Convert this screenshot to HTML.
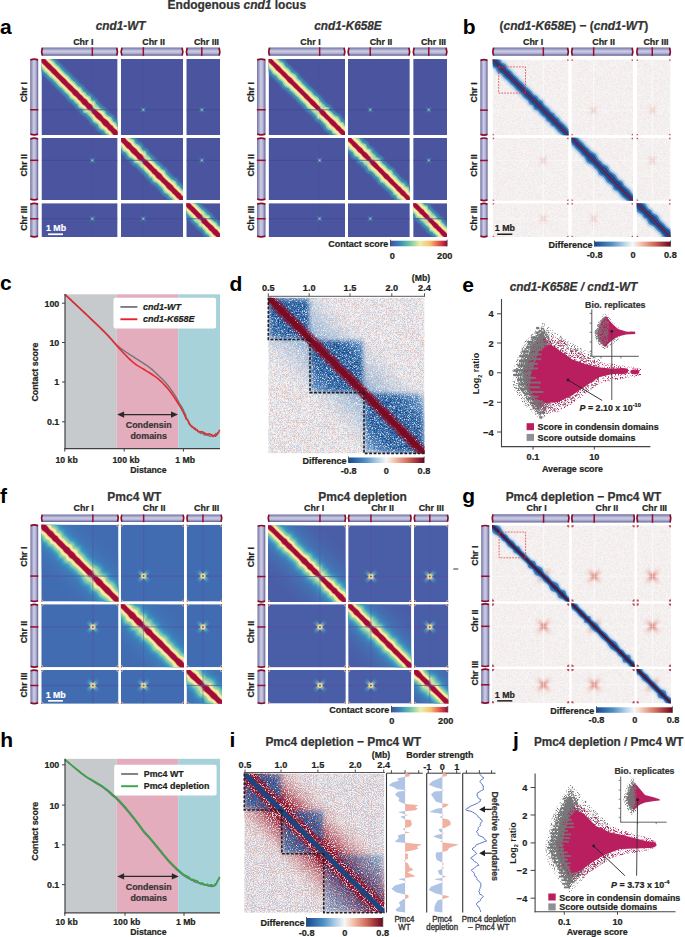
<!DOCTYPE html>
<html><head><meta charset="utf-8"><style>
html,body{margin:0;padding:0;background:#fff;width:685px;height:937px;overflow:hidden}
svg{display:block}
text{font-family:"Liberation Sans", sans-serif}
</style></head><body>
<svg width="685" height="937" viewBox="0 0 685 937">
<defs>
<linearGradient id="barH" x1="0" y1="0" x2="0" y2="1">
<stop offset="0" stop-color="#6e6e9c"/><stop offset="0.2" stop-color="#9c9cc4"/><stop offset="0.45" stop-color="#cdcde6"/><stop offset="0.7" stop-color="#b4b4d6"/><stop offset="1" stop-color="#5e5e90"/></linearGradient>
<linearGradient id="barV" x1="0" y1="0" x2="1" y2="0">
<stop offset="0" stop-color="#6e6e9c"/><stop offset="0.2" stop-color="#9c9cc4"/><stop offset="0.45" stop-color="#cdcde6"/><stop offset="0.7" stop-color="#b4b4d6"/><stop offset="1" stop-color="#5e5e90"/></linearGradient>
<linearGradient id="cbSpec" x1="0" y1="0" x2="1" y2="0">
<stop offset="0" stop-color="#4a4f9e"/><stop offset="0.15" stop-color="#3585bb"/><stop offset="0.33" stop-color="#6cc3a6"/><stop offset="0.52" stop-color="#eeeeaa"/><stop offset="0.7" stop-color="#f7c070"/><stop offset="0.85" stop-color="#e25a48"/><stop offset="1" stop-color="#a1063f"/></linearGradient>
<linearGradient id="cbDiff" x1="0" y1="0" x2="1" y2="0">
<stop offset="0" stop-color="#174a8f"/><stop offset="0.22" stop-color="#4f8fc4"/><stop offset="0.4" stop-color="#bcd6ea"/><stop offset="0.5" stop-color="#f7f7f7"/><stop offset="0.6" stop-color="#f4c8b4"/><stop offset="0.78" stop-color="#d46e5c"/><stop offset="1" stop-color="#6f0420"/></linearGradient>
<filter id="bl3" x="-20%" y="-20%" width="140%" height="140%"><feGaussianBlur stdDeviation="0.35"/></filter>
<filter id="bl6" x="-20%" y="-20%" width="140%" height="140%"><feGaussianBlur stdDeviation="0.6"/></filter>
<filter id="bl10" x="-20%" y="-20%" width="140%" height="140%"><feGaussianBlur stdDeviation="1.0"/></filter>
<filter id="bl16" x="-20%" y="-20%" width="140%" height="140%"><feGaussianBlur stdDeviation="1.6"/></filter>
<filter id="noiseR" x="0" y="0" width="1" height="1" color-interpolation-filters="sRGB"><feTurbulence type="fractalNoise" baseFrequency="1.5" numOctaves="3" seed="3" result="n"/><feColorMatrix in="n" type="matrix" values="0 0 0 0 0  0 0 0 0 0  0 0 0 0 0  4 0 0 0 -1.75" result="m"/><feComposite in="SourceGraphic" in2="m" operator="in"/></filter>
<filter id="noiseB" x="0" y="0" width="1" height="1" color-interpolation-filters="sRGB"><feTurbulence type="fractalNoise" baseFrequency="1.5" numOctaves="3" seed="8" result="n"/><feColorMatrix in="n" type="matrix" values="0 0 0 0 0  0 0 0 0 0  0 0 0 0 0  4 0 0 0 -1.6" result="m"/><feComposite in="SourceGraphic" in2="m" operator="in"/></filter>
<filter id="noiseE" x="0" y="0" width="1" height="1" color-interpolation-filters="sRGB"><feTurbulence type="fractalNoise" baseFrequency="1.5" numOctaves="3" seed="13" result="n"/><feColorMatrix in="n" type="matrix" values="0 0 0 0 0  0 0 0 0 0  0 0 0 0 0  3 0 0 0 -0.8" result="m"/><feComposite in="SourceGraphic" in2="m" operator="in"/></filter>
<clipPath id="c1"><rect x="41.50" y="59.00" width="76.10" height="76.00"/></clipPath>
<linearGradient id="g2" gradientUnits="userSpaceOnUse" x1="70.36" y1="106.19" x2="88.74" y2="87.81"><stop offset="0.0000" stop-color="#4b559f" stop-opacity="0"/><stop offset="0.1923" stop-color="#3f8cb8" stop-opacity="0.45"/><stop offset="0.5000" stop-color="#3f8cb8" stop-opacity="0.6"/><stop offset="0.8077" stop-color="#3f8cb8" stop-opacity="0.45"/><stop offset="1.0000" stop-color="#4b559f" stop-opacity="0"/></linearGradient>
<radialGradient id="r3"><stop offset="0" stop-color="#f0eca0" stop-opacity="0.9"/><stop offset="0.5" stop-color="#9ad4a0" stop-opacity="0.55"/><stop offset="1" stop-color="#3a9cc4" stop-opacity="0"/></radialGradient>
<clipPath id="c4"><rect x="121.00" y="59.00" width="62.00" height="76.00"/></clipPath>
<radialGradient id="r5"><stop offset="0" stop-color="#c8e8a0" stop-opacity="0.9"/><stop offset="0.35" stop-color="#48a8b4" stop-opacity="0.55"/><stop offset="1" stop-color="#4a70b0" stop-opacity="0"/></radialGradient>
<clipPath id="c6"><rect x="186.30" y="59.00" width="33.70" height="76.00"/></clipPath>
<radialGradient id="r7"><stop offset="0" stop-color="#c8e8a0" stop-opacity="0.9"/><stop offset="0.35" stop-color="#48a8b4" stop-opacity="0.55"/><stop offset="1" stop-color="#4a70b0" stop-opacity="0"/></radialGradient>
<clipPath id="c8"><rect x="41.50" y="138.00" width="76.10" height="62.00"/></clipPath>
<radialGradient id="r9"><stop offset="0" stop-color="#c8e8a0" stop-opacity="0.9"/><stop offset="0.35" stop-color="#48a8b4" stop-opacity="0.55"/><stop offset="1" stop-color="#4a70b0" stop-opacity="0"/></radialGradient>
<clipPath id="c10"><rect x="121.00" y="138.00" width="62.00" height="62.00"/></clipPath>
<linearGradient id="g11" gradientUnits="userSpaceOnUse" x1="142.81" y1="178.19" x2="161.19" y2="159.81"><stop offset="0.0000" stop-color="#4b559f" stop-opacity="0"/><stop offset="0.1923" stop-color="#3f8cb8" stop-opacity="0.45"/><stop offset="0.5000" stop-color="#3f8cb8" stop-opacity="0.6"/><stop offset="0.8077" stop-color="#3f8cb8" stop-opacity="0.45"/><stop offset="1.0000" stop-color="#4b559f" stop-opacity="0"/></linearGradient>
<radialGradient id="r12"><stop offset="0" stop-color="#f0eca0" stop-opacity="0.9"/><stop offset="0.5" stop-color="#9ad4a0" stop-opacity="0.55"/><stop offset="1" stop-color="#3a9cc4" stop-opacity="0"/></radialGradient>
<clipPath id="c13"><rect x="186.30" y="138.00" width="33.70" height="62.00"/></clipPath>
<radialGradient id="r14"><stop offset="0" stop-color="#c8e8a0" stop-opacity="0.9"/><stop offset="0.35" stop-color="#48a8b4" stop-opacity="0.55"/><stop offset="1" stop-color="#4a70b0" stop-opacity="0"/></radialGradient>
<clipPath id="c15"><rect x="41.50" y="203.20" width="76.10" height="33.80"/></clipPath>
<radialGradient id="r16"><stop offset="0" stop-color="#c8e8a0" stop-opacity="0.9"/><stop offset="0.35" stop-color="#48a8b4" stop-opacity="0.55"/><stop offset="1" stop-color="#4a70b0" stop-opacity="0"/></radialGradient>
<clipPath id="c17"><rect x="121.00" y="203.20" width="62.00" height="33.80"/></clipPath>
<radialGradient id="r18"><stop offset="0" stop-color="#c8e8a0" stop-opacity="0.9"/><stop offset="0.35" stop-color="#48a8b4" stop-opacity="0.55"/><stop offset="1" stop-color="#4a70b0" stop-opacity="0"/></radialGradient>
<clipPath id="c19"><rect x="186.30" y="203.20" width="33.70" height="33.80"/></clipPath>
<linearGradient id="g20" gradientUnits="userSpaceOnUse" x1="193.96" y1="229.29" x2="212.34" y2="210.91"><stop offset="0.0000" stop-color="#4b559f" stop-opacity="0"/><stop offset="0.1923" stop-color="#3f8cb8" stop-opacity="0.45"/><stop offset="0.5000" stop-color="#3f8cb8" stop-opacity="0.6"/><stop offset="0.8077" stop-color="#3f8cb8" stop-opacity="0.45"/><stop offset="1.0000" stop-color="#4b559f" stop-opacity="0"/></linearGradient>
<radialGradient id="r21"><stop offset="0" stop-color="#f0eca0" stop-opacity="0.9"/><stop offset="0.5" stop-color="#9ad4a0" stop-opacity="0.55"/><stop offset="1" stop-color="#3a9cc4" stop-opacity="0"/></radialGradient>
<clipPath id="c22"><rect x="268.60" y="59.00" width="76.40" height="76.00"/></clipPath>
<linearGradient id="g23" gradientUnits="userSpaceOnUse" x1="297.61" y1="106.19" x2="315.99" y2="87.81"><stop offset="0.0000" stop-color="#4b559f" stop-opacity="0"/><stop offset="0.1923" stop-color="#3f8cb8" stop-opacity="0.45"/><stop offset="0.5000" stop-color="#3f8cb8" stop-opacity="0.6"/><stop offset="0.8077" stop-color="#3f8cb8" stop-opacity="0.45"/><stop offset="1.0000" stop-color="#4b559f" stop-opacity="0"/></linearGradient>
<radialGradient id="r24"><stop offset="0" stop-color="#f0eca0" stop-opacity="0.9"/><stop offset="0.5" stop-color="#9ad4a0" stop-opacity="0.55"/><stop offset="1" stop-color="#3a9cc4" stop-opacity="0"/></radialGradient>
<clipPath id="c25"><rect x="348.00" y="59.00" width="61.80" height="76.00"/></clipPath>
<radialGradient id="r26"><stop offset="0" stop-color="#c8e8a0" stop-opacity="0.9"/><stop offset="0.35" stop-color="#48a8b4" stop-opacity="0.55"/><stop offset="1" stop-color="#4a70b0" stop-opacity="0"/></radialGradient>
<clipPath id="c27"><rect x="413.20" y="59.00" width="33.80" height="76.00"/></clipPath>
<radialGradient id="r28"><stop offset="0" stop-color="#c8e8a0" stop-opacity="0.9"/><stop offset="0.35" stop-color="#48a8b4" stop-opacity="0.55"/><stop offset="1" stop-color="#4a70b0" stop-opacity="0"/></radialGradient>
<clipPath id="c29"><rect x="268.60" y="138.00" width="76.40" height="62.00"/></clipPath>
<radialGradient id="r30"><stop offset="0" stop-color="#c8e8a0" stop-opacity="0.9"/><stop offset="0.35" stop-color="#48a8b4" stop-opacity="0.55"/><stop offset="1" stop-color="#4a70b0" stop-opacity="0"/></radialGradient>
<clipPath id="c31"><rect x="348.00" y="138.00" width="61.80" height="62.00"/></clipPath>
<linearGradient id="g32" gradientUnits="userSpaceOnUse" x1="369.71" y1="178.19" x2="388.09" y2="159.81"><stop offset="0.0000" stop-color="#4b559f" stop-opacity="0"/><stop offset="0.1923" stop-color="#3f8cb8" stop-opacity="0.45"/><stop offset="0.5000" stop-color="#3f8cb8" stop-opacity="0.6"/><stop offset="0.8077" stop-color="#3f8cb8" stop-opacity="0.45"/><stop offset="1.0000" stop-color="#4b559f" stop-opacity="0"/></linearGradient>
<radialGradient id="r33"><stop offset="0" stop-color="#f0eca0" stop-opacity="0.9"/><stop offset="0.5" stop-color="#9ad4a0" stop-opacity="0.55"/><stop offset="1" stop-color="#3a9cc4" stop-opacity="0"/></radialGradient>
<clipPath id="c34"><rect x="413.20" y="138.00" width="33.80" height="62.00"/></clipPath>
<radialGradient id="r35"><stop offset="0" stop-color="#c8e8a0" stop-opacity="0.9"/><stop offset="0.35" stop-color="#48a8b4" stop-opacity="0.55"/><stop offset="1" stop-color="#4a70b0" stop-opacity="0"/></radialGradient>
<clipPath id="c36"><rect x="268.60" y="203.20" width="76.40" height="33.80"/></clipPath>
<radialGradient id="r37"><stop offset="0" stop-color="#c8e8a0" stop-opacity="0.9"/><stop offset="0.35" stop-color="#48a8b4" stop-opacity="0.55"/><stop offset="1" stop-color="#4a70b0" stop-opacity="0"/></radialGradient>
<clipPath id="c38"><rect x="348.00" y="203.20" width="61.80" height="33.80"/></clipPath>
<radialGradient id="r39"><stop offset="0" stop-color="#c8e8a0" stop-opacity="0.9"/><stop offset="0.35" stop-color="#48a8b4" stop-opacity="0.55"/><stop offset="1" stop-color="#4a70b0" stop-opacity="0"/></radialGradient>
<clipPath id="c40"><rect x="413.20" y="203.20" width="33.80" height="33.80"/></clipPath>
<linearGradient id="g41" gradientUnits="userSpaceOnUse" x1="420.91" y1="229.29" x2="439.29" y2="210.91"><stop offset="0.0000" stop-color="#4b559f" stop-opacity="0"/><stop offset="0.1923" stop-color="#3f8cb8" stop-opacity="0.45"/><stop offset="0.5000" stop-color="#3f8cb8" stop-opacity="0.6"/><stop offset="0.8077" stop-color="#3f8cb8" stop-opacity="0.45"/><stop offset="1.0000" stop-color="#4b559f" stop-opacity="0"/></linearGradient>
<radialGradient id="r42"><stop offset="0" stop-color="#f0eca0" stop-opacity="0.9"/><stop offset="0.5" stop-color="#9ad4a0" stop-opacity="0.55"/><stop offset="1" stop-color="#3a9cc4" stop-opacity="0"/></radialGradient>
<clipPath id="c43"><rect x="492.70" y="59.50" width="75.80" height="75.80"/></clipPath>
<radialGradient id="r44"><stop offset="0" stop-color="#b83030" stop-opacity="0.4"/><stop offset="0.25" stop-color="#d85a48" stop-opacity="0.27999999999999997"/><stop offset="0.6" stop-color="#e89080" stop-opacity="0.12"/><stop offset="1" stop-color="#f0b0a0" stop-opacity="0"/></radialGradient>
<clipPath id="c45"><rect x="571.50" y="59.50" width="61.50" height="75.80"/></clipPath>
<radialGradient id="r46"><stop offset="0" stop-color="#b83030" stop-opacity="0.4"/><stop offset="0.25" stop-color="#d85a48" stop-opacity="0.27999999999999997"/><stop offset="0.6" stop-color="#e89080" stop-opacity="0.12"/><stop offset="1" stop-color="#f0b0a0" stop-opacity="0"/></radialGradient>
<clipPath id="c47"><rect x="636.70" y="59.50" width="33.80" height="75.80"/></clipPath>
<radialGradient id="r48"><stop offset="0" stop-color="#b83030" stop-opacity="0.4"/><stop offset="0.25" stop-color="#d85a48" stop-opacity="0.27999999999999997"/><stop offset="0.6" stop-color="#e89080" stop-opacity="0.12"/><stop offset="1" stop-color="#f0b0a0" stop-opacity="0"/></radialGradient>
<clipPath id="c49"><rect x="492.70" y="137.80" width="75.80" height="63.00"/></clipPath>
<radialGradient id="r50"><stop offset="0" stop-color="#b83030" stop-opacity="0.4"/><stop offset="0.25" stop-color="#d85a48" stop-opacity="0.27999999999999997"/><stop offset="0.6" stop-color="#e89080" stop-opacity="0.12"/><stop offset="1" stop-color="#f0b0a0" stop-opacity="0"/></radialGradient>
<clipPath id="c51"><rect x="571.50" y="137.80" width="61.50" height="63.00"/></clipPath>
<radialGradient id="r52"><stop offset="0" stop-color="#b83030" stop-opacity="0.4"/><stop offset="0.25" stop-color="#d85a48" stop-opacity="0.27999999999999997"/><stop offset="0.6" stop-color="#e89080" stop-opacity="0.12"/><stop offset="1" stop-color="#f0b0a0" stop-opacity="0"/></radialGradient>
<clipPath id="c53"><rect x="636.70" y="137.80" width="33.80" height="63.00"/></clipPath>
<radialGradient id="r54"><stop offset="0" stop-color="#b83030" stop-opacity="0.4"/><stop offset="0.25" stop-color="#d85a48" stop-opacity="0.27999999999999997"/><stop offset="0.6" stop-color="#e89080" stop-opacity="0.12"/><stop offset="1" stop-color="#f0b0a0" stop-opacity="0"/></radialGradient>
<clipPath id="c55"><rect x="492.70" y="203.20" width="75.80" height="33.80"/></clipPath>
<radialGradient id="r56"><stop offset="0" stop-color="#b83030" stop-opacity="0.4"/><stop offset="0.25" stop-color="#d85a48" stop-opacity="0.27999999999999997"/><stop offset="0.6" stop-color="#e89080" stop-opacity="0.12"/><stop offset="1" stop-color="#f0b0a0" stop-opacity="0"/></radialGradient>
<clipPath id="c57"><rect x="571.50" y="203.20" width="61.50" height="33.80"/></clipPath>
<radialGradient id="r58"><stop offset="0" stop-color="#b83030" stop-opacity="0.4"/><stop offset="0.25" stop-color="#d85a48" stop-opacity="0.27999999999999997"/><stop offset="0.6" stop-color="#e89080" stop-opacity="0.12"/><stop offset="1" stop-color="#f0b0a0" stop-opacity="0"/></radialGradient>
<clipPath id="c59"><rect x="636.70" y="203.20" width="33.80" height="33.80"/></clipPath>
<radialGradient id="r60"><stop offset="0" stop-color="#b83030" stop-opacity="0.4"/><stop offset="0.25" stop-color="#d85a48" stop-opacity="0.27999999999999997"/><stop offset="0.6" stop-color="#e89080" stop-opacity="0.12"/><stop offset="1" stop-color="#f0b0a0" stop-opacity="0"/></radialGradient>
<filter id="spkB" x="0" y="0" width="1" height="1" color-interpolation-filters="sRGB"><feTurbulence type="fractalNoise" baseFrequency="1.5" numOctaves="3" seed="11" result="n"/><feColorMatrix in="n" type="matrix" values="0 0 0 0 0  0 0 0 0 0  0 0 0 0 0  4 0 0 0 -1.75" result="m"/><feComposite in="SourceGraphic" in2="m" operator="in"/></filter>
<filter id="spkR" x="0" y="0" width="1" height="1" color-interpolation-filters="sRGB"><feTurbulence type="fractalNoise" baseFrequency="1.5" numOctaves="3" seed="23" result="n"/><feColorMatrix in="n" type="matrix" values="0 0 0 0 0  0 0 0 0 0  0 0 0 0 0  4 0 0 0 -1.85" result="m"/><feComposite in="SourceGraphic" in2="m" operator="in"/></filter>
<filter id="spkB2" x="0" y="0" width="1" height="1" color-interpolation-filters="sRGB"><feTurbulence type="fractalNoise" baseFrequency="1.5" numOctaves="3" seed="5" result="n"/><feColorMatrix in="n" type="matrix" values="0 0 0 0 0  0 0 0 0 0  0 0 0 0 0  4 0 0 0 -1.2" result="m"/><feComposite in="SourceGraphic" in2="m" operator="in"/></filter>
<filter id="spkB3" x="0" y="0" width="1" height="1" color-interpolation-filters="sRGB"><feTurbulence type="fractalNoise" baseFrequency="1.5" numOctaves="3" seed="7" result="n"/><feColorMatrix in="n" type="matrix" values="0 0 0 0 0  0 0 0 0 0  0 0 0 0 0  6 0 0 0 -2.3" result="m"/><feComposite in="SourceGraphic" in2="m" operator="in"/></filter>
<filter id="spkR3" x="0" y="0" width="1" height="1" color-interpolation-filters="sRGB"><feTurbulence type="fractalNoise" baseFrequency="1.5" numOctaves="3" seed="37" result="n"/><feColorMatrix in="n" type="matrix" values="0 0 0 0 0  0 0 0 0 0  0 0 0 0 0  5 0 0 0 -1.6" result="m"/><feComposite in="SourceGraphic" in2="m" operator="in"/></filter>
<filter id="spkB4" x="0" y="0" width="1" height="1" color-interpolation-filters="sRGB"><feTurbulence type="fractalNoise" baseFrequency="0.95" numOctaves="3" seed="51" result="n"/><feColorMatrix in="n" type="matrix" values="0 0 0 0 0  0 0 0 0 0  0 0 0 0 0  6 0 0 0 -2.3" result="m"/><feComposite in="SourceGraphic" in2="m" operator="in"/></filter>
<filter id="spkB5" x="0" y="0" width="1" height="1" color-interpolation-filters="sRGB"><feTurbulence type="fractalNoise" baseFrequency="0.95" numOctaves="3" seed="53" result="n"/><feColorMatrix in="n" type="matrix" values="0 0 0 0 0  0 0 0 0 0  0 0 0 0 0  4 0 0 0 -1.75" result="m"/><feComposite in="SourceGraphic" in2="m" operator="in"/></filter>
<filter id="spkR4" x="0" y="0" width="1" height="1" color-interpolation-filters="sRGB"><feTurbulence type="fractalNoise" baseFrequency="0.95" numOctaves="3" seed="57" result="n"/><feColorMatrix in="n" type="matrix" values="0 0 0 0 0  0 0 0 0 0  0 0 0 0 0  5 0 0 0 -1.6" result="m"/><feComposite in="SourceGraphic" in2="m" operator="in"/></filter>
<filter id="spkR5" x="0" y="0" width="1" height="1" color-interpolation-filters="sRGB"><feTurbulence type="fractalNoise" baseFrequency="0.95" numOctaves="3" seed="59" result="n"/><feColorMatrix in="n" type="matrix" values="0 0 0 0 0  0 0 0 0 0  0 0 0 0 0  4 0 0 0 -1.85" result="m"/><feComposite in="SourceGraphic" in2="m" operator="in"/></filter>
<filter id="spkB6" x="0" y="0" width="1" height="1" color-interpolation-filters="sRGB"><feTurbulence type="fractalNoise" baseFrequency="0.95" numOctaves="3" seed="61" result="n"/><feColorMatrix in="n" type="matrix" values="0 0 0 0 0  0 0 0 0 0  0 0 0 0 0  4 0 0 0 -1.75" result="m"/><feComposite in="SourceGraphic" in2="m" operator="in"/></filter>
<filter id="spkR2" x="0" y="0" width="1" height="1" color-interpolation-filters="sRGB"><feTurbulence type="fractalNoise" baseFrequency="1.5" numOctaves="3" seed="41" result="n"/><feColorMatrix in="n" type="matrix" values="0 0 0 0 0  0 0 0 0 0  0 0 0 0 0  4 0 0 0 -1.2" result="m"/><feComposite in="SourceGraphic" in2="m" operator="in"/></filter>
<filter id="spkM" x="0" y="0" width="1" height="1" color-interpolation-filters="sRGB"><feTurbulence type="fractalNoise" baseFrequency="1.3" numOctaves="3" seed="17" result="n"/><feColorMatrix in="n" type="matrix" values="0 0 0 0 0  0 0 0 0 0  0 0 0 0 0  5 0 0 0 -1.8" result="m"/><feComposite in="SourceGraphic" in2="m" operator="in"/></filter>
<filter id="spkG" x="0" y="0" width="1" height="1" color-interpolation-filters="sRGB"><feTurbulence type="fractalNoise" baseFrequency="1.3" numOctaves="3" seed="29" result="n"/><feColorMatrix in="n" type="matrix" values="0 0 0 0 0  0 0 0 0 0  0 0 0 0 0  5 0 0 0 -1.8" result="m"/><feComposite in="SourceGraphic" in2="m" operator="in"/></filter>
<filter id="spkMs" x="0" y="0" width="1" height="1" color-interpolation-filters="sRGB"><feTurbulence type="fractalNoise" baseFrequency="1.3" numOctaves="3" seed="19" result="n"/><feColorMatrix in="n" type="matrix" values="0 0 0 0 0  0 0 0 0 0  0 0 0 0 0  5 0 0 0 -2.5" result="m"/><feComposite in="SourceGraphic" in2="m" operator="in"/></filter>
<filter id="spkGs" x="0" y="0" width="1" height="1" color-interpolation-filters="sRGB"><feTurbulence type="fractalNoise" baseFrequency="1.3" numOctaves="3" seed="31" result="n"/><feColorMatrix in="n" type="matrix" values="0 0 0 0 0  0 0 0 0 0  0 0 0 0 0  5 0 0 0 -2.5" result="m"/><feComposite in="SourceGraphic" in2="m" operator="in"/></filter>
<clipPath id="c61"><rect x="268.3" y="297.7" width="156.20" height="155.70"/></clipPath>
<linearGradient id="g62" gradientUnits="userSpaceOnUse" x1="316.70" y1="405.25" x2="376.10" y2="345.85"><stop offset="0.0000" stop-color="#a0c0e0" stop-opacity="0"/><stop offset="0.2619" stop-color="#7aa8d4" stop-opacity="0.45"/><stop offset="0.5000" stop-color="#5a94cc" stop-opacity="0.8"/><stop offset="0.7381" stop-color="#7aa8d4" stop-opacity="0.45"/><stop offset="1.0000" stop-color="#a0c0e0" stop-opacity="0"/></linearGradient>
<filter id="mf64" x="-20%" y="-20%" width="140%" height="140%"><feGaussianBlur stdDeviation="2.2"/></filter>
<mask id="m63" maskUnits="userSpaceOnUse" x="258.3" y="287.7" width="176.2" height="175.7"><g filter="url(#mf64)"><rect x="269.3" y="298.7" width="39.70" height="39.80" fill="#fff"/><rect x="311.0" y="340.5" width="52.00" height="51.10" fill="#fff"/><rect x="365.0" y="393.6" width="58.50" height="58.80" fill="#fff"/></g></mask>
<linearGradient id="g65" gradientUnits="userSpaceOnUse" x1="314.58" y1="407.37" x2="378.22" y2="343.73"><stop offset="0.0000" stop-color="#c8dcee" stop-opacity="0.2"/><stop offset="0.2222" stop-color="#b8d0e8" stop-opacity="0.5"/><stop offset="0.5000" stop-color="#b0cce6" stop-opacity="0.7"/><stop offset="0.7778" stop-color="#b8d0e8" stop-opacity="0.5"/><stop offset="1.0000" stop-color="#c8dcee" stop-opacity="0.2"/></linearGradient>
<linearGradient id="g66" gradientUnits="userSpaceOnUse" x1="314.58" y1="407.37" x2="378.22" y2="343.73"><stop offset="0.0000" stop-color="#5a90c8" stop-opacity="0.45"/><stop offset="0.1444" stop-color="#3a78b8" stop-opacity="0.8"/><stop offset="0.2778" stop-color="#2f6aac" stop-opacity="1"/><stop offset="0.5000" stop-color="#2a64a8" stop-opacity="1"/><stop offset="0.7222" stop-color="#2f6aac" stop-opacity="1"/><stop offset="0.8556" stop-color="#3a78b8" stop-opacity="0.8"/><stop offset="1.0000" stop-color="#5a90c8" stop-opacity="0.45"/></linearGradient>
<linearGradient id="g67" gradientUnits="userSpaceOnUse" x1="316.70" y1="405.25" x2="376.10" y2="345.85"><stop offset="0.0000" stop-color="#2a64a6" stop-opacity="0.1"/><stop offset="0.1429" stop-color="#1d5599" stop-opacity="0.5"/><stop offset="0.2857" stop-color="#134280" stop-opacity="0.85"/><stop offset="0.5000" stop-color="#0f3876" stop-opacity="1"/><stop offset="0.7143" stop-color="#134280" stop-opacity="0.85"/><stop offset="0.8571" stop-color="#1d5599" stop-opacity="0.5"/><stop offset="1.0000" stop-color="#2a64a6" stop-opacity="0.1"/></linearGradient>
<linearGradient id="g68" gradientUnits="userSpaceOnUse" x1="341.80" y1="380.15" x2="351.00" y2="370.95"><stop offset="0.0000" stop-color="#b03040" stop-opacity="0"/><stop offset="0.1538" stop-color="#8a1028" stop-opacity="0.9"/><stop offset="0.5000" stop-color="#8a1028" stop-opacity="1"/><stop offset="0.8462" stop-color="#8a1028" stop-opacity="0.9"/><stop offset="1.0000" stop-color="#b03040" stop-opacity="0"/></linearGradient>
<clipPath id="c69"><rect x="41.30" y="524.70" width="77.20" height="76.90"/></clipPath>
<linearGradient id="g70" gradientUnits="userSpaceOnUse" x1="54.44" y1="588.61" x2="105.36" y2="537.69"><stop offset="0.0000" stop-color="#4468ad" stop-opacity="0"/><stop offset="0.2500" stop-color="#3f80bc" stop-opacity="0.45"/><stop offset="0.4028" stop-color="#3a9cc4" stop-opacity="0.75"/><stop offset="0.5000" stop-color="#3a9cc4" stop-opacity="0.85"/><stop offset="0.5972" stop-color="#3a9cc4" stop-opacity="0.75"/><stop offset="0.7500" stop-color="#3f80bc" stop-opacity="0.45"/><stop offset="1.0000" stop-color="#4468ad" stop-opacity="0"/></linearGradient>
<radialGradient id="r71"><stop offset="0" stop-color="#f0eca0" stop-opacity="0.9"/><stop offset="0.5" stop-color="#9ad4a0" stop-opacity="0.55"/><stop offset="1" stop-color="#3a9cc4" stop-opacity="0"/></radialGradient>
<clipPath id="c72"><rect x="120.90" y="524.70" width="63.10" height="76.90"/></clipPath>
<radialGradient id="r73"><stop offset="0" stop-color="#fff8b0" stop-opacity="1"/><stop offset="0.22" stop-color="#f0f0a0" stop-opacity="0.85"/><stop offset="0.5" stop-color="#70c4b0" stop-opacity="0.5"/><stop offset="0.8" stop-color="#4a9cc4" stop-opacity="0.25"/><stop offset="1" stop-color="#3a8cc0" stop-opacity="0"/></radialGradient>
<clipPath id="c74"><rect x="186.70" y="524.70" width="35.30" height="76.90"/></clipPath>
<radialGradient id="r75"><stop offset="0" stop-color="#fff8b0" stop-opacity="1"/><stop offset="0.22" stop-color="#f0f0a0" stop-opacity="0.85"/><stop offset="0.5" stop-color="#70c4b0" stop-opacity="0.5"/><stop offset="0.8" stop-color="#4a9cc4" stop-opacity="0.25"/><stop offset="1" stop-color="#3a8cc0" stop-opacity="0"/></radialGradient>
<clipPath id="c76"><rect x="41.30" y="604.20" width="77.20" height="63.10"/></clipPath>
<radialGradient id="r77"><stop offset="0" stop-color="#fff8b0" stop-opacity="1"/><stop offset="0.22" stop-color="#f0f0a0" stop-opacity="0.85"/><stop offset="0.5" stop-color="#70c4b0" stop-opacity="0.5"/><stop offset="0.8" stop-color="#4a9cc4" stop-opacity="0.25"/><stop offset="1" stop-color="#3a8cc0" stop-opacity="0"/></radialGradient>
<clipPath id="c78"><rect x="120.90" y="604.20" width="63.10" height="63.10"/></clipPath>
<linearGradient id="g79" gradientUnits="userSpaceOnUse" x1="126.99" y1="661.21" x2="177.91" y2="610.29"><stop offset="0.0000" stop-color="#4468ad" stop-opacity="0"/><stop offset="0.2500" stop-color="#3f80bc" stop-opacity="0.45"/><stop offset="0.4028" stop-color="#3a9cc4" stop-opacity="0.75"/><stop offset="0.5000" stop-color="#3a9cc4" stop-opacity="0.85"/><stop offset="0.5972" stop-color="#3a9cc4" stop-opacity="0.75"/><stop offset="0.7500" stop-color="#3f80bc" stop-opacity="0.45"/><stop offset="1.0000" stop-color="#4468ad" stop-opacity="0"/></linearGradient>
<radialGradient id="r80"><stop offset="0" stop-color="#f0eca0" stop-opacity="0.9"/><stop offset="0.5" stop-color="#9ad4a0" stop-opacity="0.55"/><stop offset="1" stop-color="#3a9cc4" stop-opacity="0"/></radialGradient>
<clipPath id="c81"><rect x="186.70" y="604.20" width="35.30" height="63.10"/></clipPath>
<radialGradient id="r82"><stop offset="0" stop-color="#fff8b0" stop-opacity="1"/><stop offset="0.22" stop-color="#f0f0a0" stop-opacity="0.85"/><stop offset="0.5" stop-color="#70c4b0" stop-opacity="0.5"/><stop offset="0.8" stop-color="#4a9cc4" stop-opacity="0.25"/><stop offset="1" stop-color="#3a8cc0" stop-opacity="0"/></radialGradient>
<clipPath id="c83"><rect x="41.30" y="669.90" width="77.20" height="33.90"/></clipPath>
<radialGradient id="r84"><stop offset="0" stop-color="#fff8b0" stop-opacity="1"/><stop offset="0.22" stop-color="#f0f0a0" stop-opacity="0.85"/><stop offset="0.5" stop-color="#70c4b0" stop-opacity="0.5"/><stop offset="0.8" stop-color="#4a9cc4" stop-opacity="0.25"/><stop offset="1" stop-color="#3a8cc0" stop-opacity="0"/></radialGradient>
<clipPath id="c85"><rect x="120.90" y="669.90" width="63.10" height="33.90"/></clipPath>
<radialGradient id="r86"><stop offset="0" stop-color="#fff8b0" stop-opacity="1"/><stop offset="0.22" stop-color="#f0f0a0" stop-opacity="0.85"/><stop offset="0.5" stop-color="#70c4b0" stop-opacity="0.5"/><stop offset="0.8" stop-color="#4a9cc4" stop-opacity="0.25"/><stop offset="1" stop-color="#3a8cc0" stop-opacity="0"/></radialGradient>
<clipPath id="c87"><rect x="186.70" y="669.90" width="35.30" height="33.90"/></clipPath>
<linearGradient id="g88" gradientUnits="userSpaceOnUse" x1="178.89" y1="712.31" x2="229.81" y2="661.39"><stop offset="0.0000" stop-color="#4468ad" stop-opacity="0"/><stop offset="0.2500" stop-color="#3f80bc" stop-opacity="0.45"/><stop offset="0.4028" stop-color="#3a9cc4" stop-opacity="0.75"/><stop offset="0.5000" stop-color="#3a9cc4" stop-opacity="0.85"/><stop offset="0.5972" stop-color="#3a9cc4" stop-opacity="0.75"/><stop offset="0.7500" stop-color="#3f80bc" stop-opacity="0.45"/><stop offset="1.0000" stop-color="#4468ad" stop-opacity="0"/></linearGradient>
<radialGradient id="r89"><stop offset="0" stop-color="#f0eca0" stop-opacity="0.9"/><stop offset="0.5" stop-color="#9ad4a0" stop-opacity="0.55"/><stop offset="1" stop-color="#3a9cc4" stop-opacity="0"/></radialGradient>
<clipPath id="c90"><rect x="268.00" y="525.30" width="77.80" height="76.70"/></clipPath>
<linearGradient id="g91" gradientUnits="userSpaceOnUse" x1="281.44" y1="589.11" x2="332.36" y2="538.19"><stop offset="0.0000" stop-color="#4468ad" stop-opacity="0"/><stop offset="0.2500" stop-color="#3f80bc" stop-opacity="0.45"/><stop offset="0.4028" stop-color="#3a9cc4" stop-opacity="0.75"/><stop offset="0.5000" stop-color="#3a9cc4" stop-opacity="0.85"/><stop offset="0.5972" stop-color="#3a9cc4" stop-opacity="0.75"/><stop offset="0.7500" stop-color="#3f80bc" stop-opacity="0.45"/><stop offset="1.0000" stop-color="#4468ad" stop-opacity="0"/></linearGradient>
<radialGradient id="r92"><stop offset="0" stop-color="#f0eca0" stop-opacity="0.9"/><stop offset="0.5" stop-color="#9ad4a0" stop-opacity="0.55"/><stop offset="1" stop-color="#3a9cc4" stop-opacity="0"/></radialGradient>
<clipPath id="c93"><rect x="348.20" y="525.30" width="63.10" height="76.70"/></clipPath>
<radialGradient id="r94"><stop offset="0" stop-color="#fff8b0" stop-opacity="1"/><stop offset="0.22" stop-color="#f0f0a0" stop-opacity="0.85"/><stop offset="0.5" stop-color="#70c4b0" stop-opacity="0.5"/><stop offset="0.8" stop-color="#4a9cc4" stop-opacity="0.25"/><stop offset="1" stop-color="#3a8cc0" stop-opacity="0"/></radialGradient>
<clipPath id="c95"><rect x="414.00" y="525.30" width="34.30" height="76.70"/></clipPath>
<radialGradient id="r96"><stop offset="0" stop-color="#fff8b0" stop-opacity="1"/><stop offset="0.22" stop-color="#f0f0a0" stop-opacity="0.85"/><stop offset="0.5" stop-color="#70c4b0" stop-opacity="0.5"/><stop offset="0.8" stop-color="#4a9cc4" stop-opacity="0.25"/><stop offset="1" stop-color="#3a8cc0" stop-opacity="0"/></radialGradient>
<clipPath id="c97"><rect x="268.00" y="604.20" width="77.80" height="63.20"/></clipPath>
<radialGradient id="r98"><stop offset="0" stop-color="#fff8b0" stop-opacity="1"/><stop offset="0.22" stop-color="#f0f0a0" stop-opacity="0.85"/><stop offset="0.5" stop-color="#70c4b0" stop-opacity="0.5"/><stop offset="0.8" stop-color="#4a9cc4" stop-opacity="0.25"/><stop offset="1" stop-color="#3a8cc0" stop-opacity="0"/></radialGradient>
<clipPath id="c99"><rect x="348.20" y="604.20" width="63.10" height="63.20"/></clipPath>
<linearGradient id="g100" gradientUnits="userSpaceOnUse" x1="354.29" y1="661.26" x2="405.21" y2="610.34"><stop offset="0.0000" stop-color="#4468ad" stop-opacity="0"/><stop offset="0.2500" stop-color="#3f80bc" stop-opacity="0.45"/><stop offset="0.4028" stop-color="#3a9cc4" stop-opacity="0.75"/><stop offset="0.5000" stop-color="#3a9cc4" stop-opacity="0.85"/><stop offset="0.5972" stop-color="#3a9cc4" stop-opacity="0.75"/><stop offset="0.7500" stop-color="#3f80bc" stop-opacity="0.45"/><stop offset="1.0000" stop-color="#4468ad" stop-opacity="0"/></linearGradient>
<radialGradient id="r101"><stop offset="0" stop-color="#f0eca0" stop-opacity="0.9"/><stop offset="0.5" stop-color="#9ad4a0" stop-opacity="0.55"/><stop offset="1" stop-color="#3a9cc4" stop-opacity="0"/></radialGradient>
<clipPath id="c102"><rect x="414.00" y="604.20" width="34.30" height="63.20"/></clipPath>
<radialGradient id="r103"><stop offset="0" stop-color="#fff8b0" stop-opacity="1"/><stop offset="0.22" stop-color="#f0f0a0" stop-opacity="0.85"/><stop offset="0.5" stop-color="#70c4b0" stop-opacity="0.5"/><stop offset="0.8" stop-color="#4a9cc4" stop-opacity="0.25"/><stop offset="1" stop-color="#3a8cc0" stop-opacity="0"/></radialGradient>
<clipPath id="c104"><rect x="268.00" y="670.00" width="77.80" height="33.60"/></clipPath>
<radialGradient id="r105"><stop offset="0" stop-color="#fff8b0" stop-opacity="1"/><stop offset="0.22" stop-color="#f0f0a0" stop-opacity="0.85"/><stop offset="0.5" stop-color="#70c4b0" stop-opacity="0.5"/><stop offset="0.8" stop-color="#4a9cc4" stop-opacity="0.25"/><stop offset="1" stop-color="#3a8cc0" stop-opacity="0"/></radialGradient>
<clipPath id="c106"><rect x="348.20" y="670.00" width="63.10" height="33.60"/></clipPath>
<radialGradient id="r107"><stop offset="0" stop-color="#fff8b0" stop-opacity="1"/><stop offset="0.22" stop-color="#f0f0a0" stop-opacity="0.85"/><stop offset="0.5" stop-color="#70c4b0" stop-opacity="0.5"/><stop offset="0.8" stop-color="#4a9cc4" stop-opacity="0.25"/><stop offset="1" stop-color="#3a8cc0" stop-opacity="0"/></radialGradient>
<clipPath id="c108"><rect x="414.00" y="670.00" width="34.30" height="33.60"/></clipPath>
<linearGradient id="g109" gradientUnits="userSpaceOnUse" x1="405.69" y1="712.26" x2="456.61" y2="661.34"><stop offset="0.0000" stop-color="#4468ad" stop-opacity="0"/><stop offset="0.2500" stop-color="#3f80bc" stop-opacity="0.45"/><stop offset="0.4028" stop-color="#3a9cc4" stop-opacity="0.75"/><stop offset="0.5000" stop-color="#3a9cc4" stop-opacity="0.85"/><stop offset="0.5972" stop-color="#3a9cc4" stop-opacity="0.75"/><stop offset="0.7500" stop-color="#3f80bc" stop-opacity="0.45"/><stop offset="1.0000" stop-color="#4468ad" stop-opacity="0"/></linearGradient>
<radialGradient id="r110"><stop offset="0" stop-color="#f0eca0" stop-opacity="0.9"/><stop offset="0.5" stop-color="#9ad4a0" stop-opacity="0.55"/><stop offset="1" stop-color="#3a9cc4" stop-opacity="0"/></radialGradient>
<clipPath id="c111"><rect x="492.00" y="525.30" width="77.20" height="76.30"/></clipPath>
<radialGradient id="r112"><stop offset="0" stop-color="#b83030" stop-opacity="0.8"/><stop offset="0.25" stop-color="#d85a48" stop-opacity="0.5599999999999999"/><stop offset="0.6" stop-color="#e89080" stop-opacity="0.24"/><stop offset="1" stop-color="#f0b0a0" stop-opacity="0"/></radialGradient>
<clipPath id="c113"><rect x="571.50" y="525.30" width="63.10" height="76.30"/></clipPath>
<radialGradient id="r114"><stop offset="0" stop-color="#b83030" stop-opacity="0.8"/><stop offset="0.25" stop-color="#d85a48" stop-opacity="0.5599999999999999"/><stop offset="0.6" stop-color="#e89080" stop-opacity="0.24"/><stop offset="1" stop-color="#f0b0a0" stop-opacity="0"/></radialGradient>
<clipPath id="c115"><rect x="636.70" y="525.30" width="34.30" height="76.30"/></clipPath>
<radialGradient id="r116"><stop offset="0" stop-color="#b83030" stop-opacity="0.8"/><stop offset="0.25" stop-color="#d85a48" stop-opacity="0.5599999999999999"/><stop offset="0.6" stop-color="#e89080" stop-opacity="0.24"/><stop offset="1" stop-color="#f0b0a0" stop-opacity="0"/></radialGradient>
<clipPath id="c117"><rect x="492.00" y="603.60" width="77.20" height="63.10"/></clipPath>
<radialGradient id="r118"><stop offset="0" stop-color="#b83030" stop-opacity="0.8"/><stop offset="0.25" stop-color="#d85a48" stop-opacity="0.5599999999999999"/><stop offset="0.6" stop-color="#e89080" stop-opacity="0.24"/><stop offset="1" stop-color="#f0b0a0" stop-opacity="0"/></radialGradient>
<clipPath id="c119"><rect x="571.50" y="603.60" width="63.10" height="63.10"/></clipPath>
<radialGradient id="r120"><stop offset="0" stop-color="#b83030" stop-opacity="0.8"/><stop offset="0.25" stop-color="#d85a48" stop-opacity="0.5599999999999999"/><stop offset="0.6" stop-color="#e89080" stop-opacity="0.24"/><stop offset="1" stop-color="#f0b0a0" stop-opacity="0"/></radialGradient>
<clipPath id="c121"><rect x="636.70" y="603.60" width="34.30" height="63.10"/></clipPath>
<radialGradient id="r122"><stop offset="0" stop-color="#b83030" stop-opacity="0.8"/><stop offset="0.25" stop-color="#d85a48" stop-opacity="0.5599999999999999"/><stop offset="0.6" stop-color="#e89080" stop-opacity="0.24"/><stop offset="1" stop-color="#f0b0a0" stop-opacity="0"/></radialGradient>
<clipPath id="c123"><rect x="492.00" y="669.00" width="77.20" height="34.30"/></clipPath>
<radialGradient id="r124"><stop offset="0" stop-color="#b83030" stop-opacity="0.8"/><stop offset="0.25" stop-color="#d85a48" stop-opacity="0.5599999999999999"/><stop offset="0.6" stop-color="#e89080" stop-opacity="0.24"/><stop offset="1" stop-color="#f0b0a0" stop-opacity="0"/></radialGradient>
<clipPath id="c125"><rect x="571.50" y="669.00" width="63.10" height="34.30"/></clipPath>
<radialGradient id="r126"><stop offset="0" stop-color="#b83030" stop-opacity="0.8"/><stop offset="0.25" stop-color="#d85a48" stop-opacity="0.5599999999999999"/><stop offset="0.6" stop-color="#e89080" stop-opacity="0.24"/><stop offset="1" stop-color="#f0b0a0" stop-opacity="0"/></radialGradient>
<clipPath id="c127"><rect x="636.70" y="669.00" width="34.30" height="34.30"/></clipPath>
<radialGradient id="r128"><stop offset="0" stop-color="#b83030" stop-opacity="0.8"/><stop offset="0.25" stop-color="#d85a48" stop-opacity="0.5599999999999999"/><stop offset="0.6" stop-color="#e89080" stop-opacity="0.24"/><stop offset="1" stop-color="#f0b0a0" stop-opacity="0"/></radialGradient>
<clipPath id="c129"><rect x="244.3" y="773.6" width="140.10" height="139.10"/></clipPath>
<linearGradient id="g130" gradientUnits="userSpaceOnUse" x1="271.92" y1="885.58" x2="356.78" y2="800.72"><stop offset="0.0000" stop-color="#f0c0b0" stop-opacity="0"/><stop offset="0.2500" stop-color="#eaa090" stop-opacity="0.3"/><stop offset="0.5000" stop-color="#e89888" stop-opacity="0.5"/><stop offset="0.7500" stop-color="#eaa090" stop-opacity="0.3"/><stop offset="1.0000" stop-color="#f0c0b0" stop-opacity="0"/></linearGradient>
<linearGradient id="g131" gradientUnits="userSpaceOnUse" x1="286.07" y1="871.43" x2="342.63" y2="814.87"><stop offset="0.0000" stop-color="#e08070" stop-opacity="0"/><stop offset="0.1250" stop-color="#c04040" stop-opacity="0.15"/><stop offset="0.2500" stop-color="#a82030" stop-opacity="0.45"/><stop offset="0.3500" stop-color="#9a1830" stop-opacity="0.8"/><stop offset="0.4125" stop-color="#8e1028" stop-opacity="1"/><stop offset="0.5000" stop-color="#8a0f26" stop-opacity="1"/><stop offset="0.5875" stop-color="#8e1028" stop-opacity="1"/><stop offset="0.6500" stop-color="#9a1830" stop-opacity="0.8"/><stop offset="0.7500" stop-color="#a82030" stop-opacity="0.45"/><stop offset="0.8750" stop-color="#c04040" stop-opacity="0.15"/><stop offset="1.0000" stop-color="#e08070" stop-opacity="0"/></linearGradient>
<filter id="mf133" x="-20%" y="-20%" width="140%" height="140%"><feGaussianBlur stdDeviation="2.2"/></filter>
<mask id="m132" maskUnits="userSpaceOnUse" x="234.3" y="763.6" width="160.09999999999997" height="159.10000000000002"><g filter="url(#mf133)"><rect x="245.3" y="774.6" width="35.50" height="34.40" fill="#fff"/></g></mask>
<linearGradient id="g134" gradientUnits="userSpaceOnUse" x1="271.92" y1="885.58" x2="356.78" y2="800.72"><stop offset="0.0000" stop-color="#7aa8d4" stop-opacity="0.45"/><stop offset="0.1500" stop-color="#4a86c0" stop-opacity="0.85"/><stop offset="0.2667" stop-color="#3070b4" stop-opacity="1"/><stop offset="0.4250" stop-color="#2a68ae" stop-opacity="1"/><stop offset="0.4583" stop-color="#2a68ae" stop-opacity="0"/><stop offset="0.5000" stop-color="#2a68ae" stop-opacity="0"/><stop offset="0.5417" stop-color="#2a68ae" stop-opacity="0"/><stop offset="0.5750" stop-color="#2a68ae" stop-opacity="1"/><stop offset="0.7333" stop-color="#3070b4" stop-opacity="1"/><stop offset="0.8500" stop-color="#4a86c0" stop-opacity="0.85"/><stop offset="1.0000" stop-color="#7aa8d4" stop-opacity="0.45"/></linearGradient>
<linearGradient id="g135" gradientUnits="userSpaceOnUse" x1="282.53" y1="874.97" x2="346.17" y2="811.33"><stop offset="0.0000" stop-color="#2a64a6" stop-opacity="0.2"/><stop offset="0.1667" stop-color="#1d5599" stop-opacity="0.6"/><stop offset="0.3778" stop-color="#154482" stop-opacity="0.75"/><stop offset="0.4333" stop-color="#154482" stop-opacity="0"/><stop offset="0.5000" stop-color="#154482" stop-opacity="0"/><stop offset="0.5667" stop-color="#154482" stop-opacity="0"/><stop offset="0.6222" stop-color="#154482" stop-opacity="0.75"/><stop offset="0.8333" stop-color="#1d5599" stop-opacity="0.6"/><stop offset="1.0000" stop-color="#2a64a6" stop-opacity="0.2"/></linearGradient>
<filter id="mf137" x="-20%" y="-20%" width="140%" height="140%"><feGaussianBlur stdDeviation="2.2"/></filter>
<mask id="m136" maskUnits="userSpaceOnUse" x="234.3" y="763.6" width="160.09999999999997" height="159.10000000000002"><g filter="url(#mf137)"><rect x="282.8" y="811.0" width="40.00" height="41.80" fill="#fff"/></g></mask>
<linearGradient id="g138" gradientUnits="userSpaceOnUse" x1="271.92" y1="885.58" x2="356.78" y2="800.72"><stop offset="0.0000" stop-color="#7aa8d4" stop-opacity="0.45"/><stop offset="0.1500" stop-color="#4a86c0" stop-opacity="0.85"/><stop offset="0.2667" stop-color="#3070b4" stop-opacity="1"/><stop offset="0.4250" stop-color="#2a68ae" stop-opacity="1"/><stop offset="0.4583" stop-color="#2a68ae" stop-opacity="0"/><stop offset="0.5000" stop-color="#2a68ae" stop-opacity="0"/><stop offset="0.5417" stop-color="#2a68ae" stop-opacity="0"/><stop offset="0.5750" stop-color="#2a68ae" stop-opacity="1"/><stop offset="0.7333" stop-color="#3070b4" stop-opacity="1"/><stop offset="0.8500" stop-color="#4a86c0" stop-opacity="0.85"/><stop offset="1.0000" stop-color="#7aa8d4" stop-opacity="0.45"/></linearGradient>
<linearGradient id="g139" gradientUnits="userSpaceOnUse" x1="282.53" y1="874.97" x2="346.17" y2="811.33"><stop offset="0.0000" stop-color="#2a64a6" stop-opacity="0.2"/><stop offset="0.1667" stop-color="#1d5599" stop-opacity="0.6"/><stop offset="0.3778" stop-color="#154482" stop-opacity="0.75"/><stop offset="0.4333" stop-color="#154482" stop-opacity="0"/><stop offset="0.5000" stop-color="#154482" stop-opacity="0"/><stop offset="0.5667" stop-color="#154482" stop-opacity="0"/><stop offset="0.6222" stop-color="#154482" stop-opacity="0.75"/><stop offset="0.8333" stop-color="#1d5599" stop-opacity="0.6"/><stop offset="1.0000" stop-color="#2a64a6" stop-opacity="0.2"/></linearGradient>
<filter id="mf141" x="-20%" y="-20%" width="140%" height="140%"><feGaussianBlur stdDeviation="2.2"/></filter>
<mask id="m140" maskUnits="userSpaceOnUse" x="234.3" y="763.6" width="160.09999999999997" height="159.10000000000002"><g filter="url(#mf141)"><rect x="324.8" y="854.8" width="58.60" height="56.90" fill="#fff"/></g></mask>
<linearGradient id="g142" gradientUnits="userSpaceOnUse" x1="271.92" y1="885.58" x2="356.78" y2="800.72"><stop offset="0.0000" stop-color="#7aa8d4" stop-opacity="0.45"/><stop offset="0.1500" stop-color="#4a86c0" stop-opacity="0.85"/><stop offset="0.2667" stop-color="#3070b4" stop-opacity="1"/><stop offset="0.4250" stop-color="#2a68ae" stop-opacity="1"/><stop offset="0.4583" stop-color="#2a68ae" stop-opacity="0"/><stop offset="0.5000" stop-color="#2a68ae" stop-opacity="0"/><stop offset="0.5417" stop-color="#2a68ae" stop-opacity="0"/><stop offset="0.5750" stop-color="#2a68ae" stop-opacity="1"/><stop offset="0.7333" stop-color="#3070b4" stop-opacity="1"/><stop offset="0.8500" stop-color="#4a86c0" stop-opacity="0.85"/><stop offset="1.0000" stop-color="#7aa8d4" stop-opacity="0.45"/></linearGradient>
<linearGradient id="g143" gradientUnits="userSpaceOnUse" x1="282.53" y1="874.97" x2="346.17" y2="811.33"><stop offset="0.0000" stop-color="#2a64a6" stop-opacity="0.2"/><stop offset="0.1667" stop-color="#1d5599" stop-opacity="0.6"/><stop offset="0.3778" stop-color="#154482" stop-opacity="0.75"/><stop offset="0.4333" stop-color="#154482" stop-opacity="0"/><stop offset="0.5000" stop-color="#154482" stop-opacity="0"/><stop offset="0.5667" stop-color="#154482" stop-opacity="0"/><stop offset="0.6222" stop-color="#154482" stop-opacity="0.75"/><stop offset="0.8333" stop-color="#1d5599" stop-opacity="0.6"/><stop offset="1.0000" stop-color="#2a64a6" stop-opacity="0.2"/></linearGradient>
</defs>
<text x="236.85" y="8.80" font-size="12.0" text-anchor="middle" font-weight="bold" font-style="normal" fill="#333" stroke="#333" stroke-width="0.22" transform="translate(236.85 8.80) scale(1 1.07) translate(-236.85 -8.80)">Endogenous <tspan font-style="italic">cnd1</tspan> locus</text>
<text x="0.00" y="34.00" font-size="21" font-weight="bold" fill="#000">a</text>
<text x="120.60" y="30.25" font-size="11.8" text-anchor="middle" font-weight="bold" font-style="italic" fill="#333" stroke="#333" stroke-width="0.22" transform="translate(120.60 30.25) scale(1 1.07) translate(-120.60 -30.25)">cnd1-WT</text>
<text x="348.00" y="30.25" font-size="11.8" text-anchor="middle" font-weight="bold" font-style="italic" fill="#333" stroke="#333" stroke-width="0.22" transform="translate(348.00 30.25) scale(1 1.07) translate(-348.00 -30.25)">cnd1-K658E</text>
<text x="462.80" y="34.00" font-size="21" font-weight="bold" fill="#000">b</text>
<text x="573.90" y="29.72" font-size="12" text-anchor="middle" font-weight="bold" font-style="normal" fill="#333" stroke="#333" stroke-width="0.22" transform="translate(573.90 29.72) scale(1 1.07) translate(-573.90 -29.72)">(<tspan font-style="italic">cnd1-K658E</tspan>) − (<tspan font-style="italic">cnd1-WT</tspan>)</text>
<rect x="41.50" y="47.50" width="76.10" height="8.20" rx="1.2" fill="url(#barH)"/>
<path d="M42.40 47.70 Q41.00 51.60 42.40 55.50" stroke="#8a0c2a" stroke-width="1.7" fill="none"/>
<path d="M116.70 47.70 Q118.10 51.60 116.70 55.50" stroke="#8a0c2a" stroke-width="1.7" fill="none"/>
<rect x="91.58" y="47.30" width="1.5" height="8.60" fill="#9e0c2e"/>
<rect x="121.00" y="47.50" width="62.00" height="8.20" rx="1.2" fill="url(#barH)"/>
<path d="M121.90 47.70 Q120.50 51.60 121.90 55.50" stroke="#8a0c2a" stroke-width="1.7" fill="none"/>
<path d="M182.10 47.70 Q183.50 51.60 182.10 55.50" stroke="#8a0c2a" stroke-width="1.7" fill="none"/>
<rect x="142.57" y="47.30" width="1.5" height="8.60" fill="#9e0c2e"/>
<rect x="186.30" y="47.50" width="33.70" height="8.20" rx="1.2" fill="url(#barH)"/>
<path d="M187.20 47.70 Q185.80 51.60 187.20 55.50" stroke="#8a0c2a" stroke-width="1.7" fill="none"/>
<path d="M219.10 47.70 Q220.50 51.60 219.10 55.50" stroke="#8a0c2a" stroke-width="1.7" fill="none"/>
<rect x="201.05" y="47.30" width="1.5" height="8.60" fill="#9e0c2e"/>
<rect x="30.20" y="59.00" width="8.00" height="76.00" rx="1.2" fill="url(#barV)"/>
<path d="M30.40 59.90 Q34.20 58.50 38.00 59.90" stroke="#8a0c2a" stroke-width="1.7" fill="none"/>
<path d="M30.40 134.10 Q34.20 135.50 38.00 134.10" stroke="#8a0c2a" stroke-width="1.7" fill="none"/>
<rect x="30.00" y="109.02" width="8.40" height="1.5" fill="#9e0c2e"/>
<rect x="30.20" y="138.00" width="8.00" height="62.00" rx="1.2" fill="url(#barV)"/>
<path d="M30.40 138.90 Q34.20 137.50 38.00 138.90" stroke="#8a0c2a" stroke-width="1.7" fill="none"/>
<path d="M30.40 199.10 Q34.20 200.50 38.00 199.10" stroke="#8a0c2a" stroke-width="1.7" fill="none"/>
<rect x="30.00" y="159.57" width="8.40" height="1.5" fill="#9e0c2e"/>
<rect x="30.20" y="203.20" width="8.00" height="33.80" rx="1.2" fill="url(#barV)"/>
<path d="M30.40 204.10 Q34.20 202.70 38.00 204.10" stroke="#8a0c2a" stroke-width="1.7" fill="none"/>
<path d="M30.40 236.10 Q34.20 237.50 38.00 236.10" stroke="#8a0c2a" stroke-width="1.7" fill="none"/>
<rect x="30.00" y="218.00" width="8.40" height="1.5" fill="#9e0c2e"/>
<text x="83.30" y="45.43" font-size="8.9" text-anchor="middle" font-weight="bold" font-style="normal" fill="#231f20" stroke="#231f20" stroke-width="0.22" transform="translate(83.30 45.43) scale(1 1.07) translate(-83.30 -45.43)">Chr I</text>
<text x="153.60" y="45.43" font-size="8.9" text-anchor="middle" font-weight="bold" font-style="normal" fill="#231f20" stroke="#231f20" stroke-width="0.22" transform="translate(153.60 45.43) scale(1 1.07) translate(-153.60 -45.43)">Chr II</text>
<text x="206.50" y="45.43" font-size="8.9" text-anchor="middle" font-weight="bold" font-style="normal" fill="#231f20" stroke="#231f20" stroke-width="0.22" transform="translate(206.50 45.43) scale(1 1.07) translate(-206.50 -45.43)">Chr III</text>
<text x="23.40" y="95.39" font-size="8.8" text-anchor="middle" font-weight="bold" font-style="normal" fill="#231f20" stroke="#231f20" stroke-width="0.22" transform="rotate(-90 23.40 92.00) translate(23.40 95.39) scale(1 1.07) translate(-23.40 -95.39)">Chr I</text>
<text x="23.40" y="168.69" font-size="8.8" text-anchor="middle" font-weight="bold" font-style="normal" fill="#231f20" stroke="#231f20" stroke-width="0.22" transform="rotate(-90 23.40 165.30) translate(23.40 168.69) scale(1 1.07) translate(-23.40 -168.69)">Chr II</text>
<text x="23.40" y="221.69" font-size="8.8" text-anchor="middle" font-weight="bold" font-style="normal" fill="#231f20" stroke="#231f20" stroke-width="0.22" transform="rotate(-90 23.40 218.30) translate(23.40 221.69) scale(1 1.07) translate(-23.40 -221.69)">Chr III</text>
<g clip-path="url(#c1)">
<rect x="41.50" y="59.00" width="76.10" height="76.00" fill="#4b559f"/>
<polygon points="46.69,45.81 130.79,129.81 112.41,148.19 28.31,64.19" fill="url(#g2)"/>
<g fill="#3a90b8" opacity="0.9" filter="url(#bl10)"><rect x="38.5" y="56.0" width="10.6" height="10.6"/><rect x="46.9" y="64.4" width="12.3" height="12.3"/><rect x="56.3" y="73.8" width="11.7" height="11.7"/><rect x="66.1" y="83.6" width="9.3" height="9.3"/><rect x="74.3" y="91.7" width="9.2" height="9.2"/><rect x="82.1" y="99.6" width="9.3" height="9.3"/><rect x="89.4" y="106.8" width="11.1" height="11.1"/><rect x="100.0" y="117.4" width="9.6" height="9.6"/><rect x="107.8" y="125.2" width="12.1" height="12.1"/></g>
<g fill="#80caa6" opacity="0.9" filter="url(#bl6)"><rect x="39.3" y="56.8" width="9.0" height="9.0"/><rect x="47.8" y="65.3" width="10.4" height="10.4"/><rect x="57.2" y="74.6" width="9.9" height="9.9"/><rect x="66.8" y="84.3" width="7.9" height="7.9"/><rect x="74.9" y="92.4" width="7.8" height="7.8"/><rect x="82.8" y="100.3" width="7.9" height="7.9"/><rect x="90.2" y="107.6" width="9.5" height="9.5"/><rect x="100.7" y="118.1" width="8.2" height="8.2"/><rect x="108.7" y="126.1" width="10.3" height="10.3"/></g>
<g fill="#e8eca6" opacity="0.9" filter="url(#bl6)"><rect x="40.3" y="57.8" width="7.0" height="7.0"/><rect x="48.9" y="66.4" width="8.1" height="8.1"/><rect x="58.3" y="75.7" width="7.7" height="7.7"/><rect x="67.7" y="85.1" width="6.1" height="6.1"/><rect x="75.8" y="93.3" width="6.1" height="6.1"/><rect x="83.7" y="101.2" width="6.2" height="6.2"/><rect x="91.3" y="108.7" width="7.3" height="7.3"/><rect x="101.6" y="119.1" width="6.3" height="6.3"/><rect x="109.8" y="127.2" width="8.0" height="8.0"/></g>
<polygon points="30.9,61.1 32.0,62.2 33.0,63.2 34.1,64.3 35.1,65.4 36.1,66.6 37.0,67.7 38.1,68.8 39.3,69.7 40.4,70.7 41.2,72.0 42.0,73.3 43.3,74.2 44.6,75.0 45.6,76.1 46.5,77.3 47.4,78.5 48.7,79.4 49.9,80.3 51.0,81.3 52.0,82.4 53.1,83.4 54.2,84.5 55.1,85.7 56.0,86.9 57.0,88.1 58.2,89.0 59.4,89.9 60.6,90.9 61.5,92.1 62.4,93.3 63.4,94.4 64.6,95.3 65.8,96.2 66.8,97.3 67.5,98.8 68.2,100.2 69.5,101.0 70.9,101.7 72.2,102.5 72.8,104.0 73.9,105.1 75.4,105.7 76.1,107.1 76.6,108.8 77.6,109.9 79.2,110.4 80.8,111.0 81.2,112.7 81.6,114.3 83.3,114.7 85.0,115.2 85.9,116.4 86.9,117.6 88.1,118.5 89.2,119.5 89.8,121.0 90.5,122.4 91.3,123.8 92.7,124.5 94.2,125.1 95.6,125.8 96.3,127.2 97.0,128.7 97.6,130.2 98.8,131.1 100.3,131.7 101.8,132.4 102.8,133.5 103.2,135.2 104.8,135.7 106.1,136.6 106.7,138.0 107.4,139.5 108.4,140.6 109.9,141.3 111.3,141.9 112.6,142.7 113.7,143.8 114.7,144.9 115.8,145.9 128.5,133.2 127.5,132.1 126.4,131.1 125.3,130.0 124.5,128.7 123.8,127.3 123.2,125.8 122.1,124.8 120.6,124.1 119.1,123.5 118.3,122.2 117.8,120.6 116.1,120.2 115.0,119.2 114.3,117.7 113.7,116.2 112.8,115.0 111.3,114.4 109.8,113.7 108.4,113.0 107.7,111.6 107.0,110.1 106.4,108.7 105.0,107.9 103.6,107.2 102.1,106.6 101.0,105.5 100.1,104.3 99.0,103.3 97.7,102.4 97.3,100.8 96.9,99.1 95.2,98.6 93.5,98.2 93.0,96.6 92.5,95.0 91.3,94.0 89.7,93.5 88.3,92.8 87.6,91.3 86.6,90.3 85.1,89.7 84.3,88.4 83.6,86.9 82.7,85.6 81.3,84.9 79.9,84.3 78.7,83.3 77.8,82.1 76.9,80.9 75.8,79.8 74.6,78.9 73.4,78.0 72.4,76.9 71.5,75.7 70.6,74.4 69.5,73.5 68.2,72.6 67.0,71.7 66.0,70.6 65.0,69.5 63.8,68.5 62.8,67.4 61.9,66.2 61.0,64.9 59.9,64.0 58.6,63.1 57.5,62.1 56.7,60.8 55.8,59.5 54.5,58.7 53.2,57.9 52.2,56.7 51.3,55.6 50.2,54.5 49.1,53.6 47.9,52.6 46.8,51.6 45.7,50.5 44.7,49.5 43.6,48.4" fill="#3d95b6" filter="url(#bl10)"/>
<polygon points="32.6,59.4 33.7,60.5 34.7,61.6 35.8,62.6 36.8,63.7 37.8,64.8 38.7,66.0 39.8,67.1 41.0,68.0 42.1,69.0 43.0,70.3 43.8,71.5 45.0,72.4 46.3,73.3 47.3,74.4 48.3,75.6 49.2,76.7 50.4,77.7 51.6,78.6 52.7,79.6 53.7,80.7 54.8,81.7 55.9,82.8 56.8,84.0 57.8,85.2 58.7,86.3 59.9,87.2 61.1,88.1 62.3,89.1 63.2,90.3 64.2,91.5 65.2,92.6 66.4,93.5 67.5,94.5 68.5,95.6 69.3,97.0 70.1,98.3 71.3,99.2 72.7,100.0 73.9,100.8 74.6,102.2 75.7,103.3 77.1,104.0 77.9,105.4 78.5,106.9 79.5,108.0 81.0,108.6 82.5,109.3 83.0,110.8 83.6,112.4 85.2,112.9 86.7,113.5 87.6,114.7 88.6,115.8 89.8,116.8 90.9,117.8 91.6,119.2 92.4,120.6 93.2,121.9 94.6,122.6 95.9,123.4 97.3,124.1 98.1,125.5 98.8,126.9 99.5,128.3 100.7,129.2 102.1,129.9 103.5,130.6 104.5,131.7 105.1,133.3 106.6,133.9 107.8,134.8 108.5,136.2 109.3,137.6 110.3,138.7 111.7,139.4 113.1,140.2 114.3,141.0 115.4,142.1 116.4,143.2 117.5,144.2 126.8,134.9 125.8,133.8 124.7,132.8 123.6,131.7 122.8,130.5 122.0,129.1 121.3,127.7 120.2,126.7 118.8,125.9 117.4,125.2 116.5,124.0 115.9,122.5 114.3,121.9 113.2,120.9 112.5,119.5 111.8,118.1 110.8,116.9 109.4,116.2 108.0,115.5 106.7,114.7 105.9,113.3 105.2,112.0 104.4,110.6 103.1,109.8 101.8,109.0 100.4,108.3 99.3,107.2 98.4,106.0 97.2,105.1 96.1,104.1 95.5,102.6 94.9,101.0 93.4,100.4 91.8,99.9 91.2,98.4 90.6,96.9 89.4,95.9 87.9,95.3 86.6,94.5 85.9,93.1 84.8,92.1 83.4,91.4 82.5,90.1 81.7,88.7 80.9,87.5 79.5,86.7 78.1,86.0 77.0,85.0 76.1,83.8 75.1,82.6 74.0,81.6 72.9,80.7 71.7,79.7 70.7,78.6 69.8,77.4 68.8,76.2 67.7,75.2 66.5,74.3 65.3,73.4 64.3,72.3 63.2,71.2 62.1,70.2 61.1,69.1 60.2,67.9 59.3,66.7 58.1,65.7 56.9,64.8 55.8,63.8 54.9,62.5 54.0,61.3 52.8,60.5 51.5,59.6 50.5,58.5 49.6,57.3 48.5,56.2 47.3,55.3 46.2,54.3 45.1,53.3 44.0,52.2 43.0,51.2 41.9,50.1" fill="#9cd4a2" filter="url(#bl6)"/>
<polygon points="33.7,58.3 34.8,59.4 35.8,60.4 36.9,61.5 38.0,62.5 38.9,63.7 39.9,64.8 41.0,65.9 42.1,66.9 43.3,67.8 44.2,69.1 45.1,70.3 46.2,71.2 47.5,72.1 48.5,73.2 49.4,74.4 50.4,75.5 51.6,76.5 52.8,77.4 53.9,78.5 54.9,79.6 56.0,80.6 57.1,81.6 58.0,82.8 59.0,84.0 60.0,85.1 61.1,86.0 62.3,87.0 63.4,88.0 64.4,89.2 65.3,90.3 66.4,91.4 67.5,92.4 68.7,93.3 69.7,94.4 70.5,95.7 71.4,97.0 72.6,97.9 73.9,98.8 75.1,99.7 75.9,101.0 76.9,102.1 78.2,102.9 79.1,104.1 79.8,105.6 80.8,106.7 82.2,107.4 83.6,108.1 84.3,109.6 84.9,111.0 86.4,111.7 87.8,112.4 88.8,113.5 89.8,114.7 91.0,115.6 92.0,116.7 92.8,118.0 93.7,119.3 94.5,120.5 95.8,121.3 97.1,122.2 98.4,123.0 99.3,124.3 100.1,125.6 100.9,126.9 102.0,127.9 103.4,128.7 104.7,129.5 105.7,130.5 106.4,132.0 107.8,132.7 109.0,133.7 109.8,135.0 110.6,136.3 111.6,137.4 112.9,138.2 114.2,139.0 115.4,139.9 116.5,141.0 117.6,142.0 118.6,143.1 125.7,136.0 124.6,135.0 123.6,133.9 122.5,132.8 121.6,131.6 120.8,130.3 120.0,129.0 118.9,128.0 117.6,127.2 116.3,126.4 115.3,125.2 114.6,123.8 113.1,123.1 112.1,122.1 111.2,120.8 110.4,119.5 109.5,118.3 108.2,117.5 106.8,116.7 105.5,115.9 104.7,114.6 103.9,113.3 103.1,112.0 101.8,111.1 100.5,110.3 99.2,109.5 98.2,108.4 97.2,107.2 96.1,106.2 94.9,105.3 94.2,103.8 93.6,102.4 92.1,101.7 90.7,101.0 89.9,99.7 89.2,98.2 88.1,97.2 86.7,96.5 85.4,95.7 84.6,94.4 83.6,93.3 82.2,92.5 81.3,91.3 80.5,90.0 79.6,88.8 78.3,88.0 77.0,87.2 75.9,86.1 74.9,85.0 73.9,83.8 72.8,82.8 71.7,81.8 70.5,80.9 69.5,79.8 68.6,78.6 67.6,77.4 66.5,76.4 65.3,75.5 64.2,74.5 63.1,73.4 62.1,72.4 61.0,71.3 59.9,70.3 59.0,69.1 58.0,67.9 56.9,66.9 55.7,66.0 54.6,64.9 53.7,63.7 52.8,62.5 51.6,61.6 50.4,60.8 49.4,59.6 48.4,58.5 47.3,57.4 46.2,56.4 45.0,55.5 44.0,54.4 42.9,53.3 41.8,52.3 40.8,51.2" fill="#eeeca6" filter="url(#bl6)"/>
<polygon points="35.3,56.7 36.4,57.7 37.5,58.8 38.5,59.9 39.6,60.9 40.6,62.0 41.6,63.1 42.7,64.2 43.8,65.2 44.9,66.2 45.9,67.4 46.8,68.5 47.9,69.5 49.1,70.5 50.2,71.6 51.1,72.7 52.2,73.8 53.3,74.8 54.4,75.8 55.5,76.8 56.5,77.9 57.6,79.0 58.7,80.0 59.7,81.1 60.7,82.2 61.7,83.3 62.8,84.3 64.0,85.3 65.0,86.4 66.1,87.5 67.1,88.6 68.1,89.7 69.2,90.7 70.3,91.7 71.4,92.8 72.3,94.0 73.2,95.2 74.4,96.1 75.6,97.1 76.7,98.0 77.6,99.3 78.7,100.3 79.9,101.2 80.8,102.4 81.7,103.7 82.7,104.8 84.0,105.6 85.2,106.5 86.0,107.8 86.9,109.1 88.2,109.9 89.5,110.7 90.5,111.9 91.5,113.0 92.6,114.0 93.7,115.0 94.6,116.2 95.5,117.4 96.5,118.6 97.7,119.5 98.9,120.4 100.1,121.3 101.0,122.5 101.9,123.7 102.8,125.0 103.9,126.0 105.2,126.9 106.4,127.8 107.4,128.9 108.2,130.2 109.5,131.0 110.6,132.0 111.5,133.2 112.5,134.4 113.5,135.5 114.7,136.4 115.9,137.3 117.1,138.3 118.1,139.3 119.2,140.4 120.3,141.5 124.1,137.6 123.0,136.6 121.9,135.5 120.9,134.5 119.9,133.3 119.0,132.1 118.1,130.9 117.0,129.9 115.8,129.0 114.6,128.0 113.6,126.9 112.8,125.6 111.4,124.8 110.4,123.8 109.5,122.6 108.6,121.3 107.5,120.2 106.3,119.3 105.1,118.4 103.9,117.5 103.0,116.3 102.1,115.1 101.2,113.9 100.0,112.9 98.8,112.0 97.6,111.1 96.5,110.0 95.5,108.9 94.4,107.9 93.3,106.9 92.5,105.6 91.6,104.3 90.4,103.5 89.1,102.7 88.2,101.4 87.3,100.1 86.2,99.1 85.0,98.3 83.8,97.3 82.9,96.1 81.8,95.1 80.6,94.2 79.6,93.0 78.7,91.8 77.7,90.7 76.5,89.7 75.3,88.8 74.2,87.8 73.2,86.7 72.2,85.6 71.1,84.5 70.0,83.5 68.9,82.5 67.9,81.4 66.9,80.3 65.9,79.2 64.8,78.2 63.6,77.2 62.5,76.2 61.5,75.1 60.4,74.0 59.3,73.0 58.3,71.9 57.3,70.8 56.3,69.6 55.2,68.6 54.1,67.6 53.0,66.6 52.0,65.4 51.0,64.3 49.9,63.3 48.7,62.4 47.7,61.3 46.7,60.2 45.6,59.1 44.5,58.1 43.4,57.1 42.3,56.0 41.3,55.0 40.2,53.9 39.2,52.8" fill="#e8704c" filter="url(#bl3)"/>
<polygon points="35.8,56.2 36.8,57.3 37.9,58.4 39.0,59.4 40.0,60.5 41.0,61.6 42.1,62.7 43.1,63.7 44.2,64.8 45.3,65.8 46.3,66.9 47.3,68.1 48.4,69.1 49.5,70.1 50.6,71.1 51.6,72.2 52.6,73.3 53.7,74.3 54.9,75.3 55.9,76.4 57.0,77.5 58.0,78.5 59.1,79.6 60.1,80.7 61.1,81.8 62.2,82.9 63.3,83.9 64.4,84.9 65.5,85.9 66.5,87.0 67.5,88.2 68.6,89.2 69.7,90.2 70.8,91.3 71.8,92.3 72.7,93.5 73.7,94.7 74.8,95.7 76.0,96.6 77.1,97.6 78.1,98.8 79.1,99.9 80.3,100.8 81.3,102.0 82.2,103.2 83.2,104.3 84.4,105.2 85.6,106.1 86.5,107.3 87.4,108.6 88.6,109.4 89.9,110.3 90.9,111.4 91.9,112.5 93.0,113.5 94.1,114.6 95.1,115.8 96.0,116.9 97.0,118.1 98.1,119.0 99.3,120.0 100.5,120.9 101.5,122.1 102.4,123.3 103.3,124.5 104.4,125.5 105.6,126.4 106.8,127.3 107.9,128.4 108.7,129.7 109.9,130.6 111.1,131.6 112.0,132.7 112.9,133.9 114.0,135.0 115.2,135.9 116.4,136.9 117.5,137.9 118.6,138.9 119.6,140.0 120.7,141.0 123.6,138.1 122.6,137.0 121.5,136.0 120.5,134.9 119.5,133.8 118.5,132.6 117.6,131.4 116.5,130.3 115.3,129.4 114.2,128.5 113.1,127.4 112.3,126.1 111.0,125.3 109.9,124.2 109.0,123.0 108.1,121.8 107.0,120.7 105.9,119.8 104.7,118.9 103.5,117.9 102.5,116.7 101.6,115.6 100.7,114.4 99.5,113.4 98.3,112.5 97.1,111.5 96.1,110.5 95.1,109.4 94.0,108.3 92.9,107.3 92.0,106.1 91.1,104.8 89.9,103.9 88.6,103.1 87.7,101.9 86.8,100.6 85.7,99.6 84.5,98.7 83.3,97.8 82.4,96.6 81.4,95.5 80.2,94.6 79.2,93.5 78.2,92.3 77.2,91.1 76.1,90.2 74.9,89.3 73.8,88.2 72.8,87.1 71.8,86.0 70.7,85.0 69.6,84.0 68.5,82.9 67.4,81.9 66.4,80.7 65.4,79.6 64.3,78.6 63.2,77.6 62.1,76.6 61.0,75.5 60.0,74.4 58.9,73.4 57.9,72.3 56.9,71.2 55.9,70.1 54.8,69.1 53.6,68.1 52.6,67.0 51.6,65.9 50.6,64.8 49.4,63.8 48.3,62.8 47.3,61.7 46.2,60.6 45.2,59.6 44.1,58.5 43.0,57.5 41.9,56.5 40.9,55.4 39.8,54.3 38.7,53.3" fill="#a2083e" filter="url(#bl3)"/>
<ellipse cx="92.33" cy="109.77" rx="9.00" ry="3.30" transform="rotate(-45 92.33 109.77)" fill="url(#r3)" opacity="0.9"/>
<polygon points="83.9,103.7 85.0,104.8 86.0,105.8 87.1,106.9 88.1,108.0 89.2,109.0 90.3,110.1 91.3,111.1 92.4,112.2 93.5,113.3 94.5,114.3 95.6,115.4 96.6,116.4 97.7,117.5 98.8,118.6 101.1,116.2 100.1,115.1 99.0,114.1 97.9,113.0 96.9,111.9 95.8,110.9 94.8,109.8 93.7,108.8 92.6,107.7 91.6,106.6 90.5,105.6 89.5,104.5 88.4,103.5 87.3,102.4 86.3,101.3" fill="#a2083e" filter="url(#bl3)"/>
<rect x="91.83" y="59.00" width="1.0" height="76.00" fill="#3f4690" opacity="0.12"/>
<rect x="41.50" y="109.22" width="76.10" height="1.1" fill="#3f4690" opacity="0.65"/>
</g>
<g clip-path="url(#c4)">
<rect x="121.00" y="59.00" width="62.00" height="76.00" fill="#4b559f"/>
<rect x="142.82" y="59.00" width="1.0" height="76.00" fill="#3f4690" opacity="0.12"/>
<rect x="121.00" y="109.22" width="62.00" height="1.1" fill="#3f4690" opacity="0.65"/>
<polygon points="147.4,112.0 147.6,114.0 145.6,113.9 143.3,110.9 141.1,113.9 139.0,114.0 139.2,112.0 142.2,109.8 139.2,107.5 139.0,105.5 141.1,105.7 143.3,108.7 145.6,105.7 147.6,105.5 147.4,107.5 144.4,109.8" fill="url(#r5)" filter="url(#bl6)"/>
</g>
<g clip-path="url(#c6)">
<rect x="186.30" y="59.00" width="33.70" height="76.00" fill="#4b559f"/>
<rect x="201.30" y="59.00" width="1.0" height="76.00" fill="#3f4690" opacity="0.12"/>
<rect x="186.30" y="109.22" width="33.70" height="1.1" fill="#3f4690" opacity="0.65"/>
<polygon points="205.9,112.0 206.1,114.0 204.1,113.9 201.8,110.9 199.5,113.9 197.5,114.0 197.7,112.0 200.7,109.8 197.7,107.5 197.5,105.5 199.5,105.7 201.8,108.7 204.1,105.7 206.1,105.5 205.9,107.5 202.9,109.8" fill="url(#r7)" filter="url(#bl6)"/>
</g>
<g clip-path="url(#c8)">
<rect x="41.50" y="138.00" width="76.10" height="62.00" fill="#4b559f"/>
<rect x="91.83" y="138.00" width="1.0" height="62.00" fill="#3f4690" opacity="0.12"/>
<rect x="41.50" y="159.77" width="76.10" height="1.1" fill="#3f4690" opacity="0.65"/>
<polygon points="96.4,162.6 96.6,164.6 94.6,164.4 92.3,161.4 90.1,164.4 88.1,164.6 88.2,162.6 91.2,160.3 88.2,158.1 88.1,156.0 90.1,156.2 92.3,159.2 94.6,156.2 96.6,156.0 96.4,158.1 93.4,160.3" fill="url(#r9)" filter="url(#bl6)"/>
</g>
<g clip-path="url(#c10)">
<rect x="121.00" y="138.00" width="62.00" height="62.00" fill="#4b559f"/>
<polygon points="126.19,124.81 196.19,194.81 177.81,213.19 107.81,143.19" fill="url(#g11)"/>
<g fill="#3a90b8" opacity="0.9" filter="url(#bl10)"><rect x="118.0" y="135.0" width="10.1" height="10.1"/><rect x="128.0" y="145.0" width="9.6" height="9.6"/><rect x="137.0" y="154.0" width="9.4" height="9.4"/><rect x="144.6" y="161.6" width="14.0" height="14.0"/><rect x="155.8" y="172.8" width="12.2" height="12.2"/><rect x="166.4" y="183.4" width="11.3" height="11.3"/><rect x="176.2" y="193.2" width="10.0" height="10.0"/></g>
<g fill="#80caa6" opacity="0.9" filter="url(#bl6)"><rect x="118.8" y="135.8" width="8.6" height="8.6"/><rect x="128.8" y="145.8" width="8.2" height="8.2"/><rect x="137.7" y="154.7" width="8.0" height="8.0"/><rect x="145.7" y="162.7" width="11.9" height="11.9"/><rect x="156.8" y="173.8" width="10.4" height="10.4"/><rect x="167.2" y="184.2" width="9.6" height="9.6"/><rect x="177.0" y="194.0" width="8.5" height="8.5"/></g>
<g fill="#e8eca6" opacity="0.9" filter="url(#bl6)"><rect x="119.7" y="136.7" width="6.7" height="6.7"/><rect x="129.7" y="146.7" width="6.4" height="6.4"/><rect x="138.6" y="155.6" width="6.2" height="6.2"/><rect x="147.0" y="164.0" width="9.2" height="9.2"/><rect x="157.9" y="174.9" width="8.1" height="8.1"/><rect x="168.3" y="185.3" width="7.4" height="7.4"/><rect x="177.9" y="194.9" width="6.6" height="6.6"/></g>
<polygon points="110.4,140.1 111.5,141.2 112.5,142.2 113.6,143.3 114.6,144.4 115.5,145.7 116.3,147.0 117.5,147.9 118.8,148.7 119.7,149.9 120.2,151.5 120.9,153.0 122.4,153.6 124.0,154.1 125.0,155.2 125.6,156.7 126.3,158.2 127.3,159.3 128.8,159.9 130.3,160.5 131.4,161.5 131.9,163.2 132.5,164.7 134.1,165.2 135.8,165.7 136.8,166.8 137.6,168.0 138.7,169.1 139.9,170.0 141.1,170.9 142.1,172.1 143.0,173.3 144.1,174.3 145.3,175.2 146.4,176.3 146.9,177.9 147.9,179.0 149.5,179.6 150.3,180.8 150.8,182.4 151.7,183.7 153.3,184.2 154.9,184.7 156.0,185.8 157.0,186.8 158.1,187.9 159.1,188.9 160.2,190.0 161.0,191.4 161.6,192.8 162.3,194.3 163.7,195.0 165.1,195.7 166.6,196.4 167.1,197.9 168.1,199.1 169.7,199.6 170.5,200.9 171.2,202.3 172.6,203.1 174.0,203.8 174.3,205.6 175.2,206.9 177.1,207.1 178.3,208.0 179.3,209.1 180.4,210.1 181.5,211.2 194.2,198.5 193.1,197.4 192.1,196.3 191.0,195.3 190.1,194.1 189.9,192.2 188.6,191.3 186.8,191.0 186.1,189.6 185.3,188.2 183.9,187.5 182.6,186.7 182.1,185.1 180.9,184.1 179.4,183.6 178.7,182.1 178.0,180.7 177.3,179.3 175.8,178.6 174.4,178.0 173.0,177.2 171.9,176.1 170.9,175.1 169.8,174.0 168.8,173.0 167.7,171.9 167.2,170.3 166.7,168.7 165.4,167.8 163.8,167.3 162.6,166.5 162.0,164.9 160.9,163.9 159.3,163.4 158.2,162.3 157.3,161.1 156.3,160.0 155.1,159.1 153.9,158.1 153.0,156.9 152.1,155.7 151.0,154.6 149.8,153.8 148.7,152.8 148.2,151.1 147.7,149.5 146.2,148.9 144.5,148.4 143.5,147.3 142.9,145.8 142.3,144.3 141.2,143.3 139.7,142.6 138.2,142.0 137.1,141.0 136.6,139.4 136.0,137.9 134.5,137.2 132.9,136.7 131.7,135.8 130.9,134.5 130.0,133.3 128.7,132.5 127.4,131.6 126.3,130.6 125.2,129.5 124.2,128.5 123.1,127.4" fill="#3d95b6" filter="url(#bl10)"/>
<polygon points="112.1,138.4 113.2,139.5 114.2,140.5 115.3,141.6 116.3,142.7 117.2,143.9 118.1,145.2 119.2,146.1 120.5,147.0 121.4,148.2 122.1,149.7 122.8,151.1 124.2,151.7 125.7,152.4 126.7,153.5 127.4,154.9 128.2,156.3 129.2,157.4 130.6,158.1 132.0,158.8 133.1,159.8 133.7,161.3 134.4,162.7 136.0,163.3 137.5,164.0 138.5,165.1 139.4,166.3 140.5,167.3 141.7,168.2 142.8,169.2 143.8,170.4 144.8,171.5 145.8,172.6 147.0,173.5 148.1,174.5 148.7,176.0 149.7,177.2 151.2,177.8 152.1,179.0 152.7,180.5 153.6,181.8 155.1,182.4 156.6,183.0 157.7,184.1 158.7,185.1 159.8,186.2 160.9,187.2 161.9,188.3 162.7,189.6 163.5,191.0 164.2,192.4 165.5,193.2 166.9,193.9 168.3,194.7 168.9,196.1 169.9,197.2 171.4,197.9 172.3,199.1 173.1,200.5 174.4,201.3 175.7,202.1 176.2,203.8 177.1,205.0 178.8,205.4 180.0,206.3 181.0,207.4 182.1,208.4 183.2,209.5 192.5,200.2 191.4,199.1 190.4,198.0 189.3,197.0 188.4,195.8 188.0,194.1 186.8,193.2 185.1,192.7 184.3,191.4 183.5,190.1 182.1,189.3 180.9,188.4 180.2,186.9 179.1,185.9 177.7,185.3 176.9,183.9 176.2,182.5 175.4,181.2 174.0,180.5 172.6,179.7 171.3,178.9 170.2,177.9 169.2,176.8 168.1,175.7 167.1,174.7 166.0,173.6 165.4,172.1 164.8,170.6 163.5,169.7 162.0,169.1 160.8,168.2 160.2,166.7 159.0,165.7 157.5,165.1 156.5,164.0 155.6,162.8 154.5,161.8 153.4,160.8 152.2,159.8 151.2,158.7 150.3,157.5 149.3,156.4 148.1,155.5 147.0,154.5 146.3,153.0 145.7,151.4 144.3,150.7 142.8,150.1 141.8,149.0 141.1,147.6 140.4,146.2 139.3,145.2 137.9,144.4 136.5,143.7 135.4,142.7 134.7,141.2 134.1,139.8 132.7,139.1 131.2,138.4 130.0,137.5 129.1,136.2 128.2,135.1 126.9,134.2 125.7,133.3 124.6,132.3 123.5,131.2 122.5,130.2 121.4,129.1" fill="#9cd4a2" filter="url(#bl6)"/>
<polygon points="113.2,137.3 114.3,138.4 115.3,139.4 116.4,140.5 117.5,141.5 118.4,142.7 119.3,143.9 120.4,144.9 121.6,145.8 122.6,147.0 123.3,148.4 124.1,149.7 125.5,150.5 126.9,151.2 127.9,152.3 128.7,153.6 129.5,154.9 130.6,156.0 131.9,156.8 133.2,157.6 134.3,158.6 135.0,160.0 135.8,161.4 137.2,162.1 138.6,162.8 139.6,163.9 140.6,165.1 141.7,166.1 142.8,167.1 144.0,168.1 145.0,169.2 145.9,170.3 147.0,171.4 148.2,172.4 149.2,173.4 150.0,174.8 151.0,175.9 152.4,176.7 153.3,177.8 154.0,179.2 154.9,180.4 156.3,181.1 157.7,181.9 158.8,182.9 159.9,184.0 160.9,185.1 162.0,186.1 163.1,187.1 163.9,188.4 164.7,189.7 165.5,191.1 166.8,191.9 168.1,192.7 169.4,193.5 170.2,194.9 171.2,196.0 172.6,196.7 173.5,197.9 174.3,199.2 175.6,200.1 176.8,200.9 177.4,202.5 178.4,203.7 179.9,204.2 181.1,205.2 182.2,206.2 183.2,207.3 184.3,208.4 191.4,201.3 190.3,200.2 189.2,199.2 188.2,198.1 187.2,196.9 186.7,195.4 185.5,194.4 183.9,193.8 183.1,192.6 182.2,191.3 180.9,190.5 179.7,189.6 179.0,188.2 177.9,187.2 176.5,186.4 175.7,185.1 174.9,183.8 174.1,182.5 172.7,181.7 171.4,180.9 170.1,180.1 169.1,179.0 168.1,177.9 167.0,176.9 165.9,175.8 164.9,174.7 164.1,173.3 163.4,171.9 162.2,171.0 160.8,170.3 159.7,169.4 158.9,168.0 157.8,167.0 156.4,166.2 155.4,165.2 154.4,164.0 153.3,162.9 152.2,162.0 151.1,161.0 150.1,159.8 149.1,158.7 148.1,157.6 146.9,156.6 145.8,155.6 145.1,154.2 144.4,152.8 143.0,152.0 141.6,151.3 140.6,150.2 139.8,148.9 139.0,147.6 137.9,146.5 136.6,145.7 135.3,144.9 134.2,143.9 133.5,142.5 132.7,141.1 131.4,140.3 130.0,139.6 128.8,138.6 127.9,137.4 126.9,136.3 125.7,135.4 124.5,134.5 123.5,133.4 122.4,132.3 121.4,131.3 120.3,130.2" fill="#eeeca6" filter="url(#bl6)"/>
<polygon points="114.8,135.7 115.9,136.7 117.0,137.8 118.0,138.8 119.1,139.9 120.1,141.1 121.0,142.2 122.1,143.2 123.3,144.2 124.3,145.3 125.2,146.6 126.1,147.8 127.3,148.7 128.6,149.5 129.6,150.6 130.5,151.8 131.4,153.0 132.5,154.1 133.7,155.0 134.9,155.9 136.0,157.0 136.8,158.2 137.7,159.5 139.0,160.3 140.3,161.2 141.3,162.2 142.3,163.4 143.4,164.4 144.5,165.4 145.6,166.4 146.6,167.5 147.6,168.6 148.7,169.7 149.8,170.7 150.9,171.8 151.7,173.0 152.8,174.1 154.0,175.0 155.0,176.1 155.9,177.4 156.8,178.5 158.1,179.4 159.4,180.2 160.4,181.3 161.5,182.4 162.6,183.4 163.6,184.5 164.7,185.5 165.6,186.7 166.5,187.9 167.4,189.1 168.6,190.1 169.9,191.0 171.1,191.9 171.9,193.1 173.0,194.2 174.2,195.1 175.2,196.2 176.1,197.4 177.3,198.4 178.5,199.3 179.3,200.7 180.2,201.8 181.6,202.5 182.7,203.5 183.8,204.6 184.9,205.7 185.9,206.7 189.7,202.9 188.7,201.9 187.6,200.8 186.5,199.7 185.5,198.6 184.8,197.2 183.7,196.3 182.3,195.5 181.4,194.3 180.4,193.1 179.2,192.2 178.1,191.2 177.2,190.0 176.1,188.9 174.9,188.1 174.0,186.9 173.1,185.6 172.1,184.4 170.9,183.5 169.7,182.6 168.5,181.7 167.5,180.6 166.4,179.6 165.4,178.5 164.3,177.4 163.2,176.4 162.4,175.1 161.5,173.8 160.4,172.9 159.1,172.0 158.0,171.0 157.1,169.8 156.0,168.7 154.8,167.9 153.7,166.8 152.7,165.7 151.6,164.6 150.5,163.6 149.4,162.6 148.4,161.5 147.4,160.4 146.4,159.3 145.2,158.3 144.2,157.3 143.3,156.0 142.5,154.7 141.2,153.8 140.0,153.0 138.9,151.9 138.0,150.7 137.1,149.5 136.0,148.4 134.8,147.5 133.6,146.6 132.5,145.6 131.7,144.3 130.8,143.1 129.6,142.2 128.3,141.3 127.2,140.3 126.2,139.1 125.2,138.0 124.1,137.1 122.9,136.1 121.8,135.0 120.8,134.0 119.7,132.9 118.7,131.8" fill="#e8704c" filter="url(#bl3)"/>
<polygon points="115.3,135.2 116.3,136.3 117.4,137.4 118.5,138.4 119.5,139.5 120.5,140.6 121.5,141.8 122.6,142.8 123.7,143.8 124.7,144.9 125.6,146.1 126.6,147.3 127.8,148.2 129.0,149.1 130.0,150.2 131.0,151.4 131.9,152.6 133.0,153.6 134.2,154.5 135.3,155.5 136.4,156.5 137.3,157.8 138.2,159.0 139.5,159.8 140.7,160.7 141.7,161.8 142.7,162.9 143.8,164.0 144.9,165.0 146.0,166.0 147.0,167.1 148.1,168.2 149.1,169.3 150.2,170.3 151.3,171.3 152.2,172.6 153.2,173.7 154.5,174.5 155.5,175.7 156.3,176.9 157.3,178.0 158.6,178.9 159.8,179.8 160.9,180.9 161.9,181.9 163.0,183.0 164.1,184.0 165.1,185.1 166.1,186.3 167.0,187.4 167.9,188.6 169.1,189.6 170.3,190.5 171.5,191.5 172.4,192.7 173.4,193.8 174.6,194.7 175.6,195.8 176.6,197.0 177.7,197.9 178.9,198.9 179.7,200.2 180.7,201.3 182.0,202.1 183.2,203.1 184.2,204.2 185.3,205.2 186.3,206.3 189.3,203.3 188.2,202.3 187.2,201.2 186.1,200.2 185.1,199.0 184.3,197.7 183.2,196.7 181.9,195.9 180.9,194.7 180.0,193.6 178.8,192.6 177.7,191.6 176.8,190.4 175.7,189.4 174.5,188.5 173.5,187.3 172.6,186.1 171.6,184.9 170.4,184.0 169.3,183.1 168.1,182.1 167.0,181.1 166.0,180.0 164.9,178.9 163.9,177.9 162.8,176.8 161.9,175.6 161.0,174.3 159.9,173.3 158.7,172.5 157.5,171.5 156.7,170.2 155.6,169.2 154.3,168.3 153.3,167.2 152.3,166.1 151.2,165.1 150.1,164.0 149.0,163.0 148.0,161.9 147.0,160.8 145.9,159.7 144.8,158.7 143.7,157.7 142.8,156.5 142.0,155.2 140.8,154.3 139.5,153.4 138.5,152.3 137.5,151.2 136.6,150.0 135.6,148.9 134.4,148.0 133.2,147.0 132.1,146.0 131.2,144.8 130.3,143.6 129.1,142.6 127.9,141.7 126.8,140.7 125.8,139.6 124.8,138.5 123.6,137.5 122.5,136.5 121.4,135.5 120.4,134.4 119.3,133.3 118.2,132.3" fill="#a2083e" filter="url(#bl3)"/>
<ellipse cx="143.32" cy="160.32" rx="9.00" ry="3.30" transform="rotate(-45 143.32 160.32)" fill="url(#r12)" opacity="0.9"/>
<polygon points="134.9,154.3 136.0,155.3 137.0,156.4 138.1,157.4 139.1,158.5 140.2,159.6 141.3,160.6 142.3,161.7 143.4,162.8 144.4,163.8 145.5,164.9 146.6,165.9 147.6,167.0 148.7,168.1 149.7,169.1 152.1,166.7 151.1,165.7 150.0,164.6 148.9,163.6 147.9,162.5 146.8,161.4 145.8,160.4 144.7,159.3 143.6,158.3 142.6,157.2 141.5,156.1 140.4,155.1 139.4,154.0 138.3,153.0 137.3,151.9" fill="#a2083e" filter="url(#bl3)"/>
<rect x="142.82" y="138.00" width="1.0" height="62.00" fill="#3f4690" opacity="0.12"/>
<rect x="121.00" y="159.77" width="62.00" height="1.1" fill="#3f4690" opacity="0.65"/>
</g>
<g clip-path="url(#c13)">
<rect x="186.30" y="138.00" width="33.70" height="62.00" fill="#4b559f"/>
<rect x="201.30" y="138.00" width="1.0" height="62.00" fill="#3f4690" opacity="0.12"/>
<rect x="186.30" y="159.77" width="33.70" height="1.1" fill="#3f4690" opacity="0.65"/>
<polygon points="205.9,162.6 206.1,164.6 204.1,164.4 201.8,161.4 199.5,164.4 197.5,164.6 197.7,162.6 200.7,160.3 197.7,158.1 197.5,156.0 199.5,156.2 201.8,159.2 204.1,156.2 206.1,156.0 205.9,158.1 202.9,160.3" fill="url(#r14)" filter="url(#bl6)"/>
</g>
<g clip-path="url(#c15)">
<rect x="41.50" y="203.20" width="76.10" height="33.80" fill="#4b559f"/>
<rect x="91.83" y="203.20" width="1.0" height="33.80" fill="#3f4690" opacity="0.12"/>
<rect x="41.50" y="218.20" width="76.10" height="1.1" fill="#3f4690" opacity="0.65"/>
<polygon points="96.4,221.0 96.6,223.0 94.6,222.8 92.3,219.8 90.1,222.8 88.1,223.0 88.2,221.0 91.2,218.7 88.2,216.5 88.1,214.5 90.1,214.7 92.3,217.6 94.6,214.7 96.6,214.5 96.4,216.5 93.4,218.7" fill="url(#r16)" filter="url(#bl6)"/>
</g>
<g clip-path="url(#c17)">
<rect x="121.00" y="203.20" width="62.00" height="33.80" fill="#4b559f"/>
<rect x="142.82" y="203.20" width="1.0" height="33.80" fill="#3f4690" opacity="0.12"/>
<rect x="121.00" y="218.20" width="62.00" height="1.1" fill="#3f4690" opacity="0.65"/>
<polygon points="147.4,221.0 147.6,223.0 145.6,222.8 143.3,219.8 141.1,222.8 139.0,223.0 139.2,221.0 142.2,218.7 139.2,216.5 139.0,214.5 141.1,214.7 143.3,217.6 145.6,214.7 147.6,214.5 147.4,216.5 144.4,218.7" fill="url(#r18)" filter="url(#bl6)"/>
</g>
<g clip-path="url(#c19)">
<rect x="186.30" y="203.20" width="33.70" height="33.80" fill="#4b559f"/>
<polygon points="191.49,190.01 233.19,231.81 214.81,250.19 173.11,208.39" fill="url(#g20)"/>
<g fill="#3a90b8" opacity="0.9" filter="url(#bl10)"><rect x="183.3" y="200.2" width="11.3" height="11.3"/><rect x="192.8" y="209.8" width="9.7" height="9.7"/><rect x="202.2" y="219.2" width="9.0" height="9.0"/><rect x="210.1" y="227.1" width="13.5" height="13.5"/></g>
<g fill="#80caa6" opacity="0.9" filter="url(#bl6)"><rect x="184.1" y="201.0" width="9.6" height="9.6"/><rect x="193.6" y="210.5" width="8.2" height="8.2"/><rect x="202.9" y="219.8" width="7.7" height="7.7"/><rect x="211.1" y="228.1" width="11.5" height="11.5"/></g>
<g fill="#e8eca6" opacity="0.9" filter="url(#bl6)"><rect x="185.2" y="202.1" width="7.5" height="7.5"/><rect x="194.5" y="211.4" width="6.4" height="6.4"/><rect x="203.7" y="220.7" width="6.0" height="6.0"/><rect x="212.4" y="229.4" width="8.9" height="8.9"/></g>
<polygon points="175.7,205.3 176.7,206.4 177.8,207.4 178.9,208.5 179.9,209.6 180.9,210.7 181.8,211.9 182.9,212.9 184.1,213.9 185.2,214.9 186.2,216.0 187.2,217.1 188.3,218.2 189.4,219.2 190.5,220.2 191.4,221.4 192.3,222.7 193.3,223.7 194.6,224.6 195.8,225.5 196.4,227.1 197.1,228.4 198.7,228.9 200.0,229.8 201.0,230.9 202.1,231.9 202.9,233.2 203.5,234.7 204.7,235.7 206.2,236.3 207.2,237.5 207.6,239.1 208.8,240.1 210.5,240.5 211.4,241.7 212.1,243.2 212.7,244.7 214.0,245.5 215.5,246.1 216.9,246.8 218.1,247.8 230.8,235.1 229.8,234.0 229.1,232.5 228.5,231.0 227.7,229.7 226.2,229.1 224.7,228.4 223.6,227.5 223.1,225.8 222.1,224.7 220.5,224.2 219.4,223.2 218.7,221.7 217.8,220.5 216.3,219.9 214.9,219.1 214.0,217.9 212.9,217.0 212.0,215.7 211.5,214.1 210.1,213.3 208.6,212.8 207.7,211.5 206.8,210.3 205.7,209.2 204.5,208.3 203.3,207.4 202.3,206.4 201.3,205.2 200.2,204.1 199.1,203.1 198.0,202.1 197.0,201.0 196.0,199.8 195.0,198.7 193.9,197.8 192.7,196.8 191.6,195.8 190.6,194.7 189.5,193.7 188.4,192.6" fill="#3d95b6" filter="url(#bl10)"/>
<polygon points="177.4,203.6 178.4,204.7 179.5,205.7 180.6,206.8 181.6,207.9 182.6,209.0 183.5,210.2 184.6,211.2 185.8,212.2 186.9,213.2 187.9,214.3 188.9,215.4 190.0,216.4 191.1,217.5 192.2,218.5 193.1,219.7 194.0,220.9 195.1,222.0 196.3,222.9 197.5,223.8 198.2,225.3 199.0,226.6 200.5,227.2 201.7,228.1 202.7,229.2 203.8,230.2 204.7,231.5 205.4,232.9 206.5,233.9 207.9,234.6 208.9,235.7 209.5,237.2 210.7,238.2 212.2,238.8 213.2,240.0 213.9,241.4 214.6,242.7 215.9,243.6 217.3,244.4 218.6,245.1 219.8,246.1 229.1,236.8 228.1,235.7 227.4,234.3 226.6,232.9 225.8,231.6 224.4,230.9 223.0,230.2 221.8,229.2 221.2,227.7 220.3,226.5 218.8,225.9 217.6,224.9 216.9,223.5 215.9,222.4 214.5,221.7 213.2,220.8 212.3,219.7 211.1,218.7 210.2,217.5 209.7,215.9 208.3,215.1 206.9,214.5 206.0,213.3 205.0,212.1 204.0,211.0 202.8,210.1 201.6,209.1 200.5,208.1 199.5,206.9 198.5,205.9 197.4,204.8 196.3,203.8 195.3,202.7 194.3,201.6 193.3,200.5 192.1,199.5 191.0,198.5 189.9,197.5 188.9,196.4 187.8,195.4 186.7,194.3" fill="#9cd4a2" filter="url(#bl6)"/>
<polygon points="178.5,202.5 179.6,203.5 180.6,204.6 181.7,205.7 182.8,206.7 183.7,207.9 184.7,209.0 185.8,210.0 187.0,211.0 188.0,212.1 189.1,213.2 190.1,214.3 191.2,215.3 192.3,216.3 193.3,217.4 194.3,218.5 195.2,219.7 196.3,220.8 197.5,221.7 198.6,222.7 199.4,224.0 200.2,225.3 201.7,226.0 202.8,227.0 203.8,228.1 205.0,229.1 205.9,230.3 206.6,231.6 207.8,232.6 209.1,233.4 210.1,234.5 210.8,236.0 211.9,236.9 213.4,237.6 214.4,238.8 215.2,240.1 216.0,241.4 217.2,242.3 218.5,243.1 219.8,243.9 220.9,245.0 228.0,237.9 226.9,236.8 226.1,235.5 225.3,234.2 224.4,233.0 223.1,232.2 221.8,231.4 220.7,230.4 220.0,228.9 219.0,227.8 217.6,227.1 216.5,226.1 215.7,224.8 214.7,223.6 213.3,222.8 212.1,222.0 211.1,220.8 210.0,219.8 209.1,218.6 208.4,217.2 207.1,216.3 205.7,215.6 204.8,214.4 203.8,213.3 202.8,212.2 201.6,211.2 200.4,210.3 199.4,209.2 198.4,208.1 197.3,207.0 196.2,206.0 195.2,205.0 194.1,203.9 193.1,202.7 192.1,201.6 191.0,200.7 189.8,199.7 188.8,198.6 187.7,197.5 186.7,196.5 185.6,195.4" fill="#eeeca6" filter="url(#bl6)"/>
<polygon points="180.2,200.9 181.2,201.9 182.3,203.0 183.3,204.0 184.4,205.1 185.4,206.2 186.4,207.3 187.5,208.4 188.6,209.4 189.7,210.4 190.7,211.5 191.7,212.6 192.8,213.6 193.9,214.7 195.0,215.7 196.0,216.9 197.0,218.0 198.0,219.0 199.1,220.0 200.3,221.0 201.1,222.3 202.1,223.5 203.4,224.3 204.5,225.3 205.5,226.4 206.6,227.4 207.6,228.6 208.5,229.8 209.6,230.8 210.8,231.7 211.8,232.8 212.7,234.1 213.8,235.1 215.0,236.0 216.1,237.1 217.0,238.3 217.9,239.5 219.0,240.5 220.2,241.4 221.4,242.3 222.5,243.3 226.3,239.5 225.3,238.5 224.4,237.2 223.5,236.0 222.5,234.9 221.3,234.0 220.1,233.1 219.0,232.0 218.2,230.8 217.1,229.6 215.9,228.8 214.8,227.8 213.9,226.5 212.9,225.4 211.6,224.5 210.5,223.6 209.4,222.5 208.4,221.5 207.4,220.3 206.5,219.0 205.3,218.1 204.1,217.2 203.1,216.1 202.1,215.0 201.1,213.9 199.9,212.9 198.8,211.9 197.8,210.8 196.7,209.8 195.7,208.7 194.6,207.6 193.5,206.6 192.5,205.5 191.5,204.4 190.4,203.3 189.3,202.3 188.2,201.3 187.2,200.2 186.1,199.2 185.0,198.1 184.0,197.0" fill="#e8704c" filter="url(#bl3)"/>
<polygon points="180.6,200.4 181.6,201.5 182.7,202.6 183.8,203.6 184.8,204.7 185.8,205.8 186.9,206.9 187.9,207.9 189.0,209.0 190.1,210.0 191.1,211.1 192.2,212.2 193.3,213.2 194.3,214.3 195.4,215.3 196.4,216.4 197.4,217.5 198.5,218.6 199.6,219.6 200.7,220.6 201.6,221.8 202.6,223.0 203.8,223.9 204.9,224.9 205.9,226.0 207.0,227.0 208.0,228.1 208.9,229.3 210.0,230.4 211.2,231.3 212.3,232.4 213.1,233.6 214.2,234.7 215.5,235.5 216.5,236.6 217.4,237.8 218.4,239.0 219.5,240.0 220.7,240.9 221.9,241.9 222.9,242.9 225.9,240.0 224.9,238.9 223.9,237.7 223.0,236.5 222.0,235.4 220.8,234.4 219.6,233.5 218.6,232.5 217.7,231.2 216.7,230.1 215.4,229.2 214.3,228.2 213.4,227.0 212.4,225.9 211.2,225.0 210.0,224.0 209.0,222.9 207.9,221.9 206.9,220.8 206.1,219.5 204.9,218.6 203.7,217.6 202.7,216.5 201.7,215.4 200.6,214.4 199.5,213.3 198.4,212.3 197.3,211.3 196.3,210.2 195.2,209.1 194.2,208.1 193.1,207.0 192.0,205.9 191.0,204.8 190.0,203.8 188.9,202.7 187.8,201.7 186.7,200.7 185.7,199.6 184.6,198.5 183.6,197.5" fill="#a2083e" filter="url(#bl3)"/>
<ellipse cx="201.80" cy="218.75" rx="9.00" ry="3.30" transform="rotate(-45 201.80 218.75)" fill="url(#r21)" opacity="0.9"/>
<polygon points="193.4,212.7 194.4,213.8 195.5,214.8 196.6,215.9 197.6,216.9 198.7,218.0 199.7,219.1 200.8,220.1 201.9,221.2 202.9,222.2 204.0,223.3 205.0,224.4 206.1,225.4 207.2,226.5 208.2,227.5 210.6,225.2 209.5,224.1 208.5,223.0 207.4,222.0 206.4,220.9 205.3,219.9 204.2,218.8 203.2,217.7 202.1,216.7 201.1,215.6 200.0,214.6 198.9,213.5 197.9,212.4 196.8,211.4 195.7,210.3" fill="#a2083e" filter="url(#bl3)"/>
<rect x="201.30" y="203.20" width="1.0" height="33.80" fill="#3f4690" opacity="0.12"/>
<rect x="186.30" y="218.20" width="33.70" height="1.1" fill="#3f4690" opacity="0.65"/>
</g>
<rect x="268.60" y="47.50" width="76.40" height="8.20" rx="1.2" fill="url(#barH)"/>
<path d="M269.50 47.70 Q268.10 51.60 269.50 55.50" stroke="#8a0c2a" stroke-width="1.7" fill="none"/>
<path d="M344.10 47.70 Q345.50 51.60 344.10 55.50" stroke="#8a0c2a" stroke-width="1.7" fill="none"/>
<rect x="318.89" y="47.30" width="1.5" height="8.60" fill="#9e0c2e"/>
<rect x="348.00" y="47.50" width="61.80" height="8.20" rx="1.2" fill="url(#barH)"/>
<path d="M348.90 47.70 Q347.50 51.60 348.90 55.50" stroke="#8a0c2a" stroke-width="1.7" fill="none"/>
<path d="M408.90 47.70 Q410.30 51.60 408.90 55.50" stroke="#8a0c2a" stroke-width="1.7" fill="none"/>
<rect x="369.50" y="47.30" width="1.5" height="8.60" fill="#9e0c2e"/>
<rect x="413.20" y="47.50" width="33.80" height="8.20" rx="1.2" fill="url(#barH)"/>
<path d="M414.10 47.70 Q412.70 51.60 414.10 55.50" stroke="#8a0c2a" stroke-width="1.7" fill="none"/>
<path d="M446.10 47.70 Q447.50 51.60 446.10 55.50" stroke="#8a0c2a" stroke-width="1.7" fill="none"/>
<rect x="428.00" y="47.30" width="1.5" height="8.60" fill="#9e0c2e"/>
<rect x="257.00" y="59.00" width="8.50" height="76.00" rx="1.2" fill="url(#barV)"/>
<path d="M257.20 59.90 Q261.25 58.50 265.30 59.90" stroke="#8a0c2a" stroke-width="1.7" fill="none"/>
<path d="M257.20 134.10 Q261.25 135.50 265.30 134.10" stroke="#8a0c2a" stroke-width="1.7" fill="none"/>
<rect x="256.80" y="109.02" width="8.90" height="1.5" fill="#9e0c2e"/>
<rect x="257.00" y="138.00" width="8.50" height="62.00" rx="1.2" fill="url(#barV)"/>
<path d="M257.20 138.90 Q261.25 137.50 265.30 138.90" stroke="#8a0c2a" stroke-width="1.7" fill="none"/>
<path d="M257.20 199.10 Q261.25 200.50 265.30 199.10" stroke="#8a0c2a" stroke-width="1.7" fill="none"/>
<rect x="256.80" y="159.57" width="8.90" height="1.5" fill="#9e0c2e"/>
<rect x="257.00" y="203.20" width="8.50" height="33.80" rx="1.2" fill="url(#barV)"/>
<path d="M257.20 204.10 Q261.25 202.70 265.30 204.10" stroke="#8a0c2a" stroke-width="1.7" fill="none"/>
<path d="M257.20 236.10 Q261.25 237.50 265.30 236.10" stroke="#8a0c2a" stroke-width="1.7" fill="none"/>
<rect x="256.80" y="218.00" width="8.90" height="1.5" fill="#9e0c2e"/>
<text x="310.50" y="44.73" font-size="8.9" text-anchor="middle" font-weight="bold" font-style="normal" fill="#231f20" stroke="#231f20" stroke-width="0.22" transform="translate(310.50 44.73) scale(1 1.07) translate(-310.50 -44.73)">Chr I</text>
<text x="381.00" y="44.73" font-size="8.9" text-anchor="middle" font-weight="bold" font-style="normal" fill="#231f20" stroke="#231f20" stroke-width="0.22" transform="translate(381.00 44.73) scale(1 1.07) translate(-381.00 -44.73)">Chr II</text>
<text x="433.50" y="44.73" font-size="8.9" text-anchor="middle" font-weight="bold" font-style="normal" fill="#231f20" stroke="#231f20" stroke-width="0.22" transform="translate(433.50 44.73) scale(1 1.07) translate(-433.50 -44.73)">Chr III</text>
<text x="250.20" y="95.39" font-size="8.8" text-anchor="middle" font-weight="bold" font-style="normal" fill="#231f20" stroke="#231f20" stroke-width="0.22" transform="rotate(-90 250.20 92.00) translate(250.20 95.39) scale(1 1.07) translate(-250.20 -95.39)">Chr I</text>
<text x="250.20" y="168.69" font-size="8.8" text-anchor="middle" font-weight="bold" font-style="normal" fill="#231f20" stroke="#231f20" stroke-width="0.22" transform="rotate(-90 250.20 165.30) translate(250.20 168.69) scale(1 1.07) translate(-250.20 -168.69)">Chr II</text>
<text x="250.20" y="221.69" font-size="8.8" text-anchor="middle" font-weight="bold" font-style="normal" fill="#231f20" stroke="#231f20" stroke-width="0.22" transform="rotate(-90 250.20 218.30) translate(250.20 221.69) scale(1 1.07) translate(-250.20 -221.69)">Chr III</text>
<g clip-path="url(#c22)">
<rect x="268.60" y="59.00" width="76.40" height="76.00" fill="#4b559f"/>
<polygon points="273.79,45.81 358.19,129.81 339.81,148.19 255.41,64.19" fill="url(#g23)"/>
<g fill="#3a90b8" opacity="0.9" filter="url(#bl10)"><rect x="265.6" y="56.0" width="10.5" height="10.5"/><rect x="275.4" y="65.7" width="13.3" height="13.3"/><rect x="288.4" y="78.7" width="11.4" height="11.4"/><rect x="297.7" y="87.9" width="13.7" height="13.7"/><rect x="310.2" y="100.3" width="11.5" height="11.5"/><rect x="320.8" y="110.9" width="12.0" height="12.0"/><rect x="332.1" y="122.1" width="10.6" height="10.6"/><rect x="340.6" y="130.6" width="14.5" height="14.5"/></g>
<g fill="#80caa6" opacity="0.9" filter="url(#bl6)"><rect x="266.4" y="56.8" width="9.0" height="9.0"/><rect x="276.3" y="66.7" width="11.3" height="11.3"/><rect x="289.3" y="79.6" width="9.7" height="9.7"/><rect x="298.7" y="88.9" width="11.6" height="11.6"/><rect x="311.0" y="101.2" width="9.8" height="9.8"/><rect x="321.7" y="111.8" width="10.2" height="10.2"/><rect x="332.9" y="122.9" width="9.0" height="9.0"/><rect x="341.7" y="131.7" width="12.3" height="12.3"/></g>
<g fill="#e8eca6" opacity="0.9" filter="url(#bl6)"><rect x="267.4" y="57.8" width="7.0" height="7.0"/><rect x="277.6" y="68.0" width="8.8" height="8.8"/><rect x="290.3" y="80.6" width="7.5" height="7.5"/><rect x="300.0" y="90.2" width="9.0" height="9.0"/><rect x="312.1" y="102.3" width="7.6" height="7.6"/><rect x="322.8" y="112.9" width="7.9" height="7.9"/><rect x="333.9" y="123.9" width="7.0" height="7.0"/><rect x="343.1" y="133.1" width="9.6" height="9.6"/></g>
<polygon points="258.0,61.1 259.1,62.2 260.1,63.3 261.2,64.3 262.3,65.4 263.3,66.5 264.3,67.6 265.3,68.7 266.4,69.7 267.5,70.7 268.6,71.7 269.4,73.1 270.2,74.4 271.0,75.7 272.4,76.5 273.8,77.2 274.9,78.2 275.8,79.4 276.7,80.7 277.8,81.7 279.0,82.5 280.3,83.4 281.1,84.7 281.7,86.2 282.4,87.7 283.6,88.6 285.1,89.2 286.6,89.9 287.6,90.9 288.4,92.3 289.6,93.2 290.9,94.0 292.0,95.1 292.9,96.2 294.0,97.3 295.1,98.3 296.3,99.3 297.3,100.4 298.2,101.6 299.1,102.7 300.2,103.8 301.4,104.7 302.6,105.6 303.6,106.8 304.3,108.2 305.1,109.5 306.1,110.6 307.5,111.4 308.9,112.1 310.1,113.0 311.2,114.1 312.2,115.1 313.3,116.2 314.4,117.2 315.1,118.6 315.4,120.5 316.9,121.1 318.6,121.5 319.6,122.6 320.5,123.8 321.7,124.8 322.8,125.7 323.6,127.1 324.2,128.6 324.9,130.0 325.9,131.1 327.4,131.7 328.9,132.4 330.1,133.3 330.4,135.1 331.7,136.0 333.5,136.3 334.1,137.8 334.7,139.3 336.2,139.9 337.8,140.5 338.8,141.5 339.9,142.6 340.9,143.7 342.0,144.7 343.1,145.8 355.8,133.0 354.7,132.0 353.6,130.9 352.6,129.8 351.5,128.8 350.5,127.7 349.8,126.2 349.2,124.7 347.8,124.1 346.2,123.5 345.9,121.7 345.0,120.4 343.2,120.1 342.3,118.9 341.7,117.4 341.0,115.9 339.9,114.9 338.4,114.3 336.9,113.7 335.6,112.9 334.6,111.7 333.6,110.6 332.5,109.6 331.3,108.7 330.9,106.9 330.3,105.4 328.5,105.1 327.1,104.5 326.0,103.4 325.0,102.3 323.9,101.3 322.8,100.2 321.9,99.0 321.2,97.6 320.4,96.3 319.3,95.2 317.9,94.5 316.6,93.7 315.4,92.8 314.5,91.6 313.5,90.4 312.5,89.3 311.3,88.4 310.1,87.4 309.0,86.4 308.0,85.3 307.0,84.2 305.9,83.1 304.8,82.2 303.7,81.1 302.9,79.8 302.0,78.6 300.6,77.8 299.6,76.8 298.9,75.3 298.2,73.9 297.3,72.6 295.9,72.0 294.4,71.3 293.1,70.6 292.2,69.3 291.3,68.1 290.3,66.9 289.1,66.1 287.8,65.2 286.8,64.1 286.1,62.7 285.4,61.3 284.1,60.5 282.7,59.8 281.3,59.0 280.3,57.8 279.3,56.7 278.3,55.6 277.2,54.6 276.1,53.6 274.9,52.6 273.9,51.6 272.8,50.5 271.8,49.4 270.7,48.4" fill="#3d95b6" filter="url(#bl10)"/>
<polygon points="259.7,59.4 260.8,60.5 261.8,61.6 262.9,62.6 263.9,63.7 265.0,64.8 266.0,65.9 267.0,67.0 268.1,68.0 269.2,69.0 270.3,70.0 271.2,71.3 272.0,72.6 272.8,73.9 274.2,74.7 275.5,75.5 276.6,76.4 277.5,77.7 278.4,78.9 279.5,79.9 280.8,80.8 282.0,81.7 282.8,83.0 283.5,84.4 284.3,85.8 285.5,86.7 286.9,87.4 288.3,88.1 289.3,89.2 290.2,90.5 291.3,91.4 292.6,92.3 293.7,93.4 294.7,94.5 295.7,95.6 296.8,96.6 298.0,97.6 299.0,98.7 299.9,99.8 300.9,101.0 302.0,102.0 303.1,103.0 304.3,103.9 305.3,105.1 306.1,106.4 306.9,107.7 308.0,108.8 309.3,109.6 310.6,110.4 311.8,111.3 312.9,112.4 313.9,113.4 315.0,114.5 316.0,115.5 316.8,116.9 317.3,118.6 318.7,119.3 320.3,119.8 321.3,120.9 322.3,122.0 323.4,123.0 324.5,124.0 325.4,125.3 326.1,126.7 326.8,128.1 327.8,129.2 329.2,129.9 330.7,130.6 331.9,131.5 332.3,133.2 333.5,134.1 335.2,134.6 335.9,136.0 336.6,137.4 338.0,138.1 339.4,138.8 340.5,139.8 341.6,140.9 342.6,142.0 343.7,143.0 344.8,144.1 354.1,134.7 353.0,133.7 351.9,132.6 350.9,131.5 349.8,130.5 348.8,129.4 348.1,128.0 347.4,126.5 346.0,125.8 344.5,125.2 344.1,123.5 343.2,122.3 341.5,121.9 340.5,120.7 339.8,119.3 339.1,117.8 338.1,116.8 336.6,116.1 335.2,115.4 333.9,114.6 332.9,113.5 331.9,112.3 330.8,111.4 329.6,110.4 329.1,108.8 328.4,107.3 326.7,106.9 325.4,106.2 324.3,105.1 323.3,104.0 322.2,103.0 321.1,101.9 320.2,100.7 319.4,99.4 318.6,98.1 317.5,97.1 316.2,96.3 314.9,95.5 313.7,94.5 312.8,93.3 311.8,92.1 310.8,91.1 309.6,90.1 308.4,89.2 307.3,88.1 306.3,87.0 305.3,85.9 304.2,84.9 303.1,83.9 302.0,82.8 301.2,81.6 300.2,80.4 298.9,79.6 297.8,78.5 297.1,77.1 296.4,75.7 295.5,74.5 294.1,73.8 292.7,73.1 291.4,72.3 290.5,71.0 289.6,69.8 288.5,68.7 287.3,67.8 286.1,66.9 285.1,65.8 284.3,64.5 283.5,63.1 282.3,62.3 280.9,61.5 279.6,60.7 278.6,59.6 277.6,58.5 276.6,57.4 275.5,56.4 274.4,55.3 273.3,54.3 272.2,53.3 271.1,52.2 270.1,51.1 269.0,50.1" fill="#9cd4a2" filter="url(#bl6)"/>
<polygon points="260.8,58.3 261.9,59.4 262.9,60.4 264.0,61.5 265.1,62.5 266.1,63.6 267.1,64.7 268.2,65.8 269.3,66.8 270.4,67.9 271.4,68.9 272.4,70.1 273.2,71.4 274.1,72.6 275.4,73.4 276.7,74.3 277.8,75.3 278.7,76.5 279.7,77.7 280.8,78.7 281.9,79.6 283.1,80.6 284.0,81.8 284.8,83.1 285.7,84.4 286.8,85.3 288.1,86.2 289.4,87.0 290.5,88.0 291.4,89.3 292.5,90.2 293.8,91.1 294.8,92.2 295.8,93.3 296.9,94.4 298.0,95.4 299.1,96.4 300.1,97.5 301.1,98.6 302.1,99.8 303.2,100.8 304.3,101.8 305.4,102.8 306.5,103.9 307.3,105.1 308.2,106.4 309.3,107.5 310.5,108.3 311.8,109.2 312.9,110.2 314.0,111.2 315.0,112.3 316.1,113.3 317.2,114.4 318.0,115.7 318.6,117.2 319.9,118.0 321.4,118.6 322.4,119.7 323.4,120.9 324.5,121.9 325.7,122.9 326.6,124.1 327.4,125.4 328.2,126.7 329.2,127.8 330.5,128.6 331.9,129.4 333.0,130.4 333.6,131.9 334.8,132.8 336.3,133.4 337.1,134.8 337.9,136.1 339.2,136.9 340.6,137.7 341.6,138.7 342.7,139.8 343.8,140.8 344.8,141.9 345.9,142.9 352.9,135.9 351.9,134.8 350.8,133.7 349.8,132.7 348.7,131.6 347.6,130.6 346.8,129.2 346.1,127.9 344.7,127.1 343.4,126.3 342.8,124.8 341.8,123.6 340.3,123.1 339.3,121.9 338.5,120.6 337.7,119.2 336.7,118.2 335.3,117.4 334.0,116.6 332.8,115.7 331.8,114.6 330.7,113.5 329.6,112.5 328.5,111.5 327.8,110.0 327.0,108.7 325.5,108.1 324.2,107.3 323.2,106.2 322.1,105.2 321.1,104.1 320.0,103.1 319.0,101.9 318.1,100.6 317.3,99.4 316.2,98.4 314.9,97.5 313.7,96.6 312.6,95.6 311.6,94.5 310.6,93.3 309.6,92.3 308.4,91.3 307.3,90.3 306.2,89.3 305.2,88.2 304.2,87.1 303.1,86.0 301.9,85.0 300.9,84.0 300.0,82.8 299.0,81.6 297.7,80.7 296.7,79.7 295.9,78.4 295.0,77.1 294.1,75.9 292.8,75.1 291.5,74.3 290.2,73.4 289.3,72.2 288.3,71.1 287.3,70.0 286.1,69.0 284.9,68.1 283.9,67.0 283.1,65.7 282.2,64.5 281.0,63.5 279.7,62.7 278.5,61.8 277.5,60.7 276.4,59.6 275.4,58.5 274.3,57.5 273.2,56.5 272.1,55.5 271.1,54.4 270.0,53.3 268.9,52.3 267.9,51.2" fill="#eeeca6" filter="url(#bl6)"/>
<polygon points="262.7,56.5 263.7,57.5 264.8,58.6 265.8,59.6 266.9,60.7 268.0,61.8 269.0,62.8 270.1,63.9 271.1,65.0 272.2,66.0 273.3,67.1 274.3,68.2 275.2,69.3 276.2,70.5 277.4,71.4 278.6,72.4 279.6,73.4 280.7,74.5 281.7,75.6 282.7,76.7 283.9,77.7 285.0,78.7 286.0,79.8 286.9,81.0 287.9,82.2 289.0,83.2 290.1,84.1 291.3,85.1 292.4,86.1 293.4,87.3 294.5,88.3 295.6,89.3 296.7,90.3 297.7,91.4 298.8,92.5 299.8,93.5 300.9,94.6 302.0,95.6 303.0,96.7 304.0,97.8 305.1,98.9 306.2,99.9 307.3,100.9 308.3,102.0 309.3,103.1 310.3,104.3 311.4,105.4 312.5,106.3 313.7,107.3 314.8,108.3 315.8,109.4 316.9,110.4 317.9,111.5 319.0,112.5 320.0,113.7 320.8,115.0 322.0,115.9 323.3,116.8 324.3,117.9 325.3,118.9 326.4,120.0 327.5,121.0 328.5,122.1 329.4,123.3 330.4,124.5 331.4,125.6 332.6,126.5 333.8,127.4 334.9,128.5 335.8,129.7 336.9,130.7 338.2,131.6 339.1,132.8 340.0,134.0 341.2,134.9 342.4,135.8 343.5,136.9 344.5,137.9 345.6,139.0 346.7,140.0 347.7,141.1 351.1,137.7 350.1,136.6 349.0,135.6 347.9,134.5 346.9,133.5 345.8,132.4 344.9,131.2 343.9,130.0 342.7,129.1 341.5,128.2 340.7,126.9 339.7,125.8 338.4,125.0 337.4,123.8 336.4,122.7 335.5,121.5 334.4,120.4 333.2,119.5 332.1,118.6 330.9,117.6 329.9,116.5 328.8,115.4 327.7,114.4 326.7,113.4 325.8,112.1 324.8,110.9 323.6,110.1 322.4,109.1 321.3,108.1 320.3,107.0 319.2,106.0 318.1,104.9 317.1,103.8 316.2,102.7 315.2,101.5 314.1,100.5 313.0,99.5 311.8,98.5 310.7,97.5 309.7,96.4 308.7,95.3 307.6,94.2 306.5,93.2 305.4,92.2 304.3,91.1 303.3,90.1 302.3,89.0 301.2,87.9 300.1,86.9 299.0,85.8 298.0,84.7 297.0,83.6 295.9,82.6 294.8,81.6 293.8,80.4 292.9,79.2 291.9,78.1 290.7,77.2 289.5,76.3 288.4,75.3 287.4,74.2 286.4,73.0 285.3,72.0 284.2,71.0 283.1,70.0 282.0,68.9 281.1,67.7 280.1,66.6 279.0,65.6 277.8,64.6 276.7,63.6 275.6,62.6 274.6,61.5 273.5,60.4 272.4,59.4 271.4,58.3 270.3,57.3 269.2,56.2 268.2,55.2 267.1,54.1 266.0,53.1" fill="#e8704c" filter="url(#bl3)"/>
<polygon points="263.0,56.1 264.1,57.1 265.2,58.2 266.2,59.3 267.3,60.3 268.3,61.4 269.4,62.4 270.5,63.5 271.5,64.6 272.6,65.6 273.7,66.7 274.7,67.8 275.7,68.9 276.7,70.0 277.8,71.0 279.0,72.0 280.0,73.0 281.1,74.1 282.1,75.2 283.2,76.3 284.3,77.3 285.4,78.3 286.4,79.4 287.3,80.6 288.3,81.7 289.4,82.7 290.6,83.7 291.7,84.7 292.8,85.7 293.8,86.9 294.9,87.9 296.0,88.9 297.1,89.9 298.1,91.0 299.2,92.1 300.2,93.1 301.3,94.2 302.4,95.2 303.4,96.3 304.4,97.4 305.5,98.5 306.6,99.5 307.7,100.5 308.7,101.6 309.7,102.7 310.7,103.9 311.8,104.9 312.9,105.9 314.0,106.9 315.1,107.9 316.2,109.0 317.3,110.0 318.3,111.1 319.4,112.1 320.4,113.3 321.3,114.5 322.4,115.5 323.7,116.4 324.7,117.5 325.7,118.5 326.8,119.6 327.9,120.6 328.9,121.7 329.9,122.9 330.8,124.0 331.9,125.1 333.1,126.1 334.2,127.0 335.3,128.1 336.2,129.3 337.3,130.3 338.5,131.2 339.5,132.4 340.5,133.5 341.6,134.5 342.8,135.4 343.9,136.5 344.9,137.5 346.0,138.6 347.1,139.7 348.1,140.7 350.7,138.1 349.7,137.0 348.6,136.0 347.5,134.9 346.5,133.9 345.4,132.8 344.4,131.6 343.5,130.5 342.3,129.5 341.2,128.6 340.3,127.3 339.2,126.2 338.0,125.4 337.0,124.3 336.0,123.1 335.0,121.9 334.0,120.9 332.8,119.9 331.7,119.0 330.5,118.0 329.5,116.9 328.4,115.8 327.4,114.8 326.3,113.8 325.4,112.5 324.4,111.4 323.2,110.5 322.0,109.5 321.0,108.5 319.9,107.4 318.8,106.3 317.8,105.3 316.7,104.2 315.7,103.1 314.7,101.9 313.7,100.9 312.5,99.9 311.4,98.9 310.3,97.9 309.3,96.8 308.3,95.7 307.2,94.6 306.1,93.6 305.0,92.6 303.9,91.5 302.9,90.5 301.9,89.4 300.8,88.3 299.7,87.3 298.6,86.2 297.6,85.1 296.6,84.0 295.5,83.0 294.4,82.0 293.4,80.8 292.5,79.7 291.4,78.6 290.3,77.6 289.1,76.7 288.0,75.7 287.0,74.6 286.0,73.5 284.9,72.4 283.8,71.4 282.7,70.4 281.6,69.3 280.7,68.2 279.7,67.0 278.5,66.0 277.4,65.0 276.3,64.0 275.2,63.0 274.2,61.9 273.1,60.8 272.1,59.8 271.0,58.7 269.9,57.7 268.8,56.6 267.8,55.6 266.7,54.5 265.7,53.5" fill="#a2083e" filter="url(#bl3)"/>
<ellipse cx="319.64" cy="109.77" rx="9.00" ry="3.30" transform="rotate(-45 319.64 109.77)" fill="url(#r24)" opacity="0.9"/>
<polygon points="311.3,103.6 312.4,104.6 313.5,105.7 314.5,106.8 315.6,107.8 316.6,108.9 317.7,109.9 318.8,111.0 319.8,112.1 320.9,113.1 322.0,114.2 323.0,115.2 324.1,116.3 325.1,117.4 326.2,118.4 328.3,116.3 327.2,115.3 326.2,114.2 325.1,113.1 324.0,112.1 323.0,111.0 321.9,110.0 320.9,108.9 319.8,107.8 318.7,106.8 317.7,105.7 316.6,104.7 315.6,103.6 314.5,102.5 313.4,101.5" fill="#a2083e" filter="url(#bl3)"/>
<rect x="319.14" y="59.00" width="1.0" height="76.00" fill="#3f4690" opacity="0.12"/>
<rect x="268.60" y="109.22" width="76.40" height="1.1" fill="#3f4690" opacity="0.65"/>
</g>
<g clip-path="url(#c25)">
<rect x="348.00" y="59.00" width="61.80" height="76.00" fill="#4b559f"/>
<rect x="369.75" y="59.00" width="1.0" height="76.00" fill="#3f4690" opacity="0.12"/>
<rect x="348.00" y="109.22" width="61.80" height="1.1" fill="#3f4690" opacity="0.65"/>
<polygon points="374.3,112.0 374.5,114.0 372.5,113.9 370.2,110.9 368.0,113.9 366.0,114.0 366.2,112.0 369.1,109.8 366.2,107.5 366.0,105.5 368.0,105.7 370.2,108.7 372.5,105.7 374.5,105.5 374.3,107.5 371.3,109.8" fill="url(#r26)" filter="url(#bl6)"/>
</g>
<g clip-path="url(#c27)">
<rect x="413.20" y="59.00" width="33.80" height="76.00" fill="#4b559f"/>
<rect x="428.25" y="59.00" width="1.0" height="76.00" fill="#3f4690" opacity="0.12"/>
<rect x="413.20" y="109.22" width="33.80" height="1.1" fill="#3f4690" opacity="0.65"/>
<polygon points="432.8,112.0 433.0,114.0 431.0,113.9 428.7,110.9 426.5,113.9 424.5,114.0 424.7,112.0 427.6,109.8 424.7,107.5 424.5,105.5 426.5,105.7 428.7,108.7 431.0,105.7 433.0,105.5 432.8,107.5 429.8,109.8" fill="url(#r28)" filter="url(#bl6)"/>
</g>
<g clip-path="url(#c29)">
<rect x="268.60" y="138.00" width="76.40" height="62.00" fill="#4b559f"/>
<rect x="319.14" y="138.00" width="1.0" height="62.00" fill="#3f4690" opacity="0.12"/>
<rect x="268.60" y="159.77" width="76.40" height="1.1" fill="#3f4690" opacity="0.65"/>
<polygon points="323.7,162.6 323.9,164.6 321.9,164.4 319.6,161.4 317.4,164.4 315.4,164.6 315.5,162.6 318.5,160.3 315.5,158.1 315.4,156.0 317.4,156.2 319.6,159.2 321.9,156.2 323.9,156.0 323.7,158.1 320.7,160.3" fill="url(#r30)" filter="url(#bl6)"/>
</g>
<g clip-path="url(#c31)">
<rect x="348.00" y="138.00" width="61.80" height="62.00" fill="#4b559f"/>
<polygon points="353.19,124.81 422.99,194.81 404.61,213.19 334.81,143.19" fill="url(#g32)"/>
<g fill="#3a90b8" opacity="0.9" filter="url(#bl10)"><rect x="345.0" y="135.0" width="14.8" height="14.8"/><rect x="356.2" y="146.2" width="13.7" height="13.7"/><rect x="367.0" y="157.0" width="14.9" height="14.9"/><rect x="378.2" y="168.3" width="14.4" height="14.4"/><rect x="391.5" y="181.6" width="14.3" height="14.3"/><rect x="405.8" y="195.9" width="11.2" height="11.2"/></g>
<g fill="#80caa6" opacity="0.9" filter="url(#bl6)"><rect x="346.1" y="136.1" width="12.6" height="12.6"/><rect x="357.2" y="147.2" width="11.6" height="11.6"/><rect x="368.1" y="158.1" width="12.7" height="12.7"/><rect x="379.3" y="169.4" width="12.2" height="12.2"/><rect x="392.5" y="182.7" width="12.1" height="12.1"/><rect x="406.6" y="196.8" width="9.5" height="9.5"/></g>
<g fill="#e8eca6" opacity="0.9" filter="url(#bl6)"><rect x="347.5" y="137.5" width="9.8" height="9.8"/><rect x="358.5" y="148.5" width="9.0" height="9.0"/><rect x="369.5" y="159.6" width="9.9" height="9.9"/><rect x="380.7" y="170.8" width="9.5" height="9.5"/><rect x="393.9" y="184.1" width="9.4" height="9.4"/><rect x="407.7" y="197.9" width="7.4" height="7.4"/></g>
<polygon points="337.4,140.1 338.4,141.2 339.5,142.2 340.6,143.3 341.6,144.4 342.2,145.9 343.1,147.2 344.6,147.7 345.7,148.8 346.4,150.1 347.2,151.5 348.5,152.3 349.9,153.1 351.0,154.0 351.6,155.6 352.1,157.2 353.3,158.2 354.9,158.7 356.4,159.3 356.8,161.0 357.2,162.7 358.6,163.4 360.3,163.8 361.6,164.7 362.2,166.2 363.4,167.1 364.9,167.8 365.6,169.1 366.3,170.6 367.0,172.0 368.4,172.7 369.9,173.4 371.3,174.1 372.2,175.3 373.1,176.5 374.1,177.6 375.3,178.6 376.5,179.5 377.5,180.6 377.9,182.3 378.4,184.0 379.9,184.5 381.6,185.0 382.8,185.9 383.6,187.2 384.6,188.4 385.8,189.2 387.1,190.1 388.2,191.1 389.3,192.2 390.3,193.2 391.2,194.4 391.5,196.3 393.0,196.9 394.3,197.7 394.7,199.4 395.5,200.8 397.2,201.2 398.8,201.8 399.7,203.0 400.6,204.2 401.7,205.2 402.9,206.1 404.0,207.2 404.3,208.9 405.6,209.7 407.3,210.2 408.3,211.3 421.1,198.6 420.0,197.5 419.6,195.9 418.7,194.6 417.0,194.2 415.9,193.1 415.0,191.9 414.0,190.8 412.8,189.9 411.6,189.0 411.0,187.4 410.6,185.7 409.3,184.9 407.6,184.5 406.8,183.2 406.2,181.7 404.3,181.4 403.1,180.5 402.0,179.4 401.0,178.4 399.9,177.3 399.1,176.0 398.3,174.7 397.1,173.8 395.8,173.0 394.9,171.7 394.4,170.1 393.9,168.5 392.2,168.1 390.5,167.6 389.4,166.6 388.5,165.4 387.5,164.2 386.4,163.3 385.2,162.3 384.0,161.4 383.3,160.0 382.7,158.5 382.0,157.1 380.5,156.4 379.1,155.7 377.7,155.0 377.1,153.5 376.1,152.3 374.7,151.6 373.8,150.4 373.4,148.7 372.7,147.3 370.9,146.9 369.2,146.5 368.7,144.9 368.1,143.3 367.2,142.1 365.6,141.6 364.0,141.1 363.1,139.9 362.3,138.5 361.5,137.2 360.2,136.5 358.8,135.7 357.8,134.6 357.2,133.1 355.9,132.2 354.4,131.6 353.3,130.6 352.3,129.5 351.2,128.5 350.1,127.4" fill="#3d95b6" filter="url(#bl10)"/>
<polygon points="339.1,138.4 340.1,139.5 341.2,140.5 342.3,141.6 343.3,142.7 344.0,144.1 344.9,145.3 346.3,146.0 347.4,147.1 348.2,148.4 349.0,149.7 350.3,150.5 351.6,151.4 352.8,152.3 353.4,153.8 354.0,155.3 355.1,156.3 356.7,156.9 358.1,157.6 358.6,159.2 359.1,160.8 360.5,161.6 362.1,162.1 363.3,163.0 364.0,164.4 365.2,165.4 366.6,166.1 367.4,167.4 368.1,168.8 368.9,170.2 370.2,170.9 371.6,171.6 373.0,172.4 373.9,173.6 374.9,174.7 375.9,175.9 377.0,176.8 378.2,177.8 379.2,178.9 379.7,180.5 380.3,182.0 381.8,182.7 383.3,183.3 384.5,184.2 385.4,185.4 386.3,186.6 387.6,187.5 388.8,188.4 389.9,189.4 391.0,190.5 392.0,191.5 393.0,192.7 393.3,194.5 394.8,195.1 396.1,196.0 396.6,197.6 397.4,198.9 399.0,199.4 400.5,200.1 401.4,201.2 402.3,202.4 403.4,203.5 404.6,204.4 405.7,205.5 406.2,207.1 407.4,208.0 409.0,208.5 410.0,209.6 419.4,200.3 418.3,199.2 417.8,197.7 416.9,196.4 415.3,195.9 414.2,194.9 413.3,193.7 412.3,192.5 411.1,191.6 409.9,190.7 409.2,189.2 408.7,187.6 407.4,186.8 405.8,186.3 405.0,185.0 404.3,183.5 402.6,183.1 401.4,182.2 400.3,181.1 399.3,180.1 398.2,179.0 397.4,177.8 396.5,176.5 395.3,175.5 394.1,174.7 393.1,173.5 392.6,171.9 391.9,170.4 390.4,169.9 388.8,169.3 387.7,168.3 386.7,167.2 385.8,166.0 384.7,165.0 383.5,164.0 382.3,163.1 381.6,161.7 380.8,160.3 380.1,159.0 378.7,158.2 377.3,157.5 376.0,156.7 375.3,155.3 374.3,154.1 372.9,153.4 372.0,152.2 371.5,150.5 370.7,149.2 369.1,148.7 367.5,148.2 366.9,146.7 366.3,145.2 365.3,144.0 363.8,143.4 362.3,142.8 361.3,141.6 360.5,140.3 359.7,139.1 358.4,138.3 357.1,137.4 356.0,136.4 355.4,134.9 354.1,134.0 352.7,133.3 351.6,132.3 350.6,131.2 349.5,130.2 348.4,129.1" fill="#9cd4a2" filter="url(#bl6)"/>
<polygon points="340.2,137.3 341.3,138.3 342.3,139.4 343.4,140.5 344.5,141.5 345.2,142.9 346.2,144.1 347.5,144.8 348.6,145.9 349.5,147.1 350.3,148.4 351.5,149.3 352.8,150.2 353.9,151.2 354.6,152.6 355.4,153.9 356.5,154.9 357.9,155.7 359.3,156.4 359.9,157.9 360.6,159.4 361.8,160.2 363.3,160.9 364.5,161.8 365.3,163.1 366.4,164.1 367.7,164.9 368.6,166.2 369.4,167.5 370.2,168.8 371.5,169.6 372.8,170.4 374.1,171.3 375.1,172.4 376.1,173.6 377.1,174.7 378.2,175.7 379.3,176.6 380.4,177.7 381.1,179.2 381.7,180.6 383.1,181.4 384.5,182.1 385.7,183.0 386.6,184.2 387.6,185.4 388.8,186.3 390.0,187.2 391.1,188.3 392.1,189.3 393.2,190.4 394.1,191.6 394.7,193.1 396.0,193.9 397.3,194.8 397.9,196.3 398.8,197.5 400.3,198.2 401.6,198.9 402.6,200.1 403.5,201.2 404.6,202.3 405.8,203.2 406.8,204.3 407.5,205.8 408.7,206.7 410.1,207.4 411.2,208.5 418.3,201.4 417.2,200.3 416.5,198.9 415.6,197.7 414.1,197.1 413.0,196.0 412.1,194.8 411.1,193.7 409.9,192.8 408.7,191.8 408.0,190.5 407.3,189.0 406.1,188.1 404.6,187.4 403.7,186.2 403.0,184.9 401.4,184.3 400.3,183.3 399.2,182.3 398.1,181.2 397.1,180.1 396.2,178.9 395.2,177.7 394.1,176.8 392.9,175.8 391.9,174.7 391.3,173.2 390.5,171.9 389.1,171.2 387.6,170.5 386.5,169.5 385.6,168.3 384.6,167.2 383.5,166.2 382.3,165.2 381.2,164.2 380.4,162.9 379.5,161.6 378.7,160.3 377.4,159.5 376.1,158.7 374.9,157.8 374.1,156.5 373.1,155.4 371.8,154.5 370.8,153.4 370.2,151.9 369.3,150.6 367.8,150.0 366.4,149.3 365.6,148.0 364.9,146.6 363.9,145.4 362.5,144.7 361.1,144.0 360.2,142.8 359.3,141.6 358.4,140.4 357.1,139.5 355.9,138.6 354.8,137.5 354.1,136.2 352.9,135.2 351.5,134.5 350.5,133.4 349.4,132.3 348.4,131.3 347.3,130.2" fill="#eeeca6" filter="url(#bl6)"/>
<polygon points="342.1,135.4 343.1,136.5 344.2,137.6 345.2,138.6 346.3,139.7 347.2,140.9 348.2,142.0 349.4,142.9 350.5,144.0 351.5,145.1 352.4,146.3 353.6,147.3 354.7,148.3 355.8,149.3 356.7,150.5 357.6,151.7 358.7,152.7 359.9,153.6 361.1,154.6 362.0,155.8 362.9,157.1 364.0,158.0 365.3,158.9 366.4,159.9 367.3,161.1 368.4,162.1 369.6,163.1 370.6,164.2 371.5,165.4 372.5,166.6 373.6,167.5 374.8,168.5 375.9,169.4 377.0,170.5 378.0,171.6 379.0,172.7 380.1,173.7 381.2,174.8 382.3,175.9 383.2,177.1 384.0,178.3 385.2,179.2 386.5,180.1 387.6,181.2 388.6,182.3 389.6,183.4 390.7,184.4 391.8,185.4 392.9,186.4 394.0,187.5 395.0,188.6 396.0,189.7 396.9,191.0 398.0,191.9 399.2,192.9 400.1,194.1 401.0,195.3 402.3,196.1 403.5,197.1 404.5,198.2 405.5,199.3 406.6,200.3 407.7,201.3 408.7,202.4 409.6,203.7 410.7,204.7 412.0,205.6 413.0,206.6 416.4,203.2 415.4,202.2 414.5,200.9 413.5,199.8 412.2,198.9 411.2,197.9 410.1,196.8 409.1,195.7 408.0,194.7 406.9,193.7 406.0,192.5 405.1,191.2 404.0,190.2 402.7,189.4 401.7,188.2 400.8,187.0 399.5,186.2 398.4,185.2 397.4,184.1 396.3,183.0 395.2,182.0 394.2,180.9 393.2,179.7 392.2,178.7 391.0,177.7 390.0,176.6 389.1,175.4 388.2,174.2 387.0,173.3 385.7,172.4 384.7,171.3 383.6,170.2 382.6,169.1 381.5,168.1 380.4,167.1 379.4,166.0 378.4,164.9 377.4,163.7 376.5,162.6 375.3,161.6 374.1,160.6 373.0,159.7 372.1,158.5 371.0,157.4 369.9,156.4 368.9,155.3 368.0,154.1 367.0,152.9 365.8,152.1 364.5,151.2 363.6,150.0 362.7,148.8 361.7,147.7 360.5,146.7 359.3,145.8 358.2,144.7 357.3,143.6 356.3,142.5 355.1,141.5 354.0,140.5 352.9,139.4 352.0,138.2 350.9,137.2 349.7,136.3 348.6,135.2 347.6,134.2 346.5,133.1 345.5,132.1" fill="#e8704c" filter="url(#bl3)"/>
<polygon points="342.5,135.1 343.5,136.1 344.6,137.2 345.6,138.2 346.7,139.3 347.6,140.5 348.7,141.6 349.8,142.5 350.9,143.6 351.9,144.7 352.9,145.9 354.0,146.9 355.1,147.9 356.2,148.9 357.1,150.1 358.1,151.3 359.2,152.3 360.3,153.2 361.5,154.2 362.4,155.4 363.3,156.6 364.5,157.6 365.7,158.5 366.8,159.5 367.7,160.7 368.8,161.7 370.0,162.7 371.0,163.8 371.9,165.0 372.9,166.1 374.1,167.1 375.2,168.1 376.3,169.1 377.4,170.1 378.4,171.2 379.4,172.3 380.5,173.3 381.6,174.4 382.7,175.5 383.6,176.7 384.5,177.9 385.7,178.8 386.9,179.7 388.0,180.8 389.0,181.9 390.0,183.0 391.1,184.0 392.2,185.0 393.3,186.1 394.3,187.1 395.4,188.2 396.4,189.3 397.3,190.5 398.5,191.5 399.6,192.5 400.5,193.7 401.5,194.8 402.7,195.7 403.9,196.7 404.9,197.8 405.9,198.9 407.0,199.9 408.1,201.0 409.1,202.0 410.0,203.2 411.2,204.2 412.3,205.2 413.4,206.2 416.0,203.6 415.0,202.6 414.0,201.4 413.0,200.3 411.8,199.3 410.8,198.3 409.7,197.2 408.7,196.1 407.6,195.1 406.5,194.1 405.6,192.9 404.6,191.7 403.5,190.7 402.3,189.8 401.3,188.6 400.4,187.5 399.1,186.6 398.0,185.6 397.0,184.5 395.9,183.4 394.9,182.4 393.8,181.3 392.8,180.1 391.7,179.1 390.6,178.1 389.6,177.0 388.7,175.8 387.7,174.6 386.5,173.7 385.4,172.8 384.3,171.7 383.2,170.6 382.2,169.6 381.1,168.5 380.0,167.5 379.0,166.4 378.0,165.3 377.0,164.1 376.0,163.0 374.9,162.0 373.7,161.1 372.6,160.1 371.7,158.9 370.6,157.8 369.5,156.8 368.5,155.7 367.5,154.5 366.6,153.4 365.3,152.5 364.1,151.6 363.2,150.4 362.3,149.2 361.2,148.1 360.0,147.2 358.9,146.2 357.8,145.1 356.8,144.0 355.8,142.9 354.7,141.9 353.6,140.9 352.5,139.8 351.6,138.7 350.5,137.7 349.3,136.7 348.3,135.6 347.2,134.6 346.1,133.5 345.1,132.4" fill="#a2083e" filter="url(#bl3)"/>
<ellipse cx="370.25" cy="160.32" rx="9.00" ry="3.30" transform="rotate(-45 370.25 160.32)" fill="url(#r33)" opacity="0.9"/>
<polygon points="362.0,154.1 363.0,155.2 364.1,156.2 365.1,157.3 366.2,158.4 367.3,159.4 368.3,160.5 369.4,161.5 370.4,162.6 371.5,163.7 372.6,164.7 373.6,165.8 374.7,166.9 375.7,167.9 376.8,169.0 378.9,166.9 377.8,165.8 376.8,164.8 375.7,163.7 374.7,162.6 373.6,161.6 372.5,160.5 371.5,159.5 370.4,158.4 369.4,157.3 368.3,156.3 367.2,155.2 366.2,154.2 365.1,153.1 364.1,152.0" fill="#a2083e" filter="url(#bl3)"/>
<rect x="369.75" y="138.00" width="1.0" height="62.00" fill="#3f4690" opacity="0.12"/>
<rect x="348.00" y="159.77" width="61.80" height="1.1" fill="#3f4690" opacity="0.65"/>
</g>
<g clip-path="url(#c34)">
<rect x="413.20" y="138.00" width="33.80" height="62.00" fill="#4b559f"/>
<rect x="428.25" y="138.00" width="1.0" height="62.00" fill="#3f4690" opacity="0.12"/>
<rect x="413.20" y="159.77" width="33.80" height="1.1" fill="#3f4690" opacity="0.65"/>
<polygon points="432.8,162.6 433.0,164.6 431.0,164.4 428.7,161.4 426.5,164.4 424.5,164.6 424.7,162.6 427.6,160.3 424.7,158.1 424.5,156.0 426.5,156.2 428.7,159.2 431.0,156.2 433.0,156.0 432.8,158.1 429.8,160.3" fill="url(#r35)" filter="url(#bl6)"/>
</g>
<g clip-path="url(#c36)">
<rect x="268.60" y="203.20" width="76.40" height="33.80" fill="#4b559f"/>
<rect x="319.14" y="203.20" width="1.0" height="33.80" fill="#3f4690" opacity="0.12"/>
<rect x="268.60" y="218.20" width="76.40" height="1.1" fill="#3f4690" opacity="0.65"/>
<polygon points="323.7,221.0 323.9,223.0 321.9,222.8 319.6,219.8 317.4,222.8 315.4,223.0 315.5,221.0 318.5,218.7 315.5,216.5 315.4,214.5 317.4,214.7 319.6,217.6 321.9,214.7 323.9,214.5 323.7,216.5 320.7,218.7" fill="url(#r37)" filter="url(#bl6)"/>
</g>
<g clip-path="url(#c38)">
<rect x="348.00" y="203.20" width="61.80" height="33.80" fill="#4b559f"/>
<rect x="369.75" y="203.20" width="1.0" height="33.80" fill="#3f4690" opacity="0.12"/>
<rect x="348.00" y="218.20" width="61.80" height="1.1" fill="#3f4690" opacity="0.65"/>
<polygon points="374.3,221.0 374.5,223.0 372.5,222.8 370.2,219.8 368.0,222.8 366.0,223.0 366.2,221.0 369.1,218.7 366.2,216.5 366.0,214.5 368.0,214.7 370.2,217.6 372.5,214.7 374.5,214.5 374.3,216.5 371.3,218.7" fill="url(#r39)" filter="url(#bl6)"/>
</g>
<g clip-path="url(#c40)">
<rect x="413.20" y="203.20" width="33.80" height="33.80" fill="#4b559f"/>
<polygon points="418.39,190.01 460.19,231.81 441.81,250.19 400.01,208.39" fill="url(#g41)"/>
<g fill="#3a90b8" opacity="0.9" filter="url(#bl10)"><rect x="410.2" y="200.2" width="11.8" height="11.8"/><rect x="420.5" y="210.5" width="12.1" height="12.1"/><rect x="430.9" y="220.9" width="12.0" height="12.0"/><rect x="441.9" y="231.9" width="11.3" height="11.3"/></g>
<g fill="#80caa6" opacity="0.9" filter="url(#bl6)"><rect x="411.1" y="201.1" width="10.0" height="10.0"/><rect x="421.4" y="211.4" width="10.3" height="10.3"/><rect x="431.8" y="221.8" width="10.2" height="10.2"/><rect x="442.8" y="232.8" width="9.6" height="9.6"/></g>
<g fill="#e8eca6" opacity="0.9" filter="url(#bl6)"><rect x="412.2" y="202.2" width="7.8" height="7.8"/><rect x="422.5" y="212.5" width="8.0" height="8.0"/><rect x="432.9" y="222.9" width="8.0" height="8.0"/><rect x="443.8" y="233.8" width="7.5" height="7.5"/></g>
<polygon points="402.6,205.3 403.7,206.4 404.7,207.4 405.8,208.5 406.8,209.6 407.6,210.9 408.4,212.2 409.2,213.5 410.5,214.4 411.8,215.2 413.1,216.0 413.7,217.5 414.0,219.4 415.8,219.7 417.3,220.3 418.0,221.7 419.3,222.5 420.6,223.4 421.6,224.5 422.5,225.7 423.5,226.8 424.7,227.8 425.8,228.8 427.0,229.7 427.4,231.4 427.9,233.1 429.7,233.4 431.1,234.1 431.8,235.5 433.1,236.4 434.3,237.2 434.9,238.8 435.5,240.3 436.6,241.4 438.1,241.9 439.7,242.5 440.5,243.8 441.2,245.2 442.5,246.0 443.9,246.7 445.0,247.7 457.7,235.0 456.7,233.9 456.0,232.5 455.2,231.2 453.8,230.5 452.5,229.7 451.9,228.1 451.4,226.6 450.3,225.5 448.8,224.9 447.2,224.3 446.4,223.1 445.5,221.8 444.1,221.1 443.4,219.7 443.1,217.9 441.4,217.4 439.7,217.0 438.8,215.8 437.8,214.7 436.8,213.5 435.7,212.5 434.5,211.6 433.4,210.6 432.5,209.3 431.7,208.0 430.3,207.3 429.7,205.8 429.4,204.0 427.5,203.7 426.0,203.1 425.2,201.8 424.4,200.5 423.5,199.2 422.2,198.4 420.9,197.6 419.6,196.8 418.5,195.8 417.4,194.7 416.4,193.7 415.3,192.6" fill="#3d95b6" filter="url(#bl10)"/>
<polygon points="404.3,203.6 405.4,204.7 406.4,205.7 407.5,206.8 408.5,207.9 409.4,209.1 410.2,210.4 411.1,211.7 412.3,212.6 413.5,213.5 414.8,214.3 415.5,215.7 415.9,217.5 417.6,217.9 419.0,218.6 419.8,219.9 421.1,220.8 422.3,221.7 423.3,222.8 424.3,224.0 425.3,225.1 426.4,226.1 427.5,227.0 428.7,228.0 429.2,229.6 429.8,231.2 431.5,231.6 432.8,232.4 433.6,233.7 434.8,234.6 436.1,235.5 436.7,237.0 437.3,238.4 438.4,239.5 439.9,240.1 441.4,240.8 442.2,242.0 443.0,243.4 444.3,244.2 445.6,245.0 446.7,246.1 456.1,236.7 455.0,235.6 454.2,234.3 453.4,233.0 452.0,232.2 450.8,231.4 450.1,229.9 449.5,228.4 448.4,227.3 447.0,226.7 445.5,226.1 444.6,224.8 443.7,223.6 442.4,222.8 441.6,221.5 441.2,219.8 439.6,219.2 438.0,218.7 437.0,217.5 436.1,216.4 435.1,215.3 434.0,214.3 432.8,213.3 431.7,212.3 430.8,211.1 429.9,209.8 428.6,209.0 427.9,207.6 427.5,205.9 425.7,205.5 424.3,204.8 423.5,203.5 422.6,202.3 421.7,201.1 420.4,200.2 419.1,199.4 417.9,198.5 416.8,197.5 415.7,196.4 414.7,195.4 413.6,194.3" fill="#9cd4a2" filter="url(#bl6)"/>
<polygon points="405.4,202.5 406.5,203.6 407.5,204.6 408.6,205.7 409.7,206.7 410.6,208.0 411.5,209.2 412.4,210.4 413.5,211.4 414.8,212.3 416.0,213.2 416.8,214.5 417.3,216.1 418.8,216.6 420.2,217.4 421.0,218.7 422.3,219.6 423.4,220.5 424.4,221.7 425.4,222.8 426.5,223.9 427.6,224.9 428.7,225.9 429.8,226.9 430.5,228.4 431.2,229.8 432.7,230.4 434.0,231.2 434.8,232.5 436.0,233.4 437.2,234.4 438.0,235.7 438.7,237.1 439.8,238.1 441.2,238.9 442.5,239.6 443.4,240.8 444.3,242.1 445.5,243.0 446.8,243.9 447.8,244.9 454.9,237.8 453.9,236.8 453.0,235.5 452.1,234.3 450.8,233.4 449.6,232.5 448.9,231.2 448.1,229.8 447.1,228.7 445.7,228.0 444.4,227.2 443.4,226.0 442.5,224.8 441.2,224.0 440.4,222.7 439.8,221.2 438.4,220.5 436.9,219.8 435.9,218.7 434.9,217.6 433.9,216.5 432.8,215.4 431.7,214.4 430.5,213.4 429.6,212.3 428.7,211.0 427.4,210.2 426.6,208.8 426.1,207.3 424.5,206.8 423.2,206.0 422.3,204.8 421.4,203.5 420.4,202.4 419.2,201.5 418.0,200.6 416.7,199.7 415.7,198.6 414.6,197.5 413.6,196.5 412.5,195.4" fill="#eeeca6" filter="url(#bl6)"/>
<polygon points="407.3,200.7 408.3,201.7 409.4,202.8 410.4,203.8 411.5,204.9 412.5,206.0 413.5,207.2 414.5,208.3 415.6,209.3 416.7,210.3 417.8,211.3 418.8,212.5 419.6,213.8 420.9,214.6 422.1,215.5 423.0,216.7 424.2,217.7 425.3,218.7 426.3,219.8 427.3,220.9 428.4,221.9 429.5,223.0 430.6,224.0 431.7,225.1 432.5,226.3 433.4,227.5 434.7,228.4 435.9,229.3 436.8,230.5 437.9,231.5 439.1,232.5 440.0,233.7 440.9,234.9 442.0,235.9 443.2,236.9 444.4,237.8 445.4,238.9 446.3,240.1 447.5,241.1 448.6,242.0 449.7,243.1 453.1,239.7 452.0,238.6 451.1,237.5 450.1,236.3 448.9,235.4 447.8,234.4 446.9,233.2 445.9,232.0 444.9,230.9 443.7,230.0 442.5,229.1 441.5,227.9 440.5,226.8 439.3,225.9 438.4,224.7 437.5,223.4 436.3,222.5 435.1,221.7 434.0,220.6 433.0,219.5 431.9,218.4 430.9,217.3 429.8,216.3 428.7,215.3 427.7,214.2 426.7,213.0 425.5,212.1 424.6,210.9 423.8,209.6 422.5,208.8 421.3,207.8 420.3,206.7 419.3,205.6 418.3,204.5 417.2,203.5 416.0,202.5 414.9,201.5 413.8,200.4 412.8,199.4 411.7,198.3 410.7,197.3" fill="#e8704c" filter="url(#bl3)"/>
<polygon points="407.6,200.3 408.7,201.3 409.8,202.4 410.8,203.4 411.9,204.5 412.9,205.6 413.9,206.7 414.9,207.9 416.0,208.9 417.1,209.9 418.2,210.9 419.2,212.0 420.1,213.3 421.3,214.2 422.5,215.1 423.4,216.3 424.6,217.3 425.7,218.3 426.7,219.4 427.8,220.5 428.8,221.5 429.9,222.6 431.0,223.6 432.0,224.7 433.0,225.9 433.9,227.1 435.1,227.9 436.3,228.9 437.2,230.1 438.3,231.1 439.5,232.1 440.4,233.3 441.4,234.4 442.4,235.5 443.6,236.4 444.8,237.4 445.8,238.5 446.8,239.6 447.9,240.7 449.0,241.6 450.1,242.7 452.7,240.1 451.6,239.0 450.7,237.9 449.6,236.8 448.5,235.8 447.4,234.8 446.4,233.6 445.5,232.4 444.4,231.4 443.3,230.4 442.1,229.5 441.1,228.3 440.1,227.2 438.9,226.3 437.9,225.1 437.1,223.9 435.9,223.0 434.7,222.0 433.6,221.0 432.6,219.9 431.5,218.8 430.5,217.8 429.4,216.7 428.3,215.7 427.3,214.6 426.3,213.4 425.1,212.5 424.2,211.3 423.3,210.1 422.0,209.2 420.9,208.2 419.9,207.1 418.9,206.0 417.9,204.9 416.7,203.9 415.6,202.9 414.5,201.9 413.4,200.8 412.4,199.8 411.3,198.7 410.3,197.6" fill="#a2083e" filter="url(#bl3)"/>
<ellipse cx="428.75" cy="218.75" rx="9.00" ry="3.30" transform="rotate(-45 428.75 218.75)" fill="url(#r42)" opacity="0.9"/>
<polygon points="420.5,212.6 421.5,213.6 422.6,214.7 423.6,215.7 424.7,216.8 425.8,217.9 426.8,218.9 427.9,220.0 428.9,221.0 430.0,222.1 431.1,223.2 432.1,224.2 433.2,225.3 434.2,226.3 435.3,227.4 437.4,225.3 436.3,224.2 435.3,223.2 434.2,222.1 433.2,221.1 432.1,220.0 431.0,218.9 430.0,217.9 428.9,216.8 427.9,215.8 426.8,214.7 425.7,213.6 424.7,212.6 423.6,211.5 422.6,210.5" fill="#a2083e" filter="url(#bl3)"/>
<rect x="428.25" y="203.20" width="1.0" height="33.80" fill="#3f4690" opacity="0.12"/>
<rect x="413.20" y="218.20" width="33.80" height="1.1" fill="#3f4690" opacity="0.65"/>
</g>
<rect x="492.70" y="47.50" width="75.80" height="8.20" rx="1.2" fill="url(#barH)"/>
<path d="M493.60 47.70 Q492.20 51.60 493.60 55.50" stroke="#8a0c2a" stroke-width="1.7" fill="none"/>
<path d="M567.60 47.70 Q569.00 51.60 567.60 55.50" stroke="#8a0c2a" stroke-width="1.7" fill="none"/>
<rect x="542.58" y="47.30" width="1.5" height="8.60" fill="#9e0c2e"/>
<rect x="571.50" y="47.50" width="61.50" height="8.20" rx="1.2" fill="url(#barH)"/>
<path d="M572.40 47.70 Q571.00 51.60 572.40 55.50" stroke="#8a0c2a" stroke-width="1.7" fill="none"/>
<path d="M632.10 47.70 Q633.50 51.60 632.10 55.50" stroke="#8a0c2a" stroke-width="1.7" fill="none"/>
<rect x="592.89" y="47.30" width="1.5" height="8.60" fill="#9e0c2e"/>
<rect x="636.70" y="47.50" width="33.80" height="8.20" rx="1.2" fill="url(#barH)"/>
<path d="M637.60 47.70 Q636.20 51.60 637.60 55.50" stroke="#8a0c2a" stroke-width="1.7" fill="none"/>
<path d="M669.60 47.70 Q671.00 51.60 669.60 55.50" stroke="#8a0c2a" stroke-width="1.7" fill="none"/>
<rect x="651.50" y="47.30" width="1.5" height="8.60" fill="#9e0c2e"/>
<rect x="480.30" y="59.50" width="7.30" height="75.80" rx="1.2" fill="url(#barV)"/>
<path d="M480.50 60.40 Q483.95 59.00 487.40 60.40" stroke="#8a0c2a" stroke-width="1.7" fill="none"/>
<path d="M480.50 134.40 Q483.95 135.80 487.40 134.40" stroke="#8a0c2a" stroke-width="1.7" fill="none"/>
<rect x="480.10" y="109.38" width="7.70" height="1.5" fill="#9e0c2e"/>
<rect x="480.30" y="137.80" width="7.30" height="63.00" rx="1.2" fill="url(#barV)"/>
<path d="M480.50 138.70 Q483.95 137.30 487.40 138.70" stroke="#8a0c2a" stroke-width="1.7" fill="none"/>
<path d="M480.50 199.90 Q483.95 201.30 487.40 199.90" stroke="#8a0c2a" stroke-width="1.7" fill="none"/>
<rect x="480.10" y="159.73" width="7.70" height="1.5" fill="#9e0c2e"/>
<rect x="480.30" y="203.20" width="7.30" height="33.80" rx="1.2" fill="url(#barV)"/>
<path d="M480.50 204.10 Q483.95 202.70 487.40 204.10" stroke="#8a0c2a" stroke-width="1.7" fill="none"/>
<path d="M480.50 236.10 Q483.95 237.50 487.40 236.10" stroke="#8a0c2a" stroke-width="1.7" fill="none"/>
<rect x="480.10" y="218.00" width="7.70" height="1.5" fill="#9e0c2e"/>
<text x="533.10" y="45.43" font-size="8.9" text-anchor="middle" font-weight="bold" font-style="normal" fill="#231f20" stroke="#231f20" stroke-width="0.22" transform="translate(533.10 45.43) scale(1 1.07) translate(-533.10 -45.43)">Chr I</text>
<text x="603.60" y="45.43" font-size="8.9" text-anchor="middle" font-weight="bold" font-style="normal" fill="#231f20" stroke="#231f20" stroke-width="0.22" transform="translate(603.60 45.43) scale(1 1.07) translate(-603.60 -45.43)">Chr II</text>
<text x="656.00" y="45.43" font-size="8.9" text-anchor="middle" font-weight="bold" font-style="normal" fill="#231f20" stroke="#231f20" stroke-width="0.22" transform="translate(656.00 45.43) scale(1 1.07) translate(-656.00 -45.43)">Chr III</text>
<text x="473.50" y="95.79" font-size="8.8" text-anchor="middle" font-weight="bold" font-style="normal" fill="#231f20" stroke="#231f20" stroke-width="0.22" transform="rotate(-90 473.50 92.40) translate(473.50 95.79) scale(1 1.07) translate(-473.50 -95.79)">Chr I</text>
<text x="473.50" y="168.99" font-size="8.8" text-anchor="middle" font-weight="bold" font-style="normal" fill="#231f20" stroke="#231f20" stroke-width="0.22" transform="rotate(-90 473.50 165.60) translate(473.50 168.99) scale(1 1.07) translate(-473.50 -168.99)">Chr II</text>
<text x="473.50" y="221.69" font-size="8.8" text-anchor="middle" font-weight="bold" font-style="normal" fill="#231f20" stroke="#231f20" stroke-width="0.22" transform="rotate(-90 473.50 218.30) translate(473.50 221.69) scale(1 1.07) translate(-473.50 -221.69)">Chr III</text>
<g clip-path="url(#c43)">
<rect x="492.70" y="59.50" width="75.80" height="75.80" fill="#f9f6f5"/>
<rect x="492.70" y="59.50" width="75.80" height="75.80" fill="#f2c0b0" filter="url(#noiseR)" opacity="0.24"/>
<rect x="492.70" y="59.50" width="75.80" height="75.80" fill="#d0e0f0" filter="url(#noiseB)" opacity="0.25"/>
<polygon points="550.7,113.6 550.7,117.5 546.8,117.5 543.3,111.2 539.9,117.5 536.0,117.5 536.0,113.6 542.3,110.1 536.0,106.7 536.0,102.8 539.9,102.8 543.3,109.1 546.8,102.8 550.7,102.8 550.7,106.7 544.4,110.1" fill="url(#r44)" filter="url(#bl10)"/>
<rect x="542.73" y="59.50" width="1.2" height="75.80" fill="#ffffff" opacity="0.5"/>
<rect x="492.70" y="109.53" width="75.80" height="1.2" fill="#ffffff" opacity="0.3"/>
<circle cx="492.70" cy="59.50" r="1.6" fill="#b02838" opacity="0.85"/>
<circle cx="568.50" cy="59.50" r="1.6" fill="#b02838" opacity="0.85"/>
<circle cx="492.70" cy="135.30" r="1.6" fill="#b02838" opacity="0.85"/>
<circle cx="568.50" cy="135.30" r="1.6" fill="#b02838" opacity="0.85"/>
<polygon points="484.2,59.5 485.3,60.6 486.3,61.6 487.4,62.7 488.5,63.7 489.2,65.1 490.0,66.4 490.8,67.8 492.1,68.6 493.5,69.3 494.8,70.1 495.3,71.7 495.9,73.3 497.0,74.3 498.6,74.8 500.1,75.4 501.0,76.6 501.9,77.8 502.9,79.0 504.0,80.0 505.2,80.9 506.4,81.8 507.5,82.9 508.4,84.1 509.4,85.2 510.6,86.2 511.8,87.1 512.8,88.2 513.7,89.4 514.7,90.5 515.8,91.5 517.0,92.5 518.1,93.5 519.1,94.6 520.1,95.7 521.1,96.9 522.1,98.0 523.2,99.1 524.3,100.0 525.5,101.0 526.6,102.0 527.4,103.3 527.9,105.0 529.0,105.9 530.6,106.4 531.7,107.5 532.2,109.1 532.8,110.6 534.4,111.2 535.9,111.7 537.2,112.6 538.1,113.8 539.0,115.0 539.9,116.2 541.1,117.1 542.3,118.1 543.5,119.0 544.4,120.2 545.0,121.7 546.2,122.7 547.7,123.3 548.7,124.4 549.4,125.9 550.4,127.0 551.8,127.7 553.1,128.5 554.1,129.6 555.0,130.8 556.0,132.0 557.1,133.0 558.2,134.0 559.4,134.9 560.6,135.9 561.6,137.0 562.6,138.1 563.6,139.2 564.7,140.3 565.7,141.3 566.8,142.4 567.9,143.4 569.0,144.4 577.6,135.8 576.6,134.7 575.6,133.6 574.5,132.5 573.5,131.5 572.4,130.4 571.3,129.4 570.2,128.4 569.1,127.4 568.1,126.2 567.2,125.0 566.2,123.9 565.2,122.8 564.0,121.8 562.8,120.9 561.7,119.9 560.9,118.6 560.2,117.2 559.1,116.2 557.6,115.5 556.5,114.5 555.9,113.0 554.9,111.8 553.4,111.2 552.2,110.3 551.3,109.1 550.3,107.9 549.4,106.7 548.2,105.8 547.0,104.9 545.8,104.0 544.9,102.7 544.4,101.2 543.8,99.6 542.3,99.0 540.7,98.5 539.6,97.4 539.1,95.8 538.2,94.7 536.5,94.2 535.2,93.4 534.2,92.3 533.2,91.1 532.3,90.0 531.2,88.9 530.1,87.9 528.9,86.9 527.8,85.9 526.7,84.9 525.7,83.8 524.7,82.6 523.7,81.5 522.6,80.5 521.4,79.6 520.3,78.6 519.4,77.4 518.4,76.2 517.3,75.2 516.1,74.3 515.0,73.2 514.1,72.0 513.2,70.8 512.2,69.7 511.0,68.7 509.8,67.8 508.6,66.9 508.0,65.4 507.5,63.8 506.5,62.7 504.9,62.1 503.3,61.6 502.5,60.3 501.8,58.9 501.0,57.6 499.6,56.8 498.3,56.0 496.9,55.3 495.9,54.2 494.8,53.1 493.8,52.1 492.7,51.0" fill="#a8c8e6" filter="url(#bl10)"/>
<polygon points="485.3,58.4 486.4,59.4 487.5,60.5 488.5,61.6 489.6,62.6 490.4,63.9 491.2,65.2 492.0,66.5 493.3,67.3 494.6,68.2 495.9,69.0 496.5,70.5 497.1,72.0 498.3,73.0 499.8,73.6 501.2,74.3 502.2,75.5 503.1,76.7 504.1,77.8 505.2,78.8 506.4,79.8 507.6,80.7 508.6,81.8 509.6,82.9 510.6,84.1 511.7,85.0 512.9,86.0 513.9,87.1 514.9,88.2 515.9,89.4 517.0,90.4 518.1,91.4 519.3,92.3 520.3,93.4 521.3,94.6 522.2,95.7 523.2,96.9 524.3,97.9 525.5,98.9 526.6,99.8 527.7,100.8 528.5,102.1 529.1,103.7 530.2,104.7 531.8,105.2 532.8,106.3 533.5,107.8 534.1,109.3 535.6,109.9 537.1,110.6 538.3,111.5 539.2,112.7 540.2,113.9 541.1,115.0 542.3,116.0 543.5,116.9 544.7,117.8 545.6,119.1 546.2,120.5 547.4,121.5 548.8,122.2 549.9,123.3 550.6,124.6 551.6,125.8 553.0,126.5 554.3,127.3 555.2,128.5 556.2,129.6 557.2,130.8 558.2,131.9 559.4,132.8 560.5,133.8 561.7,134.8 562.7,135.8 563.8,136.9 564.8,138.0 565.8,139.1 566.9,140.2 568.0,141.2 569.1,142.2 570.2,143.2 576.4,137.0 575.4,135.9 574.4,134.8 573.4,133.7 572.3,132.6 571.2,131.6 570.1,130.6 569.0,129.5 568.0,128.5 567.0,127.3 566.0,126.2 565.1,125.0 564.0,124.0 562.8,123.0 561.7,122.0 560.5,121.1 559.7,119.8 559.0,118.4 557.8,117.4 556.5,116.7 555.4,115.6 554.7,114.2 553.7,113.0 552.3,112.4 551.0,111.5 550.1,110.3 549.2,109.1 548.2,107.9 547.1,107.0 545.9,106.0 544.7,105.1 543.8,103.9 543.1,102.4 542.5,100.9 541.0,100.3 539.5,99.6 538.4,98.6 537.9,97.0 536.9,95.9 535.3,95.3 534.0,94.5 533.0,93.4 532.1,92.3 531.1,91.1 530.1,90.0 528.9,89.0 527.8,88.1 526.6,87.1 525.5,86.1 524.6,84.9 523.6,83.8 522.6,82.7 521.4,81.7 520.3,80.7 519.2,79.7 518.2,78.5 517.3,77.4 516.1,76.4 515.0,75.4 513.9,74.4 513.0,73.2 512.0,72.0 511.0,70.9 509.9,69.9 508.7,69.0 507.5,68.0 506.8,66.6 506.2,65.1 505.2,63.9 503.7,63.3 502.2,62.7 501.4,61.4 500.5,60.1 499.7,58.8 498.4,58.0 497.1,57.2 495.8,56.4 494.8,55.3 493.7,54.3 492.6,53.2 491.6,52.1" fill="#4a86c0" filter="url(#bl6)"/>
<polygon points="486.5,57.2 487.5,58.3 488.6,59.4 489.7,60.4 490.7,61.5 491.6,62.7 492.5,63.9 493.4,65.2 494.6,66.1 495.9,67.0 497.1,67.8 497.8,69.2 498.6,70.6 499.7,71.6 501.0,72.4 502.4,73.2 503.4,74.3 504.3,75.4 505.3,76.6 506.4,77.6 507.6,78.6 508.7,79.6 509.8,80.6 510.8,81.7 511.8,82.9 512.9,83.8 514.0,84.8 515.1,85.9 516.1,87.0 517.1,88.2 518.2,89.2 519.3,90.2 520.4,91.2 521.4,92.3 522.4,93.4 523.4,94.5 524.5,95.6 525.5,96.7 526.7,97.7 527.8,98.7 528.9,99.7 529.8,100.9 530.5,102.3 531.6,103.3 533.0,104.1 534.0,105.1 534.8,106.5 535.6,107.9 536.9,108.6 538.3,109.4 539.5,110.3 540.4,111.5 541.4,112.6 542.4,113.8 543.5,114.7 544.7,115.7 545.8,116.7 546.8,117.9 547.6,119.2 548.7,120.2 550.0,121.0 551.0,122.1 551.9,123.4 552.9,124.4 554.2,125.3 555.4,126.2 556.4,127.3 557.4,128.4 558.4,129.6 559.5,130.6 560.6,131.6 561.7,132.6 562.8,133.6 563.9,134.7 564.9,135.8 566.0,136.9 567.0,138.0 568.0,139.0 569.1,140.0 570.2,141.1 571.3,142.1 575.3,138.1 574.3,137.0 573.2,135.9 572.2,134.8 571.2,133.8 570.1,132.8 569.0,131.7 567.9,130.7 566.8,129.6 565.8,128.5 564.8,127.4 563.8,126.3 562.8,125.2 561.6,124.2 560.5,123.2 559.4,122.2 558.5,121.0 557.6,119.7 556.6,118.7 555.3,117.8 554.2,116.8 553.4,115.5 552.4,114.4 551.1,113.6 549.9,112.6 548.9,111.5 547.9,110.3 547.0,109.2 545.8,108.2 544.7,107.2 543.5,106.3 542.6,105.1 541.8,103.7 541.1,102.4 539.7,101.6 538.3,100.8 537.3,99.8 536.5,98.4 535.5,97.3 534.1,96.6 532.9,95.7 531.9,94.6 530.9,93.5 529.9,92.3 528.8,91.3 527.7,90.2 526.6,89.2 525.5,88.2 524.4,87.2 523.4,86.1 522.4,85.0 521.4,83.9 520.2,82.9 519.1,81.9 518.0,80.8 517.0,79.7 516.1,78.6 514.9,77.6 513.8,76.6 512.8,75.5 511.8,74.4 510.8,73.2 509.8,72.1 508.6,71.1 507.5,70.2 506.4,69.2 505.6,67.8 504.8,66.5 503.8,65.4 502.4,64.6 501.0,63.9 500.2,62.7 499.3,61.4 498.4,60.2 497.1,59.3 495.9,58.4 494.7,57.5 493.6,56.5 492.6,55.4 491.5,54.3 490.4,53.3" fill="#1d4e8e" filter="url(#bl3)"/>
<polygon points="488.0,55.7 489.1,56.7 490.2,57.8 491.2,58.9 492.3,59.9 493.3,61.0 494.4,62.0 495.5,63.1 496.5,64.2 497.6,65.2 498.6,66.3 499.7,67.3 500.8,68.4 501.8,69.5 502.9,70.5 503.9,71.6 505.0,72.7 506.1,73.7 507.1,74.8 508.2,75.8 509.2,76.9 510.3,78.0 511.4,79.0 512.4,80.1 513.5,81.1 514.5,82.2 515.6,83.3 516.7,84.3 517.7,85.4 518.8,86.4 519.9,87.5 520.9,88.6 522.0,89.6 523.0,90.7 524.1,91.7 525.2,92.8 526.2,93.9 527.3,94.9 528.3,96.0 529.4,97.0 530.5,98.1 531.5,99.2 532.6,100.2 533.6,101.3 534.7,102.4 535.8,103.4 536.8,104.5 537.9,105.5 538.9,106.6 540.0,107.7 541.1,108.7 542.1,109.8 543.2,110.8 544.2,111.9 545.3,113.0 546.4,114.0 547.4,115.1 548.5,116.1 549.6,117.2 550.6,118.3 551.7,119.3 552.7,120.4 553.8,121.4 554.9,122.5 555.9,123.6 557.0,124.6 558.0,125.7 559.1,126.7 560.2,127.8 561.2,128.9 562.3,129.9 563.3,131.0 564.4,132.0 565.5,133.1 566.5,134.2 567.6,135.2 568.6,136.3 569.7,137.4 570.8,138.4 571.8,139.5 572.9,140.5 573.7,139.7 572.7,138.6 571.6,137.6 570.6,136.5 569.5,135.4 568.4,134.4 567.4,133.3 566.3,132.3 565.2,131.2 564.2,130.1 563.1,129.1 562.1,128.0 561.0,127.0 559.9,125.9 558.9,124.8 557.8,123.8 556.8,122.7 555.7,121.7 554.6,120.6 553.6,119.5 552.5,118.5 551.5,117.4 550.4,116.4 549.3,115.3 548.3,114.2 547.2,113.2 546.2,112.1 545.1,111.0 544.0,110.0 543.0,108.9 541.9,107.9 540.9,106.8 539.8,105.7 538.7,104.7 537.7,103.6 536.6,102.6 535.6,101.5 534.5,100.4 533.4,99.4 532.4,98.3 531.3,97.3 530.2,96.2 529.2,95.1 528.1,94.1 527.1,93.0 526.0,92.0 524.9,90.9 523.9,89.8 522.8,88.8 521.8,87.7 520.7,86.7 519.6,85.6 518.6,84.5 517.5,83.5 516.5,82.4 515.4,81.3 514.3,80.3 513.3,79.2 512.2,78.2 511.2,77.1 510.1,76.0 509.0,75.0 508.0,73.9 506.9,72.9 505.9,71.8 504.8,70.7 503.7,69.7 502.7,68.6 501.6,67.6 500.5,66.5 499.5,65.4 498.4,64.4 497.4,63.3 496.3,62.3 495.2,61.2 494.2,60.1 493.1,59.1 492.1,58.0 491.0,57.0 489.9,55.9 488.9,54.8" fill="#8a1030"/>
</g>
<g clip-path="url(#c45)">
<rect x="571.50" y="59.50" width="61.50" height="75.80" fill="#f9f6f5"/>
<rect x="571.50" y="59.50" width="61.50" height="75.80" fill="#f2c0b0" filter="url(#noiseR)" opacity="0.24"/>
<rect x="571.50" y="59.50" width="61.50" height="75.80" fill="#d0e0f0" filter="url(#noiseB)" opacity="0.25"/>
<polygon points="601.0,113.6 601.0,117.5 597.1,117.5 593.6,111.2 590.2,117.5 586.3,117.5 586.3,113.6 592.6,110.1 586.3,106.7 586.3,102.8 590.2,102.8 593.6,109.1 597.1,102.8 601.0,102.8 601.0,106.7 594.7,110.1" fill="url(#r46)" filter="url(#bl10)"/>
<rect x="593.04" y="59.50" width="1.2" height="75.80" fill="#ffffff" opacity="0.5"/>
<rect x="571.50" y="109.53" width="61.50" height="1.2" fill="#ffffff" opacity="0.3"/>
<circle cx="571.50" cy="59.50" r="1.6" fill="#b02838" opacity="0.85"/>
<circle cx="633.00" cy="59.50" r="1.6" fill="#b02838" opacity="0.85"/>
<circle cx="571.50" cy="135.30" r="1.6" fill="#b02838" opacity="0.85"/>
<circle cx="633.00" cy="135.30" r="1.6" fill="#b02838" opacity="0.85"/>
</g>
<g clip-path="url(#c47)">
<rect x="636.70" y="59.50" width="33.80" height="75.80" fill="#f9f6f5"/>
<rect x="636.70" y="59.50" width="33.80" height="75.80" fill="#f2c0b0" filter="url(#noiseR)" opacity="0.24"/>
<rect x="636.70" y="59.50" width="33.80" height="75.80" fill="#d0e0f0" filter="url(#noiseB)" opacity="0.25"/>
<polygon points="659.6,113.6 659.6,117.5 655.7,117.5 652.2,111.2 648.8,117.5 644.9,117.5 644.9,113.6 651.2,110.1 644.9,106.7 644.9,102.8 648.8,102.8 652.2,109.1 655.7,102.8 659.6,102.8 659.6,106.7 653.3,110.1" fill="url(#r48)" filter="url(#bl10)"/>
<rect x="651.65" y="59.50" width="1.2" height="75.80" fill="#ffffff" opacity="0.5"/>
<rect x="636.70" y="109.53" width="33.80" height="1.2" fill="#ffffff" opacity="0.3"/>
<circle cx="636.70" cy="59.50" r="1.6" fill="#b02838" opacity="0.85"/>
<circle cx="670.50" cy="59.50" r="1.6" fill="#b02838" opacity="0.85"/>
<circle cx="636.70" cy="135.30" r="1.6" fill="#b02838" opacity="0.85"/>
<circle cx="670.50" cy="135.30" r="1.6" fill="#b02838" opacity="0.85"/>
</g>
<g clip-path="url(#c49)">
<rect x="492.70" y="137.80" width="75.80" height="63.00" fill="#f9f6f5"/>
<rect x="492.70" y="137.80" width="75.80" height="63.00" fill="#f2c0b0" filter="url(#noiseR)" opacity="0.24"/>
<rect x="492.70" y="137.80" width="75.80" height="63.00" fill="#d0e0f0" filter="url(#noiseB)" opacity="0.25"/>
<polygon points="550.7,163.9 550.7,167.8 546.8,167.8 543.3,161.6 539.9,167.8 536.0,167.8 536.0,163.9 542.3,160.5 536.0,157.1 536.0,153.2 539.9,153.1 543.3,159.4 546.8,153.1 550.7,153.2 550.7,157.1 544.4,160.5" fill="url(#r50)" filter="url(#bl10)"/>
<rect x="542.73" y="137.80" width="1.2" height="63.00" fill="#ffffff" opacity="0.5"/>
<rect x="492.70" y="159.88" width="75.80" height="1.2" fill="#ffffff" opacity="0.3"/>
<circle cx="492.70" cy="137.80" r="1.6" fill="#b02838" opacity="0.85"/>
<circle cx="568.50" cy="137.80" r="1.6" fill="#b02838" opacity="0.85"/>
<circle cx="492.70" cy="200.80" r="1.6" fill="#b02838" opacity="0.85"/>
<circle cx="568.50" cy="200.80" r="1.6" fill="#b02838" opacity="0.85"/>
</g>
<g clip-path="url(#c51)">
<rect x="571.50" y="137.80" width="61.50" height="63.00" fill="#f9f6f5"/>
<rect x="571.50" y="137.80" width="61.50" height="63.00" fill="#f2c0b0" filter="url(#noiseR)" opacity="0.24"/>
<rect x="571.50" y="137.80" width="61.50" height="63.00" fill="#d0e0f0" filter="url(#noiseB)" opacity="0.25"/>
<polygon points="601.0,163.9 601.0,167.8 597.1,167.8 593.6,161.6 590.2,167.8 586.3,167.8 586.3,163.9 592.6,160.5 586.3,157.1 586.3,153.2 590.2,153.1 593.6,159.4 597.1,153.1 601.0,153.2 601.0,157.1 594.7,160.5" fill="url(#r52)" filter="url(#bl10)"/>
<rect x="593.04" y="137.80" width="1.2" height="63.00" fill="#ffffff" opacity="0.5"/>
<rect x="571.50" y="159.88" width="61.50" height="1.2" fill="#ffffff" opacity="0.3"/>
<circle cx="571.50" cy="137.80" r="1.6" fill="#b02838" opacity="0.85"/>
<circle cx="633.00" cy="137.80" r="1.6" fill="#b02838" opacity="0.85"/>
<circle cx="571.50" cy="200.80" r="1.6" fill="#b02838" opacity="0.85"/>
<circle cx="633.00" cy="200.80" r="1.6" fill="#b02838" opacity="0.85"/>
<polygon points="563.0,137.7 564.1,138.8 565.1,139.8 566.2,140.9 567.2,142.0 568.1,143.2 569.0,144.4 570.1,145.5 571.3,146.4 572.4,147.4 573.4,148.5 574.4,149.7 575.4,150.8 576.5,151.8 577.6,152.8 578.7,153.8 579.6,155.1 580.4,156.3 581.7,157.2 582.9,158.1 583.7,159.5 584.3,160.9 585.0,162.3 585.8,163.7 587.2,164.4 588.6,165.1 590.0,165.9 591.3,166.7 592.2,167.9 593.1,169.1 594.3,170.1 595.5,171.0 596.3,172.3 596.9,173.8 597.5,175.3 598.5,176.4 600.0,177.0 601.5,177.7 602.7,178.6 603.6,179.9 604.4,181.2 605.2,182.5 606.1,183.7 607.4,184.5 608.7,185.3 610.0,186.2 611.1,187.2 611.6,188.7 612.2,190.3 613.3,191.3 614.8,191.9 616.4,192.5 617.4,193.6 618.3,194.9 619.1,196.1 620.0,197.3 621.1,198.4 622.3,199.3 623.5,200.2 624.8,201.1 625.9,202.1 626.9,203.2 627.9,204.3 629.0,205.4 630.0,206.4 631.1,207.5 632.2,208.5 633.2,209.6 641.8,201.2 640.8,200.1 639.7,199.1 638.7,198.0 637.7,196.9 636.6,195.8 635.5,194.8 634.5,193.7 633.5,192.6 632.6,191.3 631.7,190.1 630.8,188.9 629.9,187.7 628.6,186.8 627.4,185.9 626.2,185.0 625.1,184.0 624.6,182.4 624.0,180.9 623.0,179.8 621.5,179.2 619.9,178.6 618.9,177.4 618.1,176.1 617.3,174.8 616.5,173.5 615.4,172.5 614.1,171.7 612.8,170.9 611.5,170.0 610.7,168.8 610.0,167.3 609.4,165.8 608.3,164.7 606.9,164.1 605.4,163.4 604.1,162.5 603.2,161.4 602.3,160.2 601.1,159.2 599.9,158.3 599.1,157.0 598.4,155.5 597.7,154.1 597.1,152.7 595.7,151.9 594.3,151.2 592.9,150.5 591.5,149.7 590.7,148.4 589.8,147.2 588.6,146.3 587.4,145.4 586.3,144.3 585.4,143.1 584.4,142.0 583.3,140.9 582.2,140.0 581.1,139.0 580.1,137.8 579.2,136.6 578.2,135.5 577.0,134.5 575.8,133.6 574.7,132.5 573.7,131.5 572.7,130.4 571.6,129.3" fill="#a8c8e6" filter="url(#bl10)"/>
<polygon points="564.2,136.6 565.2,137.7 566.3,138.7 567.3,139.8 568.4,140.9 569.3,142.1 570.2,143.3 571.3,144.3 572.4,145.3 573.6,146.3 574.6,147.4 575.5,148.5 576.5,149.6 577.7,150.7 578.8,151.7 579.8,152.7 580.7,153.9 581.6,155.2 582.8,156.1 584.0,157.0 584.8,158.3 585.6,159.7 586.3,161.1 587.1,162.4 588.4,163.2 589.8,163.9 591.2,164.7 592.4,165.6 593.4,166.8 594.3,167.9 595.5,168.9 596.6,169.9 597.5,171.1 598.1,172.6 598.8,174.0 599.8,175.1 601.3,175.8 602.7,176.5 603.9,177.4 604.7,178.7 605.6,180.0 606.4,181.3 607.4,182.4 608.6,183.3 609.9,184.2 611.2,185.0 612.2,186.1 612.9,187.6 613.5,189.0 614.6,190.1 616.0,190.7 617.5,191.4 618.5,192.5 619.4,193.7 620.3,194.9 621.3,196.1 622.3,197.2 623.5,198.1 624.7,199.0 625.9,200.0 627.0,201.0 628.1,202.1 629.1,203.2 630.1,204.3 631.2,205.3 632.2,206.4 633.3,207.4 634.4,208.5 640.7,202.3 639.6,201.3 638.6,200.2 637.6,199.1 636.5,198.0 635.5,196.9 634.4,195.9 633.3,194.8 632.3,193.7 631.4,192.5 630.5,191.3 629.6,190.1 628.6,188.9 627.4,188.0 626.2,187.1 625.1,186.1 624.0,185.1 623.4,183.6 622.7,182.1 621.7,181.0 620.2,180.4 618.8,179.7 617.8,178.6 616.9,177.3 616.1,176.0 615.3,174.7 614.1,173.7 612.9,172.9 611.6,172.0 610.3,171.2 609.5,169.9 608.8,168.5 608.1,167.0 607.1,166.0 605.6,165.3 604.2,164.6 603.0,163.7 602.0,162.5 601.1,161.3 599.9,160.4 598.8,159.4 597.9,158.1 597.2,156.7 596.5,155.4 595.7,154.0 594.4,153.2 593.0,152.4 591.7,151.6 590.4,150.8 589.5,149.6 588.6,148.4 587.4,147.4 586.2,146.5 585.2,145.4 584.2,144.3 583.2,143.1 582.1,142.1 581.0,141.1 579.9,140.1 578.9,138.9 578.0,137.7 577.0,136.6 575.8,135.7 574.6,134.7 573.6,133.7 572.6,132.6 571.5,131.5 570.5,130.4" fill="#4a86c0" filter="url(#bl6)"/>
<polygon points="565.3,135.5 566.4,136.5 567.4,137.6 568.4,138.7 569.5,139.8 570.5,140.9 571.4,142.1 572.5,143.1 573.6,144.1 574.7,145.1 575.7,146.3 576.7,147.4 577.7,148.5 578.8,149.5 579.9,150.5 581.0,151.6 581.9,152.8 582.9,153.9 584.0,154.9 585.2,155.9 586.1,157.1 586.9,158.4 587.7,159.7 588.6,160.9 589.9,161.8 591.1,162.7 592.4,163.5 593.6,164.5 594.6,165.6 595.5,166.7 596.6,167.8 597.8,168.8 598.7,170.0 599.5,171.3 600.3,172.6 601.3,173.7 602.6,174.5 603.9,175.3 605.1,176.3 606.0,177.5 606.9,178.7 607.8,179.9 608.8,181.1 610.0,182.0 611.2,182.9 612.4,183.9 613.4,184.9 614.2,186.3 614.9,187.6 616.0,188.7 617.3,189.5 618.7,190.3 619.7,191.4 620.7,192.5 621.6,193.7 622.6,194.9 623.6,195.9 624.8,196.9 625.9,197.9 627.1,198.8 628.2,199.9 629.2,201.0 630.2,202.0 631.3,203.1 632.3,204.2 633.4,205.2 634.5,206.3 635.5,207.4 639.5,203.5 638.5,202.4 637.4,201.3 636.4,200.2 635.4,199.1 634.3,198.1 633.2,197.0 632.2,195.9 631.2,194.8 630.2,193.7 629.3,192.5 628.3,191.3 627.3,190.2 626.2,189.2 625.0,188.3 623.9,187.3 622.8,186.2 622.1,184.9 621.3,183.5 620.3,182.4 618.9,181.6 617.6,180.8 616.6,179.8 615.7,178.5 614.8,177.3 613.9,176.1 612.8,175.1 611.6,174.1 610.4,173.2 609.2,172.3 608.3,171.1 607.5,169.8 606.7,168.4 605.6,167.4 604.3,166.6 603.0,165.7 601.8,164.8 600.8,163.7 599.9,162.5 598.7,161.5 597.6,160.5 596.7,159.3 595.9,158.0 595.1,156.7 594.2,155.4 593.0,154.6 591.7,153.7 590.5,152.8 589.2,151.9 588.3,150.8 587.4,149.6 586.2,148.6 585.1,147.6 584.0,146.5 583.0,145.4 582.0,144.3 580.9,143.3 579.8,142.2 578.8,141.2 577.8,140.1 576.8,138.9 575.8,137.8 574.6,136.8 573.5,135.8 572.5,134.8 571.4,133.7 570.4,132.6 569.3,131.6" fill="#1d4e8e" filter="url(#bl3)"/>
<polygon points="566.9,133.9 567.9,135.0 569.0,136.1 570.0,137.1 571.1,138.2 572.1,139.3 573.2,140.4 574.2,141.4 575.3,142.5 576.3,143.6 577.4,144.7 578.4,145.7 579.5,146.8 580.5,147.9 581.5,149.0 582.6,150.0 583.6,151.1 584.7,152.2 585.7,153.2 586.8,154.3 587.8,155.4 588.9,156.5 589.9,157.5 591.0,158.6 592.0,159.7 593.1,160.8 594.1,161.8 595.2,162.9 596.2,164.0 597.3,165.1 598.3,166.1 599.4,167.2 600.4,168.3 601.5,169.3 602.5,170.4 603.6,171.5 604.6,172.6 605.6,173.6 606.7,174.7 607.7,175.8 608.8,176.9 609.8,177.9 610.9,179.0 611.9,180.1 613.0,181.2 614.0,182.2 615.1,183.3 616.1,184.4 617.2,185.4 618.2,186.5 619.3,187.6 620.3,188.7 621.4,189.7 622.4,190.8 623.5,191.9 624.5,193.0 625.6,194.0 626.6,195.1 627.7,196.2 628.7,197.3 629.7,198.3 630.8,199.4 631.8,200.5 632.9,201.5 633.9,202.6 635.0,203.7 636.0,204.8 637.1,205.8 637.9,205.0 636.9,203.9 635.8,202.9 634.8,201.8 633.7,200.7 632.7,199.6 631.7,198.6 630.6,197.5 629.6,196.4 628.5,195.3 627.5,194.3 626.4,193.2 625.4,192.1 624.3,191.0 623.3,190.0 622.2,188.9 621.2,187.8 620.1,186.8 619.1,185.7 618.0,184.6 617.0,183.5 615.9,182.5 614.9,181.4 613.8,180.3 612.8,179.2 611.7,178.2 610.7,177.1 609.7,176.0 608.6,174.9 607.6,173.9 606.5,172.8 605.5,171.7 604.4,170.7 603.4,169.6 602.3,168.5 601.3,167.4 600.2,166.4 599.2,165.3 598.1,164.2 597.1,163.1 596.0,162.1 595.0,161.0 593.9,159.9 592.9,158.8 591.8,157.8 590.8,156.7 589.7,155.6 588.7,154.6 587.6,153.5 586.6,152.4 585.6,151.3 584.5,150.3 583.5,149.2 582.4,148.1 581.4,147.0 580.3,146.0 579.3,144.9 578.2,143.8 577.2,142.7 576.1,141.7 575.1,140.6 574.0,139.5 573.0,138.5 571.9,137.4 570.9,136.3 569.8,135.2 568.8,134.2 567.7,133.1" fill="#8a1030"/>
</g>
<g clip-path="url(#c53)">
<rect x="636.70" y="137.80" width="33.80" height="63.00" fill="#f9f6f5"/>
<rect x="636.70" y="137.80" width="33.80" height="63.00" fill="#f2c0b0" filter="url(#noiseR)" opacity="0.24"/>
<rect x="636.70" y="137.80" width="33.80" height="63.00" fill="#d0e0f0" filter="url(#noiseB)" opacity="0.25"/>
<polygon points="659.6,163.9 659.6,167.8 655.7,167.8 652.2,161.6 648.8,167.8 644.9,167.8 644.9,163.9 651.2,160.5 644.9,157.1 644.9,153.2 648.8,153.1 652.2,159.4 655.7,153.1 659.6,153.2 659.6,157.1 653.3,160.5" fill="url(#r54)" filter="url(#bl10)"/>
<rect x="651.65" y="137.80" width="1.2" height="63.00" fill="#ffffff" opacity="0.5"/>
<rect x="636.70" y="159.88" width="33.80" height="1.2" fill="#ffffff" opacity="0.3"/>
<circle cx="636.70" cy="137.80" r="1.6" fill="#b02838" opacity="0.85"/>
<circle cx="670.50" cy="137.80" r="1.6" fill="#b02838" opacity="0.85"/>
<circle cx="636.70" cy="200.80" r="1.6" fill="#b02838" opacity="0.85"/>
<circle cx="670.50" cy="200.80" r="1.6" fill="#b02838" opacity="0.85"/>
</g>
<g clip-path="url(#c55)">
<rect x="492.70" y="203.20" width="75.80" height="33.80" fill="#f9f6f5"/>
<rect x="492.70" y="203.20" width="75.80" height="33.80" fill="#f2c0b0" filter="url(#noiseR)" opacity="0.24"/>
<rect x="492.70" y="203.20" width="75.80" height="33.80" fill="#d0e0f0" filter="url(#noiseB)" opacity="0.25"/>
<polygon points="550.7,222.2 550.7,226.1 546.8,226.1 543.3,219.8 539.9,226.1 536.0,226.1 536.0,222.2 542.3,218.7 536.0,215.3 536.0,211.4 539.9,211.4 543.3,217.7 546.8,211.4 550.7,211.4 550.7,215.3 544.4,218.7" fill="url(#r56)" filter="url(#bl10)"/>
<rect x="542.73" y="203.20" width="1.2" height="33.80" fill="#ffffff" opacity="0.5"/>
<rect x="492.70" y="218.15" width="75.80" height="1.2" fill="#ffffff" opacity="0.3"/>
<circle cx="492.70" cy="203.20" r="1.6" fill="#b02838" opacity="0.85"/>
<circle cx="568.50" cy="203.20" r="1.6" fill="#b02838" opacity="0.85"/>
<circle cx="492.70" cy="237.00" r="1.6" fill="#b02838" opacity="0.85"/>
<circle cx="568.50" cy="237.00" r="1.6" fill="#b02838" opacity="0.85"/>
</g>
<g clip-path="url(#c57)">
<rect x="571.50" y="203.20" width="61.50" height="33.80" fill="#f9f6f5"/>
<rect x="571.50" y="203.20" width="61.50" height="33.80" fill="#f2c0b0" filter="url(#noiseR)" opacity="0.24"/>
<rect x="571.50" y="203.20" width="61.50" height="33.80" fill="#d0e0f0" filter="url(#noiseB)" opacity="0.25"/>
<polygon points="601.0,222.2 601.0,226.1 597.1,226.1 593.6,219.8 590.2,226.1 586.3,226.1 586.3,222.2 592.6,218.7 586.3,215.3 586.3,211.4 590.2,211.4 593.6,217.7 597.1,211.4 601.0,211.4 601.0,215.3 594.7,218.7" fill="url(#r58)" filter="url(#bl10)"/>
<rect x="593.04" y="203.20" width="1.2" height="33.80" fill="#ffffff" opacity="0.5"/>
<rect x="571.50" y="218.15" width="61.50" height="1.2" fill="#ffffff" opacity="0.3"/>
<circle cx="571.50" cy="203.20" r="1.6" fill="#b02838" opacity="0.85"/>
<circle cx="633.00" cy="203.20" r="1.6" fill="#b02838" opacity="0.85"/>
<circle cx="571.50" cy="237.00" r="1.6" fill="#b02838" opacity="0.85"/>
<circle cx="633.00" cy="237.00" r="1.6" fill="#b02838" opacity="0.85"/>
</g>
<g clip-path="url(#c59)">
<rect x="636.70" y="203.20" width="33.80" height="33.80" fill="#f9f6f5"/>
<rect x="636.70" y="203.20" width="33.80" height="33.80" fill="#f2c0b0" filter="url(#noiseR)" opacity="0.24"/>
<rect x="636.70" y="203.20" width="33.80" height="33.80" fill="#d0e0f0" filter="url(#noiseB)" opacity="0.25"/>
<polygon points="659.6,222.2 659.6,226.1 655.7,226.1 652.2,219.8 648.8,226.1 644.9,226.1 644.9,222.2 651.2,218.7 644.9,215.3 644.9,211.4 648.8,211.4 652.2,217.7 655.7,211.4 659.6,211.4 659.6,215.3 653.3,218.7" fill="url(#r60)" filter="url(#bl10)"/>
<rect x="651.65" y="203.20" width="1.2" height="33.80" fill="#ffffff" opacity="0.5"/>
<rect x="636.70" y="218.15" width="33.80" height="1.2" fill="#ffffff" opacity="0.3"/>
<circle cx="636.70" cy="203.20" r="1.6" fill="#b02838" opacity="0.85"/>
<circle cx="670.50" cy="203.20" r="1.6" fill="#b02838" opacity="0.85"/>
<circle cx="636.70" cy="237.00" r="1.6" fill="#b02838" opacity="0.85"/>
<circle cx="670.50" cy="237.00" r="1.6" fill="#b02838" opacity="0.85"/>
<polygon points="628.2,203.2 629.3,204.3 630.3,205.3 631.4,206.4 632.5,207.4 633.2,208.8 634.0,210.1 634.8,211.5 635.6,212.8 636.8,213.7 638.2,214.4 639.5,215.2 640.9,216.0 641.7,217.3 642.2,218.9 643.6,219.7 645.1,220.2 645.9,221.6 646.6,223.0 647.3,224.4 648.2,225.7 649.6,226.3 651.1,227.0 652.5,227.7 653.6,228.7 654.6,229.9 655.6,231.0 656.7,232.0 657.8,233.0 659.0,234.0 659.9,235.2 660.7,236.5 661.5,237.8 662.4,239.0 663.6,240.0 664.8,240.8 666.1,241.7 667.4,242.5 668.5,243.5 669.6,244.6 670.6,245.6 679.1,237.1 678.1,236.1 677.0,235.0 676.0,233.9 675.2,232.6 674.3,231.3 673.5,230.1 672.5,228.9 671.3,228.0 670.0,227.2 668.7,226.4 667.5,225.5 666.5,224.3 665.5,223.2 664.5,222.1 663.4,221.1 662.2,220.1 661.2,219.0 660.5,217.6 659.8,216.1 659.2,214.7 657.9,213.8 656.5,213.1 655.1,212.4 653.7,211.6 653.2,210.1 652.4,208.7 650.8,208.2 649.5,207.4 648.7,206.0 647.9,204.7 647.2,203.3 646.3,202.1 645.0,201.3 643.6,200.5 642.3,199.7 640.9,199.0 639.9,197.9 638.8,196.8 637.8,195.8 636.7,194.7" fill="#a8c8e6" filter="url(#bl10)"/>
<polygon points="629.3,202.1 630.4,203.1 631.5,204.2 632.5,205.3 633.6,206.3 634.4,207.6 635.2,208.9 636.0,210.2 636.9,211.5 638.1,212.4 639.4,213.2 640.7,214.0 642.0,214.9 642.8,216.2 643.5,217.6 644.8,218.5 646.3,219.1 647.1,220.4 647.8,221.8 648.5,223.2 649.5,224.4 650.9,225.1 652.3,225.8 653.7,226.5 654.7,227.6 655.7,228.7 656.7,229.8 657.8,230.9 659.0,231.8 660.1,232.8 661.0,234.0 661.9,235.3 662.8,236.5 663.6,237.8 664.8,238.7 666.0,239.6 667.3,240.5 668.5,241.4 669.7,242.4 670.7,243.4 671.8,244.5 678.0,238.3 676.9,237.2 675.9,236.2 674.9,235.0 674.0,233.8 673.1,232.5 672.2,231.3 671.3,230.1 670.0,229.3 668.8,228.4 667.5,227.5 666.3,226.6 665.3,225.5 664.4,224.3 663.3,223.2 662.2,222.2 661.1,221.2 660.0,220.2 659.3,218.8 658.6,217.4 657.9,216.0 656.7,215.0 655.3,214.3 653.9,213.6 652.6,212.8 652.0,211.3 651.1,210.0 649.7,209.3 648.4,208.5 647.5,207.2 646.7,205.9 645.9,204.6 645.0,203.4 643.7,202.5 642.4,201.7 641.1,200.9 639.8,200.1 638.8,199.0 637.7,198.0 636.6,196.9 635.6,195.8" fill="#4a86c0" filter="url(#bl6)"/>
<polygon points="630.5,200.9 631.5,202.0 632.6,203.1 633.7,204.1 634.7,205.2 635.6,206.4 636.5,207.6 637.4,208.9 638.3,210.1 639.5,211.0 640.7,211.9 641.9,212.8 643.2,213.7 644.1,214.9 644.8,216.3 646.0,217.2 647.4,218.0 648.3,219.2 649.1,220.5 650.0,221.7 650.9,222.9 652.2,223.7 653.5,224.6 654.8,225.4 655.9,226.4 656.9,227.5 657.9,228.6 659.0,229.7 660.1,230.7 661.2,231.7 662.2,232.9 663.1,234.1 664.1,235.2 665.0,236.4 666.1,237.4 667.3,238.4 668.5,239.3 669.7,240.2 670.8,241.2 671.8,242.3 672.9,243.4 676.9,239.4 675.8,238.3 674.7,237.3 673.7,236.2 672.8,235.0 671.9,233.8 670.9,232.6 669.9,231.5 668.7,230.6 667.6,229.6 666.4,228.7 665.2,227.7 664.2,226.6 663.2,225.5 662.1,224.4 661.0,223.4 659.9,222.4 658.9,221.3 658.1,220.0 657.2,218.7 656.4,217.4 655.2,216.5 654.0,215.6 652.7,214.8 651.5,213.9 650.7,212.5 649.8,211.3 648.4,210.6 647.2,209.7 646.3,208.4 645.4,207.2 644.5,206.0 643.6,204.8 642.4,203.9 641.1,203.0 639.9,202.1 638.7,201.2 637.6,200.2 636.6,199.1 635.5,198.0 634.4,197.0" fill="#1d4e8e" filter="url(#bl3)"/>
<polygon points="632.0,199.4 633.1,200.4 634.2,201.5 635.2,202.6 636.3,203.6 637.3,204.7 638.4,205.7 639.5,206.8 640.5,207.9 641.6,208.9 642.6,210.0 643.7,211.0 644.8,212.1 645.8,213.2 646.9,214.2 647.9,215.3 649.0,216.4 650.1,217.4 651.1,218.5 652.2,219.5 653.2,220.6 654.3,221.7 655.4,222.7 656.4,223.8 657.5,224.8 658.5,225.9 659.6,227.0 660.7,228.0 661.7,229.1 662.8,230.1 663.9,231.2 664.9,232.3 666.0,233.3 667.0,234.4 668.1,235.4 669.2,236.5 670.2,237.6 671.3,238.6 672.3,239.7 673.4,240.7 674.5,241.8 675.3,241.0 674.2,239.9 673.2,238.8 672.1,237.8 671.1,236.7 670.0,235.7 668.9,234.6 667.9,233.5 666.8,232.5 665.8,231.4 664.7,230.4 663.6,229.3 662.6,228.2 661.5,227.2 660.5,226.1 659.4,225.0 658.3,224.0 657.3,222.9 656.2,221.9 655.2,220.8 654.1,219.7 653.0,218.7 652.0,217.6 650.9,216.6 649.9,215.5 648.8,214.4 647.7,213.4 646.7,212.3 645.6,211.3 644.5,210.2 643.5,209.1 642.4,208.1 641.4,207.0 640.3,206.0 639.2,204.9 638.2,203.8 637.1,202.8 636.1,201.7 635.0,200.7 633.9,199.6 632.9,198.5" fill="#8a1030"/>
</g>
<text x="56.00" y="231.39" font-size="8.8" text-anchor="middle" font-weight="bold" font-style="normal" fill="#fff" stroke="#fff" stroke-width="0.22" transform="translate(56.00 231.39) scale(1 1.07) translate(-56.00 -231.39)">1 Mb</text>
<rect x="48.1" y="233.4" width="14.9" height="1.7" fill="#fff"/>
<text x="504.90" y="231.29" font-size="8.8" text-anchor="middle" font-weight="bold" font-style="normal" fill="#231f20" stroke="#231f20" stroke-width="0.22" transform="translate(504.90 231.29) scale(1 1.07) translate(-504.90 -231.29)">1 Mb</text>
<rect x="497.2" y="233.5" width="15.1" height="1.5" fill="#231f20"/>
<rect x="498.7" y="66.9" width="26.8" height="26.2" fill="none" stroke="#e8383a" stroke-width="0.75" stroke-dasharray="1.8 1.1"/>
<rect x="390.5" y="240.7" width="56.50" height="5.60" fill="url(#cbSpec)"/>
<rect x="390.0" y="239.7" width="0.8" height="6.60" fill="#333"/>
<rect x="446.7" y="239.7" width="0.8" height="6.60" fill="#333"/>
<text x="388.30" y="246.97" font-size="9.0" text-anchor="end" font-weight="bold" font-style="normal" fill="#231f20" stroke="#231f20" stroke-width="0.22" transform="translate(388.30 246.97) scale(1 1.07) translate(-388.30 -246.97)">Contact score</text>
<text x="392.30" y="258.74" font-size="9.2" text-anchor="middle" font-weight="bold" font-style="normal" fill="#231f20" stroke="#231f20" stroke-width="0.22" transform="translate(392.30 258.74) scale(1 1.07) translate(-392.30 -258.74)">0</text>
<text x="444.80" y="258.74" font-size="9.2" text-anchor="middle" font-weight="bold" font-style="normal" fill="#231f20" stroke="#231f20" stroke-width="0.22" transform="translate(444.80 258.74) scale(1 1.07) translate(-444.80 -258.74)">200</text>
<rect x="594.7" y="241.6" width="75.70" height="5.00" fill="url(#cbDiff)"/>
<rect x="594.2" y="240.6" width="0.8" height="6.00" fill="#333"/>
<rect x="670.1" y="240.6" width="0.8" height="6.00" fill="#333"/>
<text x="592.50" y="247.57" font-size="9.0" text-anchor="end" font-weight="bold" font-style="normal" fill="#231f20" stroke="#231f20" stroke-width="0.22" transform="translate(592.50 247.57) scale(1 1.07) translate(-592.50 -247.57)">Difference</text>
<text x="594.70" y="257.74" font-size="9.2" text-anchor="middle" font-weight="bold" font-style="normal" fill="#231f20" stroke="#231f20" stroke-width="0.22" transform="translate(594.70 257.74) scale(1 1.07) translate(-594.70 -257.74)">-0.8</text>
<text x="633.00" y="257.74" font-size="9.2" text-anchor="middle" font-weight="bold" font-style="normal" fill="#231f20" stroke="#231f20" stroke-width="0.22" transform="translate(633.00 257.74) scale(1 1.07) translate(-633.00 -257.74)">0</text>
<text x="670.40" y="257.74" font-size="9.2" text-anchor="middle" font-weight="bold" font-style="normal" fill="#231f20" stroke="#231f20" stroke-width="0.22" transform="translate(670.40 257.74) scale(1 1.07) translate(-670.40 -257.74)">0.8</text>
<text x="0.00" y="290.20" font-size="21" font-weight="bold" fill="#000">c</text>
<text x="229.60" y="291.40" font-size="21" font-weight="bold" fill="#000">d</text>
<text x="462.20" y="291.60" font-size="21" font-weight="bold" fill="#000">e</text>
<rect x="65.0" y="294.3" width="51.80" height="154.30" fill="#c6cacd"/>
<rect x="116.8" y="294.3" width="61.40" height="154.30" fill="#e3adbe"/>
<rect x="178.2" y="294.3" width="41.80" height="154.30" fill="#a8d2da"/>
<path d="M64.80 294.30 L65.23 294.71 L65.73 295.17 L66.27 295.68 L66.88 296.24 L67.52 296.85 L68.22 297.50 L68.95 298.19 L69.73 298.91 L70.53 299.66 L71.37 300.44 L72.23 301.25 L73.11 302.07 L74.01 302.92 L74.93 303.78 L75.86 304.65 L76.80 305.53 L77.74 306.41 L78.67 307.29 L79.61 308.17 L80.54 309.04 L81.46 309.90 L82.36 310.75 L83.24 311.59 L84.10 312.40 L84.89 313.15 L85.71 313.92 L86.53 314.70 L87.38 315.49 L88.24 316.30 L89.10 317.12 L89.98 317.94 L90.86 318.78 L91.75 319.61 L92.64 320.45 L93.53 321.29 L94.42 322.13 L95.31 322.97 L96.19 323.80 L97.06 324.63 L97.92 325.45 L98.76 326.26 L99.60 327.05 L100.42 327.84 L101.21 328.61 L101.99 329.36 L102.75 330.09 L103.48 330.80 L104.18 331.49 L104.86 332.16 L105.50 332.80 L106.62 333.94 L107.66 335.02 L108.62 336.06 L109.52 337.05 L110.36 338.00 L111.16 338.90 L111.91 339.77 L112.62 340.60 L113.32 341.40 L113.99 342.17 L114.66 342.91 L115.33 343.63 L116.01 344.32 L116.70 345.00 L117.66 345.88 L118.56 346.67 L119.43 347.38 L120.26 348.03 L121.08 348.64 L121.88 349.21 L122.68 349.77 L123.50 350.32 L124.33 350.90 L125.20 351.50 L126.01 352.06 L126.83 352.62 L127.66 353.18 L128.49 353.72 L129.33 354.27 L130.18 354.81 L131.03 355.35 L131.87 355.88 L132.72 356.42 L133.56 356.96 L134.40 357.50 L135.25 358.05 L136.11 358.60 L136.98 359.15 L137.85 359.71 L138.73 360.26 L139.59 360.81 L140.45 361.35 L141.28 361.89 L142.09 362.41 L142.86 362.91 L143.60 363.40 L144.54 364.02 L145.40 364.58 L146.21 365.11 L146.98 365.62 L147.74 366.14 L148.52 366.70 L149.33 367.31 L150.20 368.00 L151.02 368.68 L151.87 369.41 L152.74 370.18 L153.62 370.98 L154.52 371.81 L155.42 372.65 L156.32 373.50 L157.22 374.36 L158.10 375.20 L158.98 376.03 L159.86 376.86 L160.74 377.69 L161.62 378.52 L162.50 379.37 L163.37 380.25 L164.25 381.16 L165.13 382.10 L166.00 383.10 L166.88 384.16 L167.79 385.28 L168.70 386.46 L169.61 387.66 L170.51 388.88 L171.39 390.10 L172.24 391.30 L173.04 392.48 L173.80 393.60 L174.84 395.24 L175.80 396.86 L176.69 398.44 L177.53 399.97 L178.33 401.43 L179.10 402.80 L180.10 404.43 L180.94 405.73 L181.84 407.21 L183.00 409.40 L183.73 410.94 L184.53 412.79 L185.40 414.33 L186.31 417.47 L187.24 419.50 L188.18 420.82 L189.10 422.98 L190.00 424.43 L190.87 425.91 L191.74 427.09 L192.60 426.94 L193.47 427.53 L194.34 429.27 L195.21 429.26 L196.10 430.28 L197.00 429.80 L197.81 430.97 L198.63 431.88 L199.46 431.69 L200.30 433.16 L201.14 433.55 L201.98 432.75 L202.82 433.14 L203.66 434.23 L204.50 435.11 L205.34 434.66 L206.18 434.75 L207.02 435.35 L207.86 435.08 L208.70 435.59 L209.54 436.07 L210.37 436.26 L211.19 435.91 L212.00 435.82 L212.95 435.53 L213.95 435.41 L214.97 434.58 L215.97 433.54 L216.91 434.00 L217.75 432.97 L218.46 432.56 L219.00 432.00" stroke="#777777" stroke-width="1.5" fill="none" stroke-linejoin="round"/>
<path d="M64.80 294.30 L65.23 294.71 L65.73 295.17 L66.27 295.68 L66.88 296.24 L67.52 296.84 L68.22 297.49 L68.95 298.18 L69.73 298.90 L70.53 299.65 L71.37 300.43 L72.23 301.23 L73.11 302.06 L74.01 302.90 L74.93 303.76 L75.86 304.63 L76.80 305.50 L77.74 306.39 L78.67 307.27 L79.61 308.15 L80.54 309.02 L81.46 309.89 L82.36 310.74 L83.24 311.58 L84.10 312.40 L84.89 313.16 L85.71 313.93 L86.53 314.72 L87.38 315.52 L88.24 316.34 L89.10 317.17 L89.98 318.00 L90.86 318.85 L91.75 319.69 L92.64 320.55 L93.53 321.40 L94.42 322.25 L95.31 323.10 L96.19 323.95 L97.06 324.79 L97.92 325.62 L98.76 326.44 L99.60 327.25 L100.42 328.05 L101.21 328.83 L101.99 329.59 L102.75 330.34 L103.48 331.07 L104.18 331.77 L104.86 332.45 L105.50 333.10 L106.62 334.25 L107.66 335.34 L108.62 336.38 L109.52 337.37 L110.36 338.30 L111.16 339.20 L111.91 340.07 L112.62 340.90 L113.32 341.72 L113.99 342.51 L114.66 343.29 L115.33 344.06 L116.01 344.83 L116.70 345.60 L117.66 346.66 L118.56 347.66 L119.43 348.62 L120.26 349.55 L121.08 350.44 L121.88 351.32 L122.68 352.19 L123.50 353.05 L124.33 353.92 L125.20 354.80 L126.01 355.61 L126.81 356.43 L127.62 357.24 L128.44 358.06 L129.26 358.86 L130.09 359.66 L130.93 360.45 L131.78 361.22 L132.64 361.97 L133.51 362.70 L134.40 363.40 L135.17 363.98 L135.96 364.53 L136.76 365.08 L137.58 365.60 L138.40 366.12 L139.23 366.63 L140.07 367.12 L140.90 367.61 L141.72 368.09 L142.54 368.57 L143.34 369.05 L144.13 369.52 L144.90 370.00 L145.79 370.56 L146.69 371.11 L147.57 371.65 L148.45 372.19 L149.32 372.72 L150.17 373.24 L151.00 373.76 L151.81 374.28 L152.60 374.79 L153.37 375.29 L154.10 375.80 L155.04 376.46 L155.90 377.09 L156.71 377.68 L157.48 378.28 L158.24 378.90 L159.02 379.56 L159.83 380.29 L160.70 381.10 L161.53 381.90 L162.39 382.76 L163.29 383.67 L164.19 384.62 L165.11 385.60 L166.01 386.60 L166.91 387.60 L167.77 388.61 L168.60 389.60 L169.49 390.71 L170.34 391.82 L171.17 392.94 L171.99 394.07 L172.79 395.22 L173.59 396.39 L174.39 397.58 L175.20 398.80 L176.00 400.03 L176.79 401.25 L177.57 402.48 L178.34 403.74 L179.14 405.05 L179.95 406.41 L180.80 407.86 L181.70 409.40 L182.45 410.75 L183.22 412.23 L184.01 413.80 L184.82 415.42 L185.65 417.79 L186.49 419.40 L187.35 419.55 L188.22 421.08 L189.11 423.64 L190.00 424.68 L190.76 425.45 L191.54 425.69 L192.33 426.91 L193.13 427.60 L193.95 428.19 L194.77 428.10 L195.59 429.08 L196.42 429.53 L197.25 430.53 L198.07 431.42 L198.89 431.79 L199.70 431.57 L200.51 431.82 L201.35 431.90 L202.19 431.85 L203.04 432.13 L203.88 433.09 L204.72 433.10 L205.55 433.41 L206.36 434.43 L207.15 434.03 L207.90 434.26 L208.62 433.91 L209.30 433.74 L210.37 434.53 L211.35 434.55 L212.25 435.44 L213.10 436.45 L213.89 436.05 L214.65 435.22 L215.40 436.13 L216.44 435.16 L217.46 433.77 L218.38 432.58 L219.14 431.02 L219.70 429.70" stroke="#e42a32" stroke-width="1.6" fill="none" stroke-linejoin="round"/>
<line x1="65.0" y1="294.3" x2="65.0" y2="449.20000000000005" stroke="#404040" stroke-width="1.2"/>
<line x1="64.4" y1="448.6" x2="220.0" y2="448.6" stroke="#404040" stroke-width="1.2"/>
<line x1="62.0" y1="303.2" x2="65.0" y2="303.2" stroke="#404040" stroke-width="1"/>
<text x="59.30" y="306.63" font-size="8.9" text-anchor="end" font-weight="bold" font-style="normal" fill="#231f20" stroke="#231f20" stroke-width="0.22" transform="translate(59.30 306.63) scale(1 1.07) translate(-59.30 -306.63)">100</text>
<line x1="62.0" y1="342.5" x2="65.0" y2="342.5" stroke="#404040" stroke-width="1"/>
<text x="59.30" y="345.93" font-size="8.9" text-anchor="end" font-weight="bold" font-style="normal" fill="#231f20" stroke="#231f20" stroke-width="0.22" transform="translate(59.30 345.93) scale(1 1.07) translate(-59.30 -345.93)">10</text>
<line x1="62.0" y1="382" x2="65.0" y2="382" stroke="#404040" stroke-width="1"/>
<text x="59.30" y="385.43" font-size="8.9" text-anchor="end" font-weight="bold" font-style="normal" fill="#231f20" stroke="#231f20" stroke-width="0.22" transform="translate(59.30 385.43) scale(1 1.07) translate(-59.30 -385.43)">1</text>
<line x1="62.0" y1="421.8" x2="65.0" y2="421.8" stroke="#404040" stroke-width="1"/>
<text x="59.30" y="425.23" font-size="8.9" text-anchor="end" font-weight="bold" font-style="normal" fill="#231f20" stroke="#231f20" stroke-width="0.22" transform="translate(59.30 425.23) scale(1 1.07) translate(-59.30 -425.23)">0.1</text>
<line x1="64.8" y1="448.6" x2="64.8" y2="451.6" stroke="#404040" stroke-width="1"/>
<text x="66.60" y="462.95" font-size="8.7" text-anchor="middle" font-weight="bold" font-style="normal" fill="#231f20" stroke="#231f20" stroke-width="0.22" transform="translate(66.60 462.95) scale(1 1.07) translate(-66.60 -462.95)">10 kb</text>
<line x1="124.2" y1="448.6" x2="124.2" y2="451.6" stroke="#404040" stroke-width="1"/>
<text x="126.00" y="462.95" font-size="8.7" text-anchor="middle" font-weight="bold" font-style="normal" fill="#231f20" stroke="#231f20" stroke-width="0.22" transform="translate(126.00 462.95) scale(1 1.07) translate(-126.00 -462.95)">100 kb</text>
<line x1="183.4" y1="448.6" x2="183.4" y2="451.6" stroke="#404040" stroke-width="1"/>
<text x="185.20" y="462.95" font-size="8.7" text-anchor="middle" font-weight="bold" font-style="normal" fill="#231f20" stroke="#231f20" stroke-width="0.22" transform="translate(185.20 462.95) scale(1 1.07) translate(-185.20 -462.95)">1 Mb</text>
<text x="148.40" y="472.65" font-size="8.7" text-anchor="middle" font-weight="bold" font-style="normal" fill="#231f20" stroke="#231f20" stroke-width="0.22" transform="translate(148.40 472.65) scale(1 1.07) translate(-148.40 -472.65)">Distance</text>
<text x="34.20" y="375.51" font-size="8.85" text-anchor="middle" font-weight="bold" font-style="normal" fill="#231f20" stroke="#231f20" stroke-width="0.22" transform="rotate(-90 34.20 372.10) translate(34.20 375.51) scale(1 1.07) translate(-34.20 -375.51)">Contact score</text>
<rect x="113.5" y="297.7" width="102.60" height="30.80" rx="2" fill="#fff"/>
<line x1="120.4" y1="306.94" x2="137.4" y2="306.94" stroke="#777" stroke-width="1.8"/>
<line x1="120.4" y1="319.26" x2="137.4" y2="319.26" stroke="#e52330" stroke-width="1.9"/>
<text x="143.10" y="310.07" font-size="9" text-anchor="start" font-weight="bold" font-style="italic" fill="#231f20" stroke="#231f20" stroke-width="0.22" transform="translate(143.10 310.07) scale(1 1.07) translate(-143.10 -310.07)">cnd1-WT</text>
<text x="143.10" y="322.07" font-size="9" text-anchor="start" font-weight="bold" font-style="italic" fill="#231f20" stroke="#231f20" stroke-width="0.22" transform="translate(143.10 322.07) scale(1 1.07) translate(-143.10 -322.07)">cnd1-K658E</text>
<line x1="122.1" y1="414.6" x2="173" y2="414.6" stroke="#2a2a2a" stroke-width="1.2"/>
<path d="M117.1 414.6 L124.1 411.40000000000003 L124.1 417.8 Z" fill="#2a2a2a"/><path d="M178 414.6 L171 411.40000000000003 L171 417.8 Z" fill="#2a2a2a"/>
<text x="148.70" y="428.33" font-size="8.9" text-anchor="middle" font-weight="bold" font-style="normal" fill="#3a3536" stroke="#3a3536" stroke-width="0.22" transform="translate(148.70 428.33) scale(1 1.07) translate(-148.70 -428.33)">Condensin</text>
<text x="148.70" y="438.73" font-size="8.9" text-anchor="middle" font-weight="bold" font-style="normal" fill="#3a3536" stroke="#3a3536" stroke-width="0.22" transform="translate(148.70 438.73) scale(1 1.07) translate(-148.70 -438.73)">domains</text>
<g clip-path="url(#c61)">
<rect x="268.3" y="297.7" width="156.20" height="155.70" fill="#f8f5f4"/>
<rect x="268.30" y="297.70" width="156.20" height="155.70" fill="#eeb0a0" filter="url(#spkR)" opacity="0.85"/>
<rect x="268.30" y="297.70" width="156.20" height="155.70" fill="#b8d2ea" filter="url(#spkB)" opacity="0.8"/>
<polygon points="294.00,264.00 458.20,427.70 398.80,487.10 234.60,323.40" fill="url(#g62)" filter="url(#spkB2)"/>
<g mask="url(#m63)">
<polygon points="296.12,261.88 460.32,425.58 396.68,489.22 232.48,325.52" fill="url(#g65)"/>
<polygon points="296.12,261.88 460.32,425.58 396.68,489.22 232.48,325.52" fill="url(#g66)" filter="url(#spkB3)"/>
<polygon points="294.00,264.00 458.20,427.70 398.80,487.10 234.60,323.40" fill="url(#g67)" filter="url(#spkB)"/>
</g>
<polygon points="268.90,289.10 433.10,452.80 423.90,462.00 259.70,298.30" fill="url(#g68)" filter="url(#spkR2)"/>
<line x1="265.3" y1="294.7" x2="427.5" y2="456.4" stroke="#7c0a22" stroke-width="5.2"/>
</g>
<path d="M268.30 297.70 L268.30 339.50 L310.00 339.50" stroke="#231f20" stroke-width="1.6" stroke-dasharray="2.8 1.6" fill="none"/>
<path d="M310.00 339.50 L310.00 392.60 L364.00 392.60" stroke="#231f20" stroke-width="1.6" stroke-dasharray="2.8 1.6" fill="none"/>
<path d="M364.00 392.60 L364.00 453.40 L424.50 453.40" stroke="#231f20" stroke-width="1.6" stroke-dasharray="2.8 1.6" fill="none"/>
<line x1="267.8" y1="296.3" x2="425.0" y2="296.3" stroke="#555" stroke-width="1"/>
<line x1="268.3" y1="293.3" x2="268.3" y2="296.3" stroke="#555" stroke-width="1"/>
<text x="268.30" y="291.04" font-size="9.2" text-anchor="middle" font-weight="bold" font-style="normal" fill="#231f20" stroke="#231f20" stroke-width="0.22" transform="translate(268.30 291.04) scale(1 1.07) translate(-268.30 -291.04)">0.5</text>
<line x1="309.2" y1="293.3" x2="309.2" y2="296.3" stroke="#555" stroke-width="1"/>
<text x="309.20" y="291.04" font-size="9.2" text-anchor="middle" font-weight="bold" font-style="normal" fill="#231f20" stroke="#231f20" stroke-width="0.22" transform="translate(309.20 291.04) scale(1 1.07) translate(-309.20 -291.04)">1.0</text>
<line x1="350" y1="293.3" x2="350" y2="296.3" stroke="#555" stroke-width="1"/>
<text x="350.00" y="291.04" font-size="9.2" text-anchor="middle" font-weight="bold" font-style="normal" fill="#231f20" stroke="#231f20" stroke-width="0.22" transform="translate(350.00 291.04) scale(1 1.07) translate(-350.00 -291.04)">1.5</text>
<line x1="391.8" y1="293.3" x2="391.8" y2="296.3" stroke="#555" stroke-width="1"/>
<text x="391.80" y="291.04" font-size="9.2" text-anchor="middle" font-weight="bold" font-style="normal" fill="#231f20" stroke="#231f20" stroke-width="0.22" transform="translate(391.80 291.04) scale(1 1.07) translate(-391.80 -291.04)">2.0</text>
<line x1="424.5" y1="293.3" x2="424.5" y2="296.3" stroke="#555" stroke-width="1"/>
<text x="424.50" y="291.04" font-size="9.2" text-anchor="middle" font-weight="bold" font-style="normal" fill="#231f20" stroke="#231f20" stroke-width="0.22" transform="translate(424.50 291.04) scale(1 1.07) translate(-424.50 -291.04)">2.4</text>
<text x="421.00" y="280.65" font-size="8.7" text-anchor="middle" font-weight="bold" font-style="normal" fill="#231f20" stroke="#231f20" stroke-width="0.22" transform="translate(421.00 280.65) scale(1 1.07) translate(-421.00 -280.65)">(Mb)</text>
<rect x="348.7" y="457.5" width="75.30" height="5.50" fill="url(#cbDiff)"/>
<rect x="348.2" y="456.5" width="0.8" height="6.50" fill="#333"/>
<rect x="423.7" y="456.5" width="0.8" height="6.50" fill="#333"/>
<text x="346.50" y="463.72" font-size="9.0" text-anchor="end" font-weight="bold" font-style="normal" fill="#231f20" stroke="#231f20" stroke-width="0.22" transform="translate(346.50 463.72) scale(1 1.07) translate(-346.50 -463.72)">Difference</text>
<text x="348.70" y="474.14" font-size="9.2" text-anchor="middle" font-weight="bold" font-style="normal" fill="#231f20" stroke="#231f20" stroke-width="0.22" transform="translate(348.70 474.14) scale(1 1.07) translate(-348.70 -474.14)">-0.8</text>
<text x="386.30" y="474.14" font-size="9.2" text-anchor="middle" font-weight="bold" font-style="normal" fill="#231f20" stroke="#231f20" stroke-width="0.22" transform="translate(386.30 474.14) scale(1 1.07) translate(-386.30 -474.14)">0</text>
<text x="424.00" y="474.14" font-size="9.2" text-anchor="middle" font-weight="bold" font-style="normal" fill="#231f20" stroke="#231f20" stroke-width="0.22" transform="translate(424.00 474.14) scale(1 1.07) translate(-424.00 -474.14)">0.8</text>
<line x1="501.5" y1="299" x2="501.5" y2="447.1" stroke="#444" stroke-width="1.1"/>
<line x1="501.0" y1="446.6" x2="650.4" y2="446.6" stroke="#444" stroke-width="1.1"/>
<line x1="497.0" y1="313.8" x2="501.5" y2="313.8" stroke="#444" stroke-width="1"/>
<text x="493.70" y="317.34" font-size="9.2" text-anchor="end" font-weight="bold" font-style="normal" fill="#231f20" stroke="#231f20" stroke-width="0.22" transform="translate(493.70 317.34) scale(1 1.07) translate(-493.70 -317.34)">4</text>
<line x1="497.0" y1="343" x2="501.5" y2="343" stroke="#444" stroke-width="1"/>
<text x="493.70" y="346.54" font-size="9.2" text-anchor="end" font-weight="bold" font-style="normal" fill="#231f20" stroke="#231f20" stroke-width="0.22" transform="translate(493.70 346.54) scale(1 1.07) translate(-493.70 -346.54)">2</text>
<line x1="497.0" y1="372.8" x2="501.5" y2="372.8" stroke="#444" stroke-width="1"/>
<text x="493.70" y="376.34" font-size="9.2" text-anchor="end" font-weight="bold" font-style="normal" fill="#231f20" stroke="#231f20" stroke-width="0.22" transform="translate(493.70 376.34) scale(1 1.07) translate(-493.70 -376.34)">0</text>
<line x1="497.0" y1="402.3" x2="501.5" y2="402.3" stroke="#444" stroke-width="1"/>
<text x="493.70" y="405.84" font-size="9.2" text-anchor="end" font-weight="bold" font-style="normal" fill="#231f20" stroke="#231f20" stroke-width="0.22" transform="translate(493.70 405.84) scale(1 1.07) translate(-493.70 -405.84)">−2</text>
<line x1="497.0" y1="432" x2="501.5" y2="432" stroke="#444" stroke-width="1"/>
<text x="493.70" y="435.54" font-size="9.2" text-anchor="end" font-weight="bold" font-style="normal" fill="#231f20" stroke="#231f20" stroke-width="0.22" transform="translate(493.70 435.54) scale(1 1.07) translate(-493.70 -435.54)">−4</text>
<line x1="533" y1="446.6" x2="533" y2="449.6" stroke="#444" stroke-width="1"/>
<text x="533.00" y="459.74" font-size="9.2" text-anchor="middle" font-weight="bold" font-style="normal" fill="#231f20" stroke="#231f20" stroke-width="0.22" transform="translate(533.00 459.74) scale(1 1.07) translate(-533.00 -459.74)">0.1</text>
<line x1="594.3" y1="446.6" x2="594.3" y2="449.6" stroke="#444" stroke-width="1"/>
<text x="594.30" y="459.74" font-size="9.2" text-anchor="middle" font-weight="bold" font-style="normal" fill="#231f20" stroke="#231f20" stroke-width="0.22" transform="translate(594.30 459.74) scale(1 1.07) translate(-594.30 -459.74)">10</text>
<polygon points="512.0,371.3 524.0,342.0 536.0,330.0 542.8,322.0 552.0,330.0 575.0,345.0 600.0,358.0 600.0,384.0 575.0,400.0 552.0,412.0 540.8,420.0 524.0,405.0 513.0,388.0" fill="#767778" filter="url(#spkGs)"/>
<polygon points="516.0,371.3 526.0,346.0 536.0,334.0 542.0,326.0 548.0,334.0 552.0,344.0 552.0,400.0 546.0,410.0 540.0,416.0 527.0,400.0 518.0,386.0" fill="#767778" filter="url(#spkG)"/>
<polygon points="522.0,371.3 530.0,350.0 538.0,336.0 542.0,331.0 546.0,338.0 548.0,346.0 548.0,398.0 543.0,406.0 538.0,410.0 530.0,395.0 524.0,384.0" fill="#767778"/>
<rect x="536.1" y="326.9" width="3.0" height="2.2" fill="#767778"/>
<rect x="535.4" y="331.6" width="3.1" height="2.2" fill="#767778"/>
<rect x="531.2" y="336.3" width="5.7" height="2.2" fill="#767778"/>
<rect x="527.3" y="341.0" width="6.4" height="2.2" fill="#767778"/>
<rect x="526.5" y="345.7" width="10.6" height="2.2" fill="#767778"/>
<rect x="521.8" y="350.4" width="7.1" height="2.2" fill="#767778"/>
<rect x="519.2" y="355.1" width="13.6" height="2.2" fill="#767778"/>
<rect x="519.0" y="359.8" width="7.3" height="2.2" fill="#767778"/>
<rect x="517.6" y="364.5" width="17.9" height="2.2" fill="#767778"/>
<rect x="513.7" y="369.2" width="15.9" height="2.2" fill="#767778"/>
<rect x="513.2" y="373.9" width="9.0" height="2.2" fill="#767778"/>
<rect x="517.2" y="378.6" width="8.1" height="2.2" fill="#767778"/>
<rect x="518.5" y="383.3" width="8.5" height="2.2" fill="#767778"/>
<rect x="520.4" y="388.0" width="9.3" height="2.2" fill="#767778"/>
<rect x="524.6" y="392.7" width="11.7" height="2.2" fill="#767778"/>
<rect x="527.5" y="397.4" width="8.2" height="2.2" fill="#767778"/>
<rect x="530.0" y="402.1" width="7.1" height="2.2" fill="#767778"/>
<rect x="532.5" y="406.8" width="3.0" height="2.2" fill="#767778"/>
<rect x="537.2" y="411.5" width="7.6" height="2.2" fill="#767778"/>
<rect x="539.2" y="416.2" width="3.3" height="2.2" fill="#767778"/>
<polygon points="524.0,371.3 534.0,344.0 548.0,335.0 560.0,338.0 575.0,350.0 599.0,362.0 628.0,366.0 641.0,369.0 641.0,375.0 628.0,378.0 599.0,383.0 575.0,402.0 558.0,412.0 545.0,414.0 532.0,405.0" fill="#b91f5e" filter="url(#spkMs)"/>
<polygon points="532.0,371.3 539.0,351.0 550.0,344.0 558.1,349.5 572.4,359.5 586.7,364.6 599.0,367.4 611.3,368.4 627.6,368.6 627.6,373.2 611.3,374.2 599.0,377.2 586.7,385.2 572.4,395.2 558.1,402.0 545.9,403.0 535.7,398.5 529.0,387.7" fill="#b91f5e"/>
<ellipse cx="634.8" cy="371.9" rx="4.5" ry="2.4" fill="#b91f5e"/>
<ellipse cx="622" cy="371" rx="6" ry="3" fill="#b91f5e"/>
<rect x="531.9" y="344.0" width="11.0" height="2" fill="#767778" opacity="0.9"/>
<rect x="530.5" y="348.7" width="11.9" height="2" fill="#767778" opacity="0.9"/>
<rect x="529.1" y="353.4" width="12.4" height="2" fill="#767778" opacity="0.9"/>
<rect x="527.7" y="358.1" width="13.5" height="2" fill="#767778" opacity="0.9"/>
<rect x="526.2" y="362.8" width="11.9" height="2" fill="#767778" opacity="0.9"/>
<rect x="524.8" y="367.5" width="13.4" height="2" fill="#767778" opacity="0.9"/>
<rect x="524.6" y="372.2" width="6.2" height="2" fill="#767778" opacity="0.9"/>
<rect x="526.0" y="376.9" width="9.7" height="2" fill="#767778" opacity="0.9"/>
<rect x="527.4" y="381.6" width="13.5" height="2" fill="#767778" opacity="0.9"/>
<rect x="528.8" y="386.3" width="11.2" height="2" fill="#767778" opacity="0.9"/>
<rect x="530.2" y="391.0" width="13.2" height="2" fill="#767778" opacity="0.9"/>
<rect x="531.6" y="395.7" width="6.9" height="2" fill="#767778" opacity="0.9"/>
<rect x="533.0" y="400.4" width="9.8" height="2" fill="#767778" opacity="0.9"/>
<line x1="591.8" y1="309.3" x2="591.8" y2="356.6" stroke="#444" stroke-width="0.9"/>
<line x1="591.5" y1="356.3" x2="638.8" y2="356.3" stroke="#444" stroke-width="0.9"/>
<line x1="589.6" y1="313.4" x2="591.8" y2="313.4" stroke="#444" stroke-width="0.7"/>
<line x1="589.6" y1="323.1" x2="591.8" y2="323.1" stroke="#444" stroke-width="0.7"/>
<line x1="589.6" y1="332.3" x2="591.8" y2="332.3" stroke="#444" stroke-width="0.7"/>
<line x1="589.6" y1="342" x2="591.8" y2="342" stroke="#444" stroke-width="0.7"/>
<line x1="589.6" y1="351.2" x2="591.8" y2="351.2" stroke="#444" stroke-width="0.7"/>
<line x1="601" y1="356.3" x2="601" y2="358.5" stroke="#444" stroke-width="0.7"/>
<line x1="620.9" y1="356.3" x2="620.9" y2="358.5" stroke="#444" stroke-width="0.7"/>
<polygon points="594.0,333.0 599.0,320.0 604.5,313.0 612.0,321.0 620.0,329.0 620.0,338.0 612.0,345.0 604.0,351.0 597.0,342.0" fill="#767778" filter="url(#spkGs)"/>
<polygon points="597.0,333.0 602.0,320.0 606.0,316.0 612.0,323.5 618.0,329.0 626.0,331.5 635.2,332.3 635.2,334.0 626.0,334.6 618.0,336.5 611.0,341.0 605.0,347.0 599.0,341.0" fill="#b91f5e"/>
<polygon points="595.0,333.0 600.0,321.0 604.5,316.0 609.0,322.0 608.0,341.0 603.5,347.0 597.0,341.0" fill="#767778" filter="url(#spkG)" opacity="0.75"/>
<rect x="597.8" y="325.9" width="4.4" height="1.1" fill="#767778"/>
<rect x="596.0" y="329.4" width="5.8" height="1.1" fill="#767778"/>
<rect x="594.5" y="332.4" width="7.0" height="1.1" fill="#767778"/>
<rect x="596.2" y="335.9" width="5.6" height="1.1" fill="#767778"/>
<rect x="598.0" y="339.4" width="4.2" height="1.1" fill="#767778"/>
<rect x="630" y="331.6" width="5" height="1.6" fill="#b91f5e"/>
<text x="615.30" y="307.71" font-size="8.85" text-anchor="middle" font-weight="bold" font-style="normal" fill="#333" stroke="#333" stroke-width="0.22" transform="translate(615.30 307.71) scale(1 1.07) translate(-615.30 -307.71)">Bio. replicates</text>
<line x1="568" y1="380" x2="602.2" y2="400.5" stroke="#231f20" stroke-width="0.9"/>
<circle cx="568" cy="380" r="1.4" fill="#231f20"/>
<line x1="611.8" y1="331.3" x2="611.8" y2="400" stroke="#444" stroke-width="0.9"/>
<circle cx="611.8" cy="331.3" r="1.4" fill="#231f20"/>
<rect x="526.6" y="423.20" width="7.4" height="7" fill="#b91f5e"/>
<rect x="526.6" y="433.90" width="7.4" height="7" fill="#8e9093"/>
<text x="537.60" y="430.23" font-size="8.9" text-anchor="start" font-weight="bold" font-style="normal" fill="#231f20" stroke="#231f20" stroke-width="0.22" transform="translate(537.60 430.23) scale(1 1.07) translate(-537.60 -430.23)">Score in condensin domains</text>
<text x="537.60" y="440.93" font-size="8.9" text-anchor="start" font-weight="bold" font-style="normal" fill="#231f20" stroke="#231f20" stroke-width="0.22" transform="translate(537.60 440.93) scale(1 1.07) translate(-537.60 -440.93)">Score outside domains</text>
<text x="573.50" y="290.57" font-size="11.86" text-anchor="middle" font-weight="bold" font-style="italic" fill="#333" stroke="#333" stroke-width="0.22" transform="translate(573.50 290.57) scale(1 1.07) translate(-573.50 -290.57)">cnd1-K658E / cnd1-WT</text>
<text x="475.90" y="376.87" font-size="9" text-anchor="middle" font-weight="bold" font-style="normal" fill="#231f20" transform="rotate(-90 475.90 373.40) translate(475.90 376.87) scale(1 1.07) translate(-475.90 -376.87)">Log<tspan font-size="5.5" dy="2.5">2</tspan><tspan dy="-2.5"> ratio</tspan></text>
<text x="610.30" y="410.73" font-size="8.9" text-anchor="middle" font-weight="bold" font-style="normal" fill="#231f20" stroke="#231f20" stroke-width="0.22" transform="translate(610.30 410.73) scale(1 1.07) translate(-610.30 -410.73)"><tspan font-style="italic">P</tspan> = 2.10 x 10<tspan font-size="5.8" dy="-3.5">-10</tspan></text>
<text x="572.50" y="472.23" font-size="8.9" text-anchor="middle" font-weight="bold" font-style="normal" fill="#231f20" stroke="#231f20" stroke-width="0.22" transform="translate(572.50 472.23) scale(1 1.07) translate(-572.50 -472.23)">Average score</text>
<text x="0.00" y="502.80" font-size="21" font-weight="bold" fill="#000">f</text>
<text x="462.20" y="503.20" font-size="21" font-weight="bold" fill="#000">g</text>
<text x="134.30" y="500.72" font-size="12" text-anchor="middle" font-weight="bold" font-style="normal" fill="#333" stroke="#333" stroke-width="0.22" transform="translate(134.30 500.72) scale(1 1.07) translate(-134.30 -500.72)">Pmc4 WT</text>
<text x="362.60" y="501.42" font-size="12" text-anchor="middle" font-weight="bold" font-style="normal" fill="#333" stroke="#333" stroke-width="0.22" transform="translate(362.60 501.42) scale(1 1.07) translate(-362.60 -501.42)">Pmc4 depletion</text>
<text x="583.50" y="500.61" font-size="11.97" text-anchor="middle" font-weight="bold" font-style="normal" fill="#333" stroke="#333" stroke-width="0.22" transform="translate(583.50 500.61) scale(1 1.07) translate(-583.50 -500.61)">Pmc4 depletion − Pmc4 WT</text>
<rect x="41.30" y="514.60" width="77.20" height="7.40" rx="1.2" fill="url(#barH)"/>
<path d="M42.20 514.80 Q40.80 518.30 42.20 521.80" stroke="#8a0c2a" stroke-width="1.7" fill="none"/>
<path d="M117.60 514.80 Q119.00 518.30 117.60 521.80" stroke="#8a0c2a" stroke-width="1.7" fill="none"/>
<rect x="92.12" y="514.40" width="1.5" height="7.80" fill="#9e0c2e"/>
<rect x="120.90" y="514.60" width="63.10" height="7.40" rx="1.2" fill="url(#barH)"/>
<path d="M121.80 514.80 Q120.40 518.30 121.80 521.80" stroke="#8a0c2a" stroke-width="1.7" fill="none"/>
<path d="M183.10 514.80 Q184.50 518.30 183.10 521.80" stroke="#8a0c2a" stroke-width="1.7" fill="none"/>
<rect x="142.87" y="514.40" width="1.5" height="7.80" fill="#9e0c2e"/>
<rect x="186.70" y="514.60" width="35.30" height="7.40" rx="1.2" fill="url(#barH)"/>
<path d="M187.60 514.80 Q186.20 518.30 187.60 521.80" stroke="#8a0c2a" stroke-width="1.7" fill="none"/>
<path d="M221.10 514.80 Q222.50 518.30 221.10 521.80" stroke="#8a0c2a" stroke-width="1.7" fill="none"/>
<rect x="202.19" y="514.40" width="1.5" height="7.80" fill="#9e0c2e"/>
<rect x="30.40" y="524.70" width="7.80" height="76.90" rx="1.2" fill="url(#barV)"/>
<path d="M30.60 525.60 Q34.30 524.20 38.00 525.60" stroke="#8a0c2a" stroke-width="1.7" fill="none"/>
<path d="M30.60 600.70 Q34.30 602.10 38.00 600.70" stroke="#8a0c2a" stroke-width="1.7" fill="none"/>
<rect x="30.20" y="575.32" width="8.20" height="1.5" fill="#9e0c2e"/>
<rect x="30.40" y="604.20" width="7.80" height="63.10" rx="1.2" fill="url(#barV)"/>
<path d="M30.60 605.10 Q34.30 603.70 38.00 605.10" stroke="#8a0c2a" stroke-width="1.7" fill="none"/>
<path d="M30.60 666.40 Q34.30 667.80 38.00 666.40" stroke="#8a0c2a" stroke-width="1.7" fill="none"/>
<rect x="30.20" y="626.17" width="8.20" height="1.5" fill="#9e0c2e"/>
<rect x="30.40" y="669.90" width="7.80" height="33.90" rx="1.2" fill="url(#barV)"/>
<path d="M30.60 670.80 Q34.30 669.40 38.00 670.80" stroke="#8a0c2a" stroke-width="1.7" fill="none"/>
<path d="M30.60 702.90 Q34.30 704.30 38.00 702.90" stroke="#8a0c2a" stroke-width="1.7" fill="none"/>
<rect x="30.20" y="684.74" width="8.20" height="1.5" fill="#9e0c2e"/>
<text x="83.70" y="511.33" font-size="8.9" text-anchor="middle" font-weight="bold" font-style="normal" fill="#231f20" stroke="#231f20" stroke-width="0.22" transform="translate(83.70 511.33) scale(1 1.07) translate(-83.70 -511.33)">Chr I</text>
<text x="154.10" y="511.33" font-size="8.9" text-anchor="middle" font-weight="bold" font-style="normal" fill="#231f20" stroke="#231f20" stroke-width="0.22" transform="translate(154.10 511.33) scale(1 1.07) translate(-154.10 -511.33)">Chr II</text>
<text x="206.70" y="511.33" font-size="8.9" text-anchor="middle" font-weight="bold" font-style="normal" fill="#231f20" stroke="#231f20" stroke-width="0.22" transform="translate(206.70 511.33) scale(1 1.07) translate(-206.70 -511.33)">Chr III</text>
<text x="23.60" y="560.04" font-size="8.8" text-anchor="middle" font-weight="bold" font-style="normal" fill="#231f20" stroke="#231f20" stroke-width="0.22" transform="rotate(-90 23.60 556.65) translate(23.60 560.04) scale(1 1.07) translate(-23.60 -560.04)">Chr I</text>
<text x="23.60" y="635.44" font-size="8.8" text-anchor="middle" font-weight="bold" font-style="normal" fill="#231f20" stroke="#231f20" stroke-width="0.22" transform="rotate(-90 23.60 632.05) translate(23.60 635.44) scale(1 1.07) translate(-23.60 -635.44)">Chr II</text>
<text x="23.60" y="688.44" font-size="8.8" text-anchor="middle" font-weight="bold" font-style="normal" fill="#231f20" stroke="#231f20" stroke-width="0.22" transform="rotate(-90 23.60 685.05) translate(23.60 688.44) scale(1 1.07) translate(-23.60 -688.44)">Chr III</text>
<g clip-path="url(#c69)">
<rect x="41.30" y="524.70" width="77.20" height="76.90" fill="#416cb2"/>
<polygon points="62.76,495.24 147.96,580.14 97.04,631.06 11.84,546.16" fill="url(#g70)"/>
<circle cx="41.30" cy="524.70" r="2.2" fill="#e8e890" opacity="0.6" filter="url(#bl6)"/>
<circle cx="41.30" cy="524.70" r="1.2" fill="#c02040"/>
<circle cx="118.50" cy="524.70" r="2.2" fill="#e8e890" opacity="0.6" filter="url(#bl6)"/>
<circle cx="118.50" cy="524.70" r="1.2" fill="#c02040"/>
<circle cx="41.30" cy="601.60" r="2.2" fill="#e8e890" opacity="0.6" filter="url(#bl6)"/>
<circle cx="41.30" cy="601.60" r="1.2" fill="#c02040"/>
<circle cx="118.50" cy="601.60" r="2.2" fill="#e8e890" opacity="0.6" filter="url(#bl6)"/>
<circle cx="118.50" cy="601.60" r="1.2" fill="#c02040"/>
<polygon points="29.4,528.1 30.5,529.2 31.6,530.2 32.6,531.3 33.7,532.4 34.1,534.1 34.5,535.8 34.9,537.5 36.5,538.0 38.2,538.4 39.9,538.8 40.6,540.3 41.0,542.0 41.8,543.3 43.5,543.7 45.3,544.1 45.7,545.8 45.9,547.7 47.8,548.0 49.6,548.2 50.5,549.4 51.5,550.6 52.4,551.8 53.5,552.8 54.7,553.8 55.9,554.7 56.8,555.9 57.0,557.9 57.2,559.7 59.2,559.9 61.1,560.1 61.7,561.6 61.8,563.6 62.6,565.0 64.5,565.1 66.5,565.3 67.4,566.5 68.2,567.8 69.1,569.0 70.4,569.8 71.8,570.6 73.0,571.5 74.0,572.6 75.0,573.8 76.0,574.9 77.1,575.9 78.2,576.9 79.4,577.9 80.1,579.3 80.7,580.8 81.2,582.4 81.8,583.9 82.9,585.0 84.5,585.5 86.0,586.1 87.6,586.7 88.7,587.7 88.9,589.5 89.2,591.4 90.2,592.5 92.1,592.8 93.9,593.0 95.1,593.9 95.8,595.3 96.6,596.8 97.3,598.2 98.2,599.3 99.7,600.0 101.1,600.7 102.5,601.4 103.8,602.3 104.6,603.5 105.5,604.8 106.4,606.0 107.3,607.3 108.5,608.1 109.8,609.0 111.0,609.9 112.3,610.7 113.4,611.7 114.4,612.8 115.5,613.9 130.8,598.6 129.7,597.5 128.6,596.4 127.6,595.3 126.7,594.1 125.9,592.8 125.0,591.6 124.1,590.3 122.9,589.5 121.6,588.6 120.4,587.7 119.1,586.9 118.3,585.6 117.6,584.2 116.8,582.8 116.1,581.4 115.0,580.4 113.6,579.7 112.2,579.0 110.8,578.3 109.8,577.0 109.6,575.2 109.3,573.4 108.1,572.4 106.3,572.1 104.5,571.8 103.4,570.7 102.9,569.2 102.3,567.6 101.7,566.1 100.7,565.0 99.1,564.4 97.6,563.8 96.0,563.3 94.6,562.6 93.6,561.4 92.6,560.3 91.6,559.2 90.5,558.2 89.4,557.2 88.3,556.2 87.3,555.0 86.5,553.7 85.7,552.3 84.5,551.5 83.2,550.7 82.0,549.8 81.8,547.8 81.7,545.8 80.3,545.1 78.3,544.9 76.8,544.3 76.6,542.4 76.4,540.5 74.5,540.2 72.6,540.0 71.3,539.2 70.4,538.0 69.5,536.8 68.5,535.7 67.3,534.8 66.1,533.8 64.9,532.9 64.6,531.1 64.3,529.2 62.4,529.0 60.7,528.6 60.3,526.9 59.9,525.2 58.6,524.3 56.9,523.9 55.4,523.3 55.0,521.6 54.6,519.8 54.1,518.3 52.4,517.9 50.6,517.4 48.9,517.0 47.9,516.0 46.8,514.9 45.7,513.9 44.7,512.8" fill="#38a0c4" filter="url(#bl16)"/>
<polygon points="31.4,526.1 32.5,527.2 33.5,528.3 34.6,529.3 35.7,530.4 36.2,531.9 36.7,533.5 37.3,535.1 38.8,535.7 40.4,536.3 41.9,536.8 42.7,538.2 43.2,539.8 44.1,541.0 45.7,541.6 47.3,542.1 47.8,543.6 48.2,545.4 49.9,545.8 51.6,546.3 52.5,547.4 53.5,548.6 54.4,549.8 55.6,550.8 56.7,551.7 57.9,552.7 58.8,553.9 59.2,555.6 59.6,557.3 61.4,557.7 63.1,558.1 63.8,559.5 64.1,561.3 64.9,562.6 66.7,562.9 68.5,563.3 69.5,564.4 70.3,565.7 71.2,566.9 72.5,567.8 73.8,568.6 75.0,569.6 76.0,570.6 77.0,571.7 78.0,572.8 79.1,573.9 80.2,574.9 81.3,575.9 82.1,577.2 82.8,578.7 83.5,580.1 84.2,581.6 85.3,582.6 86.7,583.3 88.2,583.9 89.6,584.6 90.7,585.6 91.1,587.3 91.6,589.0 92.6,590.1 94.3,590.5 96.0,591.0 97.1,591.9 97.9,593.3 98.7,594.6 99.5,595.9 100.5,597.1 101.8,597.8 103.2,598.6 104.5,599.4 105.8,600.3 106.7,601.5 107.6,602.7 108.5,603.9 109.4,605.1 110.6,606.0 111.8,606.9 113.1,607.8 114.3,608.7 115.4,609.8 116.4,610.8 117.5,611.9 128.8,600.5 127.7,599.5 126.7,598.4 125.6,597.3 124.7,596.1 123.8,594.9 122.9,593.7 122.0,592.5 120.8,591.6 119.5,590.7 118.3,589.8 117.1,588.9 116.2,587.6 115.5,586.3 114.7,584.9 113.9,583.6 112.7,582.6 111.4,581.8 110.1,581.1 108.7,580.3 107.8,579.1 107.3,577.4 106.9,575.7 105.8,574.7 104.1,574.3 102.4,573.9 101.4,572.8 100.7,571.3 100.0,569.9 99.4,568.4 98.3,567.3 96.9,566.7 95.4,566.0 94.0,565.3 92.7,564.5 91.6,563.4 90.6,562.3 89.6,561.2 88.5,560.2 87.4,559.2 86.3,558.2 85.3,557.0 84.5,555.7 83.6,554.5 82.4,553.6 81.1,552.7 80.0,551.8 79.6,550.0 79.3,548.2 78.0,547.4 76.2,547.1 74.8,546.4 74.4,544.6 74.0,542.9 72.3,542.5 70.6,542.1 69.3,541.2 68.4,540.0 67.4,538.8 66.4,537.7 65.2,536.8 64.1,535.8 62.9,534.9 62.5,533.2 62.0,531.5 60.3,531.2 58.7,530.6 58.2,529.0 57.6,527.4 56.4,526.6 54.8,526.0 53.4,525.3 52.9,523.7 52.3,522.1 51.7,520.6 50.1,520.1 48.5,519.6 46.9,519.0 45.9,518.0 44.8,516.9 43.8,515.9 42.7,514.8" fill="#9cd4a2" filter="url(#bl10)"/>
<polygon points="33.2,524.3 34.3,525.4 35.4,526.4 36.4,527.5 37.5,528.5 38.2,530.0 38.9,531.4 39.5,532.9 40.9,533.6 42.3,534.3 43.8,534.9 44.6,536.2 45.3,537.7 46.2,538.9 47.7,539.6 49.1,540.2 49.8,541.6 50.4,543.2 51.9,543.8 53.4,544.4 54.4,545.6 55.4,546.7 56.4,547.8 57.5,548.9 58.6,549.8 59.8,550.8 60.7,552.0 61.3,553.5 61.9,555.1 63.4,555.6 65.0,556.2 65.8,557.5 66.3,559.1 67.2,560.4 68.8,560.9 70.4,561.4 71.4,562.5 72.3,563.8 73.2,564.9 74.4,565.8 75.7,566.7 76.8,567.7 77.8,568.8 78.9,569.9 79.9,571.0 81.0,572.0 82.1,573.0 83.2,574.1 84.0,575.3 84.8,576.7 85.6,578.0 86.4,579.3 87.5,580.4 88.8,581.2 90.2,581.9 91.5,582.7 92.6,583.7 93.2,585.3 93.8,586.8 94.8,587.9 96.3,588.5 97.9,589.1 99.0,590.0 99.9,591.3 100.7,592.6 101.6,593.8 102.6,594.9 103.9,595.8 105.1,596.6 106.4,597.5 107.6,598.4 108.6,599.6 109.5,600.8 110.5,601.9 111.4,603.1 112.6,604.0 113.8,605.0 114.9,605.9 116.1,606.9 117.2,607.9 118.3,609.0 119.3,610.0 126.9,602.4 125.9,601.3 124.8,600.3 123.8,599.2 122.8,598.0 121.9,596.8 120.9,595.7 120.0,594.5 118.8,593.6 117.6,592.6 116.4,591.7 115.3,590.7 114.4,589.5 113.5,588.3 112.6,587.0 111.8,585.7 110.7,584.7 109.4,583.9 108.1,583.0 106.9,582.2 105.9,581.0 105.3,579.5 104.7,578.0 103.6,577.0 102.1,576.4 100.5,575.8 99.5,574.7 98.7,573.3 97.9,572.0 97.2,570.6 96.1,569.6 94.8,568.8 93.4,568.0 92.1,567.2 90.8,566.4 89.8,565.3 88.7,564.2 87.7,563.1 86.6,562.1 85.5,561.1 84.4,560.0 83.5,558.9 82.6,557.7 81.6,556.5 80.5,555.5 79.3,554.6 78.1,553.6 77.6,552.0 77.1,550.4 75.8,549.6 74.2,549.1 72.9,548.3 72.3,546.7 71.8,545.1 70.2,544.5 68.7,544.0 67.5,543.1 66.5,541.9 65.5,540.8 64.5,539.7 63.3,538.7 62.2,537.7 61.1,536.7 60.5,535.2 59.8,533.7 58.3,533.2 56.9,532.5 56.2,531.0 55.5,529.6 54.3,528.7 52.9,528.0 51.6,527.2 50.9,525.7 50.2,524.3 49.4,522.9 48.0,522.2 46.6,521.5 45.1,520.9 44.0,519.8 43.0,518.8 41.9,517.7 40.9,516.6" fill="#f0eca4" filter="url(#bl6)"/>
<polygon points="35.0,522.5 36.1,523.6 37.1,524.6 38.2,525.7 39.3,526.8 40.2,528.0 41.1,529.2 42.0,530.4 43.1,531.3 44.4,532.2 45.6,533.1 46.6,534.3 47.5,535.5 48.5,536.6 49.7,537.5 50.9,538.4 51.8,539.6 52.7,540.9 53.9,541.8 55.2,542.6 56.2,543.7 57.2,544.8 58.3,545.9 59.4,547.0 60.4,548.0 61.5,549.0 62.6,550.1 63.4,551.4 64.3,552.6 65.5,553.5 66.8,554.3 67.8,555.5 68.6,556.8 69.6,557.9 70.9,558.8 72.2,559.6 73.2,560.7 74.2,561.8 75.2,562.9 76.3,563.9 77.5,564.9 78.6,565.9 79.6,567.0 80.7,568.1 81.7,569.1 82.8,570.2 83.9,571.2 84.9,572.3 85.9,573.4 86.9,574.6 87.8,575.8 88.7,577.0 89.8,578.0 91.0,579.0 92.2,579.9 93.4,580.8 94.4,581.9 95.3,583.1 96.2,584.4 97.2,585.5 98.5,586.3 99.7,587.2 100.8,588.2 101.8,589.3 102.8,590.5 103.8,591.6 104.8,592.7 106.0,593.7 107.1,594.7 108.3,595.6 109.4,596.6 110.4,597.7 111.4,598.8 112.4,600.0 113.4,601.1 114.6,602.1 115.7,603.1 116.8,604.1 117.9,605.1 119.0,606.1 120.0,607.2 121.1,608.3 125.2,604.2 124.1,603.1 123.1,602.0 122.0,601.0 121.0,599.9 120.0,598.8 119.0,597.6 117.9,596.5 116.8,595.5 115.7,594.5 114.6,593.5 113.5,592.5 112.5,591.4 111.5,590.2 110.5,589.1 109.6,587.9 108.5,586.9 107.3,585.9 106.2,585.0 105.0,584.0 104.0,582.9 103.1,581.6 102.3,580.4 101.2,579.3 99.9,578.5 98.7,577.6 97.6,576.6 96.7,575.4 95.7,574.2 94.8,573.0 93.8,571.9 92.6,571.0 91.4,570.1 90.2,569.1 89.0,568.2 88.0,567.1 86.9,566.0 85.9,564.9 84.8,563.9 83.7,562.9 82.7,561.8 81.6,560.7 80.6,559.6 79.7,558.5 78.5,557.5 77.4,556.5 76.3,555.4 75.5,554.1 74.7,552.9 73.5,551.9 72.2,551.1 71.0,550.1 70.2,548.8 69.3,547.6 68.1,546.7 66.8,545.9 65.7,544.9 64.7,543.8 63.6,542.7 62.6,541.6 61.5,540.6 60.4,539.5 59.3,538.5 58.4,537.3 57.6,536.0 56.3,535.2 55.1,534.3 54.2,533.0 53.3,531.8 52.1,530.8 50.9,529.9 49.8,529.0 48.9,527.7 48.0,526.5 47.0,525.3 45.8,524.4 44.6,523.5 43.3,522.6 42.3,521.6 41.2,520.5 40.2,519.5 39.1,518.4" fill="#e56a4c" filter="url(#bl3)"/>
<polygon points="35.5,522.1 36.5,523.1 37.6,524.2 38.6,525.2 39.7,526.3 40.6,527.5 41.6,528.7 42.5,529.9 43.7,530.8 44.9,531.7 46.1,532.7 47.0,533.8 48.0,535.0 49.0,536.1 50.2,537.0 51.4,538.0 52.3,539.1 53.2,540.4 54.4,541.3 55.7,542.2 56.7,543.3 57.7,544.4 58.8,545.4 59.8,546.5 60.9,547.5 62.0,548.5 63.0,549.6 63.9,550.9 64.8,552.1 66.1,553.0 67.3,553.9 68.3,555.0 69.1,556.3 70.1,557.4 71.4,558.3 72.6,559.1 73.7,560.2 74.7,561.3 75.7,562.4 76.8,563.4 77.9,564.4 79.0,565.5 80.1,566.5 81.1,567.6 82.2,568.7 83.3,569.7 84.3,570.8 85.4,571.8 86.4,572.9 87.4,574.1 88.3,575.3 89.3,576.4 90.4,577.5 91.5,578.4 92.7,579.4 93.8,580.3 94.9,581.4 95.8,582.6 96.7,583.8 97.8,584.9 99.0,585.8 100.2,586.7 101.3,587.7 102.3,588.9 103.3,590.0 104.3,591.1 105.3,592.2 106.5,593.2 107.6,594.2 108.7,595.2 109.8,596.2 110.9,597.3 111.9,598.4 112.9,599.5 113.9,600.6 115.0,601.6 116.1,602.6 117.2,603.6 118.3,604.6 119.4,605.7 120.5,606.7 121.5,607.8 124.7,604.6 123.7,603.6 122.6,602.5 121.5,601.4 120.5,600.3 119.5,599.2 118.5,598.1 117.4,597.0 116.3,596.0 115.2,595.0 114.1,594.0 113.0,593.0 112.0,591.9 111.0,590.7 110.0,589.6 109.1,588.5 108.0,587.4 106.8,586.4 105.7,585.5 104.6,584.5 103.5,583.4 102.6,582.2 101.7,580.9 100.7,579.9 99.4,579.0 98.2,578.1 97.2,577.0 96.2,575.9 95.2,574.7 94.3,573.5 93.2,572.5 92.1,571.5 90.9,570.6 89.7,569.6 88.6,568.6 87.5,567.6 86.5,566.5 85.4,565.4 84.4,564.4 83.3,563.3 82.2,562.3 81.2,561.2 80.2,560.1 79.2,559.0 78.1,557.9 76.9,556.9 75.9,555.9 75.0,554.7 74.1,553.4 73.0,552.4 71.7,551.5 70.6,550.6 69.7,549.3 68.8,548.1 67.6,547.2 66.3,546.3 65.2,545.3 64.2,544.2 63.2,543.1 62.1,542.1 61.0,541.0 59.9,540.0 58.8,539.0 57.9,537.8 57.0,536.5 55.8,535.7 54.6,534.7 53.7,533.5 52.7,532.3 51.6,531.3 50.4,530.4 49.3,529.4 48.4,528.2 47.4,527.0 46.5,525.9 45.3,524.9 44.1,524.0 42.9,523.1 41.8,522.0 40.8,521.0 39.7,519.9 38.6,518.9" fill="#a0083e" filter="url(#bl3)"/>
<ellipse cx="92.87" cy="576.07" rx="13.50" ry="4.95" transform="rotate(-45 92.87 576.07)" fill="url(#r71)" opacity="0.9"/>
<polygon points="84.4,570.1 85.4,571.2 86.5,572.2 87.5,573.3 88.6,574.3 89.7,575.4 90.7,576.5 91.8,577.5 92.8,578.6 93.9,579.6 95.0,580.7 96.0,581.8 97.1,582.8 98.1,583.9 99.2,584.9 101.7,582.4 100.7,581.3 99.6,580.3 98.6,579.2 97.5,578.2 96.4,577.1 95.4,576.0 94.3,575.0 93.3,573.9 92.2,572.9 91.1,571.8 90.1,570.7 89.0,569.7 88.0,568.6 86.9,567.6" fill="#a0083e" filter="url(#bl3)"/>
<rect x="92.37" y="524.70" width="1.0" height="76.90" fill="#5a4e9c" opacity="0.5"/>
<rect x="41.30" y="575.52" width="77.20" height="1.1" fill="#5a4e9c" opacity="0.65"/>
</g>
<g clip-path="url(#c72)">
<rect x="120.90" y="524.70" width="63.10" height="76.90" fill="#416cb2"/>
<circle cx="120.90" cy="524.70" r="2.2" fill="#e8e890" opacity="0.6" filter="url(#bl6)"/>
<circle cx="120.90" cy="524.70" r="1.2" fill="#c02040"/>
<circle cx="184.00" cy="524.70" r="2.2" fill="#e8e890" opacity="0.6" filter="url(#bl6)"/>
<circle cx="184.00" cy="524.70" r="1.2" fill="#c02040"/>
<circle cx="120.90" cy="601.60" r="2.2" fill="#e8e890" opacity="0.6" filter="url(#bl6)"/>
<circle cx="120.90" cy="601.60" r="1.2" fill="#c02040"/>
<circle cx="184.00" cy="601.60" r="2.2" fill="#e8e890" opacity="0.6" filter="url(#bl6)"/>
<circle cx="184.00" cy="601.60" r="1.2" fill="#c02040"/>
<rect x="143.12" y="524.70" width="1.0" height="76.90" fill="#5a4e9c" opacity="0.5"/>
<rect x="120.90" y="575.52" width="63.10" height="1.1" fill="#5a4e9c" opacity="0.65"/>
<polygon points="152.0,580.7 152.4,584.8 148.3,584.4 143.6,578.3 139.0,584.4 134.9,584.8 135.3,580.7 141.4,576.1 135.3,571.4 134.9,567.3 139.0,567.7 143.6,573.8 148.3,567.7 152.4,567.3 152.0,571.4 145.9,576.1" fill="url(#r73)" filter="url(#bl6)"/>
<circle cx="143.62" cy="576.07" r="1.0" fill="#c83040"/>
</g>
<g clip-path="url(#c74)">
<rect x="186.70" y="524.70" width="35.30" height="76.90" fill="#416cb2"/>
<circle cx="186.70" cy="524.70" r="2.2" fill="#e8e890" opacity="0.6" filter="url(#bl6)"/>
<circle cx="186.70" cy="524.70" r="1.2" fill="#c02040"/>
<circle cx="222.00" cy="524.70" r="2.2" fill="#e8e890" opacity="0.6" filter="url(#bl6)"/>
<circle cx="222.00" cy="524.70" r="1.2" fill="#c02040"/>
<circle cx="186.70" cy="601.60" r="2.2" fill="#e8e890" opacity="0.6" filter="url(#bl6)"/>
<circle cx="186.70" cy="601.60" r="1.2" fill="#c02040"/>
<circle cx="222.00" cy="601.60" r="2.2" fill="#e8e890" opacity="0.6" filter="url(#bl6)"/>
<circle cx="222.00" cy="601.60" r="1.2" fill="#c02040"/>
<rect x="202.44" y="524.70" width="1.0" height="76.90" fill="#5a4e9c" opacity="0.5"/>
<rect x="186.70" y="575.52" width="35.30" height="1.1" fill="#5a4e9c" opacity="0.65"/>
<polygon points="211.3,580.7 211.7,584.8 207.6,584.4 202.9,578.3 198.3,584.4 194.2,584.8 194.6,580.7 200.7,576.1 194.6,571.4 194.2,567.3 198.3,567.7 202.9,573.8 207.6,567.7 211.7,567.3 211.3,571.4 205.2,576.1" fill="url(#r75)" filter="url(#bl6)"/>
<circle cx="202.94" cy="576.07" r="1.0" fill="#c83040"/>
</g>
<g clip-path="url(#c76)">
<rect x="41.30" y="604.20" width="77.20" height="63.10" fill="#416cb2"/>
<circle cx="41.30" cy="604.20" r="2.2" fill="#e8e890" opacity="0.6" filter="url(#bl6)"/>
<circle cx="41.30" cy="604.20" r="1.2" fill="#c02040"/>
<circle cx="118.50" cy="604.20" r="2.2" fill="#e8e890" opacity="0.6" filter="url(#bl6)"/>
<circle cx="118.50" cy="604.20" r="1.2" fill="#c02040"/>
<circle cx="41.30" cy="667.30" r="2.2" fill="#e8e890" opacity="0.6" filter="url(#bl6)"/>
<circle cx="41.30" cy="667.30" r="1.2" fill="#c02040"/>
<circle cx="118.50" cy="667.30" r="2.2" fill="#e8e890" opacity="0.6" filter="url(#bl6)"/>
<circle cx="118.50" cy="667.30" r="1.2" fill="#c02040"/>
<rect x="92.37" y="604.20" width="1.0" height="63.10" fill="#5a4e9c" opacity="0.5"/>
<rect x="41.30" y="626.37" width="77.20" height="1.1" fill="#5a4e9c" opacity="0.65"/>
<polygon points="101.2,631.6 101.6,635.7 97.5,635.3 92.9,629.2 88.2,635.3 84.1,635.7 84.5,631.6 90.6,626.9 84.5,622.3 84.1,618.2 88.2,618.6 92.9,624.7 97.5,618.6 101.6,618.2 101.2,622.3 95.1,626.9" fill="url(#r77)" filter="url(#bl6)"/>
<circle cx="92.87" cy="626.92" r="1.0" fill="#c83040"/>
</g>
<g clip-path="url(#c78)">
<rect x="120.90" y="604.20" width="63.10" height="63.10" fill="#416cb2"/>
<polygon points="142.36,574.74 213.46,645.84 162.54,696.76 91.44,625.66" fill="url(#g79)"/>
<circle cx="120.90" cy="604.20" r="2.2" fill="#e8e890" opacity="0.6" filter="url(#bl6)"/>
<circle cx="120.90" cy="604.20" r="1.2" fill="#c02040"/>
<circle cx="184.00" cy="604.20" r="2.2" fill="#e8e890" opacity="0.6" filter="url(#bl6)"/>
<circle cx="184.00" cy="604.20" r="1.2" fill="#c02040"/>
<circle cx="120.90" cy="667.30" r="2.2" fill="#e8e890" opacity="0.6" filter="url(#bl6)"/>
<circle cx="120.90" cy="667.30" r="1.2" fill="#c02040"/>
<circle cx="184.00" cy="667.30" r="2.2" fill="#e8e890" opacity="0.6" filter="url(#bl6)"/>
<circle cx="184.00" cy="667.30" r="1.2" fill="#c02040"/>
<polygon points="109.0,607.6 110.1,608.7 111.1,609.7 112.2,610.8 113.3,611.8 114.2,613.0 115.2,614.2 116.4,615.1 117.4,616.1 118.3,617.4 119.3,618.6 120.5,619.4 121.6,620.5 121.8,622.4 122.0,624.3 123.0,625.5 124.9,625.7 126.8,625.9 127.7,627.1 128.2,628.7 128.7,630.3 129.5,631.6 131.1,632.1 132.8,632.6 134.4,633.1 134.6,635.0 134.6,637.1 136.1,637.8 138.3,637.8 139.2,638.9 139.3,641.0 140.3,642.1 142.4,642.1 143.9,642.7 144.8,643.9 145.7,645.2 147.0,646.0 148.2,646.9 149.0,648.2 149.7,649.6 150.4,651.1 151.1,652.5 152.6,653.1 154.0,653.8 155.5,654.5 156.6,655.5 157.3,656.9 158.2,658.1 159.6,658.8 161.0,659.6 161.8,660.8 162.7,662.1 163.6,663.3 164.7,664.3 165.9,665.2 167.2,666.1 168.4,667.0 168.8,668.7 169.3,670.4 169.7,672.1 170.9,673.0 172.6,673.4 174.3,673.8 175.7,674.6 176.1,676.3 176.7,677.8 178.4,678.3 180.1,678.7 181.1,679.7 196.4,664.4 195.4,663.4 195.0,661.7 194.5,660.0 193.0,659.4 191.3,659.0 190.5,657.6 190.1,655.9 189.7,654.2 188.8,653.0 187.1,652.6 185.4,652.1 183.7,651.7 182.8,650.5 181.9,649.2 181.0,648.0 180.0,646.9 178.8,646.0 177.5,645.1 176.3,644.3 175.5,642.9 174.8,641.5 173.6,640.6 172.2,639.9 171.2,638.8 170.5,637.3 169.8,635.9 169.2,634.4 167.8,633.7 166.3,633.0 164.9,632.3 163.6,631.5 162.7,630.3 161.9,629.0 160.6,628.1 159.4,627.2 158.8,625.7 158.8,623.6 157.7,622.6 155.6,622.5 154.5,621.6 154.5,619.4 153.8,617.9 151.7,617.9 149.8,617.7 149.3,616.1 148.8,614.4 148.3,612.8 147.0,612.0 145.4,611.5 143.8,611.0 142.6,610.1 142.4,608.2 142.2,606.3 141.0,605.3 139.1,605.1 137.2,604.9 136.1,603.8 135.3,602.6 134.1,601.6 132.8,600.7 131.8,599.7 130.9,598.5 129.7,597.5 128.5,596.6 127.5,595.5 126.4,594.4 125.4,593.4 124.3,592.3" fill="#38a0c4" filter="url(#bl16)"/>
<polygon points="111.0,605.6 112.1,606.7 113.1,607.7 114.2,608.8 115.2,609.9 116.2,611.0 117.2,612.2 118.4,613.1 119.4,614.2 120.3,615.4 121.3,616.5 122.5,617.4 123.6,618.5 124.0,620.2 124.4,622.0 125.4,623.1 127.1,623.5 128.8,623.8 129.8,625.0 130.4,626.5 131.0,628.0 131.9,629.3 133.4,629.9 134.9,630.5 136.4,631.1 136.8,632.8 137.0,634.7 138.4,635.5 140.3,635.7 141.3,636.8 141.6,638.7 142.6,639.8 144.5,640.0 145.9,640.7 146.8,641.9 147.8,643.1 149.0,644.0 150.2,644.9 151.1,646.1 151.8,647.5 152.6,648.9 153.4,650.2 154.8,651.0 156.1,651.7 157.5,652.4 158.6,653.5 159.4,654.8 160.3,656.0 161.7,656.8 162.9,657.6 163.9,658.8 164.8,660.0 165.7,661.2 166.8,662.3 168.0,663.2 169.2,664.1 170.4,665.0 170.9,666.6 171.5,668.2 172.1,669.7 173.2,670.6 174.8,671.2 176.4,671.8 177.7,672.6 178.2,674.1 178.9,675.6 180.5,676.1 182.1,676.7 183.1,677.7 194.4,666.4 193.4,665.4 192.8,663.8 192.3,662.2 190.8,661.5 189.3,661.0 188.5,659.7 187.9,658.1 187.3,656.5 186.4,655.4 184.9,654.8 183.3,654.2 181.7,653.7 180.8,652.5 179.9,651.3 179.0,650.1 177.9,649.0 176.7,648.1 175.5,647.2 174.3,646.2 173.5,645.0 172.7,643.6 171.5,642.7 170.2,641.9 169.1,640.8 168.4,639.4 167.7,638.1 166.9,636.7 165.6,635.9 164.2,635.1 162.8,634.4 161.6,633.5 160.7,632.3 159.8,631.1 158.6,630.1 157.4,629.2 156.7,627.8 156.5,625.9 155.4,624.9 153.5,624.6 152.4,623.6 152.2,621.7 151.4,620.3 149.5,620.1 147.8,619.7 147.2,618.2 146.6,616.7 146.0,615.2 144.7,614.3 143.2,613.7 141.7,613.1 140.5,612.1 140.2,610.4 139.8,608.7 138.7,607.7 136.9,607.3 135.2,606.9 134.1,605.8 133.2,604.6 132.1,603.6 130.9,602.7 129.8,601.7 128.9,600.5 127.7,599.5 126.6,598.5 125.5,597.5 124.4,596.4 123.4,595.4 122.3,594.3" fill="#9cd4a2" filter="url(#bl10)"/>
<polygon points="112.8,603.8 113.9,604.8 115.0,605.9 116.0,607.0 117.1,608.0 118.1,609.2 119.1,610.3 120.2,611.3 121.3,612.3 122.2,613.5 123.2,614.6 124.4,615.5 125.5,616.6 126.0,618.2 126.6,619.7 127.6,620.8 129.2,621.4 130.7,621.9 131.7,623.1 132.4,624.5 133.2,625.9 134.1,627.1 135.5,627.8 136.9,628.6 138.2,629.3 138.8,630.8 139.3,632.5 140.6,633.3 142.3,633.7 143.3,634.9 143.7,636.5 144.8,637.6 146.4,638.1 147.8,638.8 148.7,640.0 149.7,641.2 150.9,642.1 152.1,643.1 153.0,644.2 153.8,645.5 154.6,646.8 155.5,648.1 156.8,648.9 158.1,649.7 159.4,650.6 160.5,651.6 161.3,652.9 162.3,654.0 163.6,654.9 164.8,655.8 165.7,656.9 166.7,658.1 167.7,659.3 168.7,660.3 169.9,661.3 171.1,662.2 172.2,663.2 172.9,664.6 173.6,666.0 174.3,667.5 175.5,668.4 176.9,669.1 178.3,669.8 179.6,670.7 180.3,672.1 181.0,673.5 182.5,674.2 183.9,674.8 185.0,675.9 192.6,668.3 191.5,667.2 190.9,665.8 190.2,664.3 188.8,663.6 187.4,662.9 186.5,661.6 185.8,660.2 185.1,658.8 184.2,657.6 182.7,656.9 181.3,656.2 179.9,655.5 178.9,654.4 178.0,653.2 177.0,652.0 176.0,651.0 174.8,650.0 173.6,649.0 172.5,648.1 171.6,646.9 170.7,645.6 169.6,644.6 168.3,643.8 167.3,642.7 166.4,641.4 165.6,640.1 164.8,638.8 163.5,637.9 162.2,637.1 160.9,636.3 159.8,635.4 158.8,634.2 157.9,633.0 156.7,632.0 155.5,631.1 154.8,629.7 154.3,628.1 153.2,627.0 151.6,626.6 150.4,625.6 150.0,623.9 149.2,622.6 147.5,622.1 146.0,621.5 145.3,620.2 144.5,618.8 143.8,617.4 142.6,616.5 141.2,615.7 139.8,615.0 138.6,614.0 138.1,612.5 137.5,610.9 136.4,609.9 134.9,609.3 133.3,608.8 132.2,607.7 131.3,606.5 130.2,605.5 129.0,604.6 128.0,603.5 127.0,602.4 125.9,601.4 124.7,600.4 123.7,599.3 122.6,598.3 121.5,597.2 120.5,596.1" fill="#f0eca4" filter="url(#bl6)"/>
<polygon points="114.6,602.0 115.7,603.1 116.7,604.1 117.8,605.2 118.8,606.3 119.9,607.3 120.9,608.4 122.0,609.5 123.1,610.5 124.1,611.6 125.1,612.7 126.2,613.7 127.3,614.8 128.1,616.1 129.0,617.3 130.0,618.4 131.3,619.3 132.6,620.1 133.6,621.2 134.5,622.4 135.4,623.6 136.4,624.7 137.6,625.6 138.8,626.6 140.0,627.5 140.9,628.7 141.7,630.1 142.9,631.0 144.2,631.8 145.2,632.9 146.0,634.2 147.1,635.3 148.4,636.1 149.6,637.0 150.6,638.1 151.6,639.2 152.7,640.3 153.8,641.3 154.8,642.4 155.8,643.5 156.8,644.7 157.7,645.8 158.9,646.8 160.1,647.8 161.2,648.7 162.3,649.8 163.3,650.9 164.3,652.0 165.4,653.0 166.6,654.0 167.6,655.1 168.6,656.2 169.6,657.3 170.7,658.4 171.8,659.4 172.9,660.4 174.0,661.4 174.9,662.6 175.8,663.8 176.7,665.1 177.8,666.1 179.0,667.0 180.2,667.9 181.4,668.9 182.3,670.1 183.2,671.3 184.4,672.2 185.7,673.1 186.7,674.1 190.8,670.0 189.8,669.0 188.9,667.7 188.0,666.5 186.8,665.6 185.6,664.7 184.6,663.5 183.7,662.3 182.8,661.1 181.8,660.0 180.5,659.1 179.3,658.2 178.1,657.3 177.1,656.2 176.1,655.1 175.1,654.0 174.0,652.9 172.9,651.9 171.8,650.9 170.7,649.9 169.7,648.7 168.7,647.6 167.6,646.6 166.5,645.6 165.4,644.5 164.5,643.4 163.5,642.2 162.5,641.0 161.4,640.1 160.2,639.1 159.1,638.1 158.0,637.1 157.0,636.0 155.9,634.9 154.8,633.9 153.7,632.9 152.8,631.7 152.0,630.4 150.9,629.3 149.6,628.5 148.5,627.5 147.7,626.2 146.8,625.0 145.4,624.2 144.2,623.3 143.3,622.1 142.3,620.9 141.4,619.7 140.3,618.7 139.1,617.8 137.9,616.9 136.8,615.9 136.0,614.6 135.1,613.3 134.0,612.3 132.8,611.4 131.5,610.6 130.4,609.5 129.4,608.4 128.3,607.4 127.2,606.4 126.2,605.3 125.1,604.2 124.0,603.2 123.0,602.1 121.9,601.1 120.8,600.0 119.8,599.0 118.7,597.9" fill="#e56a4c" filter="url(#bl3)"/>
<polygon points="115.1,601.5 116.1,602.6 117.2,603.7 118.2,604.7 119.3,605.8 120.3,606.9 121.4,608.0 122.5,609.0 123.5,610.0 124.6,611.2 125.6,612.2 126.7,613.2 127.8,614.3 128.6,615.6 129.5,616.8 130.6,617.9 131.8,618.7 133.0,619.6 134.1,620.7 135.0,621.9 136.0,623.1 137.0,624.2 138.1,625.1 139.3,626.1 140.5,627.0 141.4,628.3 142.2,629.5 143.4,630.5 144.7,631.3 145.7,632.4 146.6,633.7 147.6,634.8 148.9,635.6 150.1,636.6 151.1,637.7 152.1,638.8 153.2,639.8 154.3,640.8 155.3,641.9 156.3,643.1 157.3,644.2 158.3,645.3 159.4,646.3 160.5,647.3 161.7,648.3 162.8,649.3 163.7,650.5 164.8,651.5 165.9,652.5 167.0,653.5 168.1,654.6 169.1,655.7 170.1,656.8 171.2,657.9 172.3,658.9 173.4,659.9 174.5,660.9 175.4,662.1 176.3,663.3 177.2,664.5 178.3,665.6 179.5,666.5 180.7,667.4 181.9,668.4 182.8,669.6 183.7,670.8 184.9,671.7 186.1,672.6 187.2,673.7 190.4,670.5 189.3,669.4 188.4,668.2 187.5,667.0 186.3,666.1 185.1,665.2 184.1,664.0 183.2,662.8 182.3,661.6 181.2,660.5 180.0,659.6 178.8,658.7 177.6,657.8 176.6,656.7 175.6,655.6 174.6,654.5 173.5,653.4 172.4,652.4 171.3,651.4 170.2,650.3 169.2,649.2 168.2,648.1 167.2,647.0 166.0,646.1 165.0,645.0 164.0,643.8 163.0,642.7 162.0,641.6 160.9,640.6 159.8,639.6 158.6,638.6 157.5,637.6 156.5,636.5 155.5,635.4 154.4,634.4 153.3,633.4 152.3,632.2 151.5,630.9 150.4,629.9 149.1,629.0 148.0,628.0 147.2,626.7 146.2,625.5 145.0,624.7 143.7,623.8 142.8,622.6 141.8,621.4 140.9,620.3 139.8,619.3 138.6,618.3 137.4,617.4 136.3,616.3 135.4,615.1 134.6,613.9 133.5,612.8 132.3,611.9 131.0,611.1 129.9,610.0 128.9,608.9 127.9,607.9 126.7,606.8 125.7,605.8 124.7,604.7 123.6,603.6 122.5,602.6 121.4,601.5 120.4,600.5 119.3,599.4 118.2,598.4" fill="#a0083e" filter="url(#bl3)"/>
<ellipse cx="143.62" cy="626.92" rx="13.50" ry="4.95" transform="rotate(-45 143.62 626.92)" fill="url(#r80)" opacity="0.9"/>
<polygon points="135.1,620.9 136.2,622.0 137.2,623.1 138.3,624.1 139.3,625.2 140.4,626.2 141.5,627.3 142.5,628.4 143.6,629.4 144.6,630.5 145.7,631.6 146.8,632.6 147.8,633.7 148.9,634.7 149.9,635.8 152.5,633.2 151.4,632.2 150.4,631.1 149.3,630.1 148.3,629.0 147.2,627.9 146.1,626.9 145.1,625.8 144.0,624.8 142.9,623.7 141.9,622.6 140.8,621.6 139.8,620.5 138.7,619.5 137.6,618.4" fill="#a0083e" filter="url(#bl3)"/>
<rect x="143.12" y="604.20" width="1.0" height="63.10" fill="#5a4e9c" opacity="0.5"/>
<rect x="120.90" y="626.37" width="63.10" height="1.1" fill="#5a4e9c" opacity="0.65"/>
</g>
<g clip-path="url(#c81)">
<rect x="186.70" y="604.20" width="35.30" height="63.10" fill="#416cb2"/>
<circle cx="186.70" cy="604.20" r="2.2" fill="#e8e890" opacity="0.6" filter="url(#bl6)"/>
<circle cx="186.70" cy="604.20" r="1.2" fill="#c02040"/>
<circle cx="222.00" cy="604.20" r="2.2" fill="#e8e890" opacity="0.6" filter="url(#bl6)"/>
<circle cx="222.00" cy="604.20" r="1.2" fill="#c02040"/>
<circle cx="186.70" cy="667.30" r="2.2" fill="#e8e890" opacity="0.6" filter="url(#bl6)"/>
<circle cx="186.70" cy="667.30" r="1.2" fill="#c02040"/>
<circle cx="222.00" cy="667.30" r="2.2" fill="#e8e890" opacity="0.6" filter="url(#bl6)"/>
<circle cx="222.00" cy="667.30" r="1.2" fill="#c02040"/>
<rect x="202.44" y="604.20" width="1.0" height="63.10" fill="#5a4e9c" opacity="0.5"/>
<rect x="186.70" y="626.37" width="35.30" height="1.1" fill="#5a4e9c" opacity="0.65"/>
<polygon points="211.3,631.6 211.7,635.7 207.6,635.3 202.9,629.2 198.3,635.3 194.2,635.7 194.6,631.6 200.7,626.9 194.6,622.3 194.2,618.2 198.3,618.6 202.9,624.7 207.6,618.6 211.7,618.2 211.3,622.3 205.2,626.9" fill="url(#r82)" filter="url(#bl6)"/>
<circle cx="202.94" cy="626.92" r="1.0" fill="#c83040"/>
</g>
<g clip-path="url(#c83)">
<rect x="41.30" y="669.90" width="77.20" height="33.90" fill="#416cb2"/>
<circle cx="41.30" cy="669.90" r="2.2" fill="#e8e890" opacity="0.6" filter="url(#bl6)"/>
<circle cx="41.30" cy="669.90" r="1.2" fill="#c02040"/>
<circle cx="118.50" cy="669.90" r="2.2" fill="#e8e890" opacity="0.6" filter="url(#bl6)"/>
<circle cx="118.50" cy="669.90" r="1.2" fill="#c02040"/>
<circle cx="41.30" cy="703.80" r="2.2" fill="#e8e890" opacity="0.6" filter="url(#bl6)"/>
<circle cx="41.30" cy="703.80" r="1.2" fill="#c02040"/>
<circle cx="118.50" cy="703.80" r="2.2" fill="#e8e890" opacity="0.6" filter="url(#bl6)"/>
<circle cx="118.50" cy="703.80" r="1.2" fill="#c02040"/>
<rect x="92.37" y="669.90" width="1.0" height="33.90" fill="#5a4e9c" opacity="0.5"/>
<rect x="41.30" y="684.94" width="77.20" height="1.1" fill="#5a4e9c" opacity="0.65"/>
<polygon points="101.2,690.1 101.6,694.2 97.5,693.9 92.9,687.7 88.2,693.9 84.1,694.2 84.5,690.1 90.6,685.5 84.5,680.9 84.1,676.7 88.2,677.1 92.9,683.2 97.5,677.1 101.6,676.7 101.2,680.9 95.1,685.5" fill="url(#r84)" filter="url(#bl6)"/>
<circle cx="92.87" cy="685.49" r="1.0" fill="#c83040"/>
</g>
<g clip-path="url(#c85)">
<rect x="120.90" y="669.90" width="63.10" height="33.90" fill="#416cb2"/>
<circle cx="120.90" cy="669.90" r="2.2" fill="#e8e890" opacity="0.6" filter="url(#bl6)"/>
<circle cx="120.90" cy="669.90" r="1.2" fill="#c02040"/>
<circle cx="184.00" cy="669.90" r="2.2" fill="#e8e890" opacity="0.6" filter="url(#bl6)"/>
<circle cx="184.00" cy="669.90" r="1.2" fill="#c02040"/>
<circle cx="120.90" cy="703.80" r="2.2" fill="#e8e890" opacity="0.6" filter="url(#bl6)"/>
<circle cx="120.90" cy="703.80" r="1.2" fill="#c02040"/>
<circle cx="184.00" cy="703.80" r="2.2" fill="#e8e890" opacity="0.6" filter="url(#bl6)"/>
<circle cx="184.00" cy="703.80" r="1.2" fill="#c02040"/>
<rect x="143.12" y="669.90" width="1.0" height="33.90" fill="#5a4e9c" opacity="0.5"/>
<rect x="120.90" y="684.94" width="63.10" height="1.1" fill="#5a4e9c" opacity="0.65"/>
<polygon points="152.0,690.1 152.4,694.2 148.3,693.9 143.6,687.7 139.0,693.9 134.9,694.2 135.3,690.1 141.4,685.5 135.3,680.9 134.9,676.7 139.0,677.1 143.6,683.2 148.3,677.1 152.4,676.7 152.0,680.9 145.9,685.5" fill="url(#r86)" filter="url(#bl6)"/>
<circle cx="143.62" cy="685.49" r="1.0" fill="#c83040"/>
</g>
<g clip-path="url(#c87)">
<rect x="186.70" y="669.90" width="35.30" height="33.90" fill="#416cb2"/>
<polygon points="208.16,640.44 251.46,682.34 200.54,733.26 157.24,691.36" fill="url(#g88)"/>
<circle cx="186.70" cy="669.90" r="2.2" fill="#e8e890" opacity="0.6" filter="url(#bl6)"/>
<circle cx="186.70" cy="669.90" r="1.2" fill="#c02040"/>
<circle cx="222.00" cy="669.90" r="2.2" fill="#e8e890" opacity="0.6" filter="url(#bl6)"/>
<circle cx="222.00" cy="669.90" r="1.2" fill="#c02040"/>
<circle cx="186.70" cy="703.80" r="2.2" fill="#e8e890" opacity="0.6" filter="url(#bl6)"/>
<circle cx="186.70" cy="703.80" r="1.2" fill="#c02040"/>
<circle cx="222.00" cy="703.80" r="2.2" fill="#e8e890" opacity="0.6" filter="url(#bl6)"/>
<circle cx="222.00" cy="703.80" r="1.2" fill="#c02040"/>
<polygon points="174.9,673.5 176.0,674.6 177.1,675.6 178.1,676.7 179.2,677.7 180.3,678.8 181.3,679.8 182.4,680.8 183.5,681.9 183.9,683.6 184.3,685.4 185.7,686.1 187.5,686.4 188.9,687.1 190.0,688.1 191.0,689.2 192.1,690.2 193.3,691.2 194.2,692.4 194.7,694.0 195.3,695.6 195.9,697.2 196.8,698.3 198.4,698.8 200.0,699.3 201.6,699.8 202.8,700.8 203.3,702.5 203.7,704.1 204.7,705.2 206.4,705.7 208.1,706.1 209.4,706.9 210.3,708.1 211.3,709.3 212.2,710.5 213.4,711.4 214.6,712.3 215.9,713.1 217.1,714.1 218.2,715.1 219.2,716.1 234.2,700.6 233.1,699.5 232.0,698.5 231.1,697.3 230.2,696.1 229.2,694.9 228.3,693.7 227.1,692.8 225.8,692.0 224.5,691.1 223.7,689.8 223.2,688.2 222.7,686.5 221.6,685.5 219.9,685.1 218.2,684.7 217.2,683.6 216.6,682.0 216.1,680.5 215.5,678.9 214.3,678.0 212.7,677.5 211.1,677.0 209.5,676.5 208.3,675.6 207.2,674.5 206.2,673.4 205.1,672.4 203.9,671.4 203.2,670.0 202.9,668.2 202.1,666.9 200.3,666.6 198.5,666.2 197.4,665.2 196.4,664.1 195.3,663.1 194.2,662.1 193.1,661.1 192.0,660.0 190.9,659.0 189.9,658.0" fill="#38a0c4" filter="url(#bl16)"/>
<polygon points="176.8,671.5 177.9,672.6 179.0,673.6 180.1,674.6 181.2,675.7 182.2,676.7 183.3,677.8 184.4,678.8 185.5,679.8 186.0,681.5 186.5,683.1 187.9,683.9 189.5,684.3 190.9,685.0 191.9,686.1 193.0,687.2 194.1,688.2 195.2,689.2 196.2,690.4 196.8,691.8 197.5,693.3 198.2,694.8 199.2,695.9 200.7,696.5 202.1,697.1 203.6,697.7 204.8,698.7 205.4,700.3 206.0,701.8 207.0,702.9 208.6,703.4 210.1,704.0 211.4,704.8 212.3,706.0 213.3,707.2 214.2,708.4 215.4,709.3 216.6,710.2 217.9,711.1 219.0,712.0 220.1,713.1 221.2,714.1 232.3,702.6 231.2,701.5 230.1,700.5 229.1,699.4 228.2,698.2 227.2,697.0 226.2,695.9 225.0,695.0 223.8,694.1 222.6,693.2 221.7,691.9 221.1,690.4 220.5,688.9 219.3,687.9 217.8,687.3 216.2,686.8 215.2,685.7 214.5,684.2 213.9,682.8 213.2,681.3 212.0,680.4 210.5,679.7 209.0,679.1 207.5,678.5 206.3,677.6 205.3,676.5 204.2,675.5 203.1,674.5 202.0,673.5 201.2,672.1 200.7,670.5 199.8,669.2 198.2,668.7 196.6,668.3 195.5,667.2 194.4,666.2 193.3,665.2 192.2,664.1 191.2,663.1 190.1,662.1 189.0,661.0 187.9,660.0" fill="#9cd4a2" filter="url(#bl10)"/>
<polygon points="178.6,669.6 179.7,670.7 180.8,671.7 181.9,672.8 183.0,673.8 184.0,674.8 185.1,675.9 186.2,676.9 187.3,678.0 188.0,679.4 188.6,680.9 189.9,681.7 191.4,682.4 192.7,683.2 193.7,684.2 194.8,685.3 195.9,686.3 197.0,687.3 198.0,688.5 198.8,689.8 199.6,691.2 200.3,692.5 201.3,693.6 202.7,694.4 204.1,695.1 205.5,695.8 206.6,696.8 207.3,698.2 208.1,699.6 209.1,700.7 210.5,701.4 212.0,702.0 213.2,702.9 214.2,704.1 215.2,705.2 216.2,706.4 217.3,707.3 218.5,708.2 219.7,709.2 220.8,710.2 221.9,711.2 223.0,712.2 230.5,704.4 229.4,703.4 228.3,702.4 227.3,701.3 226.3,700.1 225.3,699.0 224.3,697.9 223.1,696.9 222.0,696.0 220.8,695.1 219.8,693.9 219.1,692.5 218.4,691.1 217.2,690.1 215.8,689.4 214.4,688.7 213.3,687.6 212.6,686.3 211.8,684.9 211.0,683.6 209.9,682.6 208.5,681.9 207.1,681.2 205.7,680.4 204.5,679.5 203.5,678.4 202.4,677.4 201.3,676.4 200.2,675.3 199.3,674.1 198.7,672.6 197.7,671.4 196.3,670.8 194.8,670.1 193.7,669.1 192.6,668.1 191.5,667.0 190.4,666.0 189.4,665.0 188.3,663.9 187.2,662.9 186.1,661.8" fill="#f0eca4" filter="url(#bl6)"/>
<polygon points="180.4,667.8 181.4,668.9 182.5,669.9 183.6,671.0 184.7,672.0 185.8,673.0 186.8,674.1 187.9,675.1 189.0,676.2 189.9,677.4 190.8,678.6 192.0,679.6 193.2,680.4 194.4,681.3 195.5,682.4 196.6,683.4 197.7,684.5 198.7,685.5 199.8,686.6 200.7,687.8 201.7,688.9 202.6,690.1 203.7,691.2 204.9,692.1 206.1,693.0 207.3,693.9 208.4,694.9 209.4,696.1 210.3,697.3 211.4,698.4 212.6,699.2 213.8,700.1 215.0,701.1 216.0,702.2 217.0,703.3 218.1,704.4 219.2,705.4 220.3,706.3 221.4,707.3 222.6,708.4 223.6,709.4 224.7,710.4 228.7,706.3 227.7,705.2 226.6,704.2 225.5,703.1 224.5,702.0 223.4,700.9 222.4,699.9 221.3,698.9 220.1,697.9 219.0,696.9 218.0,695.8 217.1,694.6 216.1,693.4 215.0,692.4 213.8,691.5 212.6,690.6 211.5,689.5 210.6,688.4 209.6,687.2 208.6,686.0 207.5,685.0 206.3,684.1 205.1,683.2 203.9,682.3 202.8,681.3 201.7,680.3 200.6,679.2 199.5,678.2 198.5,677.2 197.5,676.0 196.6,674.8 195.6,673.7 194.3,672.8 193.0,672.0 192.0,670.9 190.9,669.9 189.8,668.8 188.7,667.8 187.6,666.8 186.5,665.7 185.5,664.7 184.4,663.7" fill="#e56a4c" filter="url(#bl3)"/>
<polygon points="180.8,667.4 181.9,668.4 183.0,669.4 184.1,670.5 185.1,671.5 186.2,672.6 187.3,673.6 188.4,674.6 189.5,675.7 190.4,676.9 191.3,678.1 192.5,679.0 193.7,679.9 194.9,680.9 195.9,681.9 197.0,683.0 198.1,684.0 199.2,685.0 200.3,686.1 201.2,687.3 202.2,688.4 203.2,689.6 204.2,690.6 205.4,691.6 206.6,692.5 207.8,693.4 208.9,694.4 209.8,695.6 210.8,696.8 211.9,697.8 213.1,698.7 214.3,699.6 215.4,700.6 216.5,701.7 217.5,702.8 218.6,703.9 219.7,704.9 220.8,705.9 221.9,706.9 223.0,707.9 224.1,708.9 225.2,710.0 228.3,706.7 227.2,705.7 226.1,704.6 225.1,703.6 224.0,702.5 223.0,701.4 221.9,700.4 220.8,699.4 219.7,698.4 218.6,697.4 217.5,696.3 216.6,695.1 215.6,693.9 214.5,692.9 213.3,692.0 212.1,691.1 211.0,690.0 210.1,688.9 209.1,687.7 208.1,686.6 207.0,685.6 205.8,684.6 204.6,683.7 203.4,682.8 202.3,681.8 201.3,680.7 200.2,679.7 199.1,678.7 198.0,677.6 197.0,676.5 196.1,675.3 195.0,674.2 193.8,673.3 192.6,672.4 191.5,671.4 190.4,670.3 189.3,669.3 188.3,668.3 187.2,667.2 186.1,666.2 185.0,665.2 183.9,664.1" fill="#a0083e" filter="url(#bl3)"/>
<ellipse cx="202.94" cy="685.49" rx="13.50" ry="4.95" transform="rotate(-45 202.94 685.49)" fill="url(#r89)" opacity="0.9"/>
<polygon points="194.4,679.5 195.5,680.6 196.5,681.6 197.6,682.7 198.7,683.8 199.7,684.8 200.8,685.9 201.8,686.9 202.9,688.0 204.0,689.1 205.0,690.1 206.1,691.2 207.2,692.3 208.2,693.3 209.3,694.4 211.8,691.8 210.8,690.8 209.7,689.7 208.6,688.6 207.6,687.6 206.5,686.5 205.5,685.5 204.4,684.4 203.3,683.3 202.3,682.3 201.2,681.2 200.2,680.2 199.1,679.1 198.0,678.0 197.0,677.0" fill="#a0083e" filter="url(#bl3)"/>
<rect x="202.44" y="669.90" width="1.0" height="33.90" fill="#5a4e9c" opacity="0.5"/>
<rect x="186.70" y="684.94" width="35.30" height="1.1" fill="#5a4e9c" opacity="0.65"/>
</g>
<rect x="268.00" y="514.60" width="77.80" height="7.40" rx="1.2" fill="url(#barH)"/>
<path d="M268.90 514.80 Q267.50 518.30 268.90 521.80" stroke="#8a0c2a" stroke-width="1.7" fill="none"/>
<path d="M344.90 514.80 Q346.30 518.30 344.90 521.80" stroke="#8a0c2a" stroke-width="1.7" fill="none"/>
<rect x="319.22" y="514.40" width="1.5" height="7.80" fill="#9e0c2e"/>
<rect x="348.20" y="514.60" width="63.10" height="7.40" rx="1.2" fill="url(#barH)"/>
<path d="M349.10 514.80 Q347.70 518.30 349.10 521.80" stroke="#8a0c2a" stroke-width="1.7" fill="none"/>
<path d="M410.40 514.80 Q411.80 518.30 410.40 521.80" stroke="#8a0c2a" stroke-width="1.7" fill="none"/>
<rect x="370.17" y="514.40" width="1.5" height="7.80" fill="#9e0c2e"/>
<rect x="414.00" y="514.60" width="34.30" height="7.40" rx="1.2" fill="url(#barH)"/>
<path d="M414.90 514.80 Q413.50 518.30 414.90 521.80" stroke="#8a0c2a" stroke-width="1.7" fill="none"/>
<path d="M447.40 514.80 Q448.80 518.30 447.40 521.80" stroke="#8a0c2a" stroke-width="1.7" fill="none"/>
<rect x="429.03" y="514.40" width="1.5" height="7.80" fill="#9e0c2e"/>
<rect x="257.50" y="525.30" width="7.80" height="76.70" rx="1.2" fill="url(#barV)"/>
<path d="M257.70 526.20 Q261.40 524.80 265.10 526.20" stroke="#8a0c2a" stroke-width="1.7" fill="none"/>
<path d="M257.70 601.10 Q261.40 602.50 265.10 601.10" stroke="#8a0c2a" stroke-width="1.7" fill="none"/>
<rect x="257.30" y="575.79" width="8.20" height="1.5" fill="#9e0c2e"/>
<rect x="257.50" y="604.20" width="7.80" height="63.20" rx="1.2" fill="url(#barV)"/>
<path d="M257.70 605.10 Q261.40 603.70 265.10 605.10" stroke="#8a0c2a" stroke-width="1.7" fill="none"/>
<path d="M257.70 666.50 Q261.40 667.90 265.10 666.50" stroke="#8a0c2a" stroke-width="1.7" fill="none"/>
<rect x="257.30" y="626.20" width="8.20" height="1.5" fill="#9e0c2e"/>
<rect x="257.50" y="670.00" width="7.80" height="33.60" rx="1.2" fill="url(#barV)"/>
<path d="M257.70 670.90 Q261.40 669.50 265.10 670.90" stroke="#8a0c2a" stroke-width="1.7" fill="none"/>
<path d="M257.70 702.70 Q261.40 704.10 265.10 702.70" stroke="#8a0c2a" stroke-width="1.7" fill="none"/>
<rect x="257.30" y="684.71" width="8.20" height="1.5" fill="#9e0c2e"/>
<text x="314.20" y="511.33" font-size="8.9" text-anchor="middle" font-weight="bold" font-style="normal" fill="#231f20" stroke="#231f20" stroke-width="0.22" transform="translate(314.20 511.33) scale(1 1.07) translate(-314.20 -511.33)">Chr I</text>
<text x="382.50" y="511.33" font-size="8.9" text-anchor="middle" font-weight="bold" font-style="normal" fill="#231f20" stroke="#231f20" stroke-width="0.22" transform="translate(382.50 511.33) scale(1 1.07) translate(-382.50 -511.33)">Chr II</text>
<text x="431.30" y="511.33" font-size="8.9" text-anchor="middle" font-weight="bold" font-style="normal" fill="#231f20" stroke="#231f20" stroke-width="0.22" transform="translate(431.30 511.33) scale(1 1.07) translate(-431.30 -511.33)">Chr III</text>
<text x="250.70" y="560.54" font-size="8.8" text-anchor="middle" font-weight="bold" font-style="normal" fill="#231f20" stroke="#231f20" stroke-width="0.22" transform="rotate(-90 250.70 557.15) translate(250.70 560.54) scale(1 1.07) translate(-250.70 -560.54)">Chr I</text>
<text x="250.70" y="635.49" font-size="8.8" text-anchor="middle" font-weight="bold" font-style="normal" fill="#231f20" stroke="#231f20" stroke-width="0.22" transform="rotate(-90 250.70 632.10) translate(250.70 635.49) scale(1 1.07) translate(-250.70 -635.49)">Chr II</text>
<text x="250.70" y="688.39" font-size="8.8" text-anchor="middle" font-weight="bold" font-style="normal" fill="#231f20" stroke="#231f20" stroke-width="0.22" transform="rotate(-90 250.70 685.00) translate(250.70 688.39) scale(1 1.07) translate(-250.70 -688.39)">Chr III</text>
<g clip-path="url(#c90)">
<rect x="268.00" y="525.30" width="77.80" height="76.70" fill="#4a5ea8"/>
<polygon points="289.46,495.84 375.26,580.54 324.34,631.46 238.54,546.76" fill="url(#g91)"/>
<circle cx="268.00" cy="525.30" r="2.2" fill="#e8e890" opacity="0.6" filter="url(#bl6)"/>
<circle cx="268.00" cy="525.30" r="1.2" fill="#c02040"/>
<circle cx="345.80" cy="525.30" r="2.2" fill="#e8e890" opacity="0.6" filter="url(#bl6)"/>
<circle cx="345.80" cy="525.30" r="1.2" fill="#c02040"/>
<circle cx="268.00" cy="602.00" r="2.2" fill="#e8e890" opacity="0.6" filter="url(#bl6)"/>
<circle cx="268.00" cy="602.00" r="1.2" fill="#c02040"/>
<circle cx="345.80" cy="602.00" r="2.2" fill="#e8e890" opacity="0.6" filter="url(#bl6)"/>
<circle cx="345.80" cy="602.00" r="1.2" fill="#c02040"/>
<polygon points="256.8,528.1 257.9,529.1 259.0,530.2 260.1,531.2 261.1,532.3 262.0,533.5 262.9,534.7 263.8,535.9 265.1,536.8 266.3,537.7 267.5,538.6 268.5,539.7 269.6,540.8 270.6,541.9 271.6,543.0 272.8,544.0 273.9,545.0 275.0,546.0 275.7,547.4 275.7,549.6 276.8,550.6 278.9,550.6 280.0,551.6 280.5,553.2 281.2,554.7 282.8,555.2 284.4,555.6 285.6,556.6 286.6,557.7 287.5,558.9 288.5,560.1 289.6,561.1 290.7,562.0 291.9,563.0 293.1,563.9 294.0,565.2 294.6,566.7 295.2,568.3 295.8,569.7 297.4,570.3 298.9,570.9 300.5,571.4 301.1,572.9 301.2,575.0 302.4,575.9 304.4,576.0 305.7,576.8 306.2,578.4 306.7,580.1 308.1,580.7 309.8,581.2 311.3,581.8 312.4,582.8 313.4,583.9 314.5,585.0 315.5,586.0 316.6,587.1 317.7,588.1 318.8,589.2 319.7,590.4 320.3,591.9 320.8,593.5 321.9,594.6 323.5,595.1 325.0,595.6 325.7,597.1 325.9,599.0 327.4,599.6 329.4,599.8 330.2,601.1 330.8,602.6 331.4,604.1 332.0,605.6 333.5,606.3 335.0,606.9 336.5,607.5 338.0,608.1 338.3,609.9 338.6,611.8 340.3,612.2 342.1,612.5 343.4,613.4 357.1,599.4 356.2,598.2 355.9,596.3 355.5,594.7 353.6,594.4 351.8,594.1 351.2,592.6 350.5,591.1 349.9,589.6 349.2,588.2 347.7,587.6 346.2,587.0 344.7,586.4 343.3,585.6 343.1,583.7 342.6,582.1 340.6,582.0 339.2,581.3 338.6,579.8 338.0,578.2 337.0,577.1 335.4,576.6 333.8,576.1 332.6,575.2 331.5,574.1 330.5,573.0 329.4,572.0 328.3,570.9 327.3,569.9 326.2,568.9 325.1,567.8 324.5,566.3 324.0,564.6 323.3,563.2 321.7,562.7 320.0,562.3 319.2,561.0 319.1,558.9 318.1,557.8 316.1,557.7 314.6,557.1 314.0,555.6 313.4,554.0 312.8,552.5 311.3,551.8 309.8,551.3 308.2,550.7 307.0,549.9 306.0,548.7 305.1,547.5 304.1,546.4 303.1,545.3 301.9,544.3 300.7,543.4 299.5,542.5 298.6,541.3 298.1,539.7 297.6,538.1 296.1,537.4 294.5,536.9 293.4,535.8 293.4,533.7 292.4,532.6 290.2,532.6 288.8,532.0 287.8,530.9 286.7,529.8 285.7,528.7 284.6,527.7 283.5,526.6 282.4,525.6 281.3,524.6 280.4,523.4 279.5,522.2 278.6,521.0 277.4,520.1 276.1,519.2 274.9,518.3 273.8,517.3 272.7,516.2 271.7,515.2 270.6,514.1" fill="#38a0c4" filter="url(#bl16)"/>
<polygon points="258.7,526.2 259.7,527.3 260.8,528.3 261.9,529.4 262.9,530.4 263.9,531.6 264.8,532.8 265.8,534.0 267.0,534.9 268.2,535.8 269.3,536.8 270.4,537.8 271.4,538.9 272.5,540.0 273.5,541.1 274.6,542.1 275.7,543.1 276.8,544.1 277.6,545.5 277.8,547.4 278.9,548.4 280.8,548.6 281.9,549.7 282.5,551.2 283.3,552.5 284.8,553.1 286.3,553.7 287.5,554.7 288.4,555.8 289.4,557.0 290.4,558.1 291.5,559.2 292.6,560.1 293.8,561.1 294.9,562.1 295.9,563.3 296.6,564.7 297.3,566.1 298.0,567.5 299.4,568.2 300.9,568.9 302.3,569.5 303.0,570.9 303.4,572.7 304.5,573.7 306.3,574.0 307.6,574.9 308.2,576.4 308.8,577.9 310.2,578.6 311.7,579.2 313.1,579.9 314.2,581.0 315.3,582.1 316.3,583.1 317.4,584.2 318.5,585.2 319.5,586.3 320.6,587.3 321.6,588.5 322.2,589.9 322.9,591.4 324.0,592.4 325.4,593.1 326.9,593.8 327.7,595.1 328.0,596.9 329.5,597.5 331.2,597.9 332.1,599.2 332.8,600.6 333.5,602.0 334.3,603.4 335.6,604.1 337.0,604.8 338.4,605.5 339.9,606.3 340.3,607.9 340.8,609.6 342.3,610.1 344.0,610.6 345.2,611.5 355.3,601.3 354.4,600.1 353.9,598.4 353.3,596.9 351.6,596.4 350.0,596.0 349.2,594.6 348.5,593.2 347.8,591.8 347.0,590.4 345.6,589.7 344.2,589.0 342.8,588.3 341.5,587.5 341.1,585.8 340.4,584.3 338.7,584.0 337.3,583.2 336.6,581.8 335.9,580.3 334.9,579.3 333.4,578.6 331.9,578.0 330.7,577.0 329.7,576.0 328.6,574.9 327.6,573.8 326.5,572.8 325.4,571.7 324.3,570.7 323.3,569.7 322.6,568.2 321.9,566.7 321.2,565.4 319.6,564.8 318.1,564.2 317.3,562.9 316.9,561.1 315.9,560.0 314.1,559.7 312.7,559.0 312.0,557.6 311.3,556.1 310.6,554.7 309.2,554.0 307.8,553.3 306.3,552.6 305.1,551.7 304.2,550.6 303.2,549.4 302.2,548.3 301.1,547.2 300.0,546.3 298.8,545.3 297.7,544.3 296.7,543.2 296.1,541.7 295.4,540.2 294.1,539.5 292.6,538.8 291.5,537.8 291.3,535.9 290.2,534.8 288.3,534.6 287.0,533.8 285.9,532.8 284.9,531.7 283.9,530.6 282.8,529.5 281.7,528.5 280.6,527.5 279.5,526.5 278.5,525.3 277.6,524.1 276.6,522.9 275.5,522.0 274.3,521.1 273.1,520.2 272.0,519.1 270.9,518.1 269.9,517.0 268.8,516.0" fill="#9cd4a2" filter="url(#bl10)"/>
<polygon points="260.3,524.6 261.4,525.6 262.4,526.7 263.5,527.7 264.6,528.8 265.5,529.9 266.5,531.1 267.5,532.2 268.6,533.2 269.8,534.1 271.0,535.1 272.0,536.2 273.0,537.3 274.1,538.4 275.1,539.4 276.2,540.4 277.3,541.5 278.4,542.5 279.3,543.8 279.7,545.5 280.8,546.5 282.5,546.9 283.6,548.0 284.3,549.4 285.1,550.6 286.6,551.4 288.0,552.1 289.1,553.1 290.1,554.2 291.1,555.3 292.1,556.4 293.2,557.5 294.3,558.4 295.4,559.4 296.6,560.4 297.5,561.6 298.3,562.9 299.1,564.3 299.9,565.6 301.3,566.3 302.6,567.1 304.0,567.9 304.8,569.2 305.3,570.8 306.4,571.8 308.0,572.3 309.3,573.2 310.0,574.6 310.7,576.0 312.0,576.8 313.4,577.5 314.8,578.3 315.8,579.3 316.9,580.4 317.9,581.5 319.0,582.5 320.1,583.6 321.2,584.6 322.2,585.7 323.2,586.8 324.0,588.2 324.7,589.5 325.8,590.6 327.2,591.3 328.5,592.1 329.4,593.4 329.9,595.0 331.3,595.7 332.9,596.2 333.8,597.5 334.6,598.8 335.4,600.1 336.2,601.4 337.5,602.2 338.8,603.0 340.1,603.8 341.5,604.6 342.1,606.1 342.7,607.6 344.1,608.3 345.6,608.9 346.8,609.9 353.7,602.9 352.7,601.7 352.1,600.2 351.4,598.8 349.9,598.2 348.4,597.6 347.5,596.3 346.7,595.0 345.9,593.7 345.1,592.4 343.8,591.6 342.4,590.8 341.1,590.0 339.9,589.2 339.3,587.6 338.5,586.2 336.9,585.7 335.6,584.9 334.9,583.5 334.1,582.2 333.0,581.1 331.7,580.4 330.3,579.6 329.1,578.7 328.1,577.6 327.0,576.5 325.9,575.5 324.9,574.4 323.8,573.4 322.7,572.3 321.6,571.3 320.9,570.0 320.1,568.6 319.3,567.3 317.9,566.6 316.5,565.9 315.5,564.7 315.0,563.0 314.0,561.9 312.4,561.4 311.1,560.7 310.3,559.3 309.5,558.0 308.7,556.6 307.4,555.8 306.0,555.1 304.7,554.3 303.5,553.4 302.5,552.2 301.5,551.1 300.5,550.0 299.5,548.9 298.3,548.0 297.2,547.0 296.1,546.0 295.0,544.9 294.3,543.5 293.6,542.1 292.3,541.3 290.9,540.6 289.8,539.5 289.4,537.8 288.3,536.7 286.6,536.3 285.3,535.5 284.3,534.4 283.3,533.3 282.2,532.2 281.1,531.2 280.0,530.2 278.9,529.2 277.9,528.1 276.9,527.0 275.9,525.8 274.9,524.7 273.8,523.7 272.6,522.8 271.4,521.8 270.4,520.8 269.3,519.7 268.2,518.7 267.2,517.6" fill="#f0eca4" filter="url(#bl6)"/>
<polygon points="261.9,522.9 263.0,524.0 264.0,525.0 265.1,526.1 266.2,527.2 267.2,528.3 268.2,529.4 269.2,530.4 270.4,531.5 271.5,532.5 272.6,533.5 273.6,534.5 274.7,535.6 275.8,536.7 276.8,537.7 277.9,538.8 279.0,539.8 280.1,540.8 281.0,542.0 281.8,543.4 282.9,544.4 284.2,545.2 285.3,546.2 286.2,547.4 287.2,548.6 288.4,549.5 289.6,550.4 290.7,551.4 291.8,552.5 292.8,553.6 293.8,554.6 294.9,555.7 296.0,556.7 297.1,557.7 298.2,558.8 299.2,559.9 300.2,561.0 301.1,562.2 302.0,563.4 303.2,564.3 304.5,565.2 305.7,566.2 306.6,567.3 307.4,568.7 308.5,569.7 309.8,570.5 311.0,571.5 311.9,572.7 312.8,573.9 314.0,574.8 315.2,575.7 316.4,576.6 317.4,577.7 318.5,578.8 319.6,579.8 320.6,580.9 321.7,581.9 322.8,583.0 323.9,584.0 324.9,585.1 325.8,586.3 326.7,587.5 327.8,588.6 329.0,589.5 330.2,590.4 331.2,591.5 332.0,592.8 333.2,593.8 334.5,594.6 335.5,595.7 336.4,596.9 337.4,598.1 338.3,599.2 339.5,600.2 340.7,601.1 341.9,602.0 343.1,603.0 343.9,604.2 344.8,605.5 346.0,606.4 347.3,607.2 348.4,608.2 352.1,604.5 351.1,603.4 350.2,602.2 349.3,600.9 348.0,600.1 346.7,599.3 345.8,598.1 344.8,596.9 343.9,595.7 342.9,594.6 341.7,593.7 340.6,592.7 339.4,591.8 338.2,590.8 337.4,589.5 336.5,588.3 335.1,587.5 334.0,586.6 333.0,585.4 332.1,584.2 331.0,583.1 329.8,582.2 328.6,581.3 327.5,580.3 326.4,579.3 325.4,578.2 324.3,577.1 323.2,576.1 322.2,575.0 321.1,574.0 320.0,572.9 319.1,571.8 318.2,570.5 317.2,569.4 316.0,568.5 314.8,567.6 313.8,566.5 313.0,565.2 311.9,564.1 310.6,563.3 309.4,562.4 308.5,561.2 307.5,560.0 306.6,558.8 305.4,557.9 304.2,556.9 303.0,556.0 301.9,555.0 300.8,553.9 299.8,552.9 298.8,551.8 297.7,550.7 296.6,549.7 295.5,548.7 294.4,547.6 293.4,546.6 292.5,545.4 291.5,544.1 290.4,543.2 289.1,542.3 288.1,541.2 287.3,539.9 286.3,538.8 284.9,538.1 283.7,537.1 282.7,536.1 281.6,535.0 280.6,533.9 279.5,532.9 278.4,531.8 277.3,530.8 276.2,529.8 275.2,528.7 274.2,527.6 273.2,526.5 272.1,525.5 270.9,524.5 269.8,523.4 268.8,522.4 267.7,521.3 266.6,520.3 265.6,519.2" fill="#e56a4c" filter="url(#bl3)"/>
<polygon points="262.3,522.5 263.4,523.6 264.5,524.6 265.5,525.7 266.6,526.7 267.6,527.8 268.7,528.9 269.7,530.0 270.8,531.0 271.9,532.0 273.0,533.0 274.1,534.1 275.1,535.2 276.2,536.2 277.2,537.3 278.3,538.3 279.4,539.4 280.5,540.4 281.5,541.6 282.3,542.9 283.4,543.9 284.7,544.7 285.7,545.8 286.7,546.9 287.7,548.1 288.9,549.0 290.1,549.9 291.1,551.0 292.2,552.0 293.2,553.1 294.3,554.2 295.3,555.2 296.4,556.3 297.5,557.3 298.6,558.3 299.7,559.4 300.6,560.6 301.6,561.8 302.5,562.9 303.7,563.8 304.9,564.8 306.1,565.7 307.0,566.9 307.9,568.2 309.0,569.2 310.3,570.0 311.4,571.0 312.3,572.2 313.3,573.4 314.4,574.4 315.6,575.3 316.8,576.2 317.9,577.3 318.9,578.3 320.0,579.4 321.1,580.4 322.1,581.5 323.2,582.5 324.3,583.6 325.3,584.7 326.3,585.9 327.2,587.0 328.3,588.1 329.5,589.0 330.6,590.0 331.6,591.1 332.5,592.4 333.7,593.3 334.9,594.1 335.9,595.3 336.9,596.4 337.9,597.6 338.8,598.7 340.0,599.7 341.2,600.6 342.3,601.6 343.5,602.5 344.4,603.8 345.3,605.0 346.5,605.9 347.7,606.8 348.8,607.8 351.7,605.0 350.6,603.9 349.7,602.6 348.8,601.4 347.6,600.6 346.3,599.7 345.3,598.5 344.4,597.4 343.4,596.2 342.4,595.1 341.3,594.1 340.1,593.2 338.9,592.2 337.8,591.3 336.9,590.0 336.0,588.8 334.7,588.0 333.5,587.0 332.6,585.9 331.6,584.7 330.6,583.6 329.4,582.7 328.2,581.8 327.1,580.7 326.0,579.7 325.0,578.6 323.9,577.6 322.8,576.5 321.8,575.5 320.7,574.4 319.6,573.4 318.6,572.2 317.7,571.0 316.7,569.9 315.5,569.0 314.3,568.0 313.3,566.9 312.5,565.7 311.4,564.6 310.1,563.7 309.0,562.8 308.0,561.6 307.1,560.5 306.1,559.3 304.9,558.3 303.7,557.4 302.6,556.5 301.5,555.5 300.4,554.4 299.4,553.3 298.3,552.2 297.3,551.2 296.2,550.1 295.1,549.1 294.0,548.1 292.9,547.0 292.0,545.8 291.1,544.6 289.9,543.7 288.7,542.7 287.7,541.7 286.8,540.4 285.8,539.3 284.5,538.5 283.3,537.6 282.2,536.5 281.2,535.4 280.1,534.4 279.0,533.3 278.0,532.3 276.9,531.2 275.8,530.2 274.8,529.1 273.7,528.0 272.7,526.9 271.6,525.9 270.5,524.9 269.4,523.9 268.3,522.8 267.3,521.8 266.2,520.7 265.1,519.7" fill="#a0083e" filter="url(#bl3)"/>
<ellipse cx="319.97" cy="576.54" rx="13.50" ry="4.95" transform="rotate(-45 319.97 576.54)" fill="url(#r92)" opacity="0.9"/>
<polygon points="311.6,570.4 312.7,571.5 313.7,572.5 314.8,573.6 315.8,574.7 316.9,575.7 318.0,576.8 319.0,577.8 320.1,578.9 321.1,580.0 322.2,581.0 323.3,582.1 324.3,583.2 325.4,584.2 326.4,585.3 328.7,583.0 327.6,582.0 326.6,580.9 325.5,579.8 324.5,578.8 323.4,577.7 322.3,576.6 321.3,575.6 320.2,574.5 319.2,573.5 318.1,572.4 317.0,571.3 316.0,570.3 314.9,569.2 313.9,568.2" fill="#a0083e" filter="url(#bl3)"/>
<rect x="319.47" y="525.30" width="1.0" height="76.70" fill="#5a4e9c" opacity="0.5"/>
<rect x="268.00" y="575.99" width="77.80" height="1.1" fill="#5a4e9c" opacity="0.65"/>
</g>
<g clip-path="url(#c93)">
<rect x="348.20" y="525.30" width="63.10" height="76.70" fill="#4a5ea8"/>
<circle cx="348.20" cy="525.30" r="2.2" fill="#e8e890" opacity="0.6" filter="url(#bl6)"/>
<circle cx="348.20" cy="525.30" r="1.2" fill="#c02040"/>
<circle cx="411.30" cy="525.30" r="2.2" fill="#e8e890" opacity="0.6" filter="url(#bl6)"/>
<circle cx="411.30" cy="525.30" r="1.2" fill="#c02040"/>
<circle cx="348.20" cy="602.00" r="2.2" fill="#e8e890" opacity="0.6" filter="url(#bl6)"/>
<circle cx="348.20" cy="602.00" r="1.2" fill="#c02040"/>
<circle cx="411.30" cy="602.00" r="2.2" fill="#e8e890" opacity="0.6" filter="url(#bl6)"/>
<circle cx="411.30" cy="602.00" r="1.2" fill="#c02040"/>
<rect x="370.42" y="525.30" width="1.0" height="76.70" fill="#5a4e9c" opacity="0.5"/>
<rect x="348.20" y="575.99" width="63.10" height="1.1" fill="#5a4e9c" opacity="0.65"/>
<polygon points="379.3,581.2 379.7,585.3 375.6,584.9 370.9,578.8 366.3,584.9 362.2,585.3 362.6,581.2 368.7,576.5 362.6,571.9 362.2,567.8 366.3,568.2 370.9,574.3 375.6,568.2 379.7,567.8 379.3,571.9 373.2,576.5" fill="url(#r94)" filter="url(#bl6)"/>
<circle cx="370.92" cy="576.54" r="1.0" fill="#c83040"/>
</g>
<g clip-path="url(#c95)">
<rect x="414.00" y="525.30" width="34.30" height="76.70" fill="#4a5ea8"/>
<circle cx="414.00" cy="525.30" r="2.2" fill="#e8e890" opacity="0.6" filter="url(#bl6)"/>
<circle cx="414.00" cy="525.30" r="1.2" fill="#c02040"/>
<circle cx="448.30" cy="525.30" r="2.2" fill="#e8e890" opacity="0.6" filter="url(#bl6)"/>
<circle cx="448.30" cy="525.30" r="1.2" fill="#c02040"/>
<circle cx="414.00" cy="602.00" r="2.2" fill="#e8e890" opacity="0.6" filter="url(#bl6)"/>
<circle cx="414.00" cy="602.00" r="1.2" fill="#c02040"/>
<circle cx="448.30" cy="602.00" r="2.2" fill="#e8e890" opacity="0.6" filter="url(#bl6)"/>
<circle cx="448.30" cy="602.00" r="1.2" fill="#c02040"/>
<rect x="429.28" y="525.30" width="1.0" height="76.70" fill="#5a4e9c" opacity="0.5"/>
<rect x="414.00" y="575.99" width="34.30" height="1.1" fill="#5a4e9c" opacity="0.65"/>
<polygon points="438.1,581.2 438.5,585.3 434.4,584.9 429.8,578.8 425.1,584.9 421.0,585.3 421.4,581.2 427.5,576.5 421.4,571.9 421.0,567.8 425.1,568.2 429.8,574.3 434.4,568.2 438.5,567.8 438.1,571.9 432.0,576.5" fill="url(#r96)" filter="url(#bl6)"/>
<circle cx="429.78" cy="576.54" r="1.0" fill="#c83040"/>
</g>
<g clip-path="url(#c97)">
<rect x="268.00" y="604.20" width="77.80" height="63.20" fill="#4a5ea8"/>
<circle cx="268.00" cy="604.20" r="2.2" fill="#e8e890" opacity="0.6" filter="url(#bl6)"/>
<circle cx="268.00" cy="604.20" r="1.2" fill="#c02040"/>
<circle cx="345.80" cy="604.20" r="2.2" fill="#e8e890" opacity="0.6" filter="url(#bl6)"/>
<circle cx="345.80" cy="604.20" r="1.2" fill="#c02040"/>
<circle cx="268.00" cy="667.40" r="2.2" fill="#e8e890" opacity="0.6" filter="url(#bl6)"/>
<circle cx="268.00" cy="667.40" r="1.2" fill="#c02040"/>
<circle cx="345.80" cy="667.40" r="2.2" fill="#e8e890" opacity="0.6" filter="url(#bl6)"/>
<circle cx="345.80" cy="667.40" r="1.2" fill="#c02040"/>
<rect x="319.47" y="604.20" width="1.0" height="63.20" fill="#5a4e9c" opacity="0.5"/>
<rect x="268.00" y="626.40" width="77.80" height="1.1" fill="#5a4e9c" opacity="0.65"/>
<polygon points="328.3,631.6 328.7,635.7 324.6,635.3 320.0,629.2 315.3,635.3 311.2,635.7 311.6,631.6 317.7,627.0 311.6,622.3 311.2,618.2 315.3,618.6 320.0,624.7 324.6,618.6 328.7,618.2 328.3,622.3 322.2,627.0" fill="url(#r98)" filter="url(#bl6)"/>
<circle cx="319.97" cy="626.95" r="1.0" fill="#c83040"/>
</g>
<g clip-path="url(#c99)">
<rect x="348.20" y="604.20" width="63.10" height="63.20" fill="#4a5ea8"/>
<polygon points="369.66,574.74 440.76,645.94 389.84,696.86 318.74,625.66" fill="url(#g100)"/>
<circle cx="348.20" cy="604.20" r="2.2" fill="#e8e890" opacity="0.6" filter="url(#bl6)"/>
<circle cx="348.20" cy="604.20" r="1.2" fill="#c02040"/>
<circle cx="411.30" cy="604.20" r="2.2" fill="#e8e890" opacity="0.6" filter="url(#bl6)"/>
<circle cx="411.30" cy="604.20" r="1.2" fill="#c02040"/>
<circle cx="348.20" cy="667.40" r="2.2" fill="#e8e890" opacity="0.6" filter="url(#bl6)"/>
<circle cx="348.20" cy="667.40" r="1.2" fill="#c02040"/>
<circle cx="411.30" cy="667.40" r="2.2" fill="#e8e890" opacity="0.6" filter="url(#bl6)"/>
<circle cx="411.30" cy="667.40" r="1.2" fill="#c02040"/>
<polygon points="337.0,606.9 338.1,607.9 339.1,609.0 340.2,610.1 341.3,611.1 342.1,612.4 342.9,613.8 343.8,614.9 345.1,615.7 346.5,616.5 347.3,617.9 347.7,619.5 348.4,621.0 350.1,621.4 351.8,621.8 352.8,622.9 353.8,624.1 354.9,625.1 356.0,626.0 357.0,627.2 357.7,628.7 358.4,630.1 359.0,631.5 360.1,632.6 361.5,633.3 362.9,634.0 364.4,634.7 365.4,635.8 366.0,637.3 366.6,638.8 367.4,640.1 369.0,640.7 370.5,641.3 372.0,641.9 372.7,643.3 373.5,644.6 374.3,646.0 375.4,646.9 376.8,647.7 378.1,648.5 379.3,649.4 379.9,651.0 380.5,652.5 381.2,653.9 382.7,654.5 384.2,655.1 385.7,655.7 386.6,657.0 387.4,658.3 388.3,659.5 389.6,660.3 391.0,661.1 392.1,662.1 393.0,663.4 393.9,664.6 394.8,665.8 396.0,666.7 397.2,667.6 398.4,668.5 399.3,669.7 399.8,671.4 400.2,673.1 400.9,674.5 402.6,674.9 404.3,675.4 405.9,675.9 407.0,676.9 408.0,678.0 409.1,679.1 423.0,665.2 421.9,664.2 420.8,663.1 419.8,662.0 419.3,660.4 418.9,658.7 418.4,657.0 417.0,656.3 415.3,655.9 413.7,655.4 412.5,654.5 411.5,653.3 410.6,652.1 409.7,650.9 408.5,650.0 407.3,649.1 406.1,648.2 405.1,647.0 404.3,645.7 403.4,644.4 402.2,643.5 400.9,642.7 399.7,641.8 399.1,640.3 398.5,638.8 397.9,637.3 396.4,636.6 394.9,636.0 393.4,635.4 392.5,634.2 391.7,632.9 390.9,631.5 389.9,630.4 388.6,629.6 387.2,628.8 385.9,628.0 385.2,626.6 384.7,625.0 384.1,623.5 382.8,622.6 381.3,622.0 379.7,621.5 378.6,620.4 378.0,619.0 377.3,617.6 376.6,616.1 375.5,615.1 374.1,614.4 372.6,613.7 371.2,613.0 370.0,612.1 369.1,610.9 368.1,609.8 366.9,608.8 365.8,607.8 365.4,606.1 365.0,604.4 363.5,603.7 361.9,603.3 360.5,602.5 359.7,601.2 358.9,599.8 357.8,598.9 356.5,598.1 355.1,597.3 354.1,596.2 353.0,595.2 352.0,594.1 350.9,593.0" fill="#38a0c4" filter="url(#bl16)"/>
<polygon points="338.9,605.0 339.9,606.1 341.0,607.2 342.0,608.2 343.1,609.3 344.0,610.5 344.8,611.8 345.8,613.0 347.1,613.8 348.3,614.7 349.2,615.9 349.8,617.5 350.5,618.8 352.1,619.4 353.6,620.0 354.7,621.0 355.6,622.2 356.7,623.2 357.9,624.2 358.9,625.3 359.6,626.7 360.4,628.0 361.2,629.4 362.2,630.5 363.6,631.2 364.9,632.0 366.3,632.8 367.3,633.9 368.0,635.3 368.7,636.7 369.6,638.0 371.0,638.6 372.4,639.3 373.8,640.1 374.7,641.4 375.5,642.7 376.3,643.9 377.5,644.9 378.7,645.8 380.0,646.6 381.2,647.6 381.9,649.0 382.6,650.4 383.3,651.8 384.8,652.5 386.2,653.2 387.6,653.9 388.5,655.1 389.4,656.4 390.3,657.5 391.6,658.4 392.8,659.3 393.9,660.3 394.9,661.5 395.8,662.6 396.8,663.8 397.9,664.8 399.1,665.7 400.3,666.7 401.2,667.8 401.8,669.4 402.4,670.9 403.2,672.2 404.7,672.8 406.2,673.4 407.8,674.0 408.8,675.1 409.9,676.2 410.9,677.2 421.1,667.0 420.1,666.0 419.0,664.9 417.9,663.9 417.3,662.3 416.7,660.8 416.2,659.3 414.8,658.5 413.3,657.9 411.8,657.3 410.6,656.4 409.7,655.2 408.7,654.0 407.7,652.8 406.6,651.9 405.4,651.0 404.2,650.0 403.2,648.9 402.3,647.7 401.5,646.4 400.3,645.4 399.0,644.6 397.8,643.7 397.1,642.3 396.4,640.8 395.7,639.4 394.4,638.7 392.9,638.0 391.5,637.3 390.6,636.1 389.7,634.8 388.9,633.5 387.9,632.4 386.6,631.6 385.3,630.7 384.1,629.9 383.3,628.5 382.6,627.1 381.9,625.6 380.7,624.7 379.3,624.0 377.8,623.3 376.8,622.3 376.0,621.0 375.2,619.6 374.5,618.3 373.4,617.2 372.0,616.4 370.7,615.7 369.3,614.9 368.2,613.9 367.2,612.8 366.2,611.7 365.0,610.7 364.0,609.7 363.4,608.1 362.8,606.6 361.5,605.8 359.9,605.2 358.7,604.3 357.8,603.1 357.0,601.8 355.8,600.8 354.6,600.0 353.3,599.1 352.2,598.1 351.2,597.0 350.1,595.9 349.1,594.9" fill="#9cd4a2" filter="url(#bl10)"/>
<polygon points="340.5,603.4 341.6,604.5 342.6,605.5 343.7,606.6 344.7,607.7 345.6,608.9 346.5,610.1 347.5,611.2 348.8,612.1 350.0,613.0 350.9,614.2 351.6,615.7 352.4,616.9 353.8,617.6 355.3,618.3 356.3,619.4 357.3,620.5 358.4,621.6 359.5,622.6 360.5,623.7 361.4,625.0 362.2,626.3 363.0,627.5 364.1,628.6 365.4,629.5 366.7,630.3 367.9,631.1 369.0,632.2 369.7,633.6 370.5,634.9 371.5,636.1 372.8,636.9 374.2,637.6 375.4,638.5 376.3,639.7 377.2,640.9 378.1,642.1 379.2,643.2 380.5,644.1 381.7,644.9 382.8,645.9 383.6,647.3 384.4,648.6 385.2,649.9 386.6,650.7 387.9,651.5 389.2,652.3 390.2,653.4 391.1,654.7 392.1,655.8 393.3,656.7 394.5,657.6 395.6,658.7 396.5,659.8 397.5,661.0 398.5,662.1 399.6,663.1 400.8,664.1 401.9,665.0 402.9,666.2 403.6,667.6 404.3,669.0 405.1,670.3 406.6,671.0 408.0,671.7 409.4,672.4 410.4,673.5 411.5,674.5 412.6,675.6 419.5,668.7 418.4,667.6 417.4,666.6 416.3,665.5 415.6,664.1 414.9,662.7 414.2,661.2 412.9,660.4 411.5,659.7 410.1,659.0 409.0,658.0 408.0,656.9 407.0,655.7 406.0,654.6 404.9,653.6 403.7,652.6 402.6,651.6 401.6,650.6 400.6,649.3 399.7,648.1 398.6,647.2 397.4,646.2 396.2,645.3 395.4,644.0 394.6,642.6 393.8,641.3 392.5,640.5 391.2,639.7 389.9,638.9 388.9,637.8 388.0,636.5 387.1,635.3 386.1,634.2 384.9,633.3 383.6,632.4 382.4,631.5 381.6,630.2 380.8,628.9 380.0,627.5 378.9,626.6 377.5,625.8 376.2,625.0 375.1,624.0 374.3,622.7 373.4,621.4 372.6,620.1 371.5,619.1 370.2,618.2 369.0,617.4 367.7,616.6 366.5,615.6 365.6,614.4 364.5,613.3 363.4,612.4 362.3,611.3 361.6,609.9 360.9,608.4 359.7,607.6 358.2,606.9 357.0,606.0 356.1,604.8 355.2,603.6 354.1,602.6 352.9,601.6 351.7,600.7 350.6,599.7 349.5,598.6 348.5,597.6 347.4,596.5" fill="#f0eca4" filter="url(#bl6)"/>
<polygon points="342.1,601.8 343.2,602.9 344.2,603.9 345.3,605.0 346.4,606.0 347.3,607.2 348.3,608.3 349.4,609.4 350.5,610.4 351.6,611.4 352.6,612.5 353.5,613.7 354.5,614.9 355.7,615.8 356.9,616.7 358.0,617.7 359.0,618.8 360.1,619.9 361.2,620.9 362.2,622.0 363.2,623.2 364.1,624.3 365.1,625.5 366.1,626.6 367.3,627.5 368.5,628.5 369.6,629.4 370.7,630.5 371.6,631.7 372.5,632.9 373.5,634.0 374.7,634.9 375.9,635.9 377.1,636.8 378.1,638.0 379.1,639.1 380.0,640.2 381.1,641.3 382.3,642.3 383.4,643.3 384.5,644.3 385.4,645.5 386.4,646.7 387.3,647.8 388.5,648.8 389.7,649.7 390.9,650.6 391.9,651.7 392.9,652.9 393.9,654.0 395.0,655.0 396.1,656.0 397.2,657.0 398.2,658.1 399.3,659.2 400.3,660.3 401.4,661.3 402.5,662.4 403.6,663.4 404.6,664.5 405.5,665.7 406.4,666.9 407.3,668.1 408.6,669.0 409.8,669.9 411.0,670.8 412.1,671.8 413.1,672.9 414.2,674.0 417.9,670.3 416.8,669.2 415.7,668.2 414.7,667.1 413.8,665.9 412.9,664.7 412.0,663.4 410.8,662.5 409.6,661.6 408.4,660.7 407.3,659.7 406.3,658.6 405.3,657.5 404.2,656.4 403.1,655.3 402.0,654.3 400.9,653.3 399.9,652.2 398.9,651.1 397.9,650.0 396.8,648.9 395.7,647.9 394.6,646.9 393.6,645.8 392.7,644.6 391.8,643.4 390.6,642.4 389.4,641.5 388.2,640.6 387.2,639.5 386.2,638.3 385.2,637.2 384.2,636.1 383.1,635.1 381.9,634.1 380.8,633.1 379.8,632.0 378.9,630.8 378.0,629.6 376.9,628.6 375.7,627.6 374.5,626.7 373.4,625.7 372.5,624.5 371.5,623.3 370.5,622.2 369.5,621.1 368.3,620.2 367.1,619.2 366.0,618.2 364.9,617.2 363.9,616.1 362.8,615.0 361.7,614.0 360.7,613.0 359.8,611.7 358.9,610.5 357.7,609.5 356.5,608.6 355.4,607.6 354.4,606.5 353.4,605.4 352.3,604.3 351.2,603.4 350.0,602.4 349.0,601.3 347.9,600.2 346.9,599.2 345.8,598.1" fill="#e56a4c" filter="url(#bl3)"/>
<polygon points="342.5,601.4 343.6,602.4 344.7,603.5 345.7,604.6 346.8,605.6 347.8,606.7 348.8,607.9 349.8,608.9 350.9,609.9 352.1,610.9 353.1,612.1 354.0,613.3 355.0,614.4 356.2,615.3 357.4,616.2 358.4,617.3 359.5,618.4 360.5,619.5 361.6,620.5 362.6,621.6 363.6,622.7 364.6,623.9 365.6,625.0 366.6,626.1 367.8,627.1 368.9,628.0 370.1,629.0 371.1,630.1 372.1,631.2 373.0,632.4 374.0,633.5 375.2,634.5 376.4,635.4 377.5,636.4 378.5,637.5 379.5,638.7 380.5,639.8 381.6,640.8 382.7,641.8 383.8,642.8 384.9,643.8 385.9,645.0 386.8,646.2 387.8,647.3 389.0,648.3 390.1,649.2 391.3,650.2 392.3,651.3 393.3,652.4 394.3,653.5 395.5,654.5 396.6,655.5 397.6,656.6 398.7,657.7 399.7,658.8 400.7,659.9 401.8,660.9 402.9,661.9 404.0,663.0 405.0,664.0 405.9,665.2 406.9,666.4 407.8,667.6 409.0,668.5 410.2,669.4 411.4,670.4 412.5,671.4 413.6,672.5 414.6,673.5 417.4,670.7 416.4,669.7 415.3,668.6 414.3,667.5 413.3,666.3 412.4,665.1 411.5,663.9 410.4,663.0 409.2,662.0 408.0,661.1 406.9,660.1 405.8,659.0 404.8,657.9 403.8,656.8 402.7,655.8 401.6,654.8 400.5,653.7 399.5,652.6 398.5,651.5 397.4,650.4 396.4,649.4 395.2,648.4 394.1,647.4 393.2,646.2 392.2,645.0 391.3,643.9 390.1,642.9 389.0,641.9 387.8,641.0 386.8,639.9 385.8,638.8 384.8,637.6 383.7,636.6 382.6,635.6 381.5,634.6 380.4,633.6 379.4,632.4 378.4,631.2 377.5,630.1 376.4,629.1 375.2,628.1 374.0,627.1 373.0,626.1 372.0,624.9 371.0,623.8 370.1,622.7 369.0,621.6 367.8,620.6 366.7,619.6 365.6,618.7 364.5,617.6 363.4,616.5 362.4,615.5 361.3,614.4 360.2,613.4 359.3,612.2 358.4,611.0 357.3,610.0 356.1,609.1 354.9,608.1 353.9,606.9 352.9,605.8 351.9,604.8 350.7,603.8 349.6,602.8 348.6,601.7 347.5,600.7 346.4,599.6 345.4,598.5" fill="#a0083e" filter="url(#bl3)"/>
<ellipse cx="370.92" cy="626.95" rx="13.50" ry="4.95" transform="rotate(-45 370.92 626.95)" fill="url(#r101)" opacity="0.9"/>
<polygon points="362.5,620.8 363.6,621.9 364.7,623.0 365.7,624.0 366.8,625.1 367.8,626.1 368.9,627.2 370.0,628.3 371.0,629.3 372.1,630.4 373.1,631.4 374.2,632.5 375.3,633.6 376.3,634.6 377.4,635.7 379.7,633.4 378.6,632.4 377.5,631.3 376.5,630.2 375.4,629.2 374.4,628.1 373.3,627.1 372.2,626.0 371.2,624.9 370.1,623.9 369.0,622.8 368.0,621.8 366.9,620.7 365.9,619.6 364.8,618.6" fill="#a0083e" filter="url(#bl3)"/>
<rect x="370.42" y="604.20" width="1.0" height="63.20" fill="#5a4e9c" opacity="0.5"/>
<rect x="348.20" y="626.40" width="63.10" height="1.1" fill="#5a4e9c" opacity="0.65"/>
</g>
<g clip-path="url(#c102)">
<rect x="414.00" y="604.20" width="34.30" height="63.20" fill="#4a5ea8"/>
<circle cx="414.00" cy="604.20" r="2.2" fill="#e8e890" opacity="0.6" filter="url(#bl6)"/>
<circle cx="414.00" cy="604.20" r="1.2" fill="#c02040"/>
<circle cx="448.30" cy="604.20" r="2.2" fill="#e8e890" opacity="0.6" filter="url(#bl6)"/>
<circle cx="448.30" cy="604.20" r="1.2" fill="#c02040"/>
<circle cx="414.00" cy="667.40" r="2.2" fill="#e8e890" opacity="0.6" filter="url(#bl6)"/>
<circle cx="414.00" cy="667.40" r="1.2" fill="#c02040"/>
<circle cx="448.30" cy="667.40" r="2.2" fill="#e8e890" opacity="0.6" filter="url(#bl6)"/>
<circle cx="448.30" cy="667.40" r="1.2" fill="#c02040"/>
<rect x="429.28" y="604.20" width="1.0" height="63.20" fill="#5a4e9c" opacity="0.5"/>
<rect x="414.00" y="626.40" width="34.30" height="1.1" fill="#5a4e9c" opacity="0.65"/>
<polygon points="438.1,631.6 438.5,635.7 434.4,635.3 429.8,629.2 425.1,635.3 421.0,635.7 421.4,631.6 427.5,627.0 421.4,622.3 421.0,618.2 425.1,618.6 429.8,624.7 434.4,618.6 438.5,618.2 438.1,622.3 432.0,627.0" fill="url(#r103)" filter="url(#bl6)"/>
<circle cx="429.78" cy="626.95" r="1.0" fill="#c83040"/>
</g>
<g clip-path="url(#c104)">
<rect x="268.00" y="670.00" width="77.80" height="33.60" fill="#4a5ea8"/>
<circle cx="268.00" cy="670.00" r="2.2" fill="#e8e890" opacity="0.6" filter="url(#bl6)"/>
<circle cx="268.00" cy="670.00" r="1.2" fill="#c02040"/>
<circle cx="345.80" cy="670.00" r="2.2" fill="#e8e890" opacity="0.6" filter="url(#bl6)"/>
<circle cx="345.80" cy="670.00" r="1.2" fill="#c02040"/>
<circle cx="268.00" cy="703.60" r="2.2" fill="#e8e890" opacity="0.6" filter="url(#bl6)"/>
<circle cx="268.00" cy="703.60" r="1.2" fill="#c02040"/>
<circle cx="345.80" cy="703.60" r="2.2" fill="#e8e890" opacity="0.6" filter="url(#bl6)"/>
<circle cx="345.80" cy="703.60" r="1.2" fill="#c02040"/>
<rect x="319.47" y="670.00" width="1.0" height="33.60" fill="#5a4e9c" opacity="0.5"/>
<rect x="268.00" y="684.91" width="77.80" height="1.1" fill="#5a4e9c" opacity="0.65"/>
<polygon points="328.3,690.1 328.7,694.2 324.6,693.8 320.0,687.7 315.3,693.8 311.2,694.2 311.6,690.1 317.7,685.5 311.6,680.8 311.2,676.7 315.3,677.1 320.0,683.2 324.6,677.1 328.7,676.7 328.3,680.8 322.2,685.5" fill="url(#r105)" filter="url(#bl6)"/>
<circle cx="319.97" cy="685.46" r="1.0" fill="#c83040"/>
</g>
<g clip-path="url(#c106)">
<rect x="348.20" y="670.00" width="63.10" height="33.60" fill="#4a5ea8"/>
<circle cx="348.20" cy="670.00" r="2.2" fill="#e8e890" opacity="0.6" filter="url(#bl6)"/>
<circle cx="348.20" cy="670.00" r="1.2" fill="#c02040"/>
<circle cx="411.30" cy="670.00" r="2.2" fill="#e8e890" opacity="0.6" filter="url(#bl6)"/>
<circle cx="411.30" cy="670.00" r="1.2" fill="#c02040"/>
<circle cx="348.20" cy="703.60" r="2.2" fill="#e8e890" opacity="0.6" filter="url(#bl6)"/>
<circle cx="348.20" cy="703.60" r="1.2" fill="#c02040"/>
<circle cx="411.30" cy="703.60" r="2.2" fill="#e8e890" opacity="0.6" filter="url(#bl6)"/>
<circle cx="411.30" cy="703.60" r="1.2" fill="#c02040"/>
<rect x="370.42" y="670.00" width="1.0" height="33.60" fill="#5a4e9c" opacity="0.5"/>
<rect x="348.20" y="684.91" width="63.10" height="1.1" fill="#5a4e9c" opacity="0.65"/>
<polygon points="379.3,690.1 379.7,694.2 375.6,693.8 370.9,687.7 366.3,693.8 362.2,694.2 362.6,690.1 368.7,685.5 362.6,680.8 362.2,676.7 366.3,677.1 370.9,683.2 375.6,677.1 379.7,676.7 379.3,680.8 373.2,685.5" fill="url(#r107)" filter="url(#bl6)"/>
<circle cx="370.92" cy="685.46" r="1.0" fill="#c83040"/>
</g>
<g clip-path="url(#c108)">
<rect x="414.00" y="670.00" width="34.30" height="33.60" fill="#4a5ea8"/>
<polygon points="435.46,640.54 477.76,682.14 426.84,733.06 384.54,691.46" fill="url(#g109)"/>
<circle cx="414.00" cy="670.00" r="2.2" fill="#e8e890" opacity="0.6" filter="url(#bl6)"/>
<circle cx="414.00" cy="670.00" r="1.2" fill="#c02040"/>
<circle cx="448.30" cy="670.00" r="2.2" fill="#e8e890" opacity="0.6" filter="url(#bl6)"/>
<circle cx="448.30" cy="670.00" r="1.2" fill="#c02040"/>
<circle cx="414.00" cy="703.60" r="2.2" fill="#e8e890" opacity="0.6" filter="url(#bl6)"/>
<circle cx="414.00" cy="703.60" r="1.2" fill="#c02040"/>
<circle cx="448.30" cy="703.60" r="2.2" fill="#e8e890" opacity="0.6" filter="url(#bl6)"/>
<circle cx="448.30" cy="703.60" r="1.2" fill="#c02040"/>
<polygon points="402.9,672.8 403.9,673.9 405.0,674.9 406.1,676.0 407.1,677.0 407.7,678.6 408.2,680.2 408.8,681.8 410.0,682.7 411.6,683.2 413.2,683.7 414.6,684.4 415.5,685.6 416.5,686.7 417.8,687.6 418.4,689.1 418.7,691.0 419.2,692.6 421.1,692.8 423.0,693.0 423.9,694.2 424.5,695.7 425.4,696.9 427.0,697.5 428.6,698.0 429.6,699.1 430.7,700.1 431.8,701.2 432.8,702.2 433.9,703.3 435.0,704.3 436.1,705.3 436.6,706.9 437.1,708.6 437.6,710.2 438.6,711.3 440.3,711.8 441.9,712.2 443.6,712.7 444.6,713.7 445.7,714.8 446.8,715.8 460.5,701.8 459.4,700.8 458.4,699.7 457.3,698.7 456.8,697.1 456.3,695.4 455.8,693.7 454.7,692.7 453.1,692.3 451.4,691.9 449.8,691.3 448.7,690.3 447.7,689.2 446.6,688.2 445.5,687.1 444.4,686.1 443.4,685.0 442.3,684.0 441.7,682.4 441.2,680.8 440.0,679.9 438.4,679.4 437.2,678.5 436.9,676.6 436.7,674.7 435.0,674.2 433.1,674.0 431.6,673.4 430.8,672.2 429.7,671.2 428.4,670.3 427.6,668.9 427.1,667.3 426.6,665.7 425.7,664.5 424.1,664.0 422.5,663.5 420.9,663.0 419.8,661.9 418.7,660.9 417.6,659.9 416.6,658.8" fill="#38a0c4" filter="url(#bl16)"/>
<polygon points="404.7,670.9 405.7,672.0 406.8,673.0 407.9,674.1 409.0,675.1 409.6,676.6 410.3,678.1 410.9,679.6 412.1,680.5 413.6,681.1 415.1,681.7 416.4,682.5 417.3,683.7 418.4,684.8 419.6,685.7 420.4,687.1 420.8,688.8 421.4,690.3 423.1,690.7 424.8,691.1 425.8,692.2 426.5,693.7 427.5,694.8 428.9,695.5 430.4,696.1 431.5,697.2 432.5,698.2 433.6,699.3 434.7,700.4 435.7,701.4 436.8,702.4 437.9,703.5 438.6,704.9 439.2,706.5 439.8,708.0 440.8,709.1 442.3,709.7 443.9,710.2 445.4,710.8 446.5,711.9 447.5,712.9 448.6,714.0 458.7,703.7 457.6,702.6 456.5,701.6 455.5,700.5 454.8,699.0 454.2,697.5 453.6,696.0 452.5,695.0 451.0,694.4 449.4,693.8 448.0,693.2 446.9,692.1 445.8,691.1 444.8,690.0 443.7,689.0 442.6,687.9 441.5,686.9 440.5,685.8 439.8,684.4 439.1,682.9 437.9,682.0 436.5,681.4 435.3,680.4 434.9,678.7 434.4,677.0 432.9,676.4 431.2,676.0 429.8,675.3 428.9,674.1 427.8,673.1 426.6,672.2 425.7,670.9 425.1,669.4 424.4,667.9 423.5,666.7 422.0,666.1 420.5,665.5 419.0,664.9 418.0,663.8 416.9,662.8 415.8,661.7 414.8,660.7" fill="#9cd4a2" filter="url(#bl10)"/>
<polygon points="406.3,669.3 407.4,670.4 408.4,671.4 409.5,672.5 410.6,673.5 411.3,674.9 412.1,676.2 412.8,677.6 414.0,678.6 415.4,679.3 416.8,680.0 418.0,680.9 419.0,682.0 420.1,683.1 421.2,684.0 422.1,685.4 422.6,686.9 423.4,688.3 424.9,688.8 426.5,689.4 427.5,690.5 428.3,691.9 429.3,693.0 430.6,693.8 432.0,694.5 433.1,695.5 434.1,696.6 435.2,697.7 436.3,698.7 437.4,699.8 438.4,700.8 439.5,701.8 440.3,703.2 441.0,704.6 441.7,706.0 442.7,707.1 444.2,707.8 445.6,708.5 447.0,709.2 448.1,710.2 449.1,711.3 450.2,712.3 457.1,705.3 456.0,704.3 454.9,703.2 453.9,702.2 453.1,700.8 452.4,699.4 451.7,698.0 450.6,697.0 449.2,696.3 447.7,695.6 446.4,694.8 445.3,693.8 444.2,692.7 443.2,691.7 442.1,690.6 441.0,689.6 439.9,688.5 438.9,687.5 438.1,686.1 437.3,684.8 436.2,683.8 434.8,683.1 433.7,682.1 433.1,680.5 432.5,679.0 431.1,678.3 429.5,677.7 428.2,677.0 427.2,675.8 426.1,674.8 425.0,673.8 424.1,672.6 423.3,671.2 422.6,669.8 421.6,668.7 420.2,668.0 418.8,667.2 417.4,666.5 416.4,665.4 415.3,664.4 414.2,663.4 413.1,662.3" fill="#f0eca4" filter="url(#bl6)"/>
<polygon points="407.9,667.7 409.0,668.7 410.0,669.8 411.1,670.8 412.2,671.9 413.1,673.1 414.0,674.3 415.0,675.5 416.1,676.5 417.3,677.4 418.5,678.3 419.7,679.2 420.7,680.3 421.8,681.4 422.9,682.4 423.8,683.5 424.7,684.8 425.6,686.0 426.9,686.9 428.2,687.7 429.2,688.8 430.2,689.9 431.2,691.0 432.4,691.9 433.6,692.9 434.7,693.9 435.8,695.0 436.8,696.0 437.9,697.1 439.0,698.1 440.0,699.2 441.1,700.2 442.0,701.4 442.9,702.6 443.9,703.8 444.9,704.9 446.2,705.8 447.4,706.7 448.6,707.5 449.7,708.6 450.8,709.6 451.8,710.7 455.5,707.0 454.4,705.9 453.3,704.9 452.3,703.8 451.3,702.6 450.4,701.4 449.5,700.2 448.4,699.2 447.2,698.3 446.0,697.4 444.8,696.5 443.7,695.4 442.6,694.4 441.5,693.3 440.5,692.3 439.4,691.2 438.3,690.2 437.3,689.1 436.3,687.9 435.4,686.8 434.3,685.7 433.1,684.8 432.0,683.8 431.1,682.5 430.3,681.3 429.0,680.4 427.7,679.5 426.6,678.6 425.5,677.5 424.5,676.5 423.3,675.5 422.3,674.3 421.4,673.1 420.5,671.9 419.5,670.8 418.3,669.9 417.0,669.0 415.8,668.1 414.7,667.1 413.7,666.0 412.6,665.0 411.5,663.9" fill="#e56a4c" filter="url(#bl3)"/>
<polygon points="408.3,667.2 409.4,668.3 410.5,669.3 411.5,670.4 412.6,671.4 413.6,672.6 414.5,673.8 415.5,674.9 416.6,676.0 417.8,676.9 418.9,677.8 420.1,678.8 421.1,679.9 422.2,680.9 423.3,681.9 424.3,683.1 425.2,684.3 426.1,685.5 427.4,686.4 428.6,687.2 429.7,688.3 430.6,689.5 431.7,690.6 432.8,691.5 434.0,692.4 435.1,693.5 436.2,694.5 437.2,695.6 438.3,696.6 439.4,697.7 440.5,698.7 441.5,699.8 442.5,700.9 443.4,702.1 444.4,703.3 445.4,704.4 446.6,705.3 447.8,706.2 449.0,707.1 450.1,708.2 451.2,709.2 452.2,710.3 455.0,707.4 454.0,706.4 452.9,705.3 451.8,704.3 450.9,703.1 450.0,701.9 449.0,700.7 447.9,699.7 446.7,698.8 445.5,697.8 444.3,696.9 443.3,695.9 442.2,694.8 441.1,693.8 440.0,692.7 439.0,691.7 437.9,690.6 436.8,689.6 435.9,688.4 434.9,687.2 433.8,686.2 432.6,685.3 431.5,684.3 430.6,683.0 429.8,681.8 428.6,680.9 427.3,680.0 426.1,679.1 425.1,678.0 424.0,676.9 422.9,675.9 421.9,674.8 421.0,673.6 420.0,672.4 419.0,671.3 417.8,670.4 416.6,669.5 415.4,668.6 414.3,667.5 413.3,666.5 412.2,665.4 411.1,664.4" fill="#a0083e" filter="url(#bl3)"/>
<ellipse cx="429.78" cy="685.46" rx="13.50" ry="4.95" transform="rotate(-45 429.78 685.46)" fill="url(#r110)" opacity="0.9"/>
<polygon points="421.4,679.3 422.5,680.4 423.5,681.5 424.6,682.5 425.6,683.6 426.7,684.6 427.8,685.7 428.8,686.8 429.9,687.8 430.9,688.9 432.0,690.0 433.1,691.0 434.1,692.1 435.2,693.1 436.3,694.2 438.5,691.9 437.5,690.9 436.4,689.8 435.3,688.7 434.3,687.7 433.2,686.6 432.2,685.6 431.1,684.5 430.0,683.4 429.0,682.4 427.9,681.3 426.8,680.3 425.8,679.2 424.7,678.1 423.7,677.1" fill="#a0083e" filter="url(#bl3)"/>
<rect x="429.28" y="670.00" width="1.0" height="33.60" fill="#5a4e9c" opacity="0.5"/>
<rect x="414.00" y="684.91" width="34.30" height="1.1" fill="#5a4e9c" opacity="0.65"/>
</g>
<rect x="492.00" y="514.30" width="77.20" height="8.30" rx="1.2" fill="url(#barH)"/>
<path d="M492.90 514.50 Q491.50 518.45 492.90 522.40" stroke="#8a0c2a" stroke-width="1.7" fill="none"/>
<path d="M568.30 514.50 Q569.70 518.45 568.30 522.40" stroke="#8a0c2a" stroke-width="1.7" fill="none"/>
<rect x="542.82" y="514.10" width="1.5" height="8.70" fill="#9e0c2e"/>
<rect x="571.50" y="514.30" width="63.10" height="8.30" rx="1.2" fill="url(#barH)"/>
<path d="M572.40 514.50 Q571.00 518.45 572.40 522.40" stroke="#8a0c2a" stroke-width="1.7" fill="none"/>
<path d="M633.70 514.50 Q635.10 518.45 633.70 522.40" stroke="#8a0c2a" stroke-width="1.7" fill="none"/>
<rect x="593.47" y="514.10" width="1.5" height="8.70" fill="#9e0c2e"/>
<rect x="636.70" y="514.30" width="34.30" height="8.30" rx="1.2" fill="url(#barH)"/>
<path d="M637.60 514.50 Q636.20 518.45 637.60 522.40" stroke="#8a0c2a" stroke-width="1.7" fill="none"/>
<path d="M670.10 514.50 Q671.50 518.45 670.10 522.40" stroke="#8a0c2a" stroke-width="1.7" fill="none"/>
<rect x="651.73" y="514.10" width="1.5" height="8.70" fill="#9e0c2e"/>
<rect x="481.20" y="525.30" width="8.10" height="76.30" rx="1.2" fill="url(#barV)"/>
<path d="M481.40 526.20 Q485.25 524.80 489.10 526.20" stroke="#8a0c2a" stroke-width="1.7" fill="none"/>
<path d="M481.40 600.70 Q485.25 602.10 489.10 600.70" stroke="#8a0c2a" stroke-width="1.7" fill="none"/>
<rect x="481.00" y="575.52" width="8.50" height="1.5" fill="#9e0c2e"/>
<rect x="481.20" y="603.60" width="8.10" height="63.10" rx="1.2" fill="url(#barV)"/>
<path d="M481.40 604.50 Q485.25 603.10 489.10 604.50" stroke="#8a0c2a" stroke-width="1.7" fill="none"/>
<path d="M481.40 665.80 Q485.25 667.20 489.10 665.80" stroke="#8a0c2a" stroke-width="1.7" fill="none"/>
<rect x="481.00" y="625.57" width="8.50" height="1.5" fill="#9e0c2e"/>
<rect x="481.20" y="669.00" width="8.10" height="34.30" rx="1.2" fill="url(#barV)"/>
<path d="M481.40 669.90 Q485.25 668.50 489.10 669.90" stroke="#8a0c2a" stroke-width="1.7" fill="none"/>
<path d="M481.40 702.40 Q485.25 703.80 489.10 702.40" stroke="#8a0c2a" stroke-width="1.7" fill="none"/>
<rect x="481.00" y="684.03" width="8.50" height="1.5" fill="#9e0c2e"/>
<text x="536.60" y="511.33" font-size="8.9" text-anchor="middle" font-weight="bold" font-style="normal" fill="#231f20" stroke="#231f20" stroke-width="0.22" transform="translate(536.60 511.33) scale(1 1.07) translate(-536.60 -511.33)">Chr I</text>
<text x="606.90" y="511.33" font-size="8.9" text-anchor="middle" font-weight="bold" font-style="normal" fill="#231f20" stroke="#231f20" stroke-width="0.22" transform="translate(606.90 511.33) scale(1 1.07) translate(-606.90 -511.33)">Chr II</text>
<text x="654.50" y="511.33" font-size="8.9" text-anchor="middle" font-weight="bold" font-style="normal" fill="#231f20" stroke="#231f20" stroke-width="0.22" transform="translate(654.50 511.33) scale(1 1.07) translate(-654.50 -511.33)">Chr III</text>
<text x="474.40" y="559.04" font-size="8.8" text-anchor="middle" font-weight="bold" font-style="normal" fill="#231f20" stroke="#231f20" stroke-width="0.22" transform="rotate(-90 474.40 555.65) translate(474.40 559.04) scale(1 1.07) translate(-474.40 -559.04)">Chr I</text>
<text x="474.40" y="624.14" font-size="8.8" text-anchor="middle" font-weight="bold" font-style="normal" fill="#231f20" stroke="#231f20" stroke-width="0.22" transform="rotate(-90 474.40 620.75) translate(474.40 624.14) scale(1 1.07) translate(-474.40 -624.14)">Chr II</text>
<text x="474.40" y="676.54" font-size="8.8" text-anchor="middle" font-weight="bold" font-style="normal" fill="#231f20" stroke="#231f20" stroke-width="0.22" transform="rotate(-90 474.40 673.15) translate(474.40 676.54) scale(1 1.07) translate(-474.40 -676.54)">Chr III</text>
<g clip-path="url(#c111)">
<rect x="492.00" y="525.30" width="77.20" height="76.30" fill="#f9f6f5"/>
<rect x="492.00" y="525.30" width="77.20" height="76.30" fill="#f2c0b0" filter="url(#noiseR)" opacity="0.24"/>
<rect x="492.00" y="525.30" width="77.20" height="76.30" fill="#d0e0f0" filter="url(#noiseB)" opacity="0.25"/>
<polygon points="555.0,581.6 555.0,587.7 548.9,587.7 543.6,577.9 538.2,587.7 532.2,587.7 532.2,581.6 541.9,576.3 532.2,570.9 532.2,564.9 538.2,564.8 543.6,574.6 548.9,564.8 555.0,564.9 555.0,570.9 545.2,576.3" fill="url(#r112)" filter="url(#bl10)"/>
<rect x="542.97" y="525.30" width="1.2" height="76.30" fill="#ffffff" opacity="0.5"/>
<rect x="492.00" y="575.67" width="77.20" height="1.2" fill="#ffffff" opacity="0.3"/>
<circle cx="492.00" cy="525.30" r="2.3" fill="#b02838" opacity="0.85"/>
<circle cx="569.20" cy="525.30" r="2.3" fill="#b02838" opacity="0.85"/>
<circle cx="492.00" cy="601.60" r="2.3" fill="#b02838" opacity="0.85"/>
<circle cx="569.20" cy="601.60" r="2.3" fill="#b02838" opacity="0.85"/>
<polygon points="485.2,523.6 486.3,524.7 487.3,525.8 488.4,526.8 489.5,527.9 490.2,529.3 490.9,530.7 491.6,532.1 492.3,533.5 493.5,534.5 494.9,535.2 496.3,535.9 497.7,536.6 499.0,537.4 499.9,538.7 500.7,540.0 501.7,541.1 503.0,541.9 504.3,542.7 505.3,543.8 506.1,545.1 507.0,546.4 508.0,547.6 509.3,548.4 510.6,549.2 511.8,550.1 512.5,551.5 513.1,553.0 514.4,553.9 515.9,554.5 517.2,555.3 518.2,556.4 519.2,557.5 520.3,558.6 521.3,559.7 522.4,560.7 523.5,561.7 524.6,562.7 525.7,563.7 526.8,564.8 527.2,566.5 527.7,568.2 529.0,569.0 530.6,569.4 532.0,570.2 532.6,571.7 533.3,573.2 533.9,574.7 534.9,575.7 536.4,576.4 538.0,577.0 539.5,577.6 540.6,578.6 541.5,579.8 542.4,581.0 543.3,582.2 544.6,583.1 545.8,584.0 547.0,584.9 547.9,586.1 548.5,587.6 549.2,589.1 549.8,590.6 550.9,591.6 552.4,592.2 554.0,592.8 555.5,593.4 556.3,594.7 556.8,596.3 557.3,597.9 558.5,598.9 560.1,599.4 561.7,599.8 563.1,600.6 564.1,601.8 565.1,602.9 566.1,603.9 567.3,604.9 568.4,605.9 569.5,606.9 570.6,608.0 571.6,609.1 576.7,603.9 575.6,602.9 574.5,601.8 573.5,600.7 572.5,599.6 571.5,598.5 570.4,597.5 569.3,596.5 568.2,595.5 567.4,594.2 566.8,592.5 566.3,590.9 565.4,589.8 563.7,589.3 562.1,588.8 560.8,588.0 560.2,586.5 559.6,585.0 559.0,583.4 558.0,582.3 556.5,581.7 554.9,581.1 553.4,580.5 552.2,579.6 551.3,578.4 550.4,577.2 549.5,576.0 548.3,575.0 547.1,574.1 545.8,573.2 544.8,572.2 544.2,570.6 543.6,569.1 542.9,567.6 541.9,566.6 540.3,566.0 538.8,565.4 537.3,564.8 536.6,563.4 536.1,561.8 535.3,560.5 533.6,560.0 531.9,559.6 530.8,558.6 529.8,557.5 528.8,556.4 527.8,555.3 526.7,554.2 525.6,553.2 524.5,552.2 523.4,551.1 522.3,550.1 521.5,548.8 520.8,547.4 520.0,546.1 518.5,545.4 517.0,544.8 516.1,543.6 515.3,542.3 514.5,541.0 513.3,540.0 512.0,539.2 510.7,538.4 509.6,537.4 508.7,536.1 507.9,534.8 506.8,533.8 505.5,533.0 504.2,532.2 503.4,530.9 502.6,529.5 501.9,528.1 501.2,526.7 500.2,525.6 498.8,524.8 497.4,524.1 495.9,523.4 494.5,522.7 493.5,521.7 492.4,520.6 491.3,519.6 490.3,518.5" fill="#a0c4e4" filter="url(#bl10)"/>
<polygon points="485.8,523.0 486.9,524.1 488.0,525.1 489.0,526.2 490.1,527.2 490.9,528.6 491.6,529.9 492.4,531.3 493.2,532.7 494.3,533.7 495.6,534.4 497.0,535.2 498.4,535.9 499.7,536.7 500.5,538.0 501.4,539.3 502.4,540.4 503.7,541.2 505.0,542.1 506.0,543.2 506.8,544.4 507.7,545.7 508.7,546.8 510.0,547.7 511.2,548.5 512.5,549.4 513.2,550.8 513.8,552.3 515.1,553.1 516.5,553.8 517.8,554.7 518.9,555.7 519.9,556.8 520.9,557.9 521.9,559.0 523.0,560.1 524.1,561.1 525.2,562.1 526.3,563.1 527.4,564.2 527.9,565.8 528.5,567.4 529.7,568.2 531.3,568.7 532.7,569.5 533.4,571.0 534.0,572.4 534.7,573.8 535.8,574.9 537.2,575.6 538.7,576.2 540.1,576.9 541.2,577.9 542.2,579.1 543.1,580.3 544.0,581.5 545.2,582.4 546.4,583.3 547.6,584.2 548.6,585.4 549.3,586.9 549.9,588.3 550.6,589.8 551.7,590.7 553.2,591.4 554.7,592.1 556.1,592.7 557.0,594.0 557.6,595.5 558.2,597.1 559.3,598.0 560.9,598.6 562.4,599.2 563.7,600.0 564.7,601.1 565.7,602.2 566.8,603.3 567.9,604.3 569.0,605.3 570.1,606.3 571.2,607.4 572.3,608.4 576.0,604.6 575.0,603.5 573.9,602.5 572.9,601.4 571.9,600.3 570.8,599.2 569.8,598.1 568.7,597.1 567.5,596.1 566.7,594.8 566.1,593.3 565.5,591.7 564.5,590.6 563.0,590.0 561.4,589.5 560.2,588.6 559.5,587.2 558.8,585.7 558.1,584.3 557.1,583.2 555.7,582.5 554.2,581.8 552.8,581.2 551.6,580.2 550.6,579.1 549.7,577.9 548.8,576.7 547.6,575.7 546.4,574.8 545.2,573.9 544.2,572.8 543.5,571.4 542.8,569.9 542.1,568.5 541.0,567.4 539.6,566.8 538.1,566.1 536.7,565.5 535.9,564.1 535.4,562.5 534.5,561.3 532.9,560.8 531.3,560.2 530.2,559.2 529.2,558.1 528.1,557.0 527.1,555.9 526.1,554.8 525.0,553.8 523.9,552.8 522.8,551.8 521.7,550.8 520.8,549.5 520.1,548.1 519.2,546.8 517.8,546.1 516.4,545.5 515.4,544.3 514.6,543.0 513.7,541.7 512.6,540.7 511.3,539.9 510.0,539.1 508.9,538.1 508.1,536.8 507.2,535.5 506.1,534.5 504.8,533.7 503.5,532.8 502.7,531.6 501.9,530.2 501.2,528.8 500.4,527.5 499.4,526.4 498.0,525.6 496.6,524.9 495.3,524.1 493.9,523.4 492.8,522.3 491.8,521.3 490.7,520.2 489.6,519.2" fill="#3a7ab8" filter="url(#bl6)"/>
<polygon points="486.5,522.3 487.6,523.3 488.7,524.4 489.7,525.5 490.8,526.5 491.8,527.7 492.8,528.8 493.7,529.9 494.7,531.1 495.8,532.1 497.0,533.1 498.1,534.1 499.3,535.0 500.4,536.0 501.4,537.1 502.4,538.2 503.5,539.3 504.6,540.3 505.7,541.3 506.8,542.4 507.8,543.5 508.8,544.6 509.8,545.7 511.0,546.7 512.1,547.7 513.2,548.7 514.2,549.8 515.1,551.0 516.2,552.0 517.4,552.9 518.5,553.9 519.6,555.0 520.7,556.1 521.7,557.1 522.8,558.2 523.8,559.2 524.9,560.3 526.0,561.3 527.1,562.4 528.1,563.4 529.0,564.6 530.0,565.8 531.1,566.8 532.3,567.7 533.4,568.7 534.4,569.9 535.4,571.0 536.3,572.2 537.4,573.3 538.6,574.2 539.7,575.2 540.9,576.1 542.0,577.1 543.0,578.2 544.0,579.3 545.1,580.4 546.2,581.4 547.3,582.5 548.4,583.5 549.4,584.6 550.4,585.7 551.3,586.9 552.3,588.1 553.4,589.1 554.6,590.0 555.7,591.0 556.9,591.9 557.9,593.0 558.9,594.2 559.8,595.4 560.9,596.5 562.1,597.4 563.3,598.3 564.4,599.3 565.5,600.3 566.5,601.4 567.6,602.5 568.7,603.5 569.7,604.5 570.8,605.6 571.9,606.6 573.0,607.7 575.3,605.3 574.3,604.2 573.2,603.2 572.2,602.1 571.1,601.0 570.0,600.0 569.0,598.9 567.9,597.9 566.8,596.8 565.8,595.7 564.9,594.5 564.0,593.3 562.9,592.3 561.7,591.3 560.5,590.4 559.4,589.4 558.4,588.3 557.5,587.1 556.5,585.9 555.5,584.9 554.3,583.9 553.1,583.0 551.9,582.0 550.8,581.0 549.8,579.9 548.8,578.8 547.7,577.7 546.6,576.7 545.5,575.7 544.4,574.7 543.4,573.6 542.4,572.4 541.5,571.3 540.5,570.1 539.4,569.1 538.3,568.1 537.1,567.2 535.9,566.2 534.9,565.1 534.0,563.9 533.0,562.8 531.8,561.9 530.5,561.0 529.5,559.9 528.4,558.9 527.4,557.8 526.3,556.7 525.2,555.7 524.2,554.6 523.1,553.6 522.0,552.5 520.9,551.5 519.9,550.4 519.0,549.2 518.0,548.1 516.8,547.2 515.6,546.2 514.6,545.1 513.6,544.0 512.6,542.9 511.5,541.9 510.4,540.9 509.2,539.9 508.2,538.8 507.1,537.7 506.1,536.6 505.1,535.6 503.9,534.6 502.8,533.6 501.8,532.5 500.8,531.3 499.8,530.2 498.9,529.0 497.8,528.0 496.7,527.0 495.5,526.0 494.3,525.1 493.2,524.1 492.1,523.0 491.1,522.0 490.0,520.9 488.9,519.9" fill="#17407c" filter="url(#bl3)"/>
<polygon points="487.2,521.6 488.3,522.6 489.4,523.7 490.4,524.7 491.5,525.8 492.6,526.9 493.6,527.9 494.7,529.0 495.8,530.0 496.8,531.1 497.9,532.1 499.0,533.2 500.0,534.2 501.1,535.3 502.2,536.3 503.2,537.4 504.3,538.5 505.4,539.5 506.4,540.6 507.5,541.6 508.6,542.7 509.6,543.7 510.7,544.8 511.8,545.8 512.8,546.9 513.9,547.9 515.0,549.0 516.0,550.0 517.1,551.1 518.2,552.2 519.2,553.2 520.3,554.3 521.4,555.3 522.4,556.4 523.5,557.4 524.6,558.5 525.6,559.5 526.7,560.6 527.8,561.6 528.8,562.7 529.9,563.8 531.0,564.8 532.0,565.9 533.1,566.9 534.2,568.0 535.2,569.0 536.3,570.1 537.4,571.1 538.4,572.2 539.5,573.2 540.6,574.3 541.7,575.4 542.7,576.4 543.8,577.5 544.9,578.5 545.9,579.6 547.0,580.6 548.1,581.7 549.1,582.7 550.2,583.8 551.3,584.8 552.3,585.9 553.4,587.0 554.5,588.0 555.5,589.1 556.6,590.1 557.7,591.2 558.7,592.2 559.8,593.3 560.9,594.3 561.9,595.4 563.0,596.4 564.1,597.5 565.1,598.6 566.2,599.6 567.3,600.7 568.3,601.7 569.4,602.8 570.5,603.8 571.5,604.9 572.6,605.9 573.7,607.0 574.6,606.0 573.6,604.9 572.5,603.9 571.4,602.8 570.4,601.8 569.3,600.7 568.2,599.7 567.2,598.6 566.1,597.6 565.0,596.5 564.0,595.4 562.9,594.4 561.8,593.3 560.8,592.3 559.7,591.2 558.6,590.2 557.6,589.1 556.5,588.1 555.4,587.0 554.4,586.0 553.3,584.9 552.2,583.8 551.2,582.8 550.1,581.7 549.0,580.7 548.0,579.6 546.9,578.6 545.8,577.5 544.8,576.5 543.7,575.4 542.6,574.4 541.6,573.3 540.5,572.3 539.4,571.2 538.4,570.1 537.3,569.1 536.2,568.0 535.2,567.0 534.1,565.9 533.0,564.9 532.0,563.8 530.9,562.8 529.8,561.7 528.8,560.7 527.7,559.6 526.6,558.5 525.6,557.5 524.5,556.4 523.4,555.4 522.4,554.3 521.3,553.3 520.2,552.2 519.2,551.2 518.1,550.1 517.0,549.1 516.0,548.0 514.9,546.9 513.8,545.9 512.8,544.8 511.7,543.8 510.6,542.7 509.6,541.7 508.5,540.6 507.4,539.6 506.4,538.5 505.3,537.5 504.2,536.4 503.2,535.3 502.1,534.3 501.0,533.2 500.0,532.2 498.9,531.1 497.8,530.1 496.8,529.0 495.7,528.0 494.6,526.9 493.6,525.9 492.5,524.8 491.4,523.7 490.4,522.7 489.3,521.6 488.2,520.6" fill="#6a0a2a"/>
</g>
<g clip-path="url(#c113)">
<rect x="571.50" y="525.30" width="63.10" height="76.30" fill="#f9f6f5"/>
<rect x="571.50" y="525.30" width="63.10" height="76.30" fill="#f2c0b0" filter="url(#noiseR)" opacity="0.24"/>
<rect x="571.50" y="525.30" width="63.10" height="76.30" fill="#d0e0f0" filter="url(#noiseB)" opacity="0.25"/>
<polygon points="605.6,581.6 605.6,587.7 599.5,587.7 594.2,577.9 588.9,587.7 582.8,587.7 582.8,581.6 592.5,576.3 582.8,570.9 582.8,564.9 588.9,564.8 594.2,574.6 599.5,564.8 605.6,564.9 605.6,570.9 595.9,576.3" fill="url(#r114)" filter="url(#bl10)"/>
<rect x="593.62" y="525.30" width="1.2" height="76.30" fill="#ffffff" opacity="0.5"/>
<rect x="571.50" y="575.67" width="63.10" height="1.2" fill="#ffffff" opacity="0.3"/>
<circle cx="571.50" cy="525.30" r="2.3" fill="#b02838" opacity="0.85"/>
<circle cx="634.60" cy="525.30" r="2.3" fill="#b02838" opacity="0.85"/>
<circle cx="571.50" cy="601.60" r="2.3" fill="#b02838" opacity="0.85"/>
<circle cx="634.60" cy="601.60" r="2.3" fill="#b02838" opacity="0.85"/>
</g>
<g clip-path="url(#c115)">
<rect x="636.70" y="525.30" width="34.30" height="76.30" fill="#f9f6f5"/>
<rect x="636.70" y="525.30" width="34.30" height="76.30" fill="#f2c0b0" filter="url(#noiseR)" opacity="0.24"/>
<rect x="636.70" y="525.30" width="34.30" height="76.30" fill="#d0e0f0" filter="url(#noiseB)" opacity="0.25"/>
<polygon points="663.9,581.6 663.9,587.7 657.8,587.7 652.5,577.9 647.2,587.7 641.1,587.7 641.1,581.6 650.8,576.3 641.1,570.9 641.1,564.9 647.2,564.8 652.5,574.6 657.8,564.8 663.9,564.9 663.9,570.9 654.2,576.3" fill="url(#r116)" filter="url(#bl10)"/>
<rect x="651.88" y="525.30" width="1.2" height="76.30" fill="#ffffff" opacity="0.5"/>
<rect x="636.70" y="575.67" width="34.30" height="1.2" fill="#ffffff" opacity="0.3"/>
<circle cx="636.70" cy="525.30" r="2.3" fill="#b02838" opacity="0.85"/>
<circle cx="671.00" cy="525.30" r="2.3" fill="#b02838" opacity="0.85"/>
<circle cx="636.70" cy="601.60" r="2.3" fill="#b02838" opacity="0.85"/>
<circle cx="671.00" cy="601.60" r="2.3" fill="#b02838" opacity="0.85"/>
</g>
<g clip-path="url(#c117)">
<rect x="492.00" y="603.60" width="77.20" height="63.10" fill="#f9f6f5"/>
<rect x="492.00" y="603.60" width="77.20" height="63.10" fill="#f2c0b0" filter="url(#noiseR)" opacity="0.24"/>
<rect x="492.00" y="603.60" width="77.20" height="63.10" fill="#d0e0f0" filter="url(#noiseB)" opacity="0.25"/>
<polygon points="555.0,631.6 555.0,637.7 548.9,637.7 543.6,628.0 538.2,637.7 532.2,637.7 532.2,631.6 541.9,626.3 532.2,621.0 532.2,614.9 538.2,614.9 543.6,624.6 548.9,614.9 555.0,614.9 555.0,621.0 545.2,626.3" fill="url(#r118)" filter="url(#bl10)"/>
<rect x="542.97" y="603.60" width="1.2" height="63.10" fill="#ffffff" opacity="0.5"/>
<rect x="492.00" y="625.72" width="77.20" height="1.2" fill="#ffffff" opacity="0.3"/>
<circle cx="492.00" cy="603.60" r="2.3" fill="#b02838" opacity="0.85"/>
<circle cx="569.20" cy="603.60" r="2.3" fill="#b02838" opacity="0.85"/>
<circle cx="492.00" cy="666.70" r="2.3" fill="#b02838" opacity="0.85"/>
<circle cx="569.20" cy="666.70" r="2.3" fill="#b02838" opacity="0.85"/>
</g>
<g clip-path="url(#c119)">
<rect x="571.50" y="603.60" width="63.10" height="63.10" fill="#f9f6f5"/>
<rect x="571.50" y="603.60" width="63.10" height="63.10" fill="#f2c0b0" filter="url(#noiseR)" opacity="0.24"/>
<rect x="571.50" y="603.60" width="63.10" height="63.10" fill="#d0e0f0" filter="url(#noiseB)" opacity="0.25"/>
<polygon points="605.6,631.6 605.6,637.7 599.5,637.7 594.2,628.0 588.9,637.7 582.8,637.7 582.8,631.6 592.5,626.3 582.8,621.0 582.8,614.9 588.9,614.9 594.2,624.6 599.5,614.9 605.6,614.9 605.6,621.0 595.9,626.3" fill="url(#r120)" filter="url(#bl10)"/>
<rect x="593.62" y="603.60" width="1.2" height="63.10" fill="#ffffff" opacity="0.5"/>
<rect x="571.50" y="625.72" width="63.10" height="1.2" fill="#ffffff" opacity="0.3"/>
<circle cx="571.50" cy="603.60" r="2.3" fill="#b02838" opacity="0.85"/>
<circle cx="634.60" cy="603.60" r="2.3" fill="#b02838" opacity="0.85"/>
<circle cx="571.50" cy="666.70" r="2.3" fill="#b02838" opacity="0.85"/>
<circle cx="634.60" cy="666.70" r="2.3" fill="#b02838" opacity="0.85"/>
<polygon points="564.7,601.9 565.8,603.0 566.8,604.0 567.9,605.1 569.0,606.1 569.8,607.4 570.6,608.8 571.5,610.0 572.8,610.8 574.1,611.6 575.3,612.5 576.2,613.7 577.1,614.9 578.1,616.1 579.2,617.2 580.4,618.1 581.5,619.0 582.7,619.9 583.3,621.5 583.8,623.2 585.3,623.7 586.9,624.2 587.9,625.4 588.7,626.7 589.6,628.0 590.4,629.2 591.4,630.4 592.7,631.2 593.9,632.1 595.2,632.9 596.5,633.8 597.5,634.9 598.4,636.1 599.4,637.3 600.3,638.4 601.4,639.5 602.5,640.4 603.7,641.4 604.9,642.3 606.0,643.3 606.8,644.7 607.6,646.0 608.4,647.3 609.2,648.6 610.3,649.6 611.7,650.4 613.0,651.2 614.3,652.0 615.6,652.8 616.5,654.1 617.3,655.3 618.3,656.5 619.6,657.4 620.8,658.2 621.6,659.6 622.0,661.3 622.4,663.0 624.2,663.4 625.9,663.8 627.2,664.6 628.0,665.9 629.0,667.1 630.3,667.9 631.4,668.8 632.1,670.3 632.7,671.8 633.9,672.7 635.4,673.3 636.8,674.0 641.9,668.9 641.2,667.5 640.6,666.0 639.7,664.8 638.2,664.2 636.7,663.5 635.8,662.4 635.0,661.1 633.8,660.1 632.5,659.3 631.7,658.0 631.3,656.3 630.9,654.5 629.2,654.1 627.5,653.7 626.1,652.9 625.3,651.7 624.4,650.4 623.2,649.4 622.0,648.6 620.7,647.7 619.9,646.4 619.1,645.1 618.3,643.8 617.5,642.4 616.5,641.3 615.2,640.5 613.9,639.7 612.6,638.9 611.2,638.1 610.2,637.0 609.3,635.8 608.3,634.6 607.4,633.5 606.3,632.4 605.2,631.5 604.0,630.5 602.8,629.6 601.7,628.6 600.8,627.3 600.0,626.0 599.1,624.8 598.3,623.5 597.1,622.5 595.9,621.7 594.6,620.8 593.3,620.0 592.1,619.0 591.6,617.4 591.1,615.9 589.4,615.4 587.8,614.8 586.9,613.6 586.0,612.5 585.1,611.3 584.0,610.2 582.8,609.2 581.6,608.3 580.4,607.4 579.5,606.2 578.7,604.9 577.9,603.6 576.7,602.7 575.3,601.9 574.0,601.1 573.0,600.0 571.9,598.9 570.9,597.9 569.8,596.8" fill="#a0c4e4" filter="url(#bl10)"/>
<polygon points="565.3,601.3 566.4,602.3 567.5,603.4 568.5,604.4 569.6,605.5 570.4,606.8 571.3,608.1 572.2,609.3 573.5,610.1 574.7,611.0 575.9,611.9 576.9,613.1 577.8,614.3 578.8,615.4 579.8,616.5 581.0,617.4 582.2,618.4 583.4,619.3 584.0,620.8 584.5,622.4 586.0,623.0 587.6,623.6 588.5,624.8 589.4,626.0 590.3,627.2 591.2,628.5 592.2,629.6 593.4,630.5 594.6,631.4 595.9,632.3 597.1,633.1 598.2,634.2 599.1,635.4 600.0,636.6 601.0,637.7 602.0,638.8 603.2,639.8 604.4,640.7 605.6,641.7 606.6,642.7 607.5,644.0 608.3,645.3 609.2,646.6 610.0,647.8 611.1,648.8 612.4,649.7 613.7,650.5 615.0,651.4 616.3,652.2 617.1,653.4 618.0,654.7 619.0,655.8 620.2,656.7 621.5,657.6 622.3,658.9 622.8,660.5 623.3,662.1 624.9,662.6 626.6,663.1 627.8,664.0 628.7,665.2 629.7,666.4 630.9,667.2 632.1,668.2 632.8,669.6 633.4,671.1 634.6,672.0 636.1,672.7 637.5,673.4 641.3,669.6 640.6,668.2 639.9,666.7 639.0,665.5 637.5,664.9 636.1,664.2 635.1,663.0 634.3,661.8 633.1,660.8 631.9,659.9 631.0,658.7 630.5,657.0 630.0,655.4 628.4,654.9 626.8,654.4 625.5,653.6 624.6,652.3 623.7,651.1 622.6,650.1 621.3,649.2 620.1,648.4 619.3,647.1 618.4,645.8 617.6,644.5 616.7,643.2 615.7,642.1 614.5,641.3 613.2,640.4 611.9,639.6 610.6,638.7 609.6,637.7 608.6,636.5 607.7,635.3 606.7,634.1 605.6,633.1 604.5,632.1 603.3,631.2 602.1,630.3 601.0,629.2 600.2,628.0 599.3,626.7 598.4,625.5 597.5,624.3 596.4,623.3 595.1,622.4 593.9,621.5 592.7,620.6 591.5,619.7 590.9,618.1 590.3,616.6 588.7,616.1 587.2,615.5 586.3,614.3 585.3,613.1 584.4,611.9 583.3,610.9 582.2,609.9 581.0,609.0 579.8,608.0 578.9,606.8 578.0,605.6 577.2,604.3 576.0,603.4 574.7,602.5 573.4,601.7 572.3,600.6 571.3,599.6 570.2,598.5 569.2,597.4" fill="#3a7ab8" filter="url(#bl6)"/>
<polygon points="566.1,600.6 567.1,601.6 568.2,602.7 569.2,603.7 570.3,604.8 571.3,605.9 572.3,607.0 573.3,608.1 574.4,609.1 575.6,610.1 576.7,611.2 577.7,612.3 578.7,613.4 579.7,614.5 580.8,615.5 581.9,616.5 583.0,617.6 584.1,618.6 585.0,619.8 585.9,621.0 587.1,621.9 588.3,622.8 589.3,623.9 590.4,625.1 591.4,626.2 592.4,627.3 593.4,628.4 594.5,629.4 595.6,630.4 596.7,631.4 597.9,632.4 598.9,633.5 599.9,634.6 601.0,635.6 602.0,636.7 603.1,637.8 604.2,638.8 605.2,639.9 606.3,640.9 607.4,641.9 608.4,643.1 609.4,644.2 610.4,645.3 611.4,646.4 612.5,647.5 613.6,648.5 614.7,649.5 615.8,650.5 617.0,651.5 618.0,652.6 619.0,653.7 620.0,654.8 621.1,655.8 622.2,656.8 623.2,657.9 624.1,659.2 625.0,660.4 626.3,661.3 627.5,662.2 628.6,663.2 629.6,664.3 630.6,665.4 631.8,666.4 632.9,667.4 633.8,668.6 634.8,669.7 635.9,670.8 637.0,671.7 638.2,672.7 640.6,670.3 639.6,669.1 638.7,668.0 637.6,666.9 636.5,665.9 635.3,665.0 634.3,663.9 633.3,662.7 632.2,661.7 631.1,660.7 630.1,659.6 629.2,658.4 628.3,657.1 627.1,656.2 625.8,655.3 624.7,654.3 623.7,653.2 622.7,652.1 621.6,651.1 620.5,650.1 619.4,649.1 618.4,647.9 617.4,646.8 616.4,645.7 615.4,644.6 614.3,643.5 613.2,642.5 612.1,641.5 611.0,640.5 609.8,639.5 608.8,638.4 607.8,637.3 606.7,636.3 605.7,635.2 604.6,634.1 603.5,633.1 602.5,632.0 601.4,631.0 600.3,630.0 599.3,628.8 598.3,627.7 597.3,626.6 596.3,625.5 595.2,624.5 594.1,623.5 593.0,622.5 591.8,621.4 590.7,620.4 589.8,619.2 588.9,618.0 587.7,617.1 586.5,616.2 585.5,615.1 584.4,614.0 583.4,612.9 582.4,611.8 581.3,610.8 580.2,609.8 579.1,608.8 578.0,607.7 577.0,606.5 576.0,605.4 574.9,604.4 573.8,603.4 572.7,602.4 571.6,601.3 570.6,600.3 569.5,599.2 568.5,598.2" fill="#17407c" filter="url(#bl3)"/>
<polygon points="566.8,599.9 567.8,600.9 568.9,602.0 569.9,603.0 571.0,604.1 572.1,605.2 573.1,606.2 574.2,607.3 575.2,608.3 576.3,609.4 577.4,610.5 578.4,611.5 579.5,612.6 580.6,613.6 581.6,614.7 582.7,615.8 583.7,616.8 584.8,617.9 585.9,618.9 586.9,620.0 588.0,621.1 589.0,622.1 590.1,623.2 591.2,624.2 592.2,625.3 593.3,626.4 594.3,627.4 595.4,628.5 596.5,629.6 597.5,630.6 598.6,631.7 599.6,632.7 600.7,633.8 601.8,634.9 602.8,635.9 603.9,637.0 604.9,638.0 606.0,639.1 607.1,640.2 608.1,641.2 609.2,642.3 610.2,643.3 611.3,644.4 612.4,645.5 613.4,646.5 614.5,647.6 615.6,648.6 616.6,649.7 617.7,650.8 618.7,651.8 619.8,652.9 620.9,653.9 621.9,655.0 623.0,656.1 624.0,657.1 625.1,658.2 626.2,659.2 627.2,660.3 628.3,661.4 629.3,662.4 630.4,663.5 631.5,664.6 632.5,665.6 633.6,666.7 634.6,667.7 635.7,668.8 636.8,669.9 637.8,670.9 638.9,672.0 639.9,671.0 638.8,669.9 637.8,668.9 636.7,667.8 635.6,666.7 634.6,665.7 633.5,664.6 632.5,663.6 631.4,662.5 630.3,661.4 629.3,660.4 628.2,659.3 627.1,658.3 626.1,657.2 625.0,656.1 624.0,655.1 622.9,654.0 621.8,653.0 620.8,651.9 619.7,650.8 618.7,649.8 617.6,648.7 616.5,647.7 615.5,646.6 614.4,645.5 613.4,644.5 612.3,643.4 611.2,642.3 610.2,641.3 609.1,640.2 608.1,639.2 607.0,638.1 605.9,637.0 604.9,636.0 603.8,634.9 602.8,633.9 601.7,632.8 600.6,631.7 599.6,630.7 598.5,629.6 597.5,628.6 596.4,627.5 595.3,626.4 594.3,625.4 593.2,624.3 592.1,623.3 591.1,622.2 590.0,621.1 589.0,620.1 587.9,619.0 586.8,618.0 585.8,616.9 584.7,615.8 583.7,614.8 582.6,613.7 581.5,612.7 580.5,611.6 579.4,610.5 578.4,609.5 577.3,608.4 576.2,607.3 575.2,606.3 574.1,605.2 573.1,604.2 572.0,603.1 570.9,602.0 569.9,601.0 568.8,599.9 567.8,598.9" fill="#6a0a2a"/>
</g>
<g clip-path="url(#c121)">
<rect x="636.70" y="603.60" width="34.30" height="63.10" fill="#f9f6f5"/>
<rect x="636.70" y="603.60" width="34.30" height="63.10" fill="#f2c0b0" filter="url(#noiseR)" opacity="0.24"/>
<rect x="636.70" y="603.60" width="34.30" height="63.10" fill="#d0e0f0" filter="url(#noiseB)" opacity="0.25"/>
<polygon points="663.9,631.6 663.9,637.7 657.8,637.7 652.5,628.0 647.2,637.7 641.1,637.7 641.1,631.6 650.8,626.3 641.1,621.0 641.1,614.9 647.2,614.9 652.5,624.6 657.8,614.9 663.9,614.9 663.9,621.0 654.2,626.3" fill="url(#r122)" filter="url(#bl10)"/>
<rect x="651.88" y="603.60" width="1.2" height="63.10" fill="#ffffff" opacity="0.5"/>
<rect x="636.70" y="625.72" width="34.30" height="1.2" fill="#ffffff" opacity="0.3"/>
<circle cx="636.70" cy="603.60" r="2.3" fill="#b02838" opacity="0.85"/>
<circle cx="671.00" cy="603.60" r="2.3" fill="#b02838" opacity="0.85"/>
<circle cx="636.70" cy="666.70" r="2.3" fill="#b02838" opacity="0.85"/>
<circle cx="671.00" cy="666.70" r="2.3" fill="#b02838" opacity="0.85"/>
</g>
<g clip-path="url(#c123)">
<rect x="492.00" y="669.00" width="77.20" height="34.30" fill="#f9f6f5"/>
<rect x="492.00" y="669.00" width="77.20" height="34.30" fill="#f2c0b0" filter="url(#noiseR)" opacity="0.24"/>
<rect x="492.00" y="669.00" width="77.20" height="34.30" fill="#d0e0f0" filter="url(#noiseB)" opacity="0.25"/>
<polygon points="555.0,690.1 555.0,696.2 548.9,696.2 543.6,686.5 538.2,696.2 532.2,696.2 532.2,690.1 541.9,684.8 532.2,679.5 532.2,673.4 538.2,673.4 543.6,683.1 548.9,673.4 555.0,673.4 555.0,679.5 545.2,684.8" fill="url(#r124)" filter="url(#bl10)"/>
<rect x="542.97" y="669.00" width="1.2" height="34.30" fill="#ffffff" opacity="0.5"/>
<rect x="492.00" y="684.18" width="77.20" height="1.2" fill="#ffffff" opacity="0.3"/>
<circle cx="492.00" cy="669.00" r="2.3" fill="#b02838" opacity="0.85"/>
<circle cx="569.20" cy="669.00" r="2.3" fill="#b02838" opacity="0.85"/>
<circle cx="492.00" cy="703.30" r="2.3" fill="#b02838" opacity="0.85"/>
<circle cx="569.20" cy="703.30" r="2.3" fill="#b02838" opacity="0.85"/>
</g>
<g clip-path="url(#c125)">
<rect x="571.50" y="669.00" width="63.10" height="34.30" fill="#f9f6f5"/>
<rect x="571.50" y="669.00" width="63.10" height="34.30" fill="#f2c0b0" filter="url(#noiseR)" opacity="0.24"/>
<rect x="571.50" y="669.00" width="63.10" height="34.30" fill="#d0e0f0" filter="url(#noiseB)" opacity="0.25"/>
<polygon points="605.6,690.1 605.6,696.2 599.5,696.2 594.2,686.5 588.9,696.2 582.8,696.2 582.8,690.1 592.5,684.8 582.8,679.5 582.8,673.4 588.9,673.4 594.2,683.1 599.5,673.4 605.6,673.4 605.6,679.5 595.9,684.8" fill="url(#r126)" filter="url(#bl10)"/>
<rect x="593.62" y="669.00" width="1.2" height="34.30" fill="#ffffff" opacity="0.5"/>
<rect x="571.50" y="684.18" width="63.10" height="1.2" fill="#ffffff" opacity="0.3"/>
<circle cx="571.50" cy="669.00" r="2.3" fill="#b02838" opacity="0.85"/>
<circle cx="634.60" cy="669.00" r="2.3" fill="#b02838" opacity="0.85"/>
<circle cx="571.50" cy="703.30" r="2.3" fill="#b02838" opacity="0.85"/>
<circle cx="634.60" cy="703.30" r="2.3" fill="#b02838" opacity="0.85"/>
</g>
<g clip-path="url(#c127)">
<rect x="636.70" y="669.00" width="34.30" height="34.30" fill="#f9f6f5"/>
<rect x="636.70" y="669.00" width="34.30" height="34.30" fill="#f2c0b0" filter="url(#noiseR)" opacity="0.24"/>
<rect x="636.70" y="669.00" width="34.30" height="34.30" fill="#d0e0f0" filter="url(#noiseB)" opacity="0.25"/>
<polygon points="663.9,690.1 663.9,696.2 657.8,696.2 652.5,686.5 647.2,696.2 641.1,696.2 641.1,690.1 650.8,684.8 641.1,679.5 641.1,673.4 647.2,673.4 652.5,683.1 657.8,673.4 663.9,673.4 663.9,679.5 654.2,684.8" fill="url(#r128)" filter="url(#bl10)"/>
<rect x="651.88" y="669.00" width="1.2" height="34.30" fill="#ffffff" opacity="0.5"/>
<rect x="636.70" y="684.18" width="34.30" height="1.2" fill="#ffffff" opacity="0.3"/>
<circle cx="636.70" cy="669.00" r="2.3" fill="#b02838" opacity="0.85"/>
<circle cx="671.00" cy="669.00" r="2.3" fill="#b02838" opacity="0.85"/>
<circle cx="636.70" cy="703.30" r="2.3" fill="#b02838" opacity="0.85"/>
<circle cx="671.00" cy="703.30" r="2.3" fill="#b02838" opacity="0.85"/>
<polygon points="629.9,667.3 631.0,668.4 632.0,669.4 633.1,670.5 634.2,671.5 634.8,673.0 635.5,674.5 636.8,675.3 638.2,675.9 639.3,677.0 640.2,678.2 641.1,679.5 642.0,680.7 643.2,681.6 644.5,682.4 645.7,683.3 646.8,684.3 647.8,685.4 648.8,686.6 649.8,687.7 650.8,688.9 651.9,689.9 653.0,690.9 654.2,691.8 655.3,692.8 656.3,693.9 656.8,695.6 657.3,697.2 658.0,698.6 659.7,699.1 661.3,699.5 662.7,700.3 663.6,701.5 664.4,702.8 665.3,704.1 666.5,705.0 667.8,705.8 669.0,706.7 670.2,707.6 671.3,708.7 672.3,709.7 673.4,710.8 678.5,705.7 677.4,704.6 676.4,703.6 675.3,702.5 674.4,701.3 673.5,700.1 672.7,698.8 671.8,697.6 670.5,696.7 669.2,695.9 668.0,695.0 667.2,693.6 666.8,692.0 666.3,690.3 664.9,689.6 663.3,689.1 661.6,688.6 660.5,687.6 659.5,686.5 658.6,685.3 657.6,684.2 656.6,683.1 655.4,682.1 654.3,681.1 653.1,680.1 652.0,679.1 651.0,678.0 650.1,676.8 649.3,675.5 648.4,674.3 647.2,673.4 645.9,672.5 644.7,671.6 643.6,670.5 643.0,669.1 642.2,667.8 640.7,667.1 639.2,666.5 638.2,665.4 637.1,664.3 636.1,663.3 635.0,662.2" fill="#a0c4e4" filter="url(#bl10)"/>
<polygon points="630.5,666.7 631.6,667.7 632.7,668.8 633.7,669.8 634.8,670.9 635.5,672.3 636.2,673.7 637.5,674.6 638.9,675.3 640.0,676.3 640.9,677.5 641.8,678.8 642.7,680.0 643.9,680.9 645.1,681.8 646.4,682.7 647.5,683.7 648.5,684.8 649.5,685.9 650.5,687.1 651.5,688.2 652.6,689.2 653.7,690.2 654.8,691.2 655.9,692.2 657.0,693.3 657.5,694.8 658.1,696.4 658.9,697.7 660.4,698.3 662.0,698.8 663.4,699.6 664.2,700.9 665.1,702.1 666.0,703.3 667.2,704.3 668.4,705.1 669.7,706.0 670.9,707.0 671.9,708.0 673.0,709.1 674.0,710.2 677.9,706.3 676.8,705.3 675.7,704.2 674.7,703.2 673.7,702.0 672.8,700.7 672.0,699.5 671.0,698.3 669.8,697.4 668.6,696.5 667.3,695.7 666.5,694.3 666.0,692.7 665.4,691.2 664.1,690.4 662.5,689.8 661.0,689.3 659.9,688.2 658.9,687.1 657.9,686.0 656.9,684.9 655.9,683.8 654.8,682.8 653.6,681.8 652.5,680.8 651.4,679.8 650.4,678.7 649.5,677.4 648.6,676.2 647.7,675.0 646.5,674.1 645.2,673.2 644.0,672.3 643.0,671.2 642.3,669.8 641.4,668.5 640.0,667.8 638.6,667.1 637.5,666.0 636.5,665.0 635.4,663.9 634.4,662.8" fill="#3a7ab8" filter="url(#bl6)"/>
<polygon points="631.3,666.0 632.3,667.0 633.4,668.1 634.4,669.1 635.5,670.2 636.5,671.4 637.4,672.5 638.5,673.5 639.7,674.5 640.8,675.5 641.8,676.6 642.8,677.7 643.8,678.9 644.9,679.9 646.0,680.9 647.1,681.9 648.2,682.9 649.3,684.0 650.3,685.1 651.3,686.2 652.4,687.3 653.5,688.3 654.5,689.3 655.6,690.4 656.7,691.4 657.7,692.5 658.7,693.7 659.6,694.9 660.6,696.1 661.8,697.0 663.0,697.9 664.1,698.9 665.1,700.0 666.1,701.1 667.1,702.2 668.2,703.2 669.4,704.2 670.5,705.2 671.6,706.3 672.6,707.3 673.7,708.4 674.7,709.4 677.1,707.0 676.1,706.0 675.0,704.9 674.0,703.9 672.9,702.8 671.9,701.7 670.9,700.5 669.9,699.4 668.8,698.4 667.7,697.4 666.6,696.4 665.6,695.3 664.7,694.1 663.8,692.9 662.6,691.9 661.4,691.0 660.2,690.0 659.1,689.0 658.1,687.9 657.0,686.8 656.0,685.8 655.0,684.7 653.9,683.6 652.8,682.6 651.7,681.6 650.6,680.5 649.6,679.4 648.6,678.3 647.6,677.2 646.6,676.1 645.4,675.1 644.3,674.1 643.2,673.1 642.2,672.0 641.2,670.8 640.2,669.7 639.1,668.8 637.9,667.8 636.8,666.7 635.8,665.7 634.7,664.6 633.7,663.6" fill="#17407c" filter="url(#bl3)"/>
<polygon points="632.0,665.3 633.0,666.3 634.1,667.4 635.1,668.4 636.2,669.5 637.3,670.6 638.3,671.6 639.4,672.7 640.4,673.7 641.5,674.8 642.6,675.9 643.6,676.9 644.7,678.0 645.8,679.0 646.8,680.1 647.9,681.2 648.9,682.2 650.0,683.3 651.1,684.3 652.1,685.4 653.2,686.5 654.2,687.5 655.3,688.6 656.4,689.6 657.4,690.7 658.5,691.8 659.5,692.8 660.6,693.9 661.7,695.0 662.7,696.0 663.8,697.1 664.8,698.1 665.9,699.2 667.0,700.3 668.0,701.3 669.1,702.4 670.1,703.4 671.2,704.5 672.3,705.6 673.3,706.6 674.4,707.7 675.4,708.7 676.4,707.7 675.4,706.7 674.3,705.6 673.3,704.6 672.2,703.5 671.1,702.4 670.1,701.4 669.0,700.3 668.0,699.3 666.9,698.2 665.8,697.1 664.8,696.1 663.7,695.0 662.7,694.0 661.6,692.9 660.5,691.8 659.5,690.8 658.4,689.7 657.3,688.7 656.3,687.6 655.2,686.5 654.2,685.5 653.1,684.4 652.0,683.4 651.0,682.3 649.9,681.2 648.9,680.2 647.8,679.1 646.7,678.1 645.7,677.0 644.6,675.9 643.6,674.9 642.5,673.8 641.4,672.7 640.4,671.7 639.3,670.6 638.3,669.6 637.2,668.5 636.1,667.4 635.1,666.4 634.0,665.3 633.0,664.3" fill="#6a0a2a"/>
</g>
<text x="55.70" y="697.99" font-size="8.8" text-anchor="middle" font-weight="bold" font-style="normal" fill="#fff" stroke="#fff" stroke-width="0.22" transform="translate(55.70 697.99) scale(1 1.07) translate(-55.70 -697.99)">1 Mb</text>
<rect x="48.1" y="700.0" width="14.8" height="1.7" fill="#fff"/>
<text x="504.90" y="697.99" font-size="8.8" text-anchor="middle" font-weight="bold" font-style="normal" fill="#231f20" stroke="#231f20" stroke-width="0.22" transform="translate(504.90 697.99) scale(1 1.07) translate(-504.90 -697.99)">1 Mb</text>
<rect x="497.2" y="700.1" width="15.1" height="1.5" fill="#231f20"/>
<rect x="499.1" y="532.1" width="26.5" height="25.7" fill="none" stroke="#e8383a" stroke-width="0.75" stroke-dasharray="1.8 1.1"/>
<rect x="453.3" y="568.5" width="5" height="1" fill="#333"/>
<rect x="391.5" y="706.9" width="56.20" height="5.50" fill="url(#cbSpec)"/>
<rect x="391.0" y="705.9" width="0.8" height="6.50" fill="#333"/>
<rect x="447.4" y="705.9" width="0.8" height="6.50" fill="#333"/>
<text x="389.30" y="713.12" font-size="9.0" text-anchor="end" font-weight="bold" font-style="normal" fill="#231f20" stroke="#231f20" stroke-width="0.22" transform="translate(389.30 713.12) scale(1 1.07) translate(-389.30 -713.12)">Contact score</text>
<text x="391.80" y="724.04" font-size="9.2" text-anchor="middle" font-weight="bold" font-style="normal" fill="#231f20" stroke="#231f20" stroke-width="0.22" transform="translate(391.80 724.04) scale(1 1.07) translate(-391.80 -724.04)">0</text>
<text x="445.70" y="724.04" font-size="9.2" text-anchor="middle" font-weight="bold" font-style="normal" fill="#231f20" stroke="#231f20" stroke-width="0.22" transform="translate(445.70 724.04) scale(1 1.07) translate(-445.70 -724.04)">200</text>
<rect x="596.5" y="707.3" width="75.70" height="5.50" fill="url(#cbDiff)"/>
<rect x="596.0" y="706.3" width="0.8" height="6.50" fill="#333"/>
<rect x="671.9000000000001" y="706.3" width="0.8" height="6.50" fill="#333"/>
<text x="594.30" y="713.52" font-size="9.0" text-anchor="end" font-weight="bold" font-style="normal" fill="#231f20" stroke="#231f20" stroke-width="0.22" transform="translate(594.30 713.52) scale(1 1.07) translate(-594.30 -713.52)">Difference</text>
<text x="596.50" y="723.14" font-size="9.2" text-anchor="middle" font-weight="bold" font-style="normal" fill="#231f20" stroke="#231f20" stroke-width="0.22" transform="translate(596.50 723.14) scale(1 1.07) translate(-596.50 -723.14)">-0.8</text>
<text x="634.80" y="723.14" font-size="9.2" text-anchor="middle" font-weight="bold" font-style="normal" fill="#231f20" stroke="#231f20" stroke-width="0.22" transform="translate(634.80 723.14) scale(1 1.07) translate(-634.80 -723.14)">0</text>
<text x="673.10" y="723.14" font-size="9.2" text-anchor="middle" font-weight="bold" font-style="normal" fill="#231f20" stroke="#231f20" stroke-width="0.22" transform="translate(673.10 723.14) scale(1 1.07) translate(-673.10 -723.14)">0.8</text>
<text x="0.30" y="747.00" font-size="21" font-weight="bold" fill="#000">h</text>
<text x="229.60" y="746.90" font-size="21" font-weight="bold" fill="#000">i</text>
<text x="513.00" y="747.40" font-size="21" font-weight="bold" fill="#000">j</text>
<rect x="65.0" y="758.8" width="51.80" height="154.00" fill="#c6cacd"/>
<rect x="116.8" y="758.8" width="61.40" height="154.00" fill="#e3adbe"/>
<rect x="178.2" y="758.8" width="41.80" height="154.00" fill="#a8d2da"/>
<path d="M64.80 759.50 L65.25 759.88 L65.78 760.33 L66.39 760.84 L67.06 761.41 L67.79 762.03 L68.57 762.70 L69.40 763.41 L70.27 764.15 L71.18 764.92 L72.11 765.71 L73.06 766.52 L74.02 767.33 L74.99 768.15 L75.96 768.97 L76.93 769.78 L77.88 770.57 L78.81 771.34 L79.71 772.09 L80.58 772.80 L81.41 773.47 L82.20 774.10 L82.93 774.68 L83.60 775.20 L84.68 776.01 L85.68 776.74 L86.61 777.38 L87.47 777.95 L88.28 778.46 L89.05 778.93 L89.78 779.37 L90.50 779.79 L91.21 780.20 L91.93 780.61 L92.66 781.04 L93.41 781.50 L94.20 782.00 L95.02 782.52 L95.85 783.05 L96.68 783.57 L97.52 784.09 L98.36 784.61 L99.20 785.13 L100.03 785.65 L100.86 786.18 L101.66 786.70 L102.46 787.22 L103.23 787.75 L103.98 788.27 L104.70 788.80 L105.71 789.58 L106.71 790.40 L107.67 791.23 L108.61 792.06 L109.51 792.87 L110.36 793.66 L111.16 794.41 L111.91 795.09 L112.60 795.70 L113.73 796.62 L114.47 797.16 L115.25 797.79 L116.50 799.00 L117.13 799.65 L117.83 800.37 L118.59 801.16 L119.40 802.02 L120.25 802.92 L121.13 803.87 L122.04 804.86 L122.95 805.88 L123.88 806.91 L124.79 807.95 L125.70 809.00 L126.47 809.91 L127.27 810.86 L128.09 811.85 L128.92 812.86 L129.76 813.90 L130.61 814.94 L131.45 816.00 L132.29 817.05 L133.12 818.09 L133.93 819.11 L134.71 820.11 L135.47 821.07 L136.20 822.00 L137.20 823.30 L138.17 824.58 L139.10 825.83 L140.00 827.06 L140.87 828.24 L141.71 829.39 L142.53 830.48 L143.32 831.52 L144.10 832.50 L145.04 833.63 L145.92 834.61 L146.74 835.50 L147.54 836.33 L148.34 837.16 L149.15 838.04 L150.00 839.00 L150.74 839.87 L151.43 840.70 L152.12 841.54 L152.82 842.40 L153.57 843.33 L154.39 844.35 L155.33 845.50 L156.40 846.80 L157.04 847.58 L157.74 848.44 L158.48 849.35 L159.26 850.32 L160.07 851.32 L160.91 852.36 L161.77 853.41 L162.63 854.48 L163.50 855.54 L164.37 856.59 L165.23 857.62 L166.06 858.61 L166.88 859.57 L167.66 860.46 L168.40 861.30 L169.37 862.37 L170.32 863.38 L171.25 864.35 L172.16 865.28 L173.06 866.16 L173.93 867.01 L174.78 867.83 L175.61 868.61 L176.43 869.37 L177.22 870.09 L178.00 870.80 L178.90 871.61 L179.73 872.35 L180.52 873.04 L181.28 873.68 L182.02 874.29 L182.78 874.87 L183.57 875.44 L184.40 876.02 L185.30 876.29 L186.09 877.14 L186.91 877.41 L187.75 878.17 L188.62 878.67 L189.51 878.46 L190.41 878.85 L191.31 880.28 L192.22 880.01 L193.12 880.40 L194.02 881.71 L194.90 881.46 L195.78 882.27 L196.68 882.20 L197.58 882.74 L198.49 882.49 L199.39 883.39 L200.29 883.97 L201.18 883.85 L202.05 884.38 L202.89 884.56 L203.71 884.06 L204.50 885.11 L205.43 885.15 L206.35 885.02 L207.24 884.88 L208.11 886.05 L208.94 885.71 L209.73 886.12 L210.47 886.39 L211.16 886.24 L211.80 886.51 L212.94 885.89 L213.79 886.29 L214.54 885.52 L215.40 885.32 L216.28 884.07 L217.28 881.49 L218.26 879.75 L219.10 878.25 L219.70 877.50" stroke="#777777" stroke-width="1.5" fill="none" stroke-linejoin="round"/>
<path d="M64.80 759.50 L65.25 759.87 L65.78 760.30 L66.39 760.80 L67.06 761.35 L67.79 761.95 L68.57 762.60 L69.40 763.28 L70.27 764.00 L71.18 764.75 L72.11 765.51 L73.06 766.29 L74.02 767.08 L74.99 767.88 L75.96 768.67 L76.93 769.45 L77.88 770.22 L78.81 770.97 L79.71 771.69 L80.58 772.38 L81.41 773.03 L82.20 773.64 L82.93 774.20 L83.60 774.70 L84.68 775.49 L85.68 776.19 L86.61 776.81 L87.47 777.37 L88.28 777.87 L89.05 778.33 L89.78 778.75 L90.50 779.16 L91.21 779.56 L91.93 779.96 L92.66 780.38 L93.41 780.82 L94.20 781.30 L95.02 781.80 L95.85 782.30 L96.68 782.80 L97.52 783.30 L98.36 783.80 L99.20 784.30 L100.03 784.80 L100.86 785.30 L101.66 785.80 L102.46 786.30 L103.23 786.80 L103.98 787.30 L104.70 787.80 L105.71 788.55 L106.71 789.32 L107.67 790.11 L108.61 790.91 L109.51 791.69 L110.36 792.44 L111.16 793.15 L111.91 793.81 L112.60 794.40 L113.73 795.30 L114.47 795.84 L115.25 796.49 L116.50 797.70 L117.13 798.34 L117.83 799.06 L118.59 799.84 L119.40 800.68 L120.25 801.57 L121.13 802.51 L122.04 803.49 L122.95 804.49 L123.88 805.52 L124.79 806.55 L125.70 807.60 L126.47 808.51 L127.27 809.47 L128.09 810.46 L128.92 811.48 L129.76 812.52 L130.61 813.58 L131.45 814.64 L132.29 815.71 L133.12 816.76 L133.93 817.79 L134.71 818.80 L135.47 819.77 L136.20 820.70 L137.20 822.00 L138.17 823.28 L139.10 824.54 L140.00 825.76 L140.87 826.94 L141.71 828.09 L142.53 829.18 L143.32 830.22 L144.10 831.20 L145.04 832.34 L145.92 833.34 L146.74 834.24 L147.54 835.10 L148.34 835.95 L149.15 836.83 L150.00 837.80 L150.74 838.66 L151.43 839.49 L152.12 840.31 L152.82 841.16 L153.57 842.07 L154.39 843.07 L155.33 844.20 L156.40 845.50 L157.04 846.28 L157.74 847.13 L158.48 848.04 L159.26 849.01 L160.07 850.01 L160.91 851.05 L161.77 852.10 L162.63 853.16 L163.50 854.23 L164.37 855.28 L165.23 856.31 L166.06 857.30 L166.88 858.26 L167.66 859.16 L168.40 860.00 L169.37 861.07 L170.32 862.09 L171.25 863.07 L172.16 864.00 L173.06 864.90 L173.93 865.76 L174.78 866.58 L175.61 867.37 L176.43 868.14 L177.22 868.88 L178.00 869.60 L178.90 870.43 L179.73 871.20 L180.52 871.91 L181.28 872.57 L182.02 873.21 L182.78 873.81 L183.57 874.41 L184.40 875.00 L185.30 875.23 L186.09 875.54 L186.91 876.43 L187.75 876.57 L188.62 876.91 L189.51 877.84 L190.41 879.01 L191.31 879.28 L192.22 879.66 L193.12 879.31 L194.02 880.16 L194.90 880.19 L195.78 880.43 L196.68 880.71 L197.58 881.24 L198.49 882.60 L199.39 882.82 L200.29 883.13 L201.18 883.44 L202.05 882.90 L202.89 883.34 L203.71 884.05 L204.50 884.42 L205.43 884.85 L206.35 885.11 L207.24 884.19 L208.11 885.08 L208.94 885.30 L209.73 885.18 L210.47 884.79 L211.16 885.25 L211.80 884.73 L212.94 885.92 L213.79 885.74 L214.54 884.95 L215.40 883.82 L216.28 883.49 L217.28 881.37 L218.26 880.02 L219.10 878.38 L219.70 876.80" stroke="#36a447" stroke-width="1.6" fill="none" stroke-linejoin="round"/>
<line x1="65.0" y1="758.8" x2="65.0" y2="913.4" stroke="#404040" stroke-width="1.2"/>
<line x1="64.4" y1="912.8" x2="220.0" y2="912.8" stroke="#404040" stroke-width="1.2"/>
<line x1="62.0" y1="764.8" x2="65.0" y2="764.8" stroke="#404040" stroke-width="1"/>
<text x="59.30" y="768.23" font-size="8.9" text-anchor="end" font-weight="bold" font-style="normal" fill="#231f20" stroke="#231f20" stroke-width="0.22" transform="translate(59.30 768.23) scale(1 1.07) translate(-59.30 -768.23)">100</text>
<line x1="62.0" y1="805.1" x2="65.0" y2="805.1" stroke="#404040" stroke-width="1"/>
<text x="59.30" y="808.53" font-size="8.9" text-anchor="end" font-weight="bold" font-style="normal" fill="#231f20" stroke="#231f20" stroke-width="0.22" transform="translate(59.30 808.53) scale(1 1.07) translate(-59.30 -808.53)">10</text>
<line x1="62.0" y1="844.8" x2="65.0" y2="844.8" stroke="#404040" stroke-width="1"/>
<text x="59.30" y="848.23" font-size="8.9" text-anchor="end" font-weight="bold" font-style="normal" fill="#231f20" stroke="#231f20" stroke-width="0.22" transform="translate(59.30 848.23) scale(1 1.07) translate(-59.30 -848.23)">1</text>
<line x1="62.0" y1="884.6" x2="65.0" y2="884.6" stroke="#404040" stroke-width="1"/>
<text x="59.30" y="888.03" font-size="8.9" text-anchor="end" font-weight="bold" font-style="normal" fill="#231f20" stroke="#231f20" stroke-width="0.22" transform="translate(59.30 888.03) scale(1 1.07) translate(-59.30 -888.03)">0.1</text>
<line x1="64.8" y1="912.8" x2="64.8" y2="915.8" stroke="#404040" stroke-width="1"/>
<text x="66.60" y="924.85" font-size="8.7" text-anchor="middle" font-weight="bold" font-style="normal" fill="#231f20" stroke="#231f20" stroke-width="0.22" transform="translate(66.60 924.85) scale(1 1.07) translate(-66.60 -924.85)">10 kb</text>
<line x1="125" y1="912.8" x2="125" y2="915.8" stroke="#404040" stroke-width="1"/>
<text x="126.80" y="924.85" font-size="8.7" text-anchor="middle" font-weight="bold" font-style="normal" fill="#231f20" stroke="#231f20" stroke-width="0.22" transform="translate(126.80 924.85) scale(1 1.07) translate(-126.80 -924.85)">100 kb</text>
<line x1="184" y1="912.8" x2="184" y2="915.8" stroke="#404040" stroke-width="1"/>
<text x="185.80" y="924.85" font-size="8.7" text-anchor="middle" font-weight="bold" font-style="normal" fill="#231f20" stroke="#231f20" stroke-width="0.22" transform="translate(185.80 924.85) scale(1 1.07) translate(-185.80 -924.85)">1 Mb</text>
<text x="148.40" y="934.85" font-size="8.7" text-anchor="middle" font-weight="bold" font-style="normal" fill="#231f20" stroke="#231f20" stroke-width="0.22" transform="translate(148.40 934.85) scale(1 1.07) translate(-148.40 -934.85)">Distance</text>
<text x="34.20" y="834.61" font-size="8.85" text-anchor="middle" font-weight="bold" font-style="normal" fill="#231f20" stroke="#231f20" stroke-width="0.22" transform="rotate(-90 34.20 831.20) translate(34.20 834.61) scale(1 1.07) translate(-34.20 -834.61)">Contact score</text>
<rect x="114.2" y="764.8" width="102.40" height="30.60" rx="2" fill="#fff"/>
<line x1="121.10000000000001" y1="773.98" x2="138.1" y2="773.98" stroke="#777" stroke-width="1.8"/>
<line x1="121.10000000000001" y1="786.22" x2="138.1" y2="786.22" stroke="#36a447" stroke-width="1.9"/>
<text x="143.80" y="776.63" font-size="8.9" text-anchor="start" font-weight="bold" font-style="normal" fill="#231f20" stroke="#231f20" stroke-width="0.22" transform="translate(143.80 776.63) scale(1 1.07) translate(-143.80 -776.63)">Pmc4 WT</text>
<text x="143.80" y="788.63" font-size="8.9" text-anchor="start" font-weight="bold" font-style="normal" fill="#231f20" stroke="#231f20" stroke-width="0.22" transform="translate(143.80 788.63) scale(1 1.07) translate(-143.80 -788.63)">Pmc4 depletion</text>
<line x1="122.1" y1="876.4" x2="173.8" y2="876.4" stroke="#2a2a2a" stroke-width="1.2"/>
<path d="M117.1 876.4 L124.1 873.1999999999999 L124.1 879.6 Z" fill="#2a2a2a"/><path d="M178.8 876.4 L171.8 873.1999999999999 L171.8 879.6 Z" fill="#2a2a2a"/>
<text x="148.70" y="889.93" font-size="8.9" text-anchor="middle" font-weight="bold" font-style="normal" fill="#3a3536" stroke="#3a3536" stroke-width="0.22" transform="translate(148.70 889.93) scale(1 1.07) translate(-148.70 -889.93)">Condensin</text>
<text x="148.70" y="900.73" font-size="8.9" text-anchor="middle" font-weight="bold" font-style="normal" fill="#3a3536" stroke="#3a3536" stroke-width="0.22" transform="translate(148.70 900.73) scale(1 1.07) translate(-148.70 -900.73)">domains</text>
<text x="343.25" y="745.61" font-size="11.96" text-anchor="middle" font-weight="bold" font-style="normal" fill="#333" stroke="#333" stroke-width="0.22" transform="translate(343.25 745.61) scale(1 1.07) translate(-343.25 -745.61)">Pmc4 depletion − Pmc4 WT</text>
<g clip-path="url(#c129)">
<rect x="244.3" y="773.6" width="140.10" height="139.10" fill="#f6f1f0"/>
<rect x="244.30" y="773.60" width="140.10" height="139.10" fill="#eaa090" filter="url(#spkR5)" opacity="0.8"/>
<rect x="244.30" y="773.60" width="140.10" height="139.10" fill="#a8c8e6" filter="url(#spkB6)" opacity="0.8"/>
<polygon points="282.73,727.17 430.83,874.27 345.97,959.13 197.87,812.03" fill="url(#g130)" filter="url(#spkR5)"/>
<polygon points="268.58,741.32 416.68,888.42 360.12,944.98 212.02,797.88" fill="url(#g131)" filter="url(#spkR4)"/>
<g mask="url(#m132)" opacity="1.0">
<polygon points="282.73,727.17 430.83,874.27 345.97,959.13 197.87,812.03" fill="url(#g134)" filter="url(#spkB4)"/>
<polygon points="272.12,737.78 420.22,884.88 356.58,948.52 208.48,801.42" fill="url(#g135)" filter="url(#spkB5)"/>
</g>
<g mask="url(#m136)" opacity="0.9">
<polygon points="282.73,727.17 430.83,874.27 345.97,959.13 197.87,812.03" fill="url(#g138)" filter="url(#spkB4)"/>
<polygon points="272.12,737.78 420.22,884.88 356.58,948.52 208.48,801.42" fill="url(#g139)" filter="url(#spkB5)"/>
</g>
<g mask="url(#m140)" opacity="0.6">
<polygon points="282.73,727.17 430.83,874.27 345.97,959.13 197.87,812.03" fill="url(#g142)" filter="url(#spkB4)"/>
<polygon points="272.12,737.78 420.22,884.88 356.58,948.52 208.48,801.42" fill="url(#g143)" filter="url(#spkB5)"/>
</g>
<line x1="241.3" y1="770.6" x2="387.4" y2="915.7" stroke="#1f4580" stroke-width="5.2"/>
</g>
<path d="M244.30 773.60 L244.30 810.00 L281.80 810.00" stroke="#231f20" stroke-width="1.6" stroke-dasharray="2.8 1.6" fill="none"/>
<path d="M281.80 810.00 L281.80 853.80 L323.80 853.80" stroke="#231f20" stroke-width="1.6" stroke-dasharray="2.8 1.6" fill="none"/>
<path d="M323.80 853.80 L323.80 912.70 L384.40 912.70" stroke="#231f20" stroke-width="1.6" stroke-dasharray="2.8 1.6" fill="none"/>
<line x1="243.8" y1="772.5" x2="384.9" y2="772.5" stroke="#555" stroke-width="1"/>
<line x1="245" y1="769.5" x2="245" y2="772.5" stroke="#555" stroke-width="1"/>
<text x="245.00" y="768.04" font-size="9.2" text-anchor="middle" font-weight="bold" font-style="normal" fill="#231f20" stroke="#231f20" stroke-width="0.22" transform="translate(245.00 768.04) scale(1 1.07) translate(-245.00 -768.04)">0.5</text>
<line x1="281" y1="769.5" x2="281" y2="772.5" stroke="#555" stroke-width="1"/>
<text x="281.00" y="768.04" font-size="9.2" text-anchor="middle" font-weight="bold" font-style="normal" fill="#231f20" stroke="#231f20" stroke-width="0.22" transform="translate(281.00 768.04) scale(1 1.07) translate(-281.00 -768.04)">1.0</text>
<line x1="317.9" y1="769.5" x2="317.9" y2="772.5" stroke="#555" stroke-width="1"/>
<text x="317.90" y="768.04" font-size="9.2" text-anchor="middle" font-weight="bold" font-style="normal" fill="#231f20" stroke="#231f20" stroke-width="0.22" transform="translate(317.90 768.04) scale(1 1.07) translate(-317.90 -768.04)">1.5</text>
<line x1="355.3" y1="769.5" x2="355.3" y2="772.5" stroke="#555" stroke-width="1"/>
<text x="355.30" y="768.04" font-size="9.2" text-anchor="middle" font-weight="bold" font-style="normal" fill="#231f20" stroke="#231f20" stroke-width="0.22" transform="translate(355.30 768.04) scale(1 1.07) translate(-355.30 -768.04)">2.0</text>
<line x1="383.7" y1="769.5" x2="383.7" y2="772.5" stroke="#555" stroke-width="1"/>
<text x="383.70" y="768.04" font-size="9.2" text-anchor="middle" font-weight="bold" font-style="normal" fill="#231f20" stroke="#231f20" stroke-width="0.22" transform="translate(383.70 768.04) scale(1 1.07) translate(-383.70 -768.04)">2.4</text>
<text x="381.00" y="758.35" font-size="8.7" text-anchor="middle" font-weight="bold" font-style="normal" fill="#231f20" stroke="#231f20" stroke-width="0.22" transform="translate(381.00 758.35) scale(1 1.07) translate(-381.00 -758.35)">(Mb)</text>
<rect x="306.6" y="918" width="76.10" height="8.70" fill="url(#cbDiff)"/>
<rect x="306.1" y="917" width="0.8" height="9.70" fill="#333"/>
<rect x="382.4" y="917" width="0.8" height="9.70" fill="#333"/>
<text x="304.40" y="925.82" font-size="9.0" text-anchor="end" font-weight="bold" font-style="normal" fill="#231f20" stroke="#231f20" stroke-width="0.22" transform="translate(304.40 925.82) scale(1 1.07) translate(-304.40 -925.82)">Difference</text>
<text x="306.60" y="936.24" font-size="9.2" text-anchor="middle" font-weight="bold" font-style="normal" fill="#231f20" stroke="#231f20" stroke-width="0.22" transform="translate(306.60 936.24) scale(1 1.07) translate(-306.60 -936.24)">-0.8</text>
<text x="344.80" y="936.24" font-size="9.2" text-anchor="middle" font-weight="bold" font-style="normal" fill="#231f20" stroke="#231f20" stroke-width="0.22" transform="translate(344.80 936.24) scale(1 1.07) translate(-344.80 -936.24)">0</text>
<text x="382.70" y="936.24" font-size="9.2" text-anchor="middle" font-weight="bold" font-style="normal" fill="#231f20" stroke="#231f20" stroke-width="0.22" transform="translate(382.70 936.24) scale(1 1.07) translate(-382.70 -936.24)">0.8</text>
<line x1="386.5" y1="773.2" x2="386.5" y2="912.6" stroke="#333" stroke-width="1.1"/>
<line x1="386.5" y1="773.2" x2="422.7" y2="773.2" stroke="#333" stroke-width="1"/>
<line x1="391.4" y1="770.2" x2="391.4" y2="773.2" stroke="#333" stroke-width="0.9"/>
<line x1="405.1" y1="770.2" x2="405.1" y2="773.2" stroke="#333" stroke-width="0.9"/>
<line x1="418.7" y1="770.2" x2="418.7" y2="773.2" stroke="#333" stroke-width="0.9"/>
<line x1="426.7" y1="773.2" x2="426.7" y2="912.6" stroke="#333" stroke-width="1.1"/>
<line x1="426.7" y1="773.2" x2="460.7" y2="773.2" stroke="#333" stroke-width="1"/>
<line x1="428.3" y1="770.2" x2="428.3" y2="773.2" stroke="#333" stroke-width="0.9"/>
<line x1="442.4" y1="770.2" x2="442.4" y2="773.2" stroke="#333" stroke-width="0.9"/>
<line x1="456.7" y1="770.2" x2="456.7" y2="773.2" stroke="#333" stroke-width="0.9"/>
<line x1="462.7" y1="773.2" x2="462.7" y2="912.6" stroke="#333" stroke-width="1.1"/>
<line x1="462.7" y1="773.2" x2="495.6" y2="773.2" stroke="#333" stroke-width="1"/>
<line x1="466.4" y1="770.2" x2="466.4" y2="773.2" stroke="#333" stroke-width="0.9"/>
<line x1="479.4" y1="770.2" x2="479.4" y2="773.2" stroke="#333" stroke-width="0.9"/>
<line x1="491.6" y1="770.2" x2="491.6" y2="773.2" stroke="#333" stroke-width="0.9"/>
<text x="439.90" y="758.13" font-size="8.9" text-anchor="middle" font-weight="bold" font-style="normal" fill="#231f20" stroke="#231f20" stroke-width="0.22" transform="translate(439.90 758.13) scale(1 1.07) translate(-439.90 -758.13)">Border strength</text>
<text x="427.30" y="769.84" font-size="9.2" text-anchor="middle" font-weight="bold" font-style="normal" fill="#231f20" stroke="#231f20" stroke-width="0.22" transform="translate(427.30 769.84) scale(1 1.07) translate(-427.30 -769.84)">-1</text>
<text x="442.40" y="769.84" font-size="9.2" text-anchor="middle" font-weight="bold" font-style="normal" fill="#231f20" stroke="#231f20" stroke-width="0.22" transform="translate(442.40 769.84) scale(1 1.07) translate(-442.40 -769.84)">0</text>
<text x="456.70" y="769.84" font-size="9.2" text-anchor="middle" font-weight="bold" font-style="normal" fill="#231f20" stroke="#231f20" stroke-width="0.22" transform="translate(456.70 769.84) scale(1 1.07) translate(-456.70 -769.84)">1</text>
<polygon points="405.1,772.6 405.1,772.6 405.1,773.1 405.1,773.6 405.1,774.1 405.1,774.6 405.1,775.1 405.1,775.6 405.1,776.1 405.1,776.6 403.7,777.1 401.3,777.6 399.0,778.1 397.2,778.6 397.5,779.1 397.9,779.6 398.3,780.1 398.7,780.6 397.7,781.1 395.9,781.6 394.1,782.1 392.5,782.6 391.8,783.1 391.1,783.6 390.4,784.1 389.7,784.6 389.0,785.1 389.1,785.6 390.5,786.1 391.8,786.6 393.2,787.1 394.5,787.6 395.8,788.1 395.8,788.6 395.4,789.1 398.4,789.6 405.1,790.1 405.1,790.6 403.7,791.1 398.2,791.6 397.6,792.1 397.1,792.6 396.5,793.1 395.9,793.6 395.4,794.1 395.0,794.6 395.5,795.1 396.0,795.6 396.5,796.1 397.1,796.6 397.7,797.1 398.3,797.6 398.9,798.1 399.4,798.6 399.1,799.1 398.9,799.6 398.6,800.1 398.4,800.6 398.8,801.1 399.5,801.6 400.3,802.1 401.1,802.6 402.0,803.1 403.7,803.6 405.1,804.1 405.1,804.6 405.1,805.1 405.1,805.6 405.1,806.1 405.1,806.6 405.1,807.1 405.1,807.6 405.1,808.1 405.1,808.6 405.1,809.1 405.1,809.6 405.1,810.1 405.1,810.6 405.1,811.1 402.3,811.6 397.7,812.1 399.3,812.6 400.9,813.1 402.5,813.6 404.0,814.1 405.1,814.6 405.1,815.1 405.1,815.6 403.4,816.1 400.6,816.6 400.7,817.1 401.6,817.6 402.5,818.1 403.4,818.6 404.3,819.1 405.1,819.6 405.1,820.1 405.1,820.6 405.1,821.1 405.1,821.6 405.1,822.1 405.1,822.6 405.1,823.1 405.1,823.6 405.1,824.1 405.1,824.6 405.1,825.1 405.1,825.6 405.1,826.1 405.1,826.6 405.1,827.1 405.1,827.6 404.9,828.1 403.7,828.6 402.5,829.1 403.2,829.6 404.2,830.1 405.1,830.6 405.1,831.1 405.1,831.6 405.1,832.1 405.1,832.6 405.1,833.1 405.1,833.6 403.2,834.1 401.2,834.6 399.3,835.1 397.7,835.6 397.9,836.1 398.1,836.6 398.3,837.1 398.5,837.6 398.7,838.1 398.4,838.6 397.9,839.1 397.3,839.6 396.7,840.1 396.1,840.6 395.5,841.1 395.3,841.6 395.2,842.1 401.1,842.6 405.1,843.1 405.1,843.6 405.1,844.1 405.1,844.6 405.1,845.1 405.1,845.6 405.1,846.1 405.1,846.6 405.1,847.1 405.1,847.6 405.1,848.1 405.1,848.6 405.1,849.1 405.1,849.6 405.1,850.1 405.1,850.6 405.1,851.1 405.1,851.6 405.0,852.1 404.6,852.6 404.7,853.1 405.1,853.6 405.1,854.1 405.1,854.6 405.1,855.1 405.1,855.6 405.1,856.1 405.1,856.6 405.1,857.1 405.1,857.6 405.1,858.1 405.1,858.6 405.1,859.1 405.1,859.6 404.9,860.1 404.1,860.6 403.6,861.1 404.4,861.6 405.1,862.1 405.1,862.6 405.1,863.1 405.1,863.6 405.1,864.1 405.1,864.6 405.1,865.1 405.1,865.6 405.1,866.1 405.1,866.6 405.1,867.1 405.1,867.6 405.1,868.1 405.1,868.6 405.1,869.1 405.1,869.6 405.1,870.1 405.1,870.6 405.1,871.1 405.1,871.6 405.1,872.1 405.1,872.6 405.1,873.1 405.1,873.6 405.1,874.1 405.1,874.6 405.1,875.1 405.1,875.6 405.1,876.1 405.1,876.6 405.1,877.1 405.1,877.6 405.1,878.1 402.0,878.6 398.9,879.1 399.0,879.6 401.2,880.1 403.4,880.6 405.1,881.1 405.1,881.6 405.1,882.1 405.1,882.6 403.6,883.1 401.8,883.6 400.0,884.1 398.2,884.6 396.4,885.1 394.8,885.6 394.3,886.1 393.8,886.6 393.3,887.1 392.8,887.6 392.3,888.1 391.8,888.6 391.5,889.1 392.2,889.6 392.9,890.1 393.6,890.6 394.3,891.1 395.0,891.6 395.7,892.1 396.9,892.6 398.8,893.1 400.8,893.6 402.8,894.1 404.7,894.6 405.1,895.1 405.1,895.6 405.1,896.1 405.1,896.6 405.1,897.1 405.1,897.6 405.1,898.1 405.1,898.6 403.8,899.1 402.9,899.6 402.2,900.1 401.5,900.6 400.8,901.1 400.2,901.6 399.5,902.1 398.8,902.6 399.1,903.1 399.3,903.6 399.6,904.1 399.8,904.6 400.1,905.1 400.3,905.6 400.4,906.1 399.6,906.6 398.9,907.1 398.2,907.6 397.4,908.1 396.7,908.6 396.0,909.1 395.5,909.6 395.9,910.1 396.2,910.6 396.6,911.1 397.0,911.6 401.7,912.1 405.1,912.4" fill="#b0c4e6"/>
<polygon points="405.1,772.6 405.1,772.6 406.4,773.1 407.8,773.6 409.1,774.1 410.1,774.6 409.9,775.1 409.6,775.6 409.4,776.1 409.1,776.6 405.1,777.1 405.1,777.6 405.1,778.1 405.1,778.6 405.1,779.1 405.1,779.6 405.1,780.1 405.1,780.6 405.1,781.1 405.1,781.6 405.1,782.1 405.1,782.6 405.1,783.1 405.1,783.6 405.1,784.1 405.1,784.6 405.1,785.1 405.1,785.6 405.1,786.1 405.1,786.6 405.1,787.1 405.1,787.6 405.1,788.1 405.1,788.6 405.1,789.1 405.1,789.6 405.4,790.1 406.5,790.6 405.1,791.1 405.1,791.6 405.1,792.1 405.1,792.6 405.1,793.1 405.1,793.6 405.1,794.1 405.1,794.6 405.1,795.1 405.1,795.6 405.1,796.1 405.1,796.6 405.1,797.1 405.1,797.6 405.1,798.1 405.1,798.6 405.1,799.1 405.1,799.6 405.1,800.1 405.1,800.6 405.1,801.1 405.1,801.6 405.1,802.1 405.1,802.6 405.1,803.1 405.1,803.6 406.2,804.1 411.4,804.6 416.7,805.1 418.1,805.6 417.1,806.1 416.0,806.6 415.2,807.1 416.0,807.6 416.7,808.1 417.5,808.6 417.2,809.1 416.7,809.6 416.2,810.1 413.5,810.6 407.5,811.1 405.1,811.6 405.1,812.1 405.1,812.6 405.1,813.1 405.1,813.6 405.1,814.1 405.9,814.6 408.6,815.1 406.1,815.6 405.1,816.1 405.1,816.6 405.1,817.1 405.1,817.6 405.1,818.1 405.1,818.6 405.1,819.1 405.1,819.6 410.8,820.1 410.9,820.6 411.1,821.1 411.2,821.6 411.3,822.1 411.4,822.6 411.6,823.1 411.7,823.6 411.8,824.1 411.9,824.6 411.6,825.1 411.2,825.6 410.8,826.1 410.4,826.6 409.3,827.1 407.0,827.6 405.1,828.1 405.1,828.6 405.1,829.1 405.1,829.6 405.1,830.1 405.1,830.6 405.1,831.1 405.6,831.6 407.9,832.1 410.2,832.6 407.7,833.1 405.1,833.6 405.1,834.1 405.1,834.6 405.1,835.1 405.1,835.6 405.1,836.1 405.1,836.6 405.1,837.1 405.1,837.6 405.1,838.1 405.1,838.6 405.1,839.1 405.1,839.6 405.1,840.1 405.1,840.6 405.1,841.1 405.1,841.6 405.1,842.1 405.1,842.6 407.9,843.1 412.7,843.6 417.4,844.1 422.1,844.6 420.8,845.1 419.6,845.6 418.3,846.1 417.0,846.6 416.9,847.1 417.6,847.6 418.3,848.1 418.5,848.6 417.1,849.1 415.8,849.6 414.4,850.1 412.1,850.6 409.6,851.1 407.1,851.6 405.1,852.1 405.1,852.6 405.1,853.1 406.4,853.6 408.1,854.1 408.3,854.6 408.1,855.1 408.0,855.6 407.8,856.1 407.6,856.6 407.8,857.1 408.0,857.6 408.2,858.1 408.4,858.6 407.6,859.1 406.2,859.6 405.1,860.1 405.1,860.6 405.1,861.1 405.1,861.6 405.3,862.1 406.4,862.6 407.5,863.1 408.0,863.6 408.2,864.1 408.5,864.6 408.7,865.1 408.9,865.6 409.1,866.1 409.3,866.6 409.5,867.1 410.1,867.6 411.0,868.1 411.9,868.6 412.7,869.1 413.6,869.6 412.5,870.1 411.5,870.6 410.4,871.1 409.3,871.6 408.3,872.1 407.6,872.6 408.7,873.1 409.8,873.6 410.9,874.1 412.0,874.6 413.1,875.1 414.2,875.6 415.2,876.1 414.6,876.6 411.5,877.1 408.3,877.6 405.1,878.1 405.1,878.6 405.1,879.1 405.1,879.6 405.1,880.1 405.1,880.6 405.2,881.1 405.7,881.6 405.6,882.1 405.2,882.6 405.1,883.1 405.1,883.6 405.1,884.1 405.1,884.6 405.1,885.1 405.1,885.6 405.1,886.1 405.1,886.6 405.1,887.1 405.1,887.6 405.1,888.1 405.1,888.6 405.1,889.1 405.1,889.6 405.1,890.1 405.1,890.6 405.1,891.1 405.1,891.6 405.1,892.1 405.1,892.6 405.1,893.1 405.1,893.6 405.1,894.1 405.1,894.6 407.8,895.1 408.5,895.6 408.5,896.1 408.5,896.6 408.5,897.1 408.5,897.6 408.5,898.1 406.1,898.6 405.1,899.1 405.1,899.6 405.1,900.1 405.1,900.6 405.1,901.1 405.1,901.6 405.1,902.1 405.1,902.6 405.1,903.1 405.1,903.6 405.1,904.1 405.1,904.6 405.1,905.1 405.1,905.6 405.1,906.1 405.1,906.6 405.1,907.1 405.1,907.6 405.1,908.1 405.1,908.6 405.1,909.1 405.1,909.6 405.1,910.1 405.1,910.6 405.1,911.1 405.1,911.6 405.1,912.1 405.1,912.4" fill="#f0b0a2"/>
<polygon points="442.4,772.6 442.4,772.6 442.4,773.1 442.4,773.6 442.4,774.1 442.4,774.6 442.4,775.1 442.4,775.6 442.4,776.1 442.4,776.6 442.2,777.1 441.0,777.6 439.9,778.1 438.7,778.6 437.5,779.1 436.4,779.6 435.2,780.1 434.1,780.6 432.9,781.1 432.0,781.6 431.5,782.1 431.0,782.6 430.4,783.1 429.9,783.6 429.4,784.1 428.9,784.6 429.4,785.1 430.7,785.6 431.9,786.1 433.1,786.6 434.4,787.1 435.6,787.6 437.5,788.1 439.4,788.6 441.3,789.1 442.4,789.6 442.4,790.1 442.4,790.6 441.1,791.1 434.4,791.6 433.8,792.1 433.2,792.6 432.6,793.1 432.1,793.6 431.5,794.1 431.1,794.6 431.4,795.1 431.8,795.6 432.1,796.1 432.5,796.6 432.8,797.1 433.2,797.6 433.5,798.1 433.9,798.6 434.2,799.1 434.5,799.6 434.9,800.1 435.2,800.6 435.6,801.1 435.9,801.6 436.9,802.1 438.9,802.6 440.8,803.1 442.4,803.6 442.4,804.1 442.4,804.6 442.4,805.1 442.4,805.6 442.4,806.1 442.4,806.6 442.4,807.1 442.4,807.6 441.6,808.1 437.5,808.6 435.8,809.1 434.7,809.6 433.7,810.1 432.6,810.6 431.5,811.1 430.4,811.6 429.3,812.1 432.7,812.6 436.2,813.1 439.6,813.6 442.4,814.1 442.4,814.6 442.4,815.1 442.4,815.6 442.4,816.1 439.7,816.6 439.8,817.1 440.8,817.6 441.8,818.1 442.4,818.6 442.4,819.1 442.4,819.6 442.4,820.1 442.4,820.6 442.4,821.1 442.4,821.6 442.4,822.1 442.4,822.6 442.4,823.1 442.4,823.6 442.4,824.1 442.4,824.6 442.4,825.1 442.4,825.6 442.4,826.1 442.4,826.6 442.4,827.1 442.4,827.6 442.4,828.1 442.4,828.6 439.1,829.1 438.6,829.6 438.9,830.1 439.2,830.6 439.5,831.1 439.8,831.6 440.1,832.1 441.7,832.6 442.4,833.1 442.4,833.6 441.8,834.1 438.6,834.6 436.3,835.1 435.3,835.6 434.3,836.1 433.3,836.6 434.6,837.1 435.9,837.6 437.3,838.1 438.9,838.6 440.6,839.1 442.4,839.6 442.4,840.1 442.4,840.6 440.1,841.1 440.5,841.6 441.5,842.1 442.4,842.6 442.4,843.1 442.4,843.6 442.4,844.1 442.4,844.6 442.4,845.1 442.4,845.6 442.4,846.1 442.4,846.6 442.4,847.1 442.4,847.6 442.4,848.1 442.4,848.6 442.4,849.1 442.4,849.6 442.4,850.1 442.4,850.6 442.4,851.1 442.4,851.6 441.1,852.1 436.1,852.6 436.0,853.1 435.9,853.6 435.9,854.1 435.8,854.6 435.7,855.1 435.7,855.6 435.6,856.1 435.8,856.6 435.9,857.1 436.0,857.6 436.2,858.1 436.3,858.6 436.5,859.1 436.6,859.6 436.9,860.1 437.9,860.6 438.9,861.1 440.0,861.6 441.0,862.1 442.0,862.6 442.4,863.1 442.4,863.6 442.4,864.1 442.4,864.6 442.4,865.1 442.2,865.6 441.5,866.1 441.8,866.6 442.4,867.1 442.4,867.6 442.4,868.1 442.4,868.6 442.1,869.1 440.8,869.6 439.4,870.1 438.1,870.6 437.9,871.1 438.1,871.6 438.3,872.1 438.5,872.6 438.6,873.1 438.8,873.6 439.0,874.1 439.8,874.6 440.9,875.1 442.0,875.6 442.4,876.1 442.4,876.6 442.4,877.1 442.4,877.6 441.7,878.1 438.2,878.6 434.8,879.1 435.0,879.6 437.6,880.1 440.3,880.6 442.4,881.1 442.4,881.6 442.4,882.1 442.1,882.6 440.8,883.1 439.4,883.6 438.1,884.1 436.7,884.6 435.3,885.1 434.0,885.6 432.6,886.1 431.3,886.6 430.7,887.1 430.4,887.6 430.1,888.1 429.7,888.6 429.4,889.1 429.0,889.6 428.7,890.1 429.7,890.6 430.7,891.1 431.7,891.6 432.8,892.1 433.8,892.6 434.8,893.1 436.0,893.6 438.0,894.1 440.0,894.6 442.0,895.1 442.4,895.6 442.4,896.1 442.4,896.6 442.4,897.1 442.4,897.6 442.4,898.1 442.4,898.6 442.4,899.1 440.9,899.6 438.9,900.1 437.7,900.6 437.3,901.1 437.0,901.6 436.7,902.1 436.4,902.6 436.1,903.1 435.7,903.6 435.5,904.1 435.3,904.6 435.1,905.1 435.0,905.6 434.8,906.1 434.6,906.6 434.4,907.1 434.4,907.6 434.4,908.1 434.4,908.6 434.4,909.1 434.4,909.6 434.4,910.1 434.4,910.6 434.4,911.1 434.4,911.6 439.0,912.1 442.4,912.4" fill="#b0c4e6"/>
<polygon points="442.4,772.6 442.4,772.6 443.7,773.1 445.1,773.6 446.4,774.1 447.4,774.6 447.1,775.1 446.8,775.6 446.5,776.1 444.7,776.6 442.4,777.1 442.4,777.6 442.4,778.1 442.4,778.6 442.4,779.1 442.4,779.6 442.4,780.1 442.4,780.6 442.4,781.1 442.4,781.6 442.4,782.1 442.4,782.6 442.4,783.1 442.4,783.6 442.4,784.1 442.4,784.6 442.4,785.1 442.4,785.6 442.4,786.1 442.4,786.6 442.4,787.1 442.4,787.6 442.4,788.1 442.4,788.6 442.4,789.1 442.8,789.6 443.7,790.1 443.4,790.6 442.4,791.1 442.4,791.6 442.4,792.1 442.4,792.6 442.4,793.1 442.4,793.6 442.4,794.1 442.4,794.6 442.4,795.1 442.4,795.6 442.4,796.1 442.4,796.6 442.4,797.1 442.4,797.6 442.4,798.1 442.4,798.6 442.4,799.1 442.4,799.6 442.4,800.1 442.4,800.6 442.4,801.1 442.4,801.6 442.4,802.1 442.4,802.6 442.4,803.1 443.4,803.6 448.2,804.1 448.7,804.6 448.1,805.1 447.5,805.6 446.9,806.1 446.3,806.6 445.5,807.1 443.8,807.6 442.4,808.1 442.4,808.6 442.4,809.1 442.4,809.6 442.4,810.1 442.4,810.6 442.4,811.1 442.4,811.6 442.4,812.1 442.4,812.6 442.4,813.1 442.4,813.6 442.5,814.1 442.8,814.6 443.2,815.1 443.5,815.6 442.6,816.1 442.4,816.6 442.4,817.1 442.4,817.6 442.4,818.1 443.4,818.6 446.0,819.1 448.2,819.6 448.7,820.1 449.2,820.6 449.7,821.1 450.2,821.6 450.5,822.1 450.5,822.6 450.6,823.1 450.7,823.6 450.8,824.1 450.9,824.6 450.2,825.1 449.3,825.6 448.3,826.1 447.4,826.6 446.5,827.1 445.5,827.6 443.9,828.1 442.4,828.6 442.4,829.1 442.4,829.6 442.4,830.1 442.4,830.6 442.4,831.1 442.4,831.6 442.4,832.1 442.4,832.6 444.1,833.1 443.5,833.6 442.4,834.1 442.4,834.6 442.4,835.1 442.4,835.6 442.4,836.1 442.4,836.6 442.4,837.1 442.4,837.6 442.4,838.1 442.4,838.6 442.4,839.1 442.4,839.6 443.8,840.1 442.4,840.6 442.4,841.1 442.4,841.6 442.4,842.1 443.2,842.6 447.1,843.1 451.0,843.6 455.0,844.1 458.9,844.6 457.5,845.1 456.0,845.6 454.6,846.1 453.2,846.6 451.8,847.1 450.3,847.6 449.1,848.1 448.8,848.6 448.5,849.1 448.2,849.6 447.9,850.1 447.6,850.6 446.2,851.1 444.1,851.6 442.4,852.1 442.4,852.6 442.4,853.1 442.4,853.6 442.4,854.1 442.4,854.6 442.4,855.1 442.4,855.6 442.4,856.1 442.4,856.6 442.4,857.1 442.4,857.6 442.4,858.1 442.4,858.6 442.4,859.1 442.4,859.6 442.4,860.1 442.4,860.6 442.4,861.1 442.4,861.6 442.4,862.1 442.4,862.6 442.8,863.1 443.5,863.6 444.0,864.1 443.4,864.6 442.9,865.1 442.4,865.6 442.4,866.1 442.4,866.6 442.7,867.1 443.9,867.6 444.3,868.1 443.2,868.6 442.4,869.1 442.4,869.6 442.4,870.1 442.4,870.6 442.4,871.1 442.4,871.6 442.4,872.1 442.4,872.6 442.4,873.1 442.4,873.6 442.4,874.1 442.4,874.6 442.4,875.1 442.4,875.6 444.7,876.1 446.4,876.6 445.0,877.1 443.5,877.6 442.4,878.1 442.4,878.6 442.4,879.1 442.4,879.6 442.4,880.1 442.4,880.6 442.6,881.1 443.5,881.6 442.9,882.1 442.4,882.6 442.4,883.1 442.4,883.6 442.4,884.1 442.4,884.6 442.4,885.1 442.4,885.6 442.4,886.1 442.4,886.6 442.4,887.1 442.4,887.6 442.4,888.1 442.4,888.6 442.4,889.1 442.4,889.6 442.4,890.1 442.4,890.6 442.4,891.1 442.4,891.6 442.4,892.1 442.4,892.6 442.4,893.1 442.4,893.6 442.4,894.1 442.4,894.6 442.4,895.1 445.5,895.6 447.7,896.1 448.9,896.6 449.5,897.1 447.8,897.6 446.1,898.1 444.4,898.6 442.7,899.1 442.4,899.6 442.4,900.1 442.4,900.6 442.4,901.1 442.4,901.6 442.4,902.1 442.4,902.6 442.4,903.1 442.4,903.6 442.4,904.1 442.4,904.6 442.4,905.1 442.4,905.6 442.4,906.1 442.4,906.6 442.4,907.1 442.4,907.6 442.4,908.1 442.4,908.6 442.4,909.1 442.4,909.6 442.4,910.1 442.4,910.6 442.4,911.1 442.4,911.6 442.4,912.1 442.4,912.4" fill="#f0b0a2"/>
<path d="M478.93 773.40 L479.98 774.30 L480.90 775.20 L481.68 776.10 L482.31 777.00 L483.90 777.90 L482.91 778.80 L481.48 779.70 L480.46 780.60 L479.96 781.50 L480.24 782.40 L481.35 783.30 L482.25 784.20 L482.13 785.10 L483.66 786.00 L483.10 786.90 L483.33 787.80 L483.28 788.70 L483.60 789.60 L481.58 790.50 L480.13 791.40 L478.86 792.30 L477.15 793.20 L477.00 794.10 L477.35 795.00 L476.92 795.90 L478.21 796.80 L478.20 797.70 L478.92 798.60 L480.86 799.50 L480.42 800.40 L480.42 801.30 L478.63 802.20 L477.65 803.10 L475.58 804.00 L473.68 804.90 L471.16 805.80 L469.42 806.70 L469.05 807.60 L466.64 808.50 L465.87 809.40 L466.27 810.30 L470.71 811.20 L472.63 812.10 L474.09 813.00 L475.68 813.90 L476.44 814.80 L477.66 815.70 L477.82 816.60 L479.17 817.50 L480.38 818.40 L480.22 819.30 L481.95 820.20 L482.49 821.10 L481.37 822.00 L480.86 822.90 L480.53 823.80 L480.04 824.70 L480.53 825.60 L479.32 826.50 L478.46 827.40 L478.16 828.30 L478.36 829.20 L478.06 830.10 L476.69 831.00 L476.69 831.90 L477.31 832.80 L478.13 833.70 L477.93 834.60 L479.17 835.50 L481.03 836.40 L483.06 837.30 L484.07 838.20 L484.60 839.10 L485.39 840.00 L486.74 840.90 L483.96 841.80 L482.04 842.70 L479.35 843.60 L476.92 844.50 L475.74 845.40 L475.65 846.30 L474.47 847.20 L472.78 848.10 L472.08 849.00 L472.82 849.90 L474.12 850.80 L475.19 851.70 L475.40 852.60 L476.75 853.50 L475.66 854.40 L474.09 855.30 L473.44 856.20 L471.84 857.10 L470.63 858.00 L471.50 858.90 L473.44 859.80 L473.50 860.70 L474.42 861.60 L476.51 862.50 L477.52 863.40 L478.17 864.30 L478.95 865.20 L476.58 866.10 L475.60 867.00 L474.37 867.90 L473.28 868.80 L471.66 869.70 L471.44 870.60 L472.32 871.50 L473.62 872.40 L474.25 873.30 L474.42 874.20 L474.56 875.10 L474.75 876.00 L476.37 876.90 L476.39 877.80 L477.29 878.70 L476.94 879.60 L477.82 880.50 L479.32 881.40 L479.89 882.30 L480.63 883.20 L480.86 884.10 L480.77 885.00 L480.77 885.90 L480.92 886.80 L479.94 887.70 L480.04 888.60 L479.45 889.50 L479.92 890.40 L478.63 891.30 L479.36 892.20 L479.66 893.10 L479.50 894.00 L481.43 894.90 L482.64 895.80 L483.44 896.70 L482.32 897.60 L481.11 898.50 L480.57 899.40 L480.60 900.30 L479.78 901.20 L477.95 902.10 L477.15 903.00 L476.40 903.90 L476.56 904.80 L477.70 905.70 L477.82 906.60 L479.38 907.50 L479.63 908.40 L479.44 909.30 L480.57 910.20 L480.68 911.10 L480.28 912.00" stroke="#5a74c8" stroke-width="1.0" fill="none" stroke-linejoin="round"/>
<line x1="484" y1="809.4" x2="491.7" y2="809.4" stroke="#231f20" stroke-width="1.3"/>
<path d="M479.2 809.4 L485 806.3 L485 812.5 Z" fill="#231f20"/>
<line x1="484" y1="853.2" x2="491.7" y2="853.2" stroke="#231f20" stroke-width="1.3"/>
<path d="M479.2 853.2 L485 850.1 L485 856.3000000000001 Z" fill="#231f20"/>
<text x="495.80" y="839.67" font-size="8.87" text-anchor="middle" font-weight="bold" font-style="normal" fill="#333" stroke="#333" stroke-width="0.22" transform="rotate(90 495.80 836.25) translate(495.80 839.67) scale(1 1.07) translate(-495.80 -839.67)">Defective boundaries</text>
<text x="404.40" y="921.52" font-size="7.85" text-anchor="middle" font-weight="normal" font-style="normal" fill="#333" stroke="#333" stroke-width="0.35" transform="translate(404.40 921.52) scale(1 1.07) translate(-404.40 -921.52)">Pmc4</text>
<text x="404.40" y="929.62" font-size="7.85" text-anchor="middle" font-weight="normal" font-style="normal" fill="#333" stroke="#333" stroke-width="0.35" transform="translate(404.40 929.62) scale(1 1.07) translate(-404.40 -929.62)">WT</text>
<text x="442.20" y="921.52" font-size="7.85" text-anchor="middle" font-weight="normal" font-style="normal" fill="#333" stroke="#333" stroke-width="0.35" transform="translate(442.20 921.52) scale(1 1.07) translate(-442.20 -921.52)">Pmc4</text>
<text x="442.20" y="929.62" font-size="7.85" text-anchor="middle" font-weight="normal" font-style="normal" fill="#333" stroke="#333" stroke-width="0.35" transform="translate(442.20 929.62) scale(1 1.07) translate(-442.20 -929.62)">depletion</text>
<text x="488.80" y="921.52" font-size="7.85" text-anchor="middle" font-weight="normal" font-style="normal" fill="#333" stroke="#333" stroke-width="0.35" transform="translate(488.80 921.52) scale(1 1.07) translate(-488.80 -921.52)">Pmc4 depletion</text>
<text x="488.80" y="929.62" font-size="7.85" text-anchor="middle" font-weight="normal" font-style="normal" fill="#333" stroke="#333" stroke-width="0.35" transform="translate(488.80 929.62) scale(1 1.07) translate(-488.80 -929.62)">– Pmc4 WT</text>
<line x1="535.1" y1="773.5" x2="535.1" y2="912.2" stroke="#444" stroke-width="1.1"/>
<line x1="534.6" y1="911.7" x2="675.5" y2="911.7" stroke="#444" stroke-width="1.1"/>
<line x1="530.6" y1="787.5" x2="535.1" y2="787.5" stroke="#444" stroke-width="1"/>
<text x="527.30" y="791.04" font-size="9.2" text-anchor="end" font-weight="bold" font-style="normal" fill="#231f20" stroke="#231f20" stroke-width="0.22" transform="translate(527.30 791.04) scale(1 1.07) translate(-527.30 -791.04)">4</text>
<line x1="530.6" y1="815" x2="535.1" y2="815" stroke="#444" stroke-width="1"/>
<text x="527.30" y="818.54" font-size="9.2" text-anchor="end" font-weight="bold" font-style="normal" fill="#231f20" stroke="#231f20" stroke-width="0.22" transform="translate(527.30 818.54) scale(1 1.07) translate(-527.30 -818.54)">2</text>
<line x1="530.6" y1="842.9" x2="535.1" y2="842.9" stroke="#444" stroke-width="1"/>
<text x="527.30" y="846.44" font-size="9.2" text-anchor="end" font-weight="bold" font-style="normal" fill="#231f20" stroke="#231f20" stroke-width="0.22" transform="translate(527.30 846.44) scale(1 1.07) translate(-527.30 -846.44)">0</text>
<line x1="530.6" y1="870.4" x2="535.1" y2="870.4" stroke="#444" stroke-width="1"/>
<text x="527.30" y="873.94" font-size="9.2" text-anchor="end" font-weight="bold" font-style="normal" fill="#231f20" stroke="#231f20" stroke-width="0.22" transform="translate(527.30 873.94) scale(1 1.07) translate(-527.30 -873.94)">−2</text>
<line x1="530.6" y1="898.2" x2="535.1" y2="898.2" stroke="#444" stroke-width="1"/>
<text x="527.30" y="901.74" font-size="9.2" text-anchor="end" font-weight="bold" font-style="normal" fill="#231f20" stroke="#231f20" stroke-width="0.22" transform="translate(527.30 901.74) scale(1 1.07) translate(-527.30 -901.74)">−4</text>
<line x1="564.3" y1="911.7" x2="564.3" y2="914.7" stroke="#444" stroke-width="1"/>
<text x="564.30" y="924.74" font-size="9.2" text-anchor="middle" font-weight="bold" font-style="normal" fill="#231f20" stroke="#231f20" stroke-width="0.22" transform="translate(564.30 924.74) scale(1 1.07) translate(-564.30 -924.74)">0.1</text>
<line x1="617.5" y1="911.7" x2="617.5" y2="914.7" stroke="#444" stroke-width="1"/>
<text x="617.50" y="924.74" font-size="9.2" text-anchor="middle" font-weight="bold" font-style="normal" fill="#231f20" stroke="#231f20" stroke-width="0.22" transform="translate(617.50 924.74) scale(1 1.07) translate(-617.50 -924.74)">10</text>
<polygon points="545.0,844.6 552.0,817.0 562.0,797.0 570.7,784.0 590.0,806.0 615.0,830.0 615.0,856.0 590.0,872.0 569.4,893.0 556.0,876.0 547.0,860.0" fill="#767778" filter="url(#spkGs)"/>
<polygon points="550.0,844.6 556.0,818.0 564.0,800.0 570.7,789.0 578.0,803.0 585.0,816.0 585.0,868.0 578.0,878.0 569.4,889.0 560.0,872.0 551.0,858.0" fill="#767778" filter="url(#spkG)"/>
<polygon points="556.0,844.6 560.0,822.0 566.0,806.0 570.5,796.0 576.0,809.0 580.0,821.0 580.0,866.0 575.0,875.0 569.5,883.0 563.0,868.0 557.0,856.0" fill="#767778"/>
<rect x="564.2" y="800.1" width="8.0" height="1.8" fill="#767778"/>
<rect x="564.2" y="803.7" width="10.5" height="1.8" fill="#767778"/>
<rect x="560.9" y="807.3" width="5.2" height="1.8" fill="#767778"/>
<rect x="559.3" y="810.9" width="6.1" height="1.8" fill="#767778"/>
<rect x="559.8" y="814.5" width="6.0" height="1.8" fill="#767778"/>
<rect x="557.6" y="818.1" width="7.7" height="1.8" fill="#767778"/>
<rect x="555.3" y="821.7" width="10.8" height="1.8" fill="#767778"/>
<rect x="555.7" y="825.3" width="13.5" height="1.8" fill="#767778"/>
<rect x="551.3" y="828.9" width="11.1" height="1.8" fill="#767778"/>
<rect x="550.2" y="832.5" width="17.9" height="1.8" fill="#767778"/>
<rect x="551.0" y="836.1" width="18.2" height="1.8" fill="#767778"/>
<rect x="549.6" y="839.7" width="18.4" height="1.8" fill="#767778"/>
<rect x="548.5" y="843.3" width="19.8" height="1.8" fill="#767778"/>
<rect x="547.2" y="846.9" width="19.7" height="1.8" fill="#767778"/>
<rect x="549.6" y="850.5" width="17.9" height="1.8" fill="#767778"/>
<rect x="551.3" y="854.1" width="13.7" height="1.8" fill="#767778"/>
<rect x="552.2" y="857.7" width="12.8" height="1.8" fill="#767778"/>
<rect x="553.5" y="861.3" width="8.8" height="1.8" fill="#767778"/>
<rect x="556.8" y="864.9" width="14.7" height="1.8" fill="#767778"/>
<rect x="558.9" y="868.5" width="12.7" height="1.8" fill="#767778"/>
<rect x="558.9" y="872.1" width="12.4" height="1.8" fill="#767778"/>
<rect x="558.9" y="875.7" width="10.8" height="1.8" fill="#767778"/>
<rect x="561.5" y="879.3" width="4.9" height="1.8" fill="#767778"/>
<rect x="562.2" y="882.9" width="7.4" height="1.8" fill="#767778"/>
<rect x="563.9" y="886.5" width="5.9" height="1.8" fill="#767778"/>
<polygon points="557.0,844.6 563.0,822.0 574.0,802.0 590.0,812.0 605.0,824.0 625.0,831.0 650.0,838.0 659.0,844.0 650.0,851.0 625.0,854.0 605.0,862.0 590.0,872.0 575.0,882.0 563.0,868.0" fill="#b91f5e" filter="url(#spkMs)"/>
<polygon points="562.0,844.6 565.0,830.0 570.0,817.0 576.0,810.0 584.0,814.0 596.0,826.0 610.0,832.5 620.0,834.5 637.0,838.8 648.0,841.5 655.6,843.5 655.6,846.0 648.0,848.0 637.0,848.6 620.0,849.0 604.0,855.0 591.2,863.0 580.0,871.0 572.0,873.0 566.0,862.0" fill="#b91f5e"/>
<ellipse cx="650" cy="844.8" rx="6.5" ry="3.2" fill="#b91f5e"/>
<rect x="561.9" y="819.1" width="10.2" height="1.8" fill="#767778" opacity="0.9"/>
<rect x="561.2" y="822.7" width="12.5" height="1.8" fill="#767778" opacity="0.9"/>
<rect x="560.5" y="826.3" width="13.7" height="1.8" fill="#767778" opacity="0.9"/>
<rect x="559.8" y="829.9" width="8.3" height="1.8" fill="#767778" opacity="0.9"/>
<rect x="559.0" y="833.5" width="12.1" height="1.8" fill="#767778" opacity="0.9"/>
<rect x="558.3" y="837.1" width="11.6" height="1.8" fill="#767778" opacity="0.9"/>
<rect x="557.6" y="840.7" width="11.3" height="1.8" fill="#767778" opacity="0.9"/>
<rect x="557.1" y="844.3" width="6.9" height="1.8" fill="#767778" opacity="0.9"/>
<rect x="557.8" y="847.9" width="6.2" height="1.8" fill="#767778" opacity="0.9"/>
<rect x="558.6" y="851.5" width="9.1" height="1.8" fill="#767778" opacity="0.9"/>
<rect x="559.3" y="855.1" width="12.0" height="1.8" fill="#767778" opacity="0.9"/>
<rect x="560.0" y="858.7" width="8.0" height="1.8" fill="#767778" opacity="0.9"/>
<rect x="560.7" y="862.3" width="10.0" height="1.8" fill="#767778" opacity="0.9"/>
<rect x="561.4" y="865.9" width="8.5" height="1.8" fill="#767778" opacity="0.9"/>
<line x1="620.7" y1="776.5" x2="620.7" y2="822.5" stroke="#555" stroke-width="0.9"/>
<line x1="620.4" y1="822.2" x2="666.7" y2="822.2" stroke="#555" stroke-width="0.9"/>
<line x1="618.6" y1="780.4" x2="620.7" y2="780.4" stroke="#555" stroke-width="0.7"/>
<line x1="618.6" y1="790" x2="620.7" y2="790" stroke="#555" stroke-width="0.7"/>
<line x1="618.6" y1="799.2" x2="620.7" y2="799.2" stroke="#555" stroke-width="0.7"/>
<line x1="618.6" y1="808.4" x2="620.7" y2="808.4" stroke="#555" stroke-width="0.7"/>
<line x1="618.6" y1="817.3" x2="620.7" y2="817.3" stroke="#555" stroke-width="0.7"/>
<line x1="637.6" y1="822.2" x2="637.6" y2="824.2" stroke="#555" stroke-width="0.7"/>
<line x1="656.2" y1="822.2" x2="656.2" y2="824.2" stroke="#555" stroke-width="0.7"/>
<polygon points="623.0,799.0 627.0,786.0 633.0,777.5 638.0,787.0 642.0,796.0 642.0,803.0 637.0,810.0 631.6,815.0 626.0,807.0" fill="#767778" filter="url(#spkGs)"/>
<polygon points="627.0,799.0 631.0,788.0 634.5,783.0 640.0,789.0 645.0,795.0 654.4,797.4 659.7,799.2 659.7,800.4 654.4,800.9 645.0,802.5 639.0,805.0 634.0,810.0 629.0,805.0" fill="#b91f5e"/>
<polygon points="624.5,799.0 628.5,787.0 633.0,780.0 636.5,788.0 636.0,806.0 632.0,812.5 627.0,806.0" fill="#767778" filter="url(#spkG)" opacity="0.85"/>
<polygon points="627.0,799.0 630.0,790.0 632.5,785.0 634.5,791.0 634.5,805.0 632.0,809.0 628.5,804.0" fill="#767778" opacity="0.8"/>
<text x="644.50" y="773.68" font-size="8.78" text-anchor="middle" font-weight="bold" font-style="normal" fill="#333" stroke="#333" stroke-width="0.22" transform="translate(644.50 773.68) scale(1 1.07) translate(-644.50 -773.68)">Bio. replicates</text>
<line x1="593.7" y1="846" x2="624.9" y2="875.7" stroke="#231f20" stroke-width="0.9"/>
<circle cx="593.7" cy="846" r="1.4" fill="#231f20"/>
<line x1="637.6" y1="799.8" x2="636.6" y2="875.7" stroke="#333" stroke-width="0.9"/>
<circle cx="637.6" cy="799.8" r="1.5" fill="#231f20"/>
<rect x="548.3" y="893.50" width="7.4" height="7" fill="#b91f5e"/>
<rect x="548.3" y="903.40" width="7.4" height="7" fill="#8e9093"/>
<text x="559.30" y="900.53" font-size="8.9" text-anchor="start" font-weight="bold" font-style="normal" fill="#231f20" stroke="#231f20" stroke-width="0.22" transform="translate(559.30 900.53) scale(1 1.07) translate(-559.30 -900.53)">Score in condensin domains</text>
<text x="559.30" y="910.43" font-size="8.9" text-anchor="start" font-weight="bold" font-style="normal" fill="#231f20" stroke="#231f20" stroke-width="0.22" transform="translate(559.30 910.43) scale(1 1.07) translate(-559.30 -910.43)">Score outside domains</text>
<text x="608.70" y="745.53" font-size="11.77" text-anchor="middle" font-weight="bold" font-style="normal" fill="#333" stroke="#333" stroke-width="0.22" transform="translate(608.70 745.53) scale(1 1.07) translate(-608.70 -745.53)">Pmc4 depletion / Pmc4 WT</text>
<text x="512.20" y="846.37" font-size="9" text-anchor="middle" font-weight="bold" font-style="normal" fill="#231f20" transform="rotate(-90 512.20 842.90) translate(512.20 846.37) scale(1 1.07) translate(-512.20 -846.37)">Log<tspan font-size="5.5" dy="2.5">2</tspan><tspan dy="-2.5"> ratio</tspan></text>
<text x="640.25" y="887.63" font-size="8.9" text-anchor="middle" font-weight="bold" font-style="normal" fill="#231f20" stroke="#231f20" stroke-width="0.22" transform="translate(640.25 887.63) scale(1 1.07) translate(-640.25 -887.63)"><tspan font-style="italic">P</tspan> = 3.73 x 10<tspan font-size="5.8" dy="-3.5">-4</tspan></text>
<text x="597.20" y="935.43" font-size="8.9" text-anchor="middle" font-weight="bold" font-style="normal" fill="#231f20" stroke="#231f20" stroke-width="0.22" transform="translate(597.20 935.43) scale(1 1.07) translate(-597.20 -935.43)">Average score</text>
</svg>
</body></html>
